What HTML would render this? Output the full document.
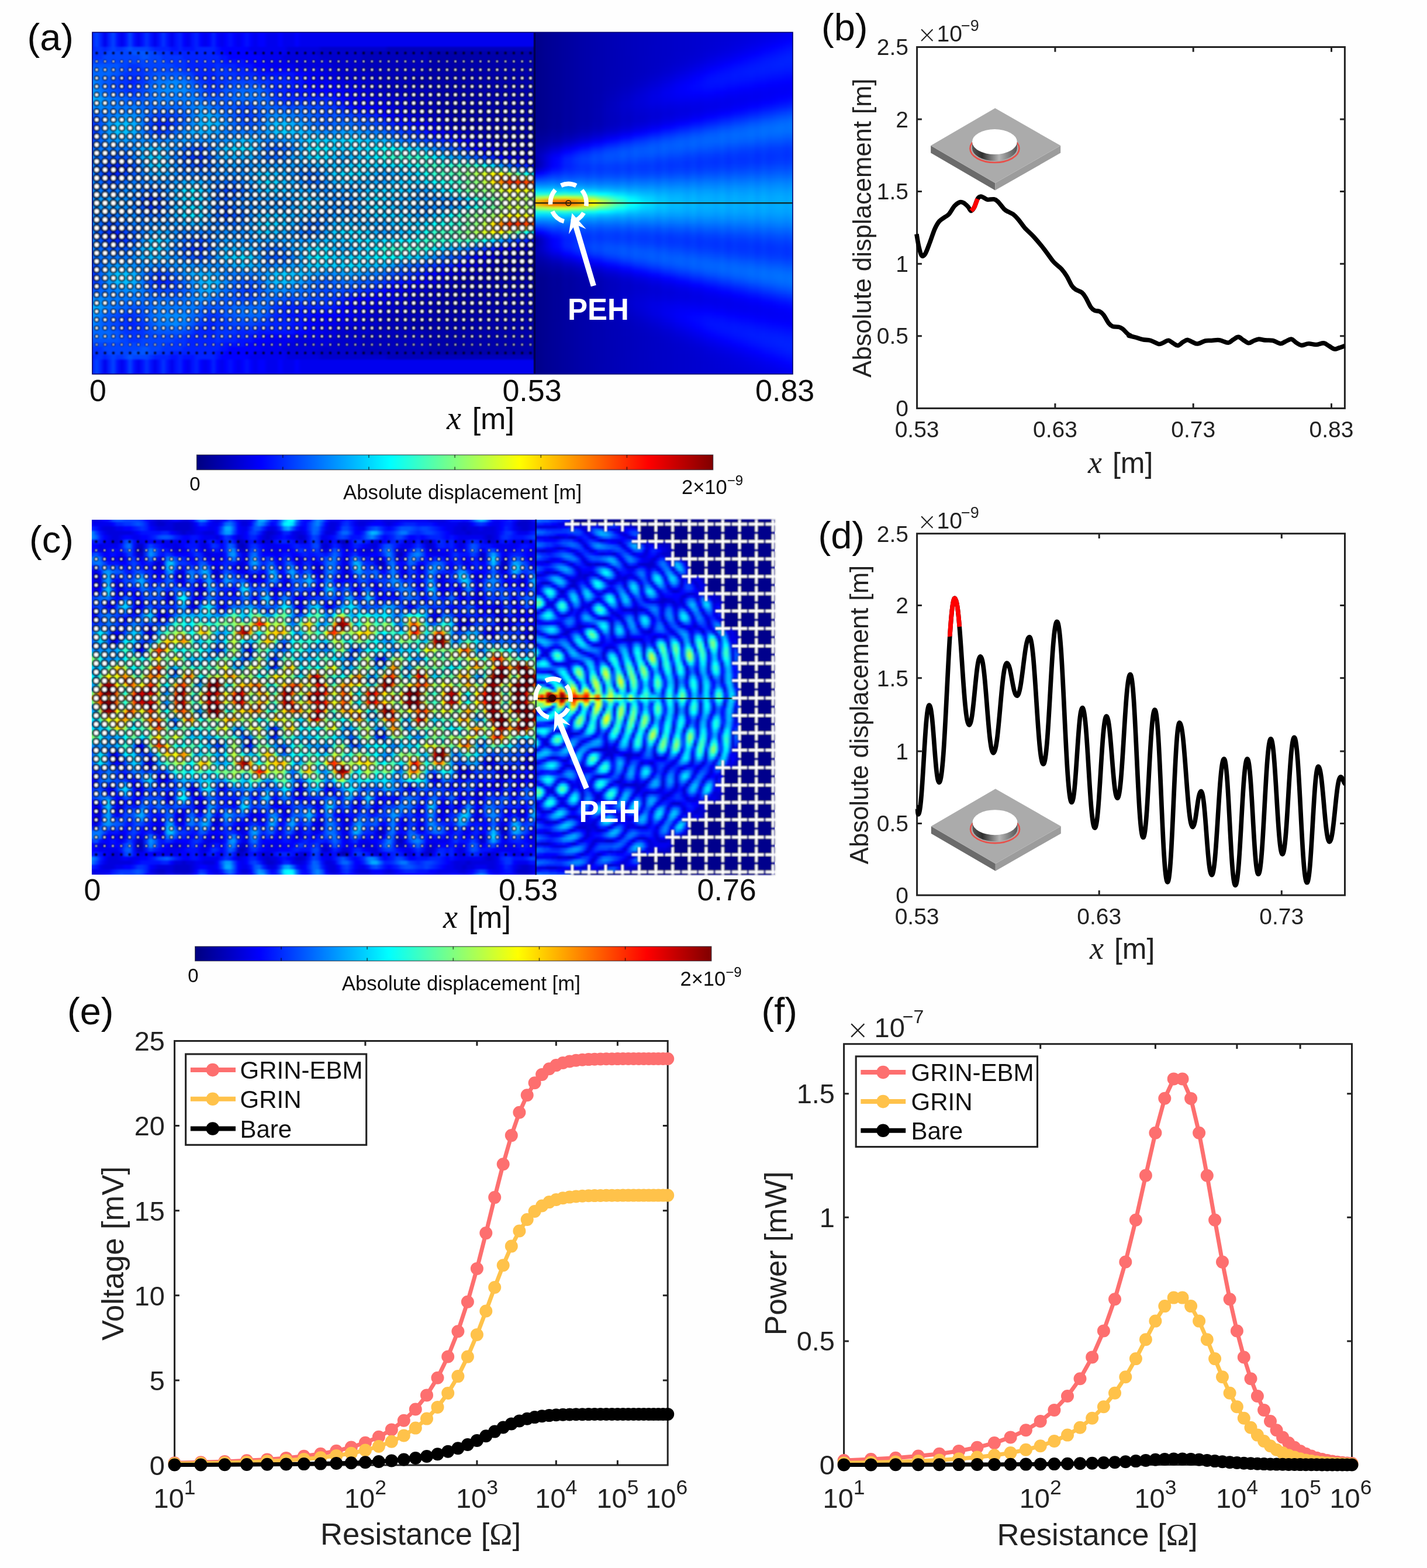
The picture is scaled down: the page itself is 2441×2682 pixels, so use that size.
<!DOCTYPE html><html><head><meta charset="utf-8"><title>Figure</title><style>
html,body{margin:0;padding:0;background:#fff}
#pg{position:relative;width:2441px;height:2682px;overflow:hidden;background:#fefefe}
.hm{position:absolute;overflow:hidden}
.hm b{position:absolute;display:block}.hm i{display:block}
svg{position:absolute;left:0;top:0}
#hal{left:158.00px;top:55.30px;width:756.40px;height:584.50px}#hal b{left:-14.00px;top:-10.81px;width:784.85px;height:607.62px;filter:blur(1.6px)}#hal i{height:7.125px}
#har{left:914.40px;top:55.30px;width:441.60px;height:584.50px}#har b{left:-8.00px;top:-8.00px;width:460.00px;height:608.00px;filter:blur(2.0px)}#har i{height:6.000px}
#hcl{left:156.50px;top:888.60px;width:760.20px;height:607.80px}#hcl b{left:-13.45px;top:-10.43px;width:786.50px;height:633.98px;filter:blur(1.4px)}#hcl i{height:7.435px}
#hcr{left:916.70px;top:888.60px;width:407.90px;height:607.80px}#hcr b{left:-8.00px;top:-8.00px;width:427.80px;height:627.60px;filter:blur(1.6px)}#hcr i{height:4.600px}
</style></head><body><div id="pg">
<div class="hm" id="hal"><b><i style="background:linear-gradient(90deg,#02f,#02f,#02f,#04f,#02f,#00e,#02f,#04f,#01f,#00e,#01f,#04f,#01f,#00e,#01f,#03f,#01f,#00e,#01f,#03f,#01f,#00e,#01f,#02f,#00f,#00e,#01f,#02f,#00f,#00e,#00f,#02f,#00f,#00e,#00f,#01f,#00f,#00e,#00f,#01f,#00f,#00e,#00f,#00f,#00e,#00e,#00e,#00f,#00e,#00e,#00e,#00f,#00e,#00e,#00e,#00e,#00e,#00e,#00e,#00e,#00e,#00e,#00e,#00e,#00e,#00e,#00e,#00e,#00e,#00e,#00e,#00e,#00e,#00e,#00e,#00e,#00e,#00e,#00e,#00e,#00e,#00e,#00e,#00e,#00e,#00e,#00e,#00e,#00e,#00e,#00e,#00e,#00e,#00e,#00e,#00e,#00e,#00e,#00e,#00e,#00e,#00e,#00e,#00e,#00e,#00e,#00e,#00e,#00e,#00e,#00e)"></i><i style="background:linear-gradient(90deg,#02f,#02f,#02f,#04f,#02f,#00e,#02f,#04f,#01f,#00e,#01f,#04f,#01f,#00e,#01f,#03f,#01f,#00e,#01f,#03f,#01f,#00e,#01f,#02f,#00f,#00e,#01f,#02f,#00f,#00e,#00f,#02f,#00f,#00e,#00f,#01f,#00f,#00e,#00f,#01f,#00f,#00e,#00f,#00f,#00e,#00e,#00e,#00f,#00e,#00e,#00e,#00f,#00e,#00e,#00e,#00e,#00e,#00e,#00e,#00e,#00e,#00e,#00e,#00e,#00e,#00e,#00e,#00e,#00e,#00e,#00e,#00e,#00e,#00e,#00e,#00e,#00e,#00e,#00e,#00e,#00e,#00e,#00e,#00e,#00e,#00e,#00e,#00e,#00e,#00e,#00e,#00e,#00e,#00e,#00e,#00e,#00e,#00e,#00e,#00e,#00e,#00e,#00e,#00e,#00e,#00e,#00e,#00e,#00e,#00e,#00e)"></i><i style="background:linear-gradient(90deg,#02f,#02f,#02f,#04f,#02f,#00e,#02f,#04f,#01f,#00e,#01f,#04f,#01f,#00e,#01f,#03f,#01f,#00e,#01f,#03f,#01f,#00e,#01f,#02f,#00f,#00e,#01f,#02f,#00f,#00e,#00f,#02f,#00f,#00e,#00f,#01f,#00f,#00e,#00f,#01f,#00f,#00e,#00f,#00f,#00e,#00e,#00e,#00f,#00e,#00e,#00e,#00f,#00e,#00e,#00e,#00e,#00e,#00e,#00e,#00e,#00e,#00e,#00e,#00e,#00e,#00e,#00e,#00e,#00e,#00e,#00e,#00e,#00e,#00e,#00e,#00e,#00e,#00e,#00e,#00e,#00e,#00e,#00e,#00e,#00e,#00e,#00e,#00e,#00e,#00e,#00e,#00e,#00e,#00e,#00e,#00e,#00e,#00e,#00e,#00e,#00e,#00e,#00e,#00e,#00e,#00e,#00e,#00e,#00e,#00e,#00e)"></i><i style="background:linear-gradient(90deg,#02f,#02f,#02f,#04f,#02f,#00e,#02f,#04f,#01f,#00e,#01f,#04f,#01f,#00e,#01f,#03f,#01f,#00e,#01f,#03f,#01f,#00e,#01f,#02f,#00f,#00e,#01f,#02f,#00f,#00e,#00f,#02f,#00f,#00e,#00f,#01f,#00f,#00e,#00f,#01f,#00f,#00e,#00f,#00f,#00e,#00e,#00e,#00f,#00e,#00e,#00e,#00f,#00e,#00e,#00e,#00e,#00e,#00e,#00e,#00e,#00e,#00e,#00e,#00e,#00e,#00e,#00e,#00e,#00e,#00e,#00e,#00e,#00e,#00e,#00e,#00e,#00e,#00e,#00e,#00e,#00e,#00e,#00e,#00e,#00e,#00e,#00e,#00e,#00e,#00e,#00e,#00e,#00e,#00e,#00e,#00e,#00e,#00e,#00e,#00e,#00e,#00e,#00e,#00e,#00e,#00e,#00e,#00e,#00e,#00e,#00e)"></i><i style="background:linear-gradient(90deg,#02f,#02f,#02f,#04f,#02f,#00e,#02f,#04f,#01f,#00e,#01f,#04f,#01f,#00e,#01f,#03f,#01f,#00e,#01f,#03f,#01f,#00e,#01f,#02f,#00f,#00e,#01f,#02f,#00f,#00e,#00f,#02f,#00f,#00e,#00f,#01f,#00f,#00e,#00f,#01f,#00f,#00e,#00f,#00f,#00e,#00e,#00e,#00f,#00e,#00e,#00e,#00f,#00e,#00e,#00e,#00e,#00e,#00e,#00e,#00e,#00e,#00e,#00e,#00e,#00e,#00e,#00e,#00e,#00e,#00e,#00e,#00e,#00e,#00e,#00e,#00e,#00e,#00e,#00e,#00e,#00e,#00e,#00e,#00e,#00e,#00e,#00e,#00e,#00e,#00e,#00e,#00e,#00e,#00e,#00e,#00e,#00e,#00e,#00e,#00e,#00e,#00e,#00e,#00e,#00e,#00e,#00e,#00e,#00e,#00e,#00e)"></i><i style="background:linear-gradient(90deg,#02f,#02f,#02f,#03f,#03f,#02f,#03f,#04f,#03f,#03f,#04f,#05f,#04f,#04f,#04f,#04f,#03f,#02f,#02f,#02f,#02f,#01f,#01f,#02f,#01f,#01f,#01f,#02f,#02f,#02f,#02f,#02f,#01f,#00f,#00f,#00f,#00f,#00f,#00f,#00f,#00e,#00e,#00e,#00e,#00e,#00e,#00e,#00e,#00e,#00d,#00d,#00d,#00d,#00d,#00d,#00d,#00d,#00c,#00c,#00c,#00c,#00c,#00c,#00c,#00c,#00c,#00c,#00c,#00c,#00c,#00c,#00c,#00c,#00b,#00b,#00b,#00b,#00b,#00b,#00b,#00b,#00b,#00b,#00b,#00b,#00b,#00b,#00b,#00b,#00b,#00b,#00b,#00b,#00b,#00b,#00b,#00b,#00b,#00b,#00b,#00b,#00b,#00b,#00b,#00b,#00b,#00b,#00b,#00a,#00a,#00a)"></i><i style="background:linear-gradient(90deg,#03f,#03f,#03f,#03f,#03f,#03f,#04f,#04f,#04f,#04f,#04f,#04f,#05f,#05f,#05f,#05f,#04f,#04f,#03f,#03f,#03f,#02f,#02f,#02f,#02f,#02f,#02f,#02f,#02f,#02f,#02f,#02f,#01f,#01f,#00f,#00f,#00f,#00f,#00f,#00f,#00f,#00e,#00e,#00e,#00e,#00e,#00e,#00e,#00e,#00d,#00d,#00d,#00d,#00d,#00d,#00d,#00c,#00c,#00c,#00c,#00c,#00c,#00c,#00c,#00c,#00c,#00c,#00b,#00b,#00b,#00b,#00b,#00b,#00b,#00b,#00b,#00b,#00b,#00b,#00b,#00b,#00b,#00b,#00a,#00a,#00a,#00a,#00a,#00a,#00a,#00a,#00a,#00a,#00a,#00a,#00a,#00a,#00a,#00a,#00a,#00a,#00a,#00a,#00a,#00a,#00a,#00a,#00a,#00a,#00a,#00a)"></i><i style="background:linear-gradient(90deg,#03f,#03f,#03f,#03f,#03f,#04f,#04f,#04f,#04f,#04f,#04f,#04f,#04f,#04f,#05f,#05f,#04f,#04f,#04f,#03f,#03f,#03f,#03f,#03f,#02f,#02f,#02f,#02f,#02f,#02f,#02f,#02f,#02f,#01f,#01f,#00f,#00f,#00f,#00f,#00f,#00f,#00f,#00f,#00e,#00e,#00e,#00e,#00e,#00d,#00d,#00d,#00d,#00d,#00d,#00d,#00d,#00d,#00c,#00c,#00c,#00c,#00c,#00c,#00c,#00c,#00c,#00c,#00b,#00b,#00b,#00b,#00b,#00b,#00b,#00b,#00b,#00b,#00b,#00b,#00b,#00b,#00b,#00b,#00a,#00a,#00a,#00a,#00a,#00a,#00a,#00a,#00a,#00a,#00a,#00a,#00a,#00a,#00a,#00a,#00a,#00a,#00a,#00a,#00a,#00a,#00a,#00a,#00a,#00a,#00a,#00a)"></i><i style="background:linear-gradient(90deg,#04f,#04f,#04f,#04f,#04f,#04f,#04f,#04f,#04f,#04f,#04f,#04f,#04f,#04f,#04f,#04f,#04f,#04f,#04f,#04f,#03f,#03f,#03f,#03f,#03f,#02f,#02f,#02f,#02f,#02f,#02f,#02f,#02f,#02f,#01f,#01f,#01f,#01f,#01f,#00f,#00f,#00f,#00f,#00e,#00e,#00e,#00e,#00e,#00e,#00d,#00d,#00d,#00d,#00d,#00d,#00d,#00d,#00d,#00d,#00c,#00c,#00c,#00c,#00c,#00c,#00c,#00c,#00b,#00b,#00b,#00b,#00b,#00b,#00b,#00b,#00b,#00b,#00b,#00b,#00b,#00b,#00b,#00b,#00a,#00a,#00a,#00a,#00a,#00a,#00a,#00a,#00a,#00a,#00a,#00a,#00a,#00a,#00a,#00a,#00a,#00a,#00a,#00a,#00a,#00a,#00a,#00a,#00a,#00a,#00a,#00a)"></i><i style="background:linear-gradient(90deg,#05f,#05f,#05f,#05f,#05f,#05f,#05f,#05f,#05f,#04f,#04f,#03f,#03f,#03f,#04f,#04f,#04f,#04f,#04f,#04f,#04f,#04f,#03f,#03f,#03f,#02f,#02f,#02f,#02f,#02f,#02f,#02f,#03f,#02f,#02f,#02f,#02f,#01f,#01f,#01f,#01f,#00f,#00f,#00f,#00f,#00e,#00e,#00e,#00e,#00e,#00e,#00d,#00d,#00d,#00d,#00d,#00d,#00d,#00d,#00d,#00c,#00c,#00c,#00c,#00c,#00c,#00c,#00b,#00b,#00b,#00b,#00b,#00b,#00b,#00b,#00b,#00b,#00b,#00b,#00b,#00b,#00b,#00b,#00a,#00a,#00a,#00a,#00a,#00a,#00a,#00a,#00a,#00a,#00a,#00a,#00a,#00a,#00a,#00a,#00a,#00a,#00a,#00a,#00a,#00a,#00a,#00a,#00a,#00a,#00a,#00a)"></i><i style="background:linear-gradient(90deg,#06f,#06f,#06f,#06f,#06f,#06f,#06f,#05f,#05f,#04f,#04f,#03f,#03f,#03f,#03f,#04f,#04f,#04f,#04f,#04f,#04f,#04f,#04f,#04f,#03f,#03f,#02f,#02f,#02f,#02f,#02f,#02f,#03f,#03f,#03f,#02f,#02f,#02f,#02f,#02f,#01f,#01f,#01f,#00f,#00f,#00f,#00f,#00f,#00f,#00f,#00e,#00e,#00e,#00e,#00e,#00e,#00e,#00d,#00d,#00d,#00d,#00c,#00c,#00c,#00c,#00c,#00c,#00b,#00b,#00b,#00b,#00b,#00b,#00b,#00b,#00b,#00b,#00b,#00b,#00b,#00b,#00b,#00a,#00a,#00a,#00a,#00a,#00a,#00a,#00a,#00a,#00a,#00a,#00a,#00a,#00a,#00a,#00a,#00a,#00a,#00a,#00a,#00a,#00a,#00a,#00a,#00a,#00a,#00a,#00a,#00a)"></i><i style="background:linear-gradient(90deg,#06f,#06f,#06f,#06f,#06f,#06f,#06f,#05f,#05f,#04f,#03f,#03f,#03f,#03f,#03f,#04f,#04f,#05f,#05f,#05f,#05f,#05f,#05f,#05f,#04f,#04f,#03f,#02f,#02f,#02f,#02f,#02f,#03f,#03f,#03f,#03f,#03f,#02f,#02f,#02f,#02f,#02f,#01f,#01f,#01f,#01f,#01f,#01f,#01f,#01f,#01f,#00f,#00f,#00f,#00e,#00e,#00e,#00e,#00d,#00d,#00d,#00c,#00c,#00c,#00c,#00c,#00c,#00c,#00c,#00b,#00b,#00b,#00b,#00b,#00b,#00b,#00b,#00b,#00b,#00b,#00b,#00b,#00a,#00a,#00a,#00a,#00a,#00a,#00a,#00a,#00a,#00a,#00a,#00a,#00a,#00a,#00a,#00a,#00a,#00a,#00a,#00a,#00a,#00a,#00a,#00a,#00a,#00a,#00a,#00a,#00a)"></i><i style="background:linear-gradient(90deg,#07f,#07f,#07f,#07f,#06f,#06f,#05f,#05f,#04f,#03f,#03f,#03f,#02f,#03f,#03f,#04f,#05f,#05f,#06f,#06f,#06f,#06f,#06f,#06f,#06f,#05f,#04f,#03f,#02f,#02f,#02f,#02f,#03f,#03f,#03f,#03f,#03f,#03f,#03f,#03f,#03f,#03f,#02f,#02f,#02f,#02f,#02f,#02f,#02f,#01f,#01f,#01f,#01f,#00f,#00f,#00e,#00e,#00e,#00e,#00d,#00d,#00d,#00d,#00c,#00c,#00c,#00c,#00c,#00c,#00c,#00b,#00b,#00b,#00b,#00b,#00b,#00b,#00b,#00b,#00a,#00a,#00a,#00a,#00a,#00a,#00a,#00a,#00a,#00a,#00a,#00a,#00a,#00a,#00a,#00a,#00a,#00a,#00a,#00a,#00a,#00a,#00a,#00a,#00a,#00a,#00a,#00a,#00a,#00a,#00a,#00a)"></i><i style="background:linear-gradient(90deg,#08f,#08f,#08f,#07f,#06f,#05f,#05f,#04f,#04f,#03f,#03f,#02f,#02f,#03f,#03f,#04f,#05f,#06f,#07f,#07f,#07f,#08f,#08f,#07f,#07f,#06f,#05f,#04f,#03f,#03f,#02f,#02f,#03f,#03f,#03f,#04f,#04f,#04f,#04f,#04f,#04f,#04f,#03f,#03f,#03f,#02f,#02f,#02f,#02f,#02f,#01f,#01f,#01f,#00f,#00f,#00f,#00e,#00e,#00e,#00e,#00e,#00d,#00d,#00d,#00d,#00d,#00d,#00c,#00c,#00c,#00c,#00b,#00b,#00b,#00b,#00b,#00b,#00b,#00b,#00a,#00a,#00a,#00a,#00a,#00a,#00a,#00a,#00a,#00a,#00a,#00a,#00a,#00a,#00a,#00a,#00a,#00a,#00a,#00a,#00a,#00a,#00a,#00a,#00a,#00a,#00a,#00a,#00a,#00a,#00a,#00a)"></i><i style="background:linear-gradient(90deg,#08f,#08f,#08f,#08f,#06f,#06f,#05f,#04f,#04f,#03f,#03f,#03f,#03f,#03f,#04f,#05f,#06f,#07f,#07f,#08f,#08f,#08f,#08f,#08f,#08f,#07f,#06f,#05f,#04f,#03f,#03f,#03f,#03f,#03f,#04f,#04f,#05f,#05f,#05f,#05f,#05f,#05f,#05f,#04f,#03f,#03f,#02f,#02f,#02f,#02f,#02f,#01f,#01f,#01f,#00f,#00f,#00f,#00f,#00f,#00f,#00e,#00e,#00e,#00e,#00d,#00d,#00d,#00d,#00c,#00c,#00c,#00b,#00b,#00b,#00b,#00b,#00b,#00b,#00b,#00b,#00b,#00a,#00a,#00a,#00a,#00a,#00a,#00a,#00a,#00a,#00a,#00a,#00a,#00a,#00a,#00a,#00a,#00a,#00a,#00a,#00a,#00a,#00a,#00a,#00a,#00a,#00a,#00a,#00a,#00a,#00a)"></i><i style="background:linear-gradient(90deg,#09f,#09f,#09f,#08f,#07f,#06f,#05f,#05f,#04f,#04f,#03f,#03f,#03f,#04f,#04f,#05f,#06f,#07f,#07f,#08f,#08f,#08f,#08f,#08f,#08f,#07f,#06f,#06f,#05f,#04f,#03f,#03f,#03f,#04f,#05f,#05f,#05f,#06f,#06f,#06f,#06f,#06f,#06f,#05f,#04f,#03f,#02f,#02f,#02f,#01f,#01f,#01f,#01f,#01f,#01f,#00f,#00f,#00f,#00f,#00f,#00f,#00f,#00e,#00e,#00e,#00e,#00d,#00d,#00d,#00c,#00c,#00c,#00b,#00b,#00b,#00b,#00b,#00b,#00b,#00b,#00b,#00b,#00b,#00b,#00a,#00a,#00a,#00a,#00a,#00a,#00a,#00a,#00a,#00a,#00a,#00a,#00a,#00a,#00a,#00a,#00a,#00a,#00a,#00a,#00a,#00a,#00a,#00a,#00a,#00a,#00a)"></i><i style="background:linear-gradient(90deg,#0af,#0af,#0af,#09f,#08f,#07f,#06f,#06f,#05f,#05f,#05f,#04f,#04f,#04f,#05f,#05f,#06f,#07f,#07f,#07f,#07f,#07f,#07f,#07f,#07f,#07f,#07f,#06f,#05f,#05f,#04f,#04f,#04f,#04f,#05f,#06f,#06f,#06f,#07f,#07f,#07f,#07f,#06f,#06f,#05f,#04f,#03f,#02f,#02f,#02f,#02f,#02f,#01f,#01f,#01f,#01f,#01f,#01f,#01f,#01f,#01f,#00f,#00f,#00f,#00e,#00e,#00e,#00d,#00d,#00d,#00c,#00c,#00c,#00c,#00c,#00c,#00c,#00b,#00b,#00b,#00b,#00b,#00b,#00b,#00a,#00a,#00a,#00a,#00a,#00a,#00a,#00a,#00a,#00a,#00a,#00a,#00a,#00a,#00a,#00a,#00a,#00a,#00a,#00a,#00a,#00a,#00a,#00a,#00a,#00a,#00a)"></i><i style="background:linear-gradient(90deg,#0af,#0af,#0af,#0af,#09f,#08f,#07f,#07f,#06f,#06f,#06f,#05f,#05f,#05f,#05f,#06f,#06f,#07f,#07f,#07f,#07f,#07f,#07f,#07f,#07f,#07f,#07f,#07f,#06f,#05f,#05f,#05f,#05f,#05f,#05f,#05f,#06f,#06f,#06f,#06f,#06f,#06f,#06f,#06f,#05f,#04f,#03f,#03f,#02f,#02f,#02f,#02f,#02f,#02f,#02f,#02f,#02f,#02f,#02f,#02f,#01f,#01f,#00f,#00f,#00e,#00e,#00e,#00e,#00e,#00d,#00d,#00d,#00c,#00c,#00c,#00c,#00c,#00c,#00c,#00b,#00b,#00b,#00b,#00b,#00a,#00a,#00a,#00a,#00a,#00a,#00a,#00a,#00a,#00a,#00a,#00a,#00a,#00a,#00a,#00a,#00a,#00a,#00a,#00a,#00a,#00a,#00a,#00a,#00a,#00a,#00a)"></i><i style="background:linear-gradient(90deg,#09f,#09f,#09f,#09f,#09f,#08f,#07f,#07f,#07f,#06f,#06f,#06f,#06f,#06f,#06f,#06f,#06f,#07f,#07f,#07f,#07f,#07f,#06f,#06f,#07f,#07f,#07f,#07f,#07f,#06f,#06f,#05f,#05f,#05f,#05f,#05f,#05f,#05f,#05f,#05f,#05f,#06f,#06f,#06f,#06f,#05f,#04f,#04f,#03f,#03f,#03f,#03f,#03f,#03f,#03f,#03f,#03f,#03f,#03f,#03f,#02f,#02f,#01f,#00f,#00f,#00f,#00e,#00e,#00e,#00e,#00e,#00d,#00d,#00d,#00d,#00c,#00c,#00c,#00c,#00b,#00b,#00b,#00b,#00b,#00a,#00a,#00a,#00a,#00a,#00a,#00a,#00a,#00a,#00a,#00a,#00a,#00a,#00a,#00a,#00a,#00a,#00a,#00a,#00a,#00a,#00a,#00a,#00a,#00a,#00a,#00a)"></i><i style="background:linear-gradient(90deg,#08f,#08f,#08f,#08f,#08f,#08f,#07f,#07f,#07f,#07f,#07f,#07f,#07f,#07f,#06f,#06f,#06f,#06f,#06f,#06f,#06f,#06f,#06f,#06f,#06f,#07f,#07f,#08f,#08f,#08f,#07f,#06f,#06f,#05f,#05f,#05f,#05f,#04f,#04f,#04f,#04f,#05f,#05f,#06f,#06f,#06f,#05f,#05f,#05f,#04f,#04f,#05f,#05f,#05f,#04f,#04f,#04f,#04f,#03f,#03f,#03f,#02f,#02f,#01f,#01f,#00f,#00f,#00f,#00f,#00f,#00e,#00e,#00e,#00d,#00d,#00d,#00d,#00c,#00c,#00c,#00b,#00b,#00b,#00b,#00b,#00a,#00a,#00a,#00a,#00a,#00a,#00a,#00a,#00a,#00a,#00a,#00a,#00a,#00a,#00a,#00a,#00a,#00a,#00a,#00a,#00a,#00a,#00a,#00a,#00a,#00a)"></i><i style="background:linear-gradient(90deg,#07f,#07f,#07f,#07f,#07f,#07f,#07f,#07f,#07f,#07f,#07f,#07f,#07f,#07f,#07f,#06f,#06f,#05f,#05f,#05f,#05f,#05f,#05f,#05f,#06f,#07f,#07f,#08f,#09f,#09f,#08f,#08f,#07f,#06f,#06f,#05f,#05f,#04f,#04f,#04f,#04f,#04f,#05f,#06f,#06f,#07f,#07f,#06f,#06f,#06f,#06f,#06f,#06f,#05f,#05f,#05f,#04f,#04f,#04f,#04f,#04f,#04f,#03f,#03f,#02f,#02f,#01f,#01f,#01f,#01f,#00f,#00f,#00e,#00e,#00e,#00d,#00d,#00d,#00c,#00c,#00c,#00b,#00b,#00b,#00b,#00b,#00b,#00a,#00a,#00a,#00a,#00a,#00a,#00a,#00a,#00a,#00a,#00a,#00a,#00a,#00a,#00a,#00a,#00a,#00a,#00a,#00a,#00a,#00a,#00a,#00a)"></i><i style="background:linear-gradient(90deg,#05f,#05f,#05f,#05f,#06f,#06f,#07f,#07f,#08f,#08f,#08f,#09f,#08f,#08f,#07f,#06f,#05f,#04f,#04f,#04f,#04f,#04f,#04f,#05f,#05f,#06f,#07f,#08f,#09f,#0af,#0af,#09f,#08f,#07f,#06f,#06f,#05f,#04f,#04f,#03f,#04f,#04f,#05f,#06f,#07f,#08f,#08f,#08f,#08f,#07f,#07f,#07f,#06f,#06f,#06f,#05f,#05f,#04f,#04f,#04f,#05f,#05f,#04f,#04f,#04f,#03f,#03f,#03f,#02f,#02f,#02f,#01f,#00f,#00f,#00e,#00e,#00e,#00d,#00d,#00d,#00c,#00c,#00c,#00b,#00b,#00b,#00b,#00b,#00a,#00a,#00a,#00a,#00a,#00a,#00a,#00a,#00a,#00a,#00a,#00a,#00a,#00a,#00a,#00a,#00a,#00a,#00a,#00a,#00a,#00a,#00a)"></i><i style="background:linear-gradient(90deg,#04f,#04f,#04f,#04f,#05f,#07f,#08f,#08f,#09f,#0af,#0af,#0af,#09f,#08f,#07f,#05f,#04f,#03f,#03f,#03f,#03f,#03f,#04f,#04f,#05f,#07f,#08f,#09f,#0af,#0bf,#0bf,#0af,#09f,#08f,#07f,#06f,#05f,#05f,#04f,#04f,#04f,#04f,#05f,#06f,#08f,#09f,#09f,#0af,#09f,#09f,#08f,#08f,#07f,#07f,#06f,#06f,#05f,#05f,#05f,#05f,#05f,#05f,#05f,#05f,#05f,#05f,#04f,#04f,#04f,#03f,#03f,#02f,#02f,#01f,#00f,#00f,#00f,#00e,#00e,#00e,#00d,#00d,#00d,#00c,#00c,#00c,#00b,#00b,#00b,#00a,#00a,#00a,#00a,#00a,#00a,#00a,#00a,#00a,#00a,#00a,#00a,#00a,#00a,#00a,#00a,#00a,#00a,#00a,#00a,#00a,#00a)"></i><i style="background:linear-gradient(90deg,#03f,#03f,#03f,#04f,#05f,#07f,#09f,#0af,#0bf,#0bf,#0bf,#0bf,#0af,#09f,#07f,#05f,#04f,#03f,#02f,#02f,#02f,#03f,#04f,#05f,#06f,#07f,#08f,#09f,#0af,#0bf,#0bf,#0bf,#0af,#09f,#08f,#07f,#06f,#05f,#05f,#04f,#05f,#05f,#06f,#07f,#09f,#0af,#0bf,#0bf,#0bf,#0bf,#0af,#09f,#09f,#08f,#07f,#06f,#06f,#05f,#05f,#05f,#06f,#06f,#06f,#07f,#06f,#06f,#05f,#05f,#05f,#05f,#04f,#04f,#03f,#02f,#02f,#01f,#01f,#01f,#01f,#00f,#00f,#00e,#00e,#00d,#00d,#00c,#00c,#00b,#00b,#00b,#00a,#00a,#00a,#00a,#00a,#00a,#00a,#00a,#00a,#00a,#00a,#00a,#00a,#00a,#00a,#00a,#00a,#00a,#00a,#00a,#00a)"></i><i style="background:linear-gradient(90deg,#02f,#02f,#02f,#04f,#06f,#08f,#09f,#0bf,#0cf,#0cf,#0cf,#0cf,#0bf,#09f,#07f,#05f,#04f,#03f,#02f,#02f,#03f,#04f,#05f,#06f,#07f,#08f,#09f,#0af,#0bf,#0bf,#0bf,#0af,#09f,#08f,#07f,#07f,#06f,#06f,#06f,#06f,#06f,#06f,#07f,#08f,#09f,#0bf,#0cf,#0cf,#0cf,#0cf,#0bf,#0af,#0af,#09f,#08f,#08f,#07f,#06f,#06f,#06f,#07f,#07f,#08f,#08f,#08f,#07f,#07f,#06f,#06f,#06f,#06f,#05f,#04f,#04f,#03f,#03f,#02f,#02f,#02f,#02f,#01f,#00f,#00f,#00e,#00e,#00d,#00d,#00c,#00c,#00b,#00b,#00b,#00a,#00a,#00a,#00a,#00a,#00a,#00a,#00a,#00a,#00a,#00a,#00a,#00a,#00a,#00a,#00a,#00a,#00a,#00a)"></i><i style="background:linear-gradient(90deg,#03f,#03f,#03f,#04f,#06f,#08f,#09f,#0bf,#0bf,#0cf,#0bf,#0bf,#0af,#09f,#07f,#06f,#05f,#04f,#03f,#04f,#04f,#05f,#06f,#07f,#08f,#09f,#0af,#0af,#0af,#0af,#0af,#09f,#09f,#08f,#07f,#07f,#07f,#07f,#07f,#07f,#07f,#07f,#08f,#08f,#09f,#0af,#0bf,#0cf,#0cf,#0cf,#0bf,#0bf,#0bf,#0af,#0af,#09f,#09f,#08f,#08f,#08f,#08f,#09f,#09f,#0af,#09f,#09f,#09f,#08f,#08f,#07f,#07f,#07f,#06f,#05f,#05f,#04f,#04f,#03f,#03f,#03f,#02f,#02f,#01f,#00f,#00f,#00e,#00e,#00e,#00d,#00d,#00c,#00c,#00b,#00b,#00b,#00b,#00a,#00a,#00a,#00a,#00a,#00a,#00a,#00a,#00a,#00a,#00a,#00a,#00a,#00a,#00a)"></i><i style="background:linear-gradient(90deg,#03f,#03f,#03f,#04f,#06f,#08f,#09f,#0af,#0af,#0af,#0af,#0af,#09f,#09f,#08f,#07f,#06f,#05f,#05f,#05f,#06f,#07f,#08f,#08f,#09f,#09f,#09f,#09f,#09f,#09f,#09f,#09f,#08f,#08f,#08f,#08f,#08f,#08f,#09f,#09f,#09f,#08f,#08f,#08f,#09f,#09f,#0af,#0af,#0af,#0bf,#0af,#0af,#0bf,#0bf,#0bf,#0bf,#0bf,#0af,#0af,#0af,#0af,#0af,#0bf,#0bf,#0bf,#0bf,#0bf,#0af,#09f,#09f,#09f,#09f,#08f,#07f,#06f,#06f,#05f,#04f,#04f,#04f,#03f,#03f,#02f,#02f,#01f,#01f,#00f,#00f,#00f,#00e,#00d,#00d,#00c,#00c,#00c,#00b,#00b,#00b,#00a,#00a,#00a,#00a,#00a,#00a,#00a,#00a,#00a,#00a,#00a,#00a,#00a)"></i><i style="background:linear-gradient(90deg,#04f,#04f,#04f,#05f,#06f,#07f,#08f,#09f,#09f,#09f,#09f,#09f,#08f,#08f,#08f,#08f,#08f,#07f,#07f,#07f,#08f,#08f,#08f,#08f,#09f,#09f,#08f,#08f,#08f,#08f,#08f,#08f,#08f,#08f,#08f,#09f,#0af,#0af,#0bf,#0bf,#0af,#0af,#09f,#08f,#07f,#07f,#08f,#08f,#08f,#09f,#09f,#09f,#0af,#0bf,#0cf,#0cf,#0cf,#0cf,#0cf,#0cf,#0cf,#0cf,#0cf,#0df,#0df,#0df,#0cf,#0cf,#0bf,#0bf,#0bf,#0bf,#0af,#0af,#09f,#08f,#07f,#06f,#06f,#05f,#05f,#04f,#04f,#03f,#03f,#03f,#02f,#02f,#02f,#01f,#00f,#00f,#00e,#00d,#00d,#00c,#00c,#00b,#00b,#00a,#00a,#00a,#00a,#00a,#00a,#00a,#00a,#00a,#00a,#00a,#00a)"></i><i style="background:linear-gradient(90deg,#05f,#05f,#05f,#06f,#06f,#07f,#08f,#08f,#08f,#08f,#08f,#08f,#08f,#09f,#09f,#09f,#09f,#09f,#09f,#09f,#09f,#09f,#09f,#08f,#08f,#07f,#06f,#06f,#06f,#06f,#07f,#08f,#08f,#09f,#0af,#0bf,#0bf,#0cf,#0cf,#0cf,#0bf,#0af,#09f,#07f,#06f,#06f,#06f,#06f,#06f,#07f,#08f,#09f,#0af,#0bf,#0cf,#0df,#0ef,#0ef,#0df,#0df,#0df,#0cf,#0df,#0df,#0df,#0df,#0df,#0df,#0df,#0df,#0df,#0df,#0df,#0df,#0cf,#0bf,#0af,#09f,#09f,#08f,#08f,#07f,#06f,#06f,#05f,#05f,#04f,#04f,#04f,#03f,#02f,#01f,#00f,#00f,#00e,#00d,#00d,#00c,#00c,#00b,#00b,#00a,#00a,#00a,#00a,#00a,#00a,#00a,#00a,#00a,#00a)"></i><i style="background:linear-gradient(90deg,#06f,#06f,#06f,#07f,#07f,#07f,#07f,#07f,#07f,#07f,#07f,#07f,#08f,#09f,#0af,#0af,#0bf,#0bf,#0af,#0af,#09f,#08f,#08f,#07f,#06f,#05f,#05f,#04f,#04f,#05f,#06f,#07f,#09f,#0af,#0bf,#0cf,#0cf,#0df,#0df,#0df,#0cf,#0af,#09f,#07f,#06f,#05f,#05f,#05f,#06f,#06f,#07f,#09f,#0af,#0bf,#0df,#0ef,#0ef,#0ef,#0ef,#0df,#0cf,#0cf,#0cf,#0cf,#0df,#0df,#0df,#0df,#0df,#0ef,#0ef,#0ff,#0ff,#1fe,#0ff,#0ff,#0ef,#0df,#0df,#0cf,#0cf,#0bf,#0af,#09f,#08f,#07f,#06f,#06f,#05f,#05f,#04f,#03f,#02f,#01f,#00f,#00e,#00e,#00d,#00d,#00c,#00c,#00b,#00b,#00b,#00b,#00b,#00a,#00a,#00a,#00a,#00a)"></i><i style="background:linear-gradient(90deg,#07f,#07f,#07f,#07f,#07f,#07f,#06f,#06f,#06f,#06f,#06f,#07f,#07f,#09f,#0af,#0bf,#0cf,#0cf,#0bf,#0af,#09f,#08f,#07f,#06f,#05f,#04f,#04f,#03f,#04f,#04f,#06f,#07f,#09f,#0af,#0bf,#0bf,#0cf,#0cf,#0cf,#0cf,#0bf,#0af,#08f,#07f,#06f,#05f,#05f,#05f,#06f,#07f,#08f,#09f,#0af,#0cf,#0df,#0ef,#0ef,#0ef,#0ef,#0df,#0cf,#0bf,#0bf,#0bf,#0bf,#0cf,#0cf,#0df,#0df,#0ef,#0ff,#1fe,#2fd,#3fc,#3fc,#3fc,#2fd,#2fd,#1fe,#1fe,#1fe,#0ff,#0ef,#0cf,#0bf,#0af,#09f,#08f,#07f,#07f,#06f,#05f,#04f,#03f,#02f,#01f,#00f,#00f,#00e,#00e,#00d,#00d,#00c,#00c,#00b,#00b,#00b,#00b,#00a,#00a,#00a)"></i><i style="background:linear-gradient(90deg,#08f,#08f,#08f,#07f,#06f,#06f,#05f,#05f,#05f,#05f,#05f,#06f,#07f,#08f,#0af,#0bf,#0cf,#0cf,#0cf,#0bf,#09f,#08f,#07f,#06f,#05f,#04f,#03f,#03f,#03f,#04f,#05f,#07f,#08f,#0af,#0af,#0af,#0af,#0af,#0af,#0af,#0af,#09f,#08f,#07f,#06f,#06f,#06f,#06f,#07f,#08f,#09f,#0af,#0af,#0bf,#0cf,#0df,#0df,#0df,#0df,#0cf,#0bf,#0af,#0af,#0af,#0bf,#0bf,#0cf,#0cf,#0df,#0ef,#0ef,#0ff,#2fd,#3fc,#3fc,#3fc,#3fc,#3fc,#3fc,#3fc,#3fc,#3fc,#2fd,#1fe,#0ef,#0df,#0cf,#0bf,#0af,#0af,#09f,#08f,#07f,#06f,#05f,#04f,#03f,#03f,#02f,#01f,#00f,#00f,#00e,#00d,#00d,#00c,#00c,#00b,#00b,#00b,#00b)"></i><i style="background:linear-gradient(90deg,#08f,#08f,#08f,#07f,#06f,#05f,#04f,#04f,#04f,#04f,#04f,#05f,#06f,#07f,#09f,#0bf,#0cf,#0cf,#0cf,#0bf,#0af,#09f,#07f,#06f,#05f,#04f,#04f,#03f,#04f,#04f,#05f,#07f,#08f,#09f,#09f,#09f,#0af,#0af,#09f,#09f,#09f,#09f,#08f,#08f,#07f,#07f,#07f,#08f,#08f,#09f,#09f,#0af,#0af,#0af,#0bf,#0bf,#0cf,#0cf,#0cf,#0bf,#0bf,#0af,#0af,#0af,#0bf,#0cf,#0cf,#0df,#0df,#0df,#0ef,#0ef,#0ff,#1fe,#1fe,#2fd,#2fd,#2fd,#2fd,#2fd,#3fc,#3fc,#3fc,#3fc,#2fd,#1fe,#0ff,#0ef,#0ef,#0ef,#0ef,#0df,#0df,#0cf,#0af,#09f,#08f,#07f,#06f,#05f,#04f,#03f,#02f,#01f,#00f,#00e,#00d,#00d,#00c,#00c,#00c)"></i><i style="background:linear-gradient(90deg,#08f,#08f,#08f,#06f,#05f,#04f,#03f,#03f,#02f,#03f,#03f,#04f,#05f,#06f,#08f,#0af,#0bf,#0cf,#0cf,#0bf,#0af,#09f,#08f,#07f,#06f,#05f,#05f,#04f,#04f,#05f,#06f,#07f,#08f,#08f,#09f,#09f,#09f,#09f,#08f,#08f,#08f,#09f,#09f,#09f,#09f,#09f,#09f,#09f,#09f,#09f,#09f,#09f,#09f,#08f,#09f,#09f,#0af,#0af,#0bf,#0bf,#0bf,#0bf,#0bf,#0cf,#0cf,#0cf,#0df,#0df,#0df,#0df,#0cf,#0cf,#0df,#0df,#0df,#0ef,#0ef,#0ef,#0ef,#0ff,#1fe,#2fd,#3fc,#4fb,#4fb,#3fc,#3fc,#2fd,#3fc,#3fc,#4fb,#4fb,#4fb,#4fb,#3fc,#2fd,#1fe,#0ef,#0df,#0bf,#09f,#07f,#06f,#04f,#03f,#03f,#02f,#01f,#00f,#00f,#00f)"></i><i style="background:linear-gradient(90deg,#08f,#08f,#08f,#06f,#05f,#03f,#03f,#02f,#02f,#02f,#03f,#04f,#05f,#06f,#08f,#09f,#0af,#0bf,#0bf,#0bf,#0af,#09f,#08f,#07f,#06f,#06f,#06f,#06f,#06f,#06f,#06f,#07f,#08f,#08f,#09f,#08f,#08f,#08f,#08f,#08f,#09f,#09f,#0af,#0af,#0af,#0af,#0af,#0af,#0af,#09f,#09f,#08f,#07f,#07f,#07f,#07f,#08f,#09f,#0af,#0bf,#0cf,#0cf,#0cf,#0df,#0df,#0df,#0df,#0df,#0cf,#0cf,#0bf,#0bf,#0af,#0bf,#0bf,#0bf,#0cf,#0cf,#0cf,#0df,#0ef,#1fe,#2fd,#3fc,#4fb,#4fb,#4fb,#4fb,#4fb,#5fa,#6f9,#7f8,#8f7,#9f6,#9f6,#9f6,#9f6,#8f7,#7f8,#6f9,#4fb,#1fe,#0df,#0bf,#09f,#08f,#07f,#06f,#05f,#05f,#05f)"></i><i style="background:linear-gradient(90deg,#08f,#08f,#08f,#06f,#05f,#03f,#03f,#02f,#02f,#03f,#04f,#05f,#05f,#06f,#07f,#08f,#09f,#0af,#0af,#0af,#09f,#09f,#08f,#07f,#07f,#07f,#07f,#07f,#07f,#07f,#07f,#07f,#08f,#08f,#08f,#08f,#08f,#08f,#08f,#08f,#09f,#0af,#0bf,#0cf,#0cf,#0bf,#0bf,#0af,#0af,#09f,#08f,#08f,#07f,#06f,#06f,#06f,#07f,#08f,#09f,#0bf,#0cf,#0cf,#0df,#0df,#0df,#0df,#0df,#0cf,#0cf,#0bf,#0af,#09f,#09f,#09f,#0af,#0af,#0bf,#0bf,#0cf,#0cf,#0df,#0ef,#1fe,#2fd,#3fc,#4fb,#4fb,#4fb,#4fb,#5fa,#6f9,#7f8,#8f7,#9f6,#af5,#cf3,#df2,#ef1,#ff0,#fe0,#ff0,#df2,#bf4,#8f7,#5fa,#3fc,#1fe,#0ff,#0df,#0df,#0df)"></i><i style="background:linear-gradient(90deg,#08f,#08f,#08f,#06f,#05f,#04f,#03f,#03f,#04f,#04f,#05f,#06f,#06f,#07f,#07f,#08f,#08f,#09f,#09f,#09f,#09f,#08f,#08f,#08f,#08f,#08f,#08f,#08f,#08f,#08f,#08f,#07f,#07f,#08f,#08f,#07f,#07f,#07f,#08f,#08f,#09f,#0af,#0bf,#0cf,#0cf,#0cf,#0cf,#0bf,#0af,#0af,#09f,#08f,#07f,#06f,#06f,#06f,#06f,#07f,#09f,#0af,#0bf,#0cf,#0cf,#0cf,#0cf,#0cf,#0cf,#0bf,#0bf,#0af,#09f,#09f,#09f,#09f,#0af,#0af,#0bf,#0bf,#0cf,#0cf,#0df,#0ef,#0ff,#1fe,#2fd,#2fd,#3fc,#3fc,#3fc,#3fc,#4fb,#5fa,#7f8,#8f7,#9f6,#bf4,#df2,#ff0,#fc0,#f90,#f70,#f60,#f70,#f80,#fa0,#fc0,#fe0,#df2,#bf4,#bf4,#bf4)"></i><i style="background:linear-gradient(90deg,#08f,#08f,#08f,#07f,#06f,#05f,#04f,#04f,#05f,#06f,#06f,#07f,#07f,#07f,#07f,#07f,#08f,#08f,#08f,#08f,#08f,#08f,#09f,#09f,#0af,#0af,#0af,#0af,#0af,#09f,#08f,#07f,#07f,#07f,#06f,#06f,#06f,#07f,#07f,#08f,#09f,#0af,#0bf,#0cf,#0df,#0df,#0cf,#0cf,#0bf,#0af,#0af,#09f,#08f,#07f,#06f,#06f,#06f,#07f,#08f,#09f,#0af,#0bf,#0bf,#0bf,#0bf,#0af,#0af,#0af,#0af,#0af,#0af,#09f,#09f,#0af,#0bf,#0bf,#0cf,#0cf,#0cf,#0cf,#0cf,#0cf,#0df,#0ef,#0ff,#1fe,#1fe,#2fd,#2fd,#3fc,#3fc,#5fa,#6f9,#7f8,#8f7,#9f6,#bf4,#df2,#fe0,#fb0,#f80,#f50,#f30,#f30,#f30,#f30,#f40,#f40,#f60,#f60,#f60)"></i><i style="background:linear-gradient(90deg,#08f,#08f,#08f,#07f,#06f,#06f,#05f,#05f,#06f,#07f,#07f,#08f,#08f,#08f,#07f,#07f,#07f,#07f,#07f,#08f,#08f,#09f,#09f,#0af,#0bf,#0cf,#0cf,#0cf,#0bf,#0af,#09f,#07f,#06f,#06f,#05f,#05f,#05f,#06f,#06f,#07f,#08f,#09f,#0bf,#0cf,#0cf,#0cf,#0cf,#0cf,#0bf,#0bf,#0af,#0af,#09f,#08f,#08f,#07f,#07f,#08f,#08f,#09f,#09f,#0af,#0af,#0af,#09f,#09f,#0af,#0af,#0af,#0af,#0af,#0af,#0bf,#0bf,#0cf,#0cf,#0cf,#0cf,#0cf,#0bf,#0bf,#0bf,#0bf,#0cf,#0df,#0ef,#0ff,#1fe,#2fd,#3fc,#4fb,#5fa,#7f8,#8f7,#8f7,#9f6,#af5,#bf4,#cf3,#ff0,#fd0,#fa0,#f90,#f80,#f80,#f80,#f70,#f70,#f60,#f60,#f60)"></i><i style="background:linear-gradient(90deg,#08f,#08f,#08f,#08f,#07f,#07f,#06f,#06f,#07f,#07f,#08f,#08f,#08f,#07f,#06f,#06f,#06f,#06f,#06f,#07f,#08f,#09f,#0af,#0bf,#0df,#0df,#0ef,#0df,#0cf,#0bf,#09f,#07f,#06f,#05f,#04f,#04f,#05f,#05f,#06f,#07f,#08f,#09f,#0af,#0bf,#0bf,#0cf,#0bf,#0bf,#0bf,#0af,#0af,#0af,#0af,#0af,#09f,#09f,#08f,#08f,#08f,#08f,#09f,#09f,#09f,#09f,#09f,#09f,#0af,#0af,#0bf,#0bf,#0cf,#0cf,#0cf,#0cf,#0cf,#0cf,#0cf,#0cf,#0bf,#0af,#09f,#09f,#09f,#0af,#0bf,#0cf,#0df,#0ef,#0ff,#2fd,#3fc,#5fa,#6f9,#7f8,#8f7,#8f7,#8f7,#9f6,#9f6,#bf4,#cf3,#ef1,#ff0,#ff0,#ff0,#ff0,#ef1,#ef1,#ff0,#ff0,#ff0)"></i><i style="background:linear-gradient(90deg,#08f,#08f,#08f,#08f,#08f,#08f,#08f,#08f,#08f,#08f,#08f,#08f,#07f,#06f,#06f,#05f,#04f,#04f,#05f,#06f,#08f,#09f,#0bf,#0cf,#0df,#0ef,#0ef,#0ef,#0df,#0bf,#09f,#07f,#06f,#05f,#04f,#05f,#05f,#06f,#06f,#07f,#08f,#09f,#09f,#0af,#0af,#0af,#0af,#0af,#0af,#0af,#0af,#0af,#0bf,#0bf,#0af,#0af,#09f,#09f,#08f,#08f,#08f,#08f,#08f,#08f,#09f,#09f,#0af,#0bf,#0cf,#0cf,#0df,#0df,#0cf,#0cf,#0cf,#0bf,#0bf,#0bf,#0af,#09f,#09f,#08f,#08f,#08f,#09f,#0af,#0bf,#0cf,#0df,#0ef,#0ff,#1fe,#3fc,#4fb,#6f9,#6f9,#6f9,#7f8,#7f8,#8f7,#af5,#bf4,#cf3,#df2,#cf3,#cf3,#bf4,#af5,#af5,#af5,#af5)"></i><i style="background:linear-gradient(90deg,#08f,#08f,#08f,#09f,#09f,#09f,#09f,#09f,#09f,#09f,#08f,#08f,#07f,#06f,#05f,#04f,#03f,#04f,#04f,#06f,#07f,#09f,#0af,#0bf,#0cf,#0df,#0df,#0df,#0cf,#0bf,#09f,#07f,#06f,#05f,#05f,#05f,#06f,#07f,#07f,#08f,#08f,#08f,#09f,#09f,#09f,#09f,#09f,#08f,#08f,#09f,#09f,#0af,#0bf,#0bf,#0bf,#0bf,#0af,#09f,#09f,#08f,#08f,#08f,#08f,#08f,#08f,#09f,#0af,#0bf,#0cf,#0df,#0df,#0df,#0cf,#0bf,#0bf,#0bf,#0af,#0af,#0af,#09f,#09f,#08f,#08f,#08f,#08f,#08f,#08f,#08f,#09f,#09f,#0af,#0bf,#0df,#0ff,#2fd,#3fc,#4fb,#5fa,#6f9,#7f8,#9f6,#af5,#cf3,#cf3,#cf3,#bf4,#af5,#9f6,#8f7,#8f7,#8f7)"></i><i style="background:linear-gradient(90deg,#08f,#08f,#08f,#09f,#0af,#0bf,#0bf,#0bf,#0af,#0af,#09f,#08f,#07f,#05f,#04f,#03f,#03f,#03f,#04f,#05f,#06f,#08f,#09f,#0af,#0bf,#0bf,#0bf,#0bf,#0bf,#0af,#09f,#08f,#07f,#06f,#06f,#07f,#07f,#08f,#08f,#08f,#08f,#08f,#08f,#08f,#08f,#08f,#08f,#08f,#08f,#08f,#09f,#0af,#0bf,#0cf,#0cf,#0cf,#0bf,#0af,#09f,#08f,#08f,#08f,#08f,#08f,#08f,#09f,#09f,#0af,#0bf,#0cf,#0cf,#0cf,#0bf,#0bf,#0af,#0af,#0af,#0af,#0bf,#0bf,#0af,#0af,#09f,#09f,#08f,#07f,#07f,#06f,#06f,#06f,#06f,#07f,#09f,#0cf,#0ef,#1fe,#3fc,#5fa,#6f9,#7f8,#8f7,#af5,#bf4,#cf3,#bf4,#bf4,#9f6,#8f7,#7f8,#7f8,#7f8)"></i><i style="background:linear-gradient(90deg,#08f,#08f,#08f,#09f,#09f,#09f,#09f,#09f,#09f,#09f,#08f,#08f,#07f,#06f,#05f,#04f,#03f,#04f,#04f,#06f,#07f,#09f,#0af,#0bf,#0cf,#0df,#0df,#0df,#0cf,#0bf,#09f,#07f,#06f,#05f,#05f,#05f,#06f,#07f,#07f,#08f,#08f,#08f,#09f,#09f,#09f,#09f,#09f,#08f,#08f,#09f,#09f,#0af,#0bf,#0bf,#0bf,#0bf,#0af,#09f,#09f,#08f,#08f,#08f,#08f,#08f,#08f,#09f,#0af,#0bf,#0cf,#0df,#0df,#0df,#0cf,#0bf,#0bf,#0bf,#0af,#0af,#0af,#09f,#09f,#08f,#08f,#08f,#08f,#08f,#08f,#08f,#09f,#09f,#0af,#0bf,#0df,#0ff,#2fd,#3fc,#4fb,#5fa,#6f9,#7f8,#9f6,#af5,#cf3,#cf3,#cf3,#bf4,#af5,#9f6,#8f7,#8f7,#8f7)"></i><i style="background:linear-gradient(90deg,#08f,#08f,#08f,#08f,#08f,#08f,#08f,#08f,#08f,#08f,#08f,#08f,#07f,#06f,#06f,#05f,#04f,#04f,#05f,#06f,#08f,#09f,#0bf,#0cf,#0df,#0ef,#0ef,#0ef,#0df,#0bf,#09f,#07f,#06f,#05f,#04f,#05f,#05f,#06f,#06f,#07f,#08f,#09f,#09f,#0af,#0af,#0af,#0af,#0af,#0af,#0af,#0af,#0af,#0bf,#0bf,#0af,#0af,#09f,#09f,#08f,#08f,#08f,#08f,#08f,#08f,#09f,#09f,#0af,#0bf,#0cf,#0cf,#0df,#0df,#0cf,#0cf,#0cf,#0bf,#0bf,#0bf,#0af,#09f,#09f,#08f,#08f,#08f,#09f,#0af,#0bf,#0cf,#0df,#0ef,#0ff,#1fe,#3fc,#4fb,#6f9,#6f9,#6f9,#7f8,#7f8,#8f7,#af5,#bf4,#cf3,#df2,#cf3,#cf3,#bf4,#af5,#af5,#af5,#af5)"></i><i style="background:linear-gradient(90deg,#08f,#08f,#08f,#08f,#07f,#07f,#06f,#06f,#07f,#07f,#08f,#08f,#08f,#07f,#06f,#06f,#06f,#06f,#06f,#07f,#08f,#09f,#0af,#0bf,#0df,#0df,#0ef,#0df,#0cf,#0bf,#09f,#07f,#06f,#05f,#04f,#04f,#05f,#05f,#06f,#07f,#08f,#09f,#0af,#0bf,#0bf,#0cf,#0bf,#0bf,#0bf,#0af,#0af,#0af,#0af,#0af,#09f,#09f,#08f,#08f,#08f,#08f,#09f,#09f,#09f,#09f,#09f,#09f,#0af,#0af,#0bf,#0bf,#0cf,#0cf,#0cf,#0cf,#0cf,#0cf,#0cf,#0cf,#0bf,#0af,#09f,#09f,#09f,#0af,#0bf,#0cf,#0df,#0ef,#0ff,#2fd,#3fc,#5fa,#6f9,#7f8,#8f7,#8f7,#8f7,#9f6,#9f6,#bf4,#cf3,#ef1,#ff0,#ff0,#ff0,#ff0,#ef1,#ef1,#ff0,#ff0,#ff0)"></i><i style="background:linear-gradient(90deg,#08f,#08f,#08f,#07f,#06f,#06f,#05f,#05f,#06f,#07f,#07f,#08f,#08f,#08f,#07f,#07f,#07f,#07f,#07f,#08f,#08f,#09f,#09f,#0af,#0bf,#0cf,#0cf,#0cf,#0bf,#0af,#09f,#07f,#06f,#06f,#05f,#05f,#05f,#06f,#06f,#07f,#08f,#09f,#0bf,#0cf,#0cf,#0cf,#0cf,#0cf,#0bf,#0bf,#0af,#0af,#09f,#08f,#08f,#07f,#07f,#08f,#08f,#09f,#09f,#0af,#0af,#0af,#09f,#09f,#0af,#0af,#0af,#0af,#0af,#0af,#0bf,#0bf,#0cf,#0cf,#0cf,#0cf,#0cf,#0bf,#0bf,#0bf,#0bf,#0cf,#0df,#0ef,#0ff,#1fe,#2fd,#3fc,#4fb,#5fa,#7f8,#8f7,#8f7,#9f6,#af5,#bf4,#cf3,#ff0,#fd0,#fa0,#f90,#f80,#f80,#f80,#f70,#f70,#f60,#f60,#f60)"></i><i style="background:linear-gradient(90deg,#08f,#08f,#08f,#07f,#06f,#05f,#04f,#04f,#05f,#06f,#06f,#07f,#07f,#07f,#07f,#07f,#08f,#08f,#08f,#08f,#08f,#08f,#09f,#09f,#0af,#0af,#0af,#0af,#0af,#09f,#08f,#07f,#07f,#07f,#06f,#06f,#06f,#07f,#07f,#08f,#09f,#0af,#0bf,#0cf,#0df,#0df,#0cf,#0cf,#0bf,#0af,#0af,#09f,#08f,#07f,#06f,#06f,#06f,#07f,#08f,#09f,#0af,#0bf,#0bf,#0bf,#0bf,#0af,#0af,#0af,#0af,#0af,#0af,#09f,#09f,#0af,#0bf,#0bf,#0cf,#0cf,#0cf,#0cf,#0cf,#0cf,#0df,#0ef,#0ff,#1fe,#1fe,#2fd,#2fd,#3fc,#3fc,#5fa,#6f9,#7f8,#8f7,#9f6,#bf4,#df2,#fe0,#fb0,#f80,#f50,#f30,#f30,#f30,#f30,#f40,#f40,#f60,#f60,#f60)"></i><i style="background:linear-gradient(90deg,#08f,#08f,#08f,#06f,#05f,#04f,#03f,#03f,#04f,#04f,#05f,#06f,#06f,#07f,#07f,#08f,#08f,#09f,#09f,#09f,#09f,#08f,#08f,#08f,#08f,#08f,#08f,#08f,#08f,#08f,#08f,#07f,#07f,#08f,#08f,#07f,#07f,#07f,#08f,#08f,#09f,#0af,#0bf,#0cf,#0cf,#0cf,#0cf,#0bf,#0af,#0af,#09f,#08f,#07f,#06f,#06f,#06f,#06f,#07f,#09f,#0af,#0bf,#0cf,#0cf,#0cf,#0cf,#0cf,#0cf,#0bf,#0bf,#0af,#09f,#09f,#09f,#09f,#0af,#0af,#0bf,#0bf,#0cf,#0cf,#0df,#0ef,#0ff,#1fe,#2fd,#2fd,#3fc,#3fc,#3fc,#3fc,#4fb,#5fa,#7f8,#8f7,#9f6,#bf4,#df2,#ff0,#fc0,#f90,#f70,#f60,#f70,#f80,#fa0,#fc0,#fe0,#df2,#bf4,#bf4,#bf4)"></i><i style="background:linear-gradient(90deg,#08f,#08f,#08f,#06f,#05f,#03f,#03f,#02f,#02f,#03f,#04f,#05f,#05f,#06f,#07f,#08f,#09f,#0af,#0af,#0af,#09f,#09f,#08f,#07f,#07f,#07f,#07f,#07f,#07f,#07f,#07f,#07f,#08f,#08f,#08f,#08f,#08f,#08f,#08f,#08f,#09f,#0af,#0bf,#0cf,#0cf,#0bf,#0bf,#0af,#0af,#09f,#08f,#08f,#07f,#06f,#06f,#06f,#07f,#08f,#09f,#0bf,#0cf,#0cf,#0df,#0df,#0df,#0df,#0df,#0cf,#0cf,#0bf,#0af,#09f,#09f,#09f,#0af,#0af,#0bf,#0bf,#0cf,#0cf,#0df,#0ef,#1fe,#2fd,#3fc,#4fb,#4fb,#4fb,#4fb,#5fa,#6f9,#7f8,#8f7,#9f6,#af5,#cf3,#df2,#ef1,#ff0,#fe0,#ff0,#df2,#bf4,#8f7,#5fa,#3fc,#1fe,#0ff,#0df,#0df,#0df)"></i><i style="background:linear-gradient(90deg,#08f,#08f,#08f,#06f,#05f,#03f,#03f,#02f,#02f,#02f,#03f,#04f,#05f,#06f,#08f,#09f,#0af,#0bf,#0bf,#0bf,#0af,#09f,#08f,#07f,#06f,#06f,#06f,#06f,#06f,#06f,#06f,#07f,#08f,#08f,#09f,#08f,#08f,#08f,#08f,#08f,#09f,#09f,#0af,#0af,#0af,#0af,#0af,#0af,#0af,#09f,#09f,#08f,#07f,#07f,#07f,#07f,#08f,#09f,#0af,#0bf,#0cf,#0cf,#0cf,#0df,#0df,#0df,#0df,#0df,#0cf,#0cf,#0bf,#0bf,#0af,#0bf,#0bf,#0bf,#0cf,#0cf,#0cf,#0df,#0ef,#1fe,#2fd,#3fc,#4fb,#4fb,#4fb,#4fb,#4fb,#5fa,#6f9,#7f8,#8f7,#9f6,#9f6,#9f6,#9f6,#8f7,#7f8,#6f9,#4fb,#1fe,#0df,#0bf,#09f,#08f,#07f,#06f,#05f,#05f,#05f)"></i><i style="background:linear-gradient(90deg,#08f,#08f,#08f,#06f,#05f,#04f,#03f,#03f,#02f,#03f,#03f,#04f,#05f,#06f,#08f,#0af,#0bf,#0cf,#0cf,#0bf,#0af,#09f,#08f,#07f,#06f,#05f,#05f,#04f,#04f,#05f,#06f,#07f,#08f,#08f,#09f,#09f,#09f,#09f,#08f,#08f,#08f,#09f,#09f,#09f,#09f,#09f,#09f,#09f,#09f,#09f,#09f,#09f,#09f,#08f,#09f,#09f,#0af,#0af,#0bf,#0bf,#0bf,#0bf,#0bf,#0cf,#0cf,#0cf,#0df,#0df,#0df,#0df,#0cf,#0cf,#0df,#0df,#0df,#0ef,#0ef,#0ef,#0ef,#0ff,#1fe,#2fd,#3fc,#4fb,#4fb,#3fc,#3fc,#2fd,#3fc,#3fc,#4fb,#4fb,#4fb,#4fb,#3fc,#2fd,#1fe,#0ef,#0df,#0bf,#09f,#07f,#06f,#04f,#03f,#03f,#02f,#01f,#00f,#00f,#00f)"></i><i style="background:linear-gradient(90deg,#08f,#08f,#08f,#07f,#06f,#05f,#04f,#04f,#04f,#04f,#04f,#05f,#06f,#07f,#09f,#0bf,#0cf,#0cf,#0cf,#0bf,#0af,#09f,#07f,#06f,#05f,#04f,#04f,#03f,#04f,#04f,#05f,#07f,#08f,#09f,#09f,#09f,#0af,#0af,#09f,#09f,#09f,#09f,#08f,#08f,#07f,#07f,#07f,#08f,#08f,#09f,#09f,#0af,#0af,#0af,#0bf,#0bf,#0cf,#0cf,#0cf,#0bf,#0bf,#0af,#0af,#0af,#0bf,#0cf,#0cf,#0df,#0df,#0df,#0ef,#0ef,#0ff,#1fe,#1fe,#2fd,#2fd,#2fd,#2fd,#2fd,#3fc,#3fc,#3fc,#3fc,#2fd,#1fe,#0ff,#0ef,#0ef,#0ef,#0ef,#0df,#0df,#0cf,#0af,#09f,#08f,#07f,#06f,#05f,#04f,#03f,#02f,#01f,#00f,#00e,#00d,#00d,#00c,#00c,#00c)"></i><i style="background:linear-gradient(90deg,#08f,#08f,#08f,#07f,#06f,#06f,#05f,#05f,#05f,#05f,#05f,#06f,#07f,#08f,#0af,#0bf,#0cf,#0cf,#0cf,#0bf,#09f,#08f,#07f,#06f,#05f,#04f,#03f,#03f,#03f,#04f,#05f,#07f,#08f,#0af,#0af,#0af,#0af,#0af,#0af,#0af,#0af,#09f,#08f,#07f,#06f,#06f,#06f,#06f,#07f,#08f,#09f,#0af,#0af,#0bf,#0cf,#0df,#0df,#0df,#0df,#0cf,#0bf,#0af,#0af,#0af,#0bf,#0bf,#0cf,#0cf,#0df,#0ef,#0ef,#0ff,#2fd,#3fc,#3fc,#3fc,#3fc,#3fc,#3fc,#3fc,#3fc,#3fc,#2fd,#1fe,#0ef,#0df,#0cf,#0bf,#0af,#0af,#09f,#08f,#07f,#06f,#05f,#04f,#03f,#03f,#02f,#01f,#00f,#00f,#00e,#00d,#00d,#00c,#00c,#00b,#00b,#00b,#00b)"></i><i style="background:linear-gradient(90deg,#07f,#07f,#07f,#07f,#07f,#07f,#06f,#06f,#06f,#06f,#06f,#07f,#07f,#09f,#0af,#0bf,#0cf,#0cf,#0bf,#0af,#09f,#08f,#07f,#06f,#05f,#04f,#04f,#03f,#04f,#04f,#06f,#07f,#09f,#0af,#0bf,#0bf,#0cf,#0cf,#0cf,#0cf,#0bf,#0af,#08f,#07f,#06f,#05f,#05f,#05f,#06f,#07f,#08f,#09f,#0af,#0cf,#0df,#0ef,#0ef,#0ef,#0ef,#0df,#0cf,#0bf,#0bf,#0bf,#0bf,#0cf,#0cf,#0df,#0df,#0ef,#0ff,#1fe,#2fd,#3fc,#3fc,#3fc,#2fd,#2fd,#1fe,#1fe,#1fe,#0ff,#0ef,#0cf,#0bf,#0af,#09f,#08f,#07f,#07f,#06f,#05f,#04f,#03f,#02f,#01f,#00f,#00f,#00e,#00e,#00d,#00d,#00c,#00c,#00b,#00b,#00b,#00b,#00a,#00a,#00a)"></i><i style="background:linear-gradient(90deg,#06f,#06f,#06f,#07f,#07f,#07f,#07f,#07f,#07f,#07f,#07f,#07f,#08f,#09f,#0af,#0af,#0bf,#0bf,#0af,#0af,#09f,#08f,#08f,#07f,#06f,#05f,#05f,#04f,#04f,#05f,#06f,#07f,#09f,#0af,#0bf,#0cf,#0cf,#0df,#0df,#0df,#0cf,#0af,#09f,#07f,#06f,#05f,#05f,#05f,#06f,#06f,#07f,#09f,#0af,#0bf,#0df,#0ef,#0ef,#0ef,#0ef,#0df,#0cf,#0cf,#0cf,#0cf,#0df,#0df,#0df,#0df,#0df,#0ef,#0ef,#0ff,#0ff,#1fe,#0ff,#0ff,#0ef,#0df,#0df,#0cf,#0cf,#0bf,#0af,#09f,#08f,#07f,#06f,#06f,#05f,#05f,#04f,#03f,#02f,#01f,#00f,#00e,#00e,#00d,#00d,#00c,#00c,#00b,#00b,#00b,#00b,#00b,#00a,#00a,#00a,#00a,#00a)"></i><i style="background:linear-gradient(90deg,#05f,#05f,#05f,#06f,#06f,#07f,#08f,#08f,#08f,#08f,#08f,#08f,#08f,#09f,#09f,#09f,#09f,#09f,#09f,#09f,#09f,#09f,#09f,#08f,#08f,#07f,#06f,#06f,#06f,#06f,#07f,#08f,#08f,#09f,#0af,#0bf,#0bf,#0cf,#0cf,#0cf,#0bf,#0af,#09f,#07f,#06f,#06f,#06f,#06f,#06f,#07f,#08f,#09f,#0af,#0bf,#0cf,#0df,#0ef,#0ef,#0df,#0df,#0df,#0cf,#0df,#0df,#0df,#0df,#0df,#0df,#0df,#0df,#0df,#0df,#0df,#0df,#0cf,#0bf,#0af,#09f,#09f,#08f,#08f,#07f,#06f,#06f,#05f,#05f,#04f,#04f,#04f,#03f,#02f,#01f,#00f,#00f,#00e,#00d,#00d,#00c,#00c,#00b,#00b,#00a,#00a,#00a,#00a,#00a,#00a,#00a,#00a,#00a,#00a)"></i><i style="background:linear-gradient(90deg,#04f,#04f,#04f,#05f,#06f,#07f,#08f,#09f,#09f,#09f,#09f,#09f,#08f,#08f,#08f,#08f,#08f,#07f,#07f,#07f,#08f,#08f,#08f,#08f,#09f,#09f,#08f,#08f,#08f,#08f,#08f,#08f,#08f,#08f,#08f,#09f,#0af,#0af,#0bf,#0bf,#0af,#0af,#09f,#08f,#07f,#07f,#08f,#08f,#08f,#09f,#09f,#09f,#0af,#0bf,#0cf,#0cf,#0cf,#0cf,#0cf,#0cf,#0cf,#0cf,#0cf,#0df,#0df,#0df,#0cf,#0cf,#0bf,#0bf,#0bf,#0bf,#0af,#0af,#09f,#08f,#07f,#06f,#06f,#05f,#05f,#04f,#04f,#03f,#03f,#03f,#02f,#02f,#02f,#01f,#00f,#00f,#00e,#00d,#00d,#00c,#00c,#00b,#00b,#00a,#00a,#00a,#00a,#00a,#00a,#00a,#00a,#00a,#00a,#00a,#00a)"></i><i style="background:linear-gradient(90deg,#03f,#03f,#03f,#04f,#06f,#08f,#09f,#0af,#0af,#0af,#0af,#0af,#09f,#09f,#08f,#07f,#06f,#05f,#05f,#05f,#06f,#07f,#08f,#08f,#09f,#09f,#09f,#09f,#09f,#09f,#09f,#09f,#08f,#08f,#08f,#08f,#08f,#08f,#09f,#09f,#09f,#08f,#08f,#08f,#09f,#09f,#0af,#0af,#0af,#0bf,#0af,#0af,#0bf,#0bf,#0bf,#0bf,#0bf,#0af,#0af,#0af,#0af,#0af,#0bf,#0bf,#0bf,#0bf,#0bf,#0af,#09f,#09f,#09f,#09f,#08f,#07f,#06f,#06f,#05f,#04f,#04f,#04f,#03f,#03f,#02f,#02f,#01f,#01f,#00f,#00f,#00f,#00e,#00d,#00d,#00c,#00c,#00c,#00b,#00b,#00b,#00a,#00a,#00a,#00a,#00a,#00a,#00a,#00a,#00a,#00a,#00a,#00a,#00a)"></i><i style="background:linear-gradient(90deg,#03f,#03f,#03f,#04f,#06f,#08f,#09f,#0bf,#0bf,#0cf,#0bf,#0bf,#0af,#09f,#07f,#06f,#05f,#04f,#03f,#04f,#04f,#05f,#06f,#07f,#08f,#09f,#0af,#0af,#0af,#0af,#0af,#09f,#09f,#08f,#07f,#07f,#07f,#07f,#07f,#07f,#07f,#07f,#08f,#08f,#09f,#0af,#0bf,#0cf,#0cf,#0cf,#0bf,#0bf,#0bf,#0af,#0af,#09f,#09f,#08f,#08f,#08f,#08f,#09f,#09f,#0af,#09f,#09f,#09f,#08f,#08f,#07f,#07f,#07f,#06f,#05f,#05f,#04f,#04f,#03f,#03f,#03f,#02f,#02f,#01f,#00f,#00f,#00e,#00e,#00e,#00d,#00d,#00c,#00c,#00b,#00b,#00b,#00b,#00a,#00a,#00a,#00a,#00a,#00a,#00a,#00a,#00a,#00a,#00a,#00a,#00a,#00a,#00a)"></i><i style="background:linear-gradient(90deg,#02f,#02f,#02f,#04f,#06f,#08f,#09f,#0bf,#0cf,#0cf,#0cf,#0cf,#0bf,#09f,#07f,#05f,#04f,#03f,#02f,#02f,#03f,#04f,#05f,#06f,#07f,#08f,#09f,#0af,#0bf,#0bf,#0bf,#0af,#09f,#08f,#07f,#07f,#06f,#06f,#06f,#06f,#06f,#06f,#07f,#08f,#09f,#0bf,#0cf,#0cf,#0cf,#0cf,#0bf,#0af,#0af,#09f,#08f,#08f,#07f,#06f,#06f,#06f,#07f,#07f,#08f,#08f,#08f,#07f,#07f,#06f,#06f,#06f,#06f,#05f,#04f,#04f,#03f,#03f,#02f,#02f,#02f,#02f,#01f,#00f,#00f,#00e,#00e,#00d,#00d,#00c,#00c,#00b,#00b,#00b,#00a,#00a,#00a,#00a,#00a,#00a,#00a,#00a,#00a,#00a,#00a,#00a,#00a,#00a,#00a,#00a,#00a,#00a,#00a)"></i><i style="background:linear-gradient(90deg,#03f,#03f,#03f,#04f,#05f,#07f,#09f,#0af,#0bf,#0bf,#0bf,#0bf,#0af,#09f,#07f,#05f,#04f,#03f,#02f,#02f,#02f,#03f,#04f,#05f,#06f,#07f,#08f,#09f,#0af,#0bf,#0bf,#0bf,#0af,#09f,#08f,#07f,#06f,#05f,#05f,#04f,#05f,#05f,#06f,#07f,#09f,#0af,#0bf,#0bf,#0bf,#0bf,#0af,#09f,#09f,#08f,#07f,#06f,#06f,#05f,#05f,#05f,#06f,#06f,#06f,#07f,#06f,#06f,#05f,#05f,#05f,#05f,#04f,#04f,#03f,#02f,#02f,#01f,#01f,#01f,#01f,#00f,#00f,#00e,#00e,#00d,#00d,#00c,#00c,#00b,#00b,#00b,#00a,#00a,#00a,#00a,#00a,#00a,#00a,#00a,#00a,#00a,#00a,#00a,#00a,#00a,#00a,#00a,#00a,#00a,#00a,#00a,#00a)"></i><i style="background:linear-gradient(90deg,#04f,#04f,#04f,#04f,#05f,#07f,#08f,#08f,#09f,#0af,#0af,#0af,#09f,#08f,#07f,#05f,#04f,#03f,#03f,#03f,#03f,#03f,#04f,#04f,#05f,#07f,#08f,#09f,#0af,#0bf,#0bf,#0af,#09f,#08f,#07f,#06f,#05f,#05f,#04f,#04f,#04f,#04f,#05f,#06f,#08f,#09f,#09f,#0af,#09f,#09f,#08f,#08f,#07f,#07f,#06f,#06f,#05f,#05f,#05f,#05f,#05f,#05f,#05f,#05f,#05f,#05f,#04f,#04f,#04f,#03f,#03f,#02f,#02f,#01f,#00f,#00f,#00f,#00e,#00e,#00e,#00d,#00d,#00d,#00c,#00c,#00c,#00b,#00b,#00b,#00a,#00a,#00a,#00a,#00a,#00a,#00a,#00a,#00a,#00a,#00a,#00a,#00a,#00a,#00a,#00a,#00a,#00a,#00a,#00a,#00a,#00a)"></i><i style="background:linear-gradient(90deg,#05f,#05f,#05f,#05f,#06f,#06f,#07f,#07f,#08f,#08f,#08f,#09f,#08f,#08f,#07f,#06f,#05f,#04f,#04f,#04f,#04f,#04f,#04f,#05f,#05f,#06f,#07f,#08f,#09f,#0af,#0af,#09f,#08f,#07f,#06f,#06f,#05f,#04f,#04f,#03f,#04f,#04f,#05f,#06f,#07f,#08f,#08f,#08f,#08f,#07f,#07f,#07f,#06f,#06f,#06f,#05f,#05f,#04f,#04f,#04f,#05f,#05f,#04f,#04f,#04f,#03f,#03f,#03f,#02f,#02f,#02f,#01f,#00f,#00f,#00e,#00e,#00e,#00d,#00d,#00d,#00c,#00c,#00c,#00b,#00b,#00b,#00b,#00b,#00a,#00a,#00a,#00a,#00a,#00a,#00a,#00a,#00a,#00a,#00a,#00a,#00a,#00a,#00a,#00a,#00a,#00a,#00a,#00a,#00a,#00a,#00a)"></i><i style="background:linear-gradient(90deg,#07f,#07f,#07f,#07f,#07f,#07f,#07f,#07f,#07f,#07f,#07f,#07f,#07f,#07f,#07f,#06f,#06f,#05f,#05f,#05f,#05f,#05f,#05f,#05f,#06f,#07f,#07f,#08f,#09f,#09f,#08f,#08f,#07f,#06f,#06f,#05f,#05f,#04f,#04f,#04f,#04f,#04f,#05f,#06f,#06f,#07f,#07f,#06f,#06f,#06f,#06f,#06f,#06f,#05f,#05f,#05f,#04f,#04f,#04f,#04f,#04f,#04f,#03f,#03f,#02f,#02f,#01f,#01f,#01f,#01f,#00f,#00f,#00e,#00e,#00e,#00d,#00d,#00d,#00c,#00c,#00c,#00b,#00b,#00b,#00b,#00b,#00b,#00a,#00a,#00a,#00a,#00a,#00a,#00a,#00a,#00a,#00a,#00a,#00a,#00a,#00a,#00a,#00a,#00a,#00a,#00a,#00a,#00a,#00a,#00a,#00a)"></i><i style="background:linear-gradient(90deg,#08f,#08f,#08f,#08f,#08f,#08f,#07f,#07f,#07f,#07f,#07f,#07f,#07f,#07f,#06f,#06f,#06f,#06f,#06f,#06f,#06f,#06f,#06f,#06f,#06f,#07f,#07f,#08f,#08f,#08f,#07f,#06f,#06f,#05f,#05f,#05f,#05f,#04f,#04f,#04f,#04f,#05f,#05f,#06f,#06f,#06f,#05f,#05f,#05f,#04f,#04f,#05f,#05f,#05f,#04f,#04f,#04f,#04f,#03f,#03f,#03f,#02f,#02f,#01f,#01f,#00f,#00f,#00f,#00f,#00f,#00e,#00e,#00e,#00d,#00d,#00d,#00d,#00c,#00c,#00c,#00b,#00b,#00b,#00b,#00b,#00a,#00a,#00a,#00a,#00a,#00a,#00a,#00a,#00a,#00a,#00a,#00a,#00a,#00a,#00a,#00a,#00a,#00a,#00a,#00a,#00a,#00a,#00a,#00a,#00a,#00a)"></i><i style="background:linear-gradient(90deg,#09f,#09f,#09f,#09f,#09f,#08f,#07f,#07f,#07f,#06f,#06f,#06f,#06f,#06f,#06f,#06f,#06f,#07f,#07f,#07f,#07f,#07f,#06f,#06f,#07f,#07f,#07f,#07f,#07f,#06f,#06f,#05f,#05f,#05f,#05f,#05f,#05f,#05f,#05f,#05f,#05f,#06f,#06f,#06f,#06f,#05f,#04f,#04f,#03f,#03f,#03f,#03f,#03f,#03f,#03f,#03f,#03f,#03f,#03f,#03f,#02f,#02f,#01f,#00f,#00f,#00f,#00e,#00e,#00e,#00e,#00e,#00d,#00d,#00d,#00d,#00c,#00c,#00c,#00c,#00b,#00b,#00b,#00b,#00b,#00a,#00a,#00a,#00a,#00a,#00a,#00a,#00a,#00a,#00a,#00a,#00a,#00a,#00a,#00a,#00a,#00a,#00a,#00a,#00a,#00a,#00a,#00a,#00a,#00a,#00a,#00a)"></i><i style="background:linear-gradient(90deg,#0af,#0af,#0af,#0af,#09f,#08f,#07f,#07f,#06f,#06f,#06f,#05f,#05f,#05f,#05f,#06f,#06f,#07f,#07f,#07f,#07f,#07f,#07f,#07f,#07f,#07f,#07f,#07f,#06f,#05f,#05f,#05f,#05f,#05f,#05f,#05f,#06f,#06f,#06f,#06f,#06f,#06f,#06f,#06f,#05f,#04f,#03f,#03f,#02f,#02f,#02f,#02f,#02f,#02f,#02f,#02f,#02f,#02f,#02f,#02f,#01f,#01f,#00f,#00f,#00e,#00e,#00e,#00e,#00e,#00d,#00d,#00d,#00c,#00c,#00c,#00c,#00c,#00c,#00c,#00b,#00b,#00b,#00b,#00b,#00a,#00a,#00a,#00a,#00a,#00a,#00a,#00a,#00a,#00a,#00a,#00a,#00a,#00a,#00a,#00a,#00a,#00a,#00a,#00a,#00a,#00a,#00a,#00a,#00a,#00a,#00a)"></i><i style="background:linear-gradient(90deg,#0af,#0af,#0af,#09f,#08f,#07f,#06f,#06f,#05f,#05f,#05f,#04f,#04f,#04f,#05f,#05f,#06f,#07f,#07f,#07f,#07f,#07f,#07f,#07f,#07f,#07f,#07f,#06f,#05f,#05f,#04f,#04f,#04f,#04f,#05f,#06f,#06f,#06f,#07f,#07f,#07f,#07f,#06f,#06f,#05f,#04f,#03f,#02f,#02f,#02f,#02f,#02f,#01f,#01f,#01f,#01f,#01f,#01f,#01f,#01f,#01f,#00f,#00f,#00f,#00e,#00e,#00e,#00d,#00d,#00d,#00c,#00c,#00c,#00c,#00c,#00c,#00c,#00b,#00b,#00b,#00b,#00b,#00b,#00b,#00a,#00a,#00a,#00a,#00a,#00a,#00a,#00a,#00a,#00a,#00a,#00a,#00a,#00a,#00a,#00a,#00a,#00a,#00a,#00a,#00a,#00a,#00a,#00a,#00a,#00a,#00a)"></i><i style="background:linear-gradient(90deg,#09f,#09f,#09f,#08f,#07f,#06f,#05f,#05f,#04f,#04f,#03f,#03f,#03f,#04f,#04f,#05f,#06f,#07f,#07f,#08f,#08f,#08f,#08f,#08f,#08f,#07f,#06f,#06f,#05f,#04f,#03f,#03f,#03f,#04f,#05f,#05f,#05f,#06f,#06f,#06f,#06f,#06f,#06f,#05f,#04f,#03f,#02f,#02f,#02f,#01f,#01f,#01f,#01f,#01f,#01f,#00f,#00f,#00f,#00f,#00f,#00f,#00f,#00e,#00e,#00e,#00e,#00d,#00d,#00d,#00c,#00c,#00c,#00b,#00b,#00b,#00b,#00b,#00b,#00b,#00b,#00b,#00b,#00b,#00b,#00a,#00a,#00a,#00a,#00a,#00a,#00a,#00a,#00a,#00a,#00a,#00a,#00a,#00a,#00a,#00a,#00a,#00a,#00a,#00a,#00a,#00a,#00a,#00a,#00a,#00a,#00a)"></i><i style="background:linear-gradient(90deg,#08f,#08f,#08f,#08f,#06f,#06f,#05f,#04f,#04f,#03f,#03f,#03f,#03f,#03f,#04f,#05f,#06f,#07f,#07f,#08f,#08f,#08f,#08f,#08f,#08f,#07f,#06f,#05f,#04f,#03f,#03f,#03f,#03f,#03f,#04f,#04f,#05f,#05f,#05f,#05f,#05f,#05f,#05f,#04f,#03f,#03f,#02f,#02f,#02f,#02f,#02f,#01f,#01f,#01f,#00f,#00f,#00f,#00f,#00f,#00f,#00e,#00e,#00e,#00e,#00d,#00d,#00d,#00d,#00c,#00c,#00c,#00b,#00b,#00b,#00b,#00b,#00b,#00b,#00b,#00b,#00b,#00a,#00a,#00a,#00a,#00a,#00a,#00a,#00a,#00a,#00a,#00a,#00a,#00a,#00a,#00a,#00a,#00a,#00a,#00a,#00a,#00a,#00a,#00a,#00a,#00a,#00a,#00a,#00a,#00a,#00a)"></i><i style="background:linear-gradient(90deg,#08f,#08f,#08f,#07f,#06f,#05f,#05f,#04f,#04f,#03f,#03f,#02f,#02f,#03f,#03f,#04f,#05f,#06f,#07f,#07f,#07f,#08f,#08f,#07f,#07f,#06f,#05f,#04f,#03f,#03f,#02f,#02f,#03f,#03f,#03f,#04f,#04f,#04f,#04f,#04f,#04f,#04f,#03f,#03f,#03f,#02f,#02f,#02f,#02f,#02f,#01f,#01f,#01f,#00f,#00f,#00f,#00e,#00e,#00e,#00e,#00e,#00d,#00d,#00d,#00d,#00d,#00d,#00c,#00c,#00c,#00c,#00b,#00b,#00b,#00b,#00b,#00b,#00b,#00b,#00a,#00a,#00a,#00a,#00a,#00a,#00a,#00a,#00a,#00a,#00a,#00a,#00a,#00a,#00a,#00a,#00a,#00a,#00a,#00a,#00a,#00a,#00a,#00a,#00a,#00a,#00a,#00a,#00a,#00a,#00a,#00a)"></i><i style="background:linear-gradient(90deg,#07f,#07f,#07f,#07f,#06f,#06f,#05f,#05f,#04f,#03f,#03f,#03f,#02f,#03f,#03f,#04f,#05f,#05f,#06f,#06f,#06f,#06f,#06f,#06f,#06f,#05f,#04f,#03f,#02f,#02f,#02f,#02f,#03f,#03f,#03f,#03f,#03f,#03f,#03f,#03f,#03f,#03f,#02f,#02f,#02f,#02f,#02f,#02f,#02f,#01f,#01f,#01f,#01f,#00f,#00f,#00e,#00e,#00e,#00e,#00d,#00d,#00d,#00d,#00c,#00c,#00c,#00c,#00c,#00c,#00c,#00b,#00b,#00b,#00b,#00b,#00b,#00b,#00b,#00b,#00a,#00a,#00a,#00a,#00a,#00a,#00a,#00a,#00a,#00a,#00a,#00a,#00a,#00a,#00a,#00a,#00a,#00a,#00a,#00a,#00a,#00a,#00a,#00a,#00a,#00a,#00a,#00a,#00a,#00a,#00a,#00a)"></i><i style="background:linear-gradient(90deg,#06f,#06f,#06f,#06f,#06f,#06f,#06f,#05f,#05f,#04f,#03f,#03f,#03f,#03f,#03f,#04f,#04f,#05f,#05f,#05f,#05f,#05f,#05f,#05f,#04f,#04f,#03f,#02f,#02f,#02f,#02f,#02f,#03f,#03f,#03f,#03f,#03f,#02f,#02f,#02f,#02f,#02f,#01f,#01f,#01f,#01f,#01f,#01f,#01f,#01f,#01f,#00f,#00f,#00f,#00e,#00e,#00e,#00e,#00d,#00d,#00d,#00c,#00c,#00c,#00c,#00c,#00c,#00c,#00c,#00b,#00b,#00b,#00b,#00b,#00b,#00b,#00b,#00b,#00b,#00b,#00b,#00b,#00a,#00a,#00a,#00a,#00a,#00a,#00a,#00a,#00a,#00a,#00a,#00a,#00a,#00a,#00a,#00a,#00a,#00a,#00a,#00a,#00a,#00a,#00a,#00a,#00a,#00a,#00a,#00a,#00a)"></i><i style="background:linear-gradient(90deg,#06f,#06f,#06f,#06f,#06f,#06f,#06f,#05f,#05f,#04f,#04f,#03f,#03f,#03f,#03f,#04f,#04f,#04f,#04f,#04f,#04f,#04f,#04f,#04f,#03f,#03f,#02f,#02f,#02f,#02f,#02f,#02f,#03f,#03f,#03f,#02f,#02f,#02f,#02f,#02f,#01f,#01f,#01f,#00f,#00f,#00f,#00f,#00f,#00f,#00f,#00e,#00e,#00e,#00e,#00e,#00e,#00e,#00d,#00d,#00d,#00d,#00c,#00c,#00c,#00c,#00c,#00c,#00b,#00b,#00b,#00b,#00b,#00b,#00b,#00b,#00b,#00b,#00b,#00b,#00b,#00b,#00b,#00a,#00a,#00a,#00a,#00a,#00a,#00a,#00a,#00a,#00a,#00a,#00a,#00a,#00a,#00a,#00a,#00a,#00a,#00a,#00a,#00a,#00a,#00a,#00a,#00a,#00a,#00a,#00a,#00a)"></i><i style="background:linear-gradient(90deg,#05f,#05f,#05f,#05f,#05f,#05f,#05f,#05f,#05f,#04f,#04f,#03f,#03f,#03f,#04f,#04f,#04f,#04f,#04f,#04f,#04f,#04f,#03f,#03f,#03f,#02f,#02f,#02f,#02f,#02f,#02f,#02f,#03f,#02f,#02f,#02f,#02f,#01f,#01f,#01f,#01f,#00f,#00f,#00f,#00f,#00e,#00e,#00e,#00e,#00e,#00e,#00d,#00d,#00d,#00d,#00d,#00d,#00d,#00d,#00d,#00c,#00c,#00c,#00c,#00c,#00c,#00c,#00b,#00b,#00b,#00b,#00b,#00b,#00b,#00b,#00b,#00b,#00b,#00b,#00b,#00b,#00b,#00b,#00a,#00a,#00a,#00a,#00a,#00a,#00a,#00a,#00a,#00a,#00a,#00a,#00a,#00a,#00a,#00a,#00a,#00a,#00a,#00a,#00a,#00a,#00a,#00a,#00a,#00a,#00a,#00a)"></i><i style="background:linear-gradient(90deg,#04f,#04f,#04f,#04f,#04f,#04f,#04f,#04f,#04f,#04f,#04f,#04f,#04f,#04f,#04f,#04f,#04f,#04f,#04f,#04f,#03f,#03f,#03f,#03f,#03f,#02f,#02f,#02f,#02f,#02f,#02f,#02f,#02f,#02f,#01f,#01f,#01f,#01f,#01f,#00f,#00f,#00f,#00f,#00e,#00e,#00e,#00e,#00e,#00e,#00d,#00d,#00d,#00d,#00d,#00d,#00d,#00d,#00d,#00d,#00c,#00c,#00c,#00c,#00c,#00c,#00c,#00c,#00b,#00b,#00b,#00b,#00b,#00b,#00b,#00b,#00b,#00b,#00b,#00b,#00b,#00b,#00b,#00b,#00a,#00a,#00a,#00a,#00a,#00a,#00a,#00a,#00a,#00a,#00a,#00a,#00a,#00a,#00a,#00a,#00a,#00a,#00a,#00a,#00a,#00a,#00a,#00a,#00a,#00a,#00a,#00a)"></i><i style="background:linear-gradient(90deg,#03f,#03f,#03f,#03f,#03f,#04f,#04f,#04f,#04f,#04f,#04f,#04f,#04f,#04f,#05f,#05f,#04f,#04f,#04f,#03f,#03f,#03f,#03f,#03f,#02f,#02f,#02f,#02f,#02f,#02f,#02f,#02f,#02f,#01f,#01f,#00f,#00f,#00f,#00f,#00f,#00f,#00f,#00f,#00e,#00e,#00e,#00e,#00e,#00d,#00d,#00d,#00d,#00d,#00d,#00d,#00d,#00d,#00c,#00c,#00c,#00c,#00c,#00c,#00c,#00c,#00c,#00c,#00b,#00b,#00b,#00b,#00b,#00b,#00b,#00b,#00b,#00b,#00b,#00b,#00b,#00b,#00b,#00b,#00a,#00a,#00a,#00a,#00a,#00a,#00a,#00a,#00a,#00a,#00a,#00a,#00a,#00a,#00a,#00a,#00a,#00a,#00a,#00a,#00a,#00a,#00a,#00a,#00a,#00a,#00a,#00a)"></i><i style="background:linear-gradient(90deg,#03f,#03f,#03f,#03f,#03f,#03f,#04f,#04f,#04f,#04f,#04f,#04f,#05f,#05f,#05f,#05f,#04f,#04f,#03f,#03f,#03f,#02f,#02f,#02f,#02f,#02f,#02f,#02f,#02f,#02f,#02f,#02f,#01f,#01f,#00f,#00f,#00f,#00f,#00f,#00f,#00f,#00e,#00e,#00e,#00e,#00e,#00e,#00e,#00e,#00d,#00d,#00d,#00d,#00d,#00d,#00d,#00c,#00c,#00c,#00c,#00c,#00c,#00c,#00c,#00c,#00c,#00c,#00b,#00b,#00b,#00b,#00b,#00b,#00b,#00b,#00b,#00b,#00b,#00b,#00b,#00b,#00b,#00b,#00a,#00a,#00a,#00a,#00a,#00a,#00a,#00a,#00a,#00a,#00a,#00a,#00a,#00a,#00a,#00a,#00a,#00a,#00a,#00a,#00a,#00a,#00a,#00a,#00a,#00a,#00a,#00a)"></i><i style="background:linear-gradient(90deg,#02f,#02f,#02f,#03f,#03f,#02f,#03f,#04f,#03f,#03f,#04f,#05f,#04f,#04f,#04f,#04f,#03f,#02f,#02f,#02f,#02f,#01f,#01f,#02f,#01f,#01f,#01f,#02f,#02f,#02f,#02f,#02f,#01f,#00f,#00f,#00f,#00f,#00f,#00f,#00f,#00e,#00e,#00e,#00e,#00e,#00e,#00e,#00e,#00e,#00d,#00d,#00d,#00d,#00d,#00d,#00d,#00d,#00c,#00c,#00c,#00c,#00c,#00c,#00c,#00c,#00c,#00c,#00c,#00c,#00c,#00c,#00c,#00c,#00b,#00b,#00b,#00b,#00b,#00b,#00b,#00b,#00b,#00b,#00b,#00b,#00b,#00b,#00b,#00b,#00b,#00b,#00b,#00b,#00b,#00b,#00b,#00b,#00b,#00b,#00b,#00b,#00b,#00b,#00b,#00b,#00b,#00b,#00b,#00a,#00a,#00a)"></i><i style="background:linear-gradient(90deg,#02f,#02f,#02f,#04f,#02f,#00e,#02f,#04f,#01f,#00e,#01f,#04f,#01f,#00e,#01f,#03f,#01f,#00e,#01f,#03f,#01f,#00e,#01f,#02f,#00f,#00e,#01f,#02f,#00f,#00e,#00f,#02f,#00f,#00e,#00f,#01f,#00f,#00e,#00f,#01f,#00f,#00e,#00f,#00f,#00e,#00e,#00e,#00f,#00e,#00e,#00e,#00f,#00e,#00e,#00e,#00e,#00e,#00e,#00e,#00e,#00e,#00e,#00e,#00e,#00e,#00e,#00e,#00e,#00e,#00e,#00e,#00e,#00e,#00e,#00e,#00e,#00e,#00e,#00e,#00e,#00e,#00e,#00e,#00e,#00e,#00e,#00e,#00e,#00e,#00e,#00e,#00e,#00e,#00e,#00e,#00e,#00e,#00e,#00e,#00e,#00e,#00e,#00e,#00e,#00e,#00e,#00e,#00e,#00e,#00e,#00e)"></i><i style="background:linear-gradient(90deg,#02f,#02f,#02f,#04f,#02f,#00e,#02f,#04f,#01f,#00e,#01f,#04f,#01f,#00e,#01f,#03f,#01f,#00e,#01f,#03f,#01f,#00e,#01f,#02f,#00f,#00e,#01f,#02f,#00f,#00e,#00f,#02f,#00f,#00e,#00f,#01f,#00f,#00e,#00f,#01f,#00f,#00e,#00f,#00f,#00e,#00e,#00e,#00f,#00e,#00e,#00e,#00f,#00e,#00e,#00e,#00e,#00e,#00e,#00e,#00e,#00e,#00e,#00e,#00e,#00e,#00e,#00e,#00e,#00e,#00e,#00e,#00e,#00e,#00e,#00e,#00e,#00e,#00e,#00e,#00e,#00e,#00e,#00e,#00e,#00e,#00e,#00e,#00e,#00e,#00e,#00e,#00e,#00e,#00e,#00e,#00e,#00e,#00e,#00e,#00e,#00e,#00e,#00e,#00e,#00e,#00e,#00e,#00e,#00e,#00e,#00e)"></i><i style="background:linear-gradient(90deg,#02f,#02f,#02f,#04f,#02f,#00e,#02f,#04f,#01f,#00e,#01f,#04f,#01f,#00e,#01f,#03f,#01f,#00e,#01f,#03f,#01f,#00e,#01f,#02f,#00f,#00e,#01f,#02f,#00f,#00e,#00f,#02f,#00f,#00e,#00f,#01f,#00f,#00e,#00f,#01f,#00f,#00e,#00f,#00f,#00e,#00e,#00e,#00f,#00e,#00e,#00e,#00f,#00e,#00e,#00e,#00e,#00e,#00e,#00e,#00e,#00e,#00e,#00e,#00e,#00e,#00e,#00e,#00e,#00e,#00e,#00e,#00e,#00e,#00e,#00e,#00e,#00e,#00e,#00e,#00e,#00e,#00e,#00e,#00e,#00e,#00e,#00e,#00e,#00e,#00e,#00e,#00e,#00e,#00e,#00e,#00e,#00e,#00e,#00e,#00e,#00e,#00e,#00e,#00e,#00e,#00e,#00e,#00e,#00e,#00e,#00e)"></i><i style="background:linear-gradient(90deg,#02f,#02f,#02f,#04f,#02f,#00e,#02f,#04f,#01f,#00e,#01f,#04f,#01f,#00e,#01f,#03f,#01f,#00e,#01f,#03f,#01f,#00e,#01f,#02f,#00f,#00e,#01f,#02f,#00f,#00e,#00f,#02f,#00f,#00e,#00f,#01f,#00f,#00e,#00f,#01f,#00f,#00e,#00f,#00f,#00e,#00e,#00e,#00f,#00e,#00e,#00e,#00f,#00e,#00e,#00e,#00e,#00e,#00e,#00e,#00e,#00e,#00e,#00e,#00e,#00e,#00e,#00e,#00e,#00e,#00e,#00e,#00e,#00e,#00e,#00e,#00e,#00e,#00e,#00e,#00e,#00e,#00e,#00e,#00e,#00e,#00e,#00e,#00e,#00e,#00e,#00e,#00e,#00e,#00e,#00e,#00e,#00e,#00e,#00e,#00e,#00e,#00e,#00e,#00e,#00e,#00e,#00e,#00e,#00e,#00e,#00e)"></i><i style="background:linear-gradient(90deg,#02f,#02f,#02f,#04f,#02f,#00e,#02f,#04f,#01f,#00e,#01f,#04f,#01f,#00e,#01f,#03f,#01f,#00e,#01f,#03f,#01f,#00e,#01f,#02f,#00f,#00e,#01f,#02f,#00f,#00e,#00f,#02f,#00f,#00e,#00f,#01f,#00f,#00e,#00f,#01f,#00f,#00e,#00f,#00f,#00e,#00e,#00e,#00f,#00e,#00e,#00e,#00f,#00e,#00e,#00e,#00e,#00e,#00e,#00e,#00e,#00e,#00e,#00e,#00e,#00e,#00e,#00e,#00e,#00e,#00e,#00e,#00e,#00e,#00e,#00e,#00e,#00e,#00e,#00e,#00e,#00e,#00e,#00e,#00e,#00e,#00e,#00e,#00e,#00e,#00e,#00e,#00e,#00e,#00e,#00e,#00e,#00e,#00e,#00e,#00e,#00e,#00e,#00e,#00e,#00e,#00e,#00e,#00e,#00e,#00e,#00e)"></i></b></div>
<div class="hm" id="har"><b><i style="background:linear-gradient(90deg,#00008a,#00008b,#00008f,#000094,#000098,#00009b,#00009f,#0000a2,#0000a6,#0000a9,#0000ab,#0000ae,#0000b1,#0000b3,#0000b5,#0000b8,#0000ba,#0000bc,#0000be,#0000c0,#0000c1,#0000c3,#0000c5,#0000c7,#0000c8,#0000ca,#0000cc,#0000cd,#0000cf,#0000d0,#0000d1,#0000d3,#0000d4,#0000d6,#0000d7,#0000d9,#0000da,#0000dc,#0000de,#0000e0,#0000e2,#0000e4,#0000e7,#0000ea,#0000ed,#0000f1,#0000f1)"></i><i style="background:linear-gradient(90deg,#00008a,#00008b,#00008f,#000094,#000098,#00009b,#00009f,#0000a2,#0000a6,#0000a9,#0000ab,#0000ae,#0000b1,#0000b3,#0000b5,#0000b8,#0000ba,#0000bc,#0000be,#0000c0,#0000c1,#0000c3,#0000c5,#0000c7,#0000c8,#0000ca,#0000cc,#0000cd,#0000cf,#0000d0,#0000d1,#0000d3,#0000d4,#0000d6,#0000d7,#0000d9,#0000da,#0000dc,#0000de,#0000e0,#0000e2,#0000e5,#0000e7,#0000eb,#0000ee,#0000f2,#0000f2)"></i><i style="background:linear-gradient(90deg,#00008a,#00008b,#00008f,#000094,#000098,#00009b,#00009f,#0000a2,#0000a6,#0000a9,#0000ab,#0000ae,#0000b1,#0000b3,#0000b5,#0000b8,#0000ba,#0000bc,#0000be,#0000c0,#0000c1,#0000c3,#0000c5,#0000c7,#0000c8,#0000ca,#0000cc,#0000cd,#0000cf,#0000d0,#0000d2,#0000d3,#0000d4,#0000d6,#0000d7,#0000da,#0000db,#0000dd,#0000e0,#0000e2,#0000e5,#0000e8,#0000eb,#0000ef,#0000f3,#0000f7,#0000f7)"></i><i style="background:linear-gradient(90deg,#00008a,#00008b,#00008f,#000094,#000098,#00009b,#00009f,#0000a2,#0000a6,#0000a9,#0000ab,#0000ae,#0000b1,#0000b3,#0000b5,#0000b8,#0000ba,#0000bc,#0000be,#0000c0,#0000c1,#0000c3,#0000c5,#0000c7,#0000c8,#0000ca,#0000cc,#0000cd,#0000cf,#0000d0,#0000d2,#0000d3,#0000d5,#0000d7,#0000d8,#0000db,#0000dd,#0000df,#0000e2,#0000e5,#0000e9,#0000ec,#0000f0,#0000f5,#0000f9,#0000ff,#0000ff)"></i><i style="background:linear-gradient(90deg,#00008a,#00008b,#00008f,#000094,#000098,#00009b,#00009f,#0000a2,#0000a6,#0000a9,#0000ab,#0000ae,#0000b0,#0000b3,#0000b5,#0000b8,#0000ba,#0000bc,#0000be,#0000c0,#0000c1,#0000c3,#0000c5,#0000c7,#0000c8,#0000ca,#0000cc,#0000cd,#0000cf,#0000d0,#0000d2,#0000d4,#0000d6,#0000d8,#0000da,#0000dd,#0000df,#0000e2,#0000e6,#0000e9,#0000ee,#0000f2,#0000f7,#0000fc,#0002ff,#0008ff,#0008ff)"></i><i style="background:linear-gradient(90deg,#00008a,#00008b,#00008f,#000094,#000098,#00009b,#00009f,#0000a2,#0000a6,#0000a9,#0000ab,#0000ae,#0000b0,#0000b3,#0000b5,#0000b8,#0000ba,#0000bc,#0000be,#0000c0,#0000c1,#0000c4,#0000c5,#0000c7,#0000c8,#0000ca,#0000cc,#0000cd,#0000cf,#0000d1,#0000d3,#0000d5,#0000d7,#0000da,#0000dc,#0000e0,#0000e3,#0000e7,#0000eb,#0000ef,#0000f5,#0000fa,#0000ff,#0005ff,#000bff,#0010ff,#0010ff)"></i><i style="background:linear-gradient(90deg,#00008a,#00008b,#00008f,#000094,#000098,#00009b,#00009f,#0000a2,#0000a6,#0000a9,#0000ab,#0000ae,#0000b0,#0000b3,#0000b5,#0000b7,#0000ba,#0000bc,#0000be,#0000c0,#0000c1,#0000c4,#0000c5,#0000c7,#0000c8,#0000ca,#0000cc,#0000cd,#0000d0,#0000d2,#0000d4,#0000d7,#0000d9,#0000dd,#0000e0,#0000e4,#0000e8,#0000ed,#0000f2,#0000f7,#0000fd,#0003ff,#0009ff,#000eff,#0013ff,#0018ff,#0018ff)"></i><i style="background:linear-gradient(90deg,#00008a,#00008b,#00008f,#000094,#000098,#00009b,#00009f,#0000a2,#0000a6,#0000a9,#0000ab,#0000ae,#0000b0,#0000b3,#0000b5,#0000b7,#0000ba,#0000bc,#0000be,#0000c0,#0000c1,#0000c4,#0000c5,#0000c7,#0000c8,#0000cb,#0000cd,#0000ce,#0000d1,#0000d3,#0000d7,#0000da,#0000dd,#0000e2,#0000e5,#0000eb,#0000ef,#0000f5,#0000fa,#0000ff,#0007ff,#000cff,#0011ff,#0016ff,#001aff,#001eff,#001eff)"></i><i style="background:linear-gradient(90deg,#00008a,#00008b,#00008f,#000094,#000098,#00009b,#00009f,#0000a2,#0000a6,#0000a9,#0000ab,#0000af,#0000b0,#0000b3,#0000b5,#0000b7,#0000ba,#0000bb,#0000be,#0000c0,#0000c2,#0000c4,#0000c5,#0000c8,#0000c9,#0000cb,#0000ce,#0000d0,#0000d3,#0000d6,#0000da,#0000df,#0000e3,#0000e8,#0000ec,#0000f2,#0000f8,#0000fd,#0004ff,#0009ff,#000fff,#0014ff,#0018ff,#001cff,#001fff,#0022ff,#0022ff)"></i><i style="background:linear-gradient(90deg,#00008a,#00008b,#00008f,#000094,#000098,#00009b,#00009f,#0000a2,#0000a6,#0000a9,#0000ab,#0000af,#0000b0,#0000b3,#0000b5,#0000b7,#0000ba,#0000bb,#0000be,#0000c0,#0000c2,#0000c4,#0000c5,#0000c8,#0000ca,#0000cc,#0000cf,#0000d2,#0000d7,#0000da,#0000e0,#0000e5,#0000ea,#0000f0,#0000f5,#0000fb,#0002ff,#0007ff,#000dff,#0011ff,#0017ff,#001aff,#001dff,#0020ff,#0021ff,#0023ff,#0023ff)"></i><i style="background:linear-gradient(90deg,#00008a,#00008b,#00008f,#000093,#000098,#00009b,#0000a0,#0000a2,#0000a6,#0000a9,#0000ab,#0000af,#0000b0,#0000b3,#0000b5,#0000b7,#0000ba,#0000bb,#0000be,#0000c0,#0000c2,#0000c4,#0000c6,#0000c9,#0000cb,#0000cf,#0000d2,#0000d6,#0000db,#0000e0,#0000e7,#0000ed,#0000f2,#0000f9,#0000fe,#0006ff,#000aff,#000fff,#0014ff,#0017ff,#001bff,#001dff,#001fff,#0021ff,#0020ff,#0021ff,#0021ff)"></i><i style="background:linear-gradient(90deg,#00008a,#00008b,#00008f,#000093,#000098,#00009b,#0000a0,#0000a2,#0000a6,#0000a9,#0000ab,#0000af,#0000b0,#0000b3,#0000b6,#0000b7,#0000ba,#0000bb,#0000bf,#0000c0,#0000c2,#0000c5,#0000c7,#0000cb,#0000ce,#0000d2,#0000d7,#0000db,#0000e2,#0000e7,#0000ef,#0000f6,#0000fc,#0003ff,#0008ff,#000eff,#0012ff,#0015ff,#0019ff,#001bff,#001dff,#001dff,#001eff,#001eff,#001dff,#001cff,#001cff)"></i><i style="background:linear-gradient(90deg,#00008a,#00008b,#00008f,#000093,#000098,#00009b,#0000a0,#0000a2,#0000a6,#0000a9,#0000ab,#0000af,#0000b0,#0000b3,#0000b6,#0000b7,#0000bb,#0000bc,#0000bf,#0000c1,#0000c3,#0000c7,#0000c9,#0000ce,#0000d1,#0000d7,#0000dc,#0000e2,#0000ea,#0000f0,#0000f8,#0001ff,#0006ff,#000cff,#000fff,#0014ff,#0016ff,#0019ff,#001bff,#001aff,#001cff,#001aff,#001aff,#0019ff,#0016ff,#0016ff,#0016ff)"></i><i style="background:linear-gradient(90deg,#00008a,#00008b,#00008f,#000093,#000098,#00009b,#0000a0,#0000a2,#0000a6,#0000a9,#0000ab,#0000af,#0000b0,#0000b3,#0000b6,#0000b7,#0000bb,#0000bc,#0000c0,#0000c2,#0000c5,#0000c9,#0000cc,#0000d2,#0000d6,#0000dd,#0000e3,#0000e9,#0000f2,#0000f8,#0002ff,#0009ff,#000dff,#0012ff,#0013ff,#0017ff,#0017ff,#0018ff,#0019ff,#0017ff,#0017ff,#0015ff,#0013ff,#0012ff,#000fff,#000eff,#000eff)"></i><i style="background:linear-gradient(90deg,#00008b,#00008b,#00008f,#000093,#000098,#00009b,#0000a0,#0000a2,#0000a6,#0000a9,#0000ab,#0000af,#0000b0,#0000b4,#0000b6,#0000b8,#0000bc,#0000bd,#0000c1,#0000c4,#0000c8,#0000cd,#0000d1,#0000d8,#0000dc,#0000e4,#0000eb,#0000f1,#0000fa,#0001ff,#0009ff,#000fff,#0011ff,#0014ff,#0014ff,#0016ff,#0015ff,#0014ff,#0014ff,#0011ff,#0010ff,#000dff,#000cff,#000aff,#0007ff,#0006ff,#0006ff)"></i><i style="background:linear-gradient(90deg,#00008b,#00008b,#00008f,#000093,#000098,#00009b,#0000a0,#0000a2,#0000a6,#0000a9,#0000ab,#0000af,#0000b0,#0000b4,#0000b6,#0000b8,#0000bd,#0000be,#0000c3,#0000c7,#0000cb,#0000d2,#0000d6,#0000de,#0000e3,#0000eb,#0000f2,#0000f8,#0001ff,#0006ff,#000dff,#0011ff,#0012ff,#0013ff,#0011ff,#0012ff,#0010ff,#000eff,#000dff,#0009ff,#0009ff,#0005ff,#0004ff,#0002ff,#0000ff,#0000ff,#0000ff)"></i><i style="background:linear-gradient(90deg,#00008b,#00008b,#00008f,#000093,#000098,#00009a,#0000a0,#0000a2,#0000a6,#0000a9,#0000ab,#0000af,#0000b0,#0000b4,#0000b7,#0000b9,#0000be,#0000c0,#0000c6,#0000ca,#0000d0,#0000d7,#0000db,#0000e4,#0000e9,#0000f1,#0000f8,#0000fc,#0005ff,#0008ff,#000dff,#000fff,#000eff,#000fff,#000bff,#000bff,#0008ff,#0006ff,#0005ff,#0001ff,#0001ff,#0000fd,#0000fc,#0000fb,#0000f9,#0000fb,#0000fb)"></i><i style="background:linear-gradient(90deg,#00008b,#00008c,#00008f,#000093,#000099,#00009a,#0000a0,#0000a2,#0000a6,#0000a9,#0000aa,#0000af,#0000b0,#0000b5,#0000b8,#0000bb,#0000c1,#0000c3,#0000ca,#0000cf,#0000d5,#0000dc,#0000e1,#0000e9,#0000ee,#0000f5,#0000fa,#0000fe,#0005ff,#0006ff,#000aff,#000aff,#0008ff,#0008ff,#0003ff,#0003ff,#0000ff,#0000fd,#0000fc,#0000f9,#0000fa,#0000f7,#0000f7,#0000f8,#0000f7,#0000fa,#0000fa)"></i><i style="background:linear-gradient(90deg,#00008b,#00008c,#00008f,#000093,#000099,#00009a,#0000a0,#0000a2,#0000a6,#0000a9,#0000aa,#0000af,#0000b0,#0000b6,#0000b9,#0000bd,#0000c3,#0000c6,#0000ce,#0000d3,#0000d9,#0000e1,#0000e4,#0000ed,#0000f0,#0000f5,#0000fa,#0000fb,#0001ff,#0001ff,#0003ff,#0003ff,#0000ff,#0000fe,#0000fa,#0000fa,#0000f7,#0000f6,#0000f6,#0000f3,#0000f6,#0000f4,#0000f6,#0000f7,#0000f8,#0000fc,#0000fc)"></i><i style="background:linear-gradient(90deg,#00008b,#00008c,#00008f,#000093,#000099,#00009a,#0000a0,#0000a2,#0000a6,#0000a9,#0000aa,#0000b0,#0000b1,#0000b7,#0000bb,#0000bf,#0000c6,#0000c9,#0000d2,#0000d6,#0000dc,#0000e3,#0000e6,#0000ed,#0000ef,#0000f3,#0000f6,#0000f7,#0000fa,#0000f8,#0000fa,#0000f9,#0000f6,#0000f7,#0000f2,#0000f4,#0000f2,#0000f1,#0000f3,#0000f1,#0000f5,#0000f5,#0000f8,#0000fb,#0000fc,#0003ff,#0003ff)"></i><i style="background:linear-gradient(90deg,#00008b,#00008c,#00008f,#000093,#000099,#00009a,#0000a0,#0000a2,#0000a6,#0000a9,#0000aa,#0000b0,#0000b1,#0000b8,#0000bd,#0000c1,#0000c9,#0000cc,#0000d4,#0000d8,#0000dd,#0000e4,#0000e5,#0000eb,#0000ec,#0000ef,#0000f1,#0000f0,#0000f3,#0000f1,#0000f2,#0000f2,#0000ef,#0000f1,#0000ed,#0000f0,#0000ef,#0000f0,#0000f3,#0000f3,#0000f8,#0000f9,#0000fd,#0003ff,#0005ff,#000cff,#000cff)"></i><i style="background:linear-gradient(90deg,#00008b,#00008c,#00008f,#000093,#000099,#00009a,#0000a1,#0000a1,#0000a6,#0000a9,#0000aa,#0000b0,#0000b2,#0000b9,#0000be,#0000c3,#0000cb,#0000cd,#0000d5,#0000d8,#0000dc,#0000e2,#0000e2,#0000e7,#0000e7,#0000e9,#0000eb,#0000e9,#0000ed,#0000ea,#0000ec,#0000ec,#0000eb,#0000ee,#0000ec,#0000f0,#0000f1,#0000f3,#0000f8,#0000f8,#0001ff,#0002ff,#0008ff,#000eff,#0011ff,#0019ff,#0019ff)"></i><i style="background:linear-gradient(90deg,#00008c,#00008c,#00008f,#000093,#000099,#00009a,#0000a1,#0000a1,#0000a6,#0000a9,#0000aa,#0000b0,#0000b2,#0000ba,#0000bf,#0000c3,#0000cc,#0000cd,#0000d4,#0000d6,#0000da,#0000de,#0000dd,#0000e2,#0000e1,#0000e3,#0000e5,#0000e4,#0000e8,#0000e6,#0000e9,#0000ea,#0000ea,#0000ef,#0000ee,#0000f5,#0000f6,#0000fa,#0002ff,#0003ff,#000cff,#000fff,#0016ff,#001cff,#0020ff,#002aff,#002aff)"></i><i style="background:linear-gradient(90deg,#00008c,#00008c,#00008f,#000093,#000099,#00009a,#0000a1,#0000a1,#0000a6,#0000aa,#0000aa,#0000b1,#0000b3,#0000bb,#0000c0,#0000c3,#0000cb,#0000cb,#0000d2,#0000d4,#0000d6,#0000da,#0000d9,#0000de,#0000dd,#0000e0,#0000e2,#0000e1,#0000e7,#0000e5,#0000eb,#0000ed,#0000ef,#0000f5,#0000f6,#0000fe,#0002ff,#0007ff,#000fff,#0011ff,#001bff,#001fff,#0026ff,#002eff,#0032ff,#003cff,#003cff)"></i><i style="background:linear-gradient(90deg,#00008c,#00008c,#00008f,#000093,#000099,#000099,#0000a1,#0000a1,#0000a6,#0000aa,#0000aa,#0000b1,#0000b3,#0000bb,#0000bf,#0000c2,#0000ca,#0000c9,#0000d0,#0000d1,#0000d3,#0000d8,#0000d6,#0000dc,#0000db,#0000df,#0000e3,#0000e3,#0000ea,#0000ea,#0000f1,#0000f5,#0000f8,#0001ff,#0003ff,#000cff,#0010ff,#0017ff,#001fff,#0022ff,#002dff,#0031ff,#0039ff,#0040ff,#0044ff,#004eff,#004eff)"></i><i style="background:linear-gradient(90deg,#00008c,#00008c,#00008f,#000093,#000099,#000099,#0000a1,#0000a1,#0000a6,#0000aa,#0000aa,#0000b1,#0000b3,#0000bb,#0000bf,#0000c1,#0000c9,#0000c7,#0000cf,#0000cf,#0000d2,#0000d7,#0000d6,#0000de,#0000de,#0000e3,#0000e8,#0000e9,#0000f3,#0000f3,#0000fc,#0002ff,#0007ff,#0011ff,#0013ff,#001eff,#0022ff,#0029ff,#0032ff,#0035ff,#0040ff,#0043ff,#004bff,#0052ff,#0055ff,#005eff,#005eff)"></i><i style="background:linear-gradient(90deg,#00008c,#00008d,#00008f,#000093,#00009a,#000099,#0000a2,#0000a1,#0000a6,#0000aa,#0000aa,#0000b2,#0000b3,#0000bb,#0000bf,#0000c1,#0000c9,#0000c7,#0000cf,#0000d0,#0000d4,#0000db,#0000db,#0000e4,#0000e5,#0000ec,#0000f2,#0000f5,#0001ff,#0003ff,#000dff,#0013ff,#0018ff,#0023ff,#0026ff,#0031ff,#0035ff,#003cff,#0045ff,#0047ff,#0052ff,#0054ff,#005bff,#0061ff,#0062ff,#006bff,#006bff)"></i><i style="background:linear-gradient(90deg,#00008c,#00008d,#00008f,#000093,#00009a,#000099,#0000a2,#0000a1,#0000a7,#0000ab,#0000ab,#0000b4,#0000b4,#0000bc,#0000c0,#0000c3,#0000cb,#0000cb,#0000d4,#0000d6,#0000db,#0000e3,#0000e4,#0000ef,#0000f2,#0000fa,#0003ff,#0007ff,#0013ff,#0015ff,#0020ff,#0027ff,#002cff,#0038ff,#0039ff,#0045ff,#0048ff,#004eff,#0057ff,#0057ff,#0061ff,#0062ff,#0067ff,#006cff,#006bff,#0073ff,#0073ff)"></i><i style="background:linear-gradient(90deg,#00008d,#00008e,#00008f,#000094,#00009b,#00009a,#0000a3,#0000a3,#0000a8,#0000ad,#0000ae,#0000b7,#0000b7,#0000c1,#0000c5,#0000c8,#0000d2,#0000d2,#0000dd,#0000e1,#0000e7,#0000f1,#0000f3,#0001ff,#0004ff,#000eff,#0017ff,#001bff,#0028ff,#002aff,#0035ff,#003bff,#0040ff,#004bff,#004bff,#0056ff,#0058ff,#005dff,#0064ff,#0063ff,#006cff,#006aff,#006eff,#0071ff,#006eff,#0075ff,#0075ff)"></i><i style="background:linear-gradient(90deg,#000092,#000092,#000093,#000097,#00009f,#00009d,#0000a7,#0000a7,#0000ad,#0000b3,#0000b4,#0000bf,#0000bf,#0000ca,#0000cf,#0000d3,#0000df,#0000e0,#0000ed,#0000f1,#0000f9,#0005ff,#0008ff,#0016ff,#001aff,#0024ff,#002dff,#0030ff,#003dff,#003eff,#0049ff,#004eff,#0051ff,#005bff,#005aff,#0063ff,#0063ff,#0066ff,#006cff,#0068ff,#0070ff,#006cff,#006fff,#0070ff,#006cff,#0071ff,#0071ff)"></i><i style="background:linear-gradient(90deg,#000096,#000096,#000097,#00009b,#0000a3,#0000a2,#0000ad,#0000ad,#0000b5,#0000bc,#0000be,#0000cb,#0000cc,#0000d8,#0000de,#0000e4,#0000f1,#0000f3,#0003ff,#0008ff,#0010ff,#001cff,#001fff,#002dff,#0030ff,#003aff,#0042ff,#0044ff,#0050ff,#004fff,#0059ff,#005cff,#005dff,#0066ff,#0062ff,#006aff,#0068ff,#0069ff,#006dff,#0067ff,#006eff,#0068ff,#006aff,#006aff,#0064ff,#0069ff,#0069ff)"></i><i style="background:linear-gradient(90deg,#00009a,#00009a,#00009c,#0000a1,#0000a9,#0000a9,#0000b6,#0000b7,#0000c0,#0000c9,#0000cc,#0000db,#0000dd,#0000eb,#0000f3,#0000f9,#0009ff,#000bff,#001aff,#0020ff,#0028ff,#0034ff,#0035ff,#0043ff,#0044ff,#004cff,#0053ff,#0053ff,#005eff,#005bff,#0062ff,#0063ff,#0062ff,#0069ff,#0063ff,#0069ff,#0066ff,#0065ff,#0068ff,#0061ff,#0066ff,#005fff,#0060ff,#005fff,#0059ff,#005eff,#005eff)"></i><i style="background:linear-gradient(90deg,#00009f,#00009f,#0000a1,#0000a8,#0000b2,#0000b3,#0000c2,#0000c5,#0000d0,#0000db,#0000e0,#0000f1,#0000f4,#0004ff,#000cff,#0013ff,#0022ff,#0024ff,#0033ff,#0037ff,#003eff,#0048ff,#0048ff,#0054ff,#0053ff,#0059ff,#005eff,#005bff,#0064ff,#005fff,#0064ff,#0063ff,#0061ff,#0066ff,#005eff,#0063ff,#005eff,#005dff,#005fff,#0056ff,#005bff,#0054ff,#0054ff,#0054ff,#004dff,#0052ff,#0052ff)"></i><i style="background:linear-gradient(90deg,#0000a4,#0000a4,#0000a8,#0000b1,#0000be,#0000c1,#0000d3,#0000d8,#0000e5,#0000f2,#0000f8,#000bff,#000eff,#001dff,#0025ff,#002bff,#003aff,#003aff,#0047ff,#0049ff,#004eff,#0057ff,#0054ff,#005eff,#005aff,#005fff,#0061ff,#005cff,#0064ff,#005cff,#0060ff,#005dff,#0059ff,#005eff,#0054ff,#0059ff,#0053ff,#0051ff,#0053ff,#004aff,#0050ff,#0047ff,#0048ff,#0048ff,#0041ff,#0047ff,#0047ff)"></i><i style="background:linear-gradient(90deg,#0000a9,#0000aa,#0000b1,#0000bd,#0000ce,#0000d3,#0000e8,#0000ee,#0000fe,#000cff,#0012ff,#0024ff,#0026ff,#0035ff,#003bff,#0040ff,#004cff,#004aff,#0055ff,#0054ff,#0057ff,#005dff,#0057ff,#0060ff,#005aff,#005cff,#005dff,#0056ff,#005dff,#0053ff,#0057ff,#0053ff,#004eff,#0053ff,#0048ff,#004dff,#0047ff,#0045ff,#0047ff,#003eff,#0045ff,#003dff,#003eff,#003eff,#0038ff,#003fff,#003fff)"></i><i style="background:linear-gradient(90deg,#0000ae,#0000b0,#0000bb,#0000cb,#0000e0,#0000e7,#0000ff,#0007ff,#0017ff,#0024ff,#0029ff,#003aff,#003aff,#0047ff,#004bff,#004dff,#0057ff,#0051ff,#005bff,#0057ff,#0058ff,#005cff,#0054ff,#005bff,#0053ff,#0054ff,#0054ff,#004cff,#0052ff,#0048ff,#004bff,#0048ff,#0043ff,#0047ff,#003dff,#0043ff,#003dff,#003bff,#003eff,#0035ff,#003dff,#0035ff,#0038ff,#0039ff,#0032ff,#003aff,#003aff)"></i><i style="background:linear-gradient(90deg,#0000ae,#0000b2,#0000c3,#0000d8,#0000f0,#0000f9,#0013ff,#001aff,#0029ff,#0035ff,#0038ff,#0048ff,#0045ff,#0050ff,#0051ff,#0050ff,#0059ff,#0050ff,#0058ff,#0053ff,#0052ff,#0055ff,#004bff,#0052ff,#0049ff,#004aff,#0049ff,#0041ff,#0047ff,#003dff,#0041ff,#003eff,#0039ff,#003eff,#0034ff,#003bff,#0035ff,#0035ff,#0039ff,#0030ff,#0039ff,#0032ff,#0035ff,#0037ff,#0031ff,#003aff,#003aff)"></i><i style="background:linear-gradient(90deg,#0000a8,#0000ad,#0000c5,#0000de,#0000f9,#0005ff,#001eff,#0024ff,#0033ff,#003dff,#003eff,#004cff,#0046ff,#004fff,#004fff,#004cff,#0053ff,#0049ff,#0050ff,#0049ff,#0048ff,#004bff,#0040ff,#0047ff,#003eff,#0040ff,#0040ff,#0038ff,#003fff,#0035ff,#003aff,#0037ff,#0033ff,#003aff,#0030ff,#0038ff,#0033ff,#0033ff,#0038ff,#0030ff,#0039ff,#0032ff,#0036ff,#0039ff,#0034ff,#003dff,#003dff)"></i><i style="background:linear-gradient(90deg,#00009f,#0000a5,#0000c2,#0000df,#0000fc,#0007ff,#0021ff,#0025ff,#0032ff,#003bff,#003aff,#0047ff,#0040ff,#0048ff,#0046ff,#0042ff,#0049ff,#003fff,#0046ff,#003fff,#003eff,#0041ff,#0037ff,#003fff,#0037ff,#0039ff,#003aff,#0032ff,#003bff,#0031ff,#0037ff,#0035ff,#0032ff,#003aff,#0030ff,#0039ff,#0035ff,#0035ff,#003bff,#0033ff,#003eff,#0037ff,#003cff,#003fff,#003aff,#0044ff,#0044ff)"></i><i style="background:linear-gradient(90deg,#00009f,#0000a6,#0000c5,#0000e2,#0000fe,#0008ff,#0020ff,#0023ff,#002fff,#0036ff,#0034ff,#0040ff,#0038ff,#003fff,#003eff,#003aff,#0041ff,#0037ff,#003fff,#0039ff,#0038ff,#003dff,#0033ff,#003cff,#0034ff,#0037ff,#0039ff,#0033ff,#003cff,#0033ff,#003aff,#0039ff,#0036ff,#003eff,#0036ff,#003fff,#003bff,#003cff,#0043ff,#003bff,#0046ff,#0040ff,#0045ff,#0048ff,#0043ff,#004eff,#004eff)"></i><i style="background:linear-gradient(90deg,#0000b9,#0000bf,#0000da,#0000f3,#000dff,#0013ff,#0028ff,#0028ff,#0031ff,#0037ff,#0033ff,#003fff,#0036ff,#003eff,#003cff,#0038ff,#0040ff,#0036ff,#003fff,#003aff,#003aff,#003fff,#0036ff,#0040ff,#0038ff,#003dff,#003fff,#0039ff,#0043ff,#003aff,#0042ff,#0041ff,#003fff,#0048ff,#003fff,#0049ff,#0045ff,#0047ff,#004dff,#0046ff,#0051ff,#004bff,#0050ff,#0053ff,#004eff,#0059ff,#0059ff)"></i><i style="background:linear-gradient(90deg,#0000e6,#0000eb,#0000fe,#0012ff,#0026ff,#0027ff,#0038ff,#0035ff,#003dff,#0041ff,#003cff,#0047ff,#003dff,#0045ff,#0043ff,#003fff,#0048ff,#003eff,#0047ff,#0042ff,#0042ff,#0048ff,#0040ff,#004bff,#0043ff,#0048ff,#004aff,#0044ff,#004fff,#0046ff,#004eff,#004eff,#004bff,#0055ff,#004cff,#0056ff,#0052ff,#0053ff,#005aff,#0052ff,#005eff,#0057ff,#005dff,#0060ff,#005aff,#0066ff,#0066ff)"></i><i style="background:linear-gradient(90deg,#0019ff,#001cff,#0027ff,#0034ff,#0042ff,#003fff,#004eff,#0048ff,#004eff,#0051ff,#004bff,#0055ff,#004bff,#0053ff,#0051ff,#004dff,#0056ff,#004cff,#0056ff,#0051ff,#0051ff,#0057ff,#004eff,#005aff,#0052ff,#0057ff,#005aff,#0053ff,#005fff,#0055ff,#005eff,#005dff,#005aff,#0064ff,#005aff,#0065ff,#0060ff,#0062ff,#0069ff,#0060ff,#006cff,#0065ff,#006aff,#006dff,#0067ff,#0073ff,#0073ff)"></i><i style="background:linear-gradient(90deg,#0048ff,#0049ff,#004eff,#0055ff,#0060ff,#0059ff,#0066ff,#005fff,#0064ff,#0066ff,#005fff,#0069ff,#005fff,#0066ff,#0064ff,#0060ff,#0069ff,#005eff,#0068ff,#0063ff,#0063ff,#006aff,#0060ff,#006cff,#0064ff,#0068ff,#006bff,#0064ff,#006fff,#0066ff,#006eff,#006dff,#006aff,#0073ff,#0069ff,#0074ff,#006fff,#0070ff,#0077ff,#006eff,#007aff,#0073ff,#0078ff,#007bff,#0075ff,#0080ff,#0080ff)"></i><i style="background:linear-gradient(90deg,#0076ff,#0076ff,#0075ff,#0079ff,#0081ff,#0078ff,#0084ff,#007bff,#007fff,#0080ff,#0078ff,#0083ff,#0077ff,#007eff,#007cff,#0077ff,#0080ff,#0074ff,#007eff,#0078ff,#0078ff,#007eff,#0074ff,#007fff,#0076ff,#007aff,#007dff,#0076ff,#0081ff,#0076ff,#007fff,#007dff,#007aff,#0083ff,#0079ff,#0083ff,#007eff,#007fff,#0085ff,#007cff,#0088ff,#0080ff,#0085ff,#0088ff,#0081ff,#008dff,#008dff)"></i><i style="background:linear-gradient(90deg,#00a6ff,#00a5ff,#00a1ff,#00a2ff,#00a8ff,#009dff,#00a8ff,#009eff,#00a1ff,#00a1ff,#0098ff,#00a1ff,#0095ff,#009bff,#0097ff,#0091ff,#0099ff,#008cff,#0095ff,#008eff,#008dff,#0092ff,#0087ff,#0092ff,#0089ff,#008cff,#008eff,#0086ff,#0091ff,#0086ff,#008eff,#008cff,#0088ff,#0092ff,#0087ff,#0091ff,#008cff,#008cff,#0092ff,#0089ff,#0095ff,#008cff,#0091ff,#0093ff,#008cff,#0098ff,#0098ff)"></i><i style="background:linear-gradient(90deg,#00daff,#00d9ff,#00d3ff,#00d3ff,#00d9ff,#00ceff,#00d8ff,#00cdff,#00cfff,#00cfff,#00c4ff,#00ccff,#00bdff,#00c0ff,#00baff,#00b1ff,#00b7ff,#00a7ff,#00aeff,#00a5ff,#00a3ff,#00a7ff,#009aff,#00a4ff,#009aff,#009dff,#009eff,#0096ff,#00a0ff,#0095ff,#009cff,#009aff,#0095ff,#009eff,#0093ff,#009dff,#0097ff,#0097ff,#009eff,#0094ff,#009fff,#0096ff,#009bff,#009dff,#0096ff,#00a1ff,#00a1ff)"></i><i style="background:linear-gradient(90deg,#22ffdd,#21ffde,#1fffe0,#23ffdc,#2dffd2,#24ffdb,#31ffce,#26ffd9,#27ffd8,#23ffdc,#14ffeb,#15ffea,#00feff,#00fbff,#00edff,#00deff,#00deff,#00c9ff,#00cbff,#00beff,#00b9ff,#00baff,#00acff,#00b5ff,#00a9ff,#00abff,#00acff,#00a2ff,#00acff,#00a0ff,#00a7ff,#00a5ff,#00a0ff,#00a9ff,#009dff,#00a7ff,#00a1ff,#00a0ff,#00a7ff,#009cff,#00a8ff,#009fff,#00a3ff,#00a5ff,#009eff,#00a9ff,#00a9ff)"></i><i style="background:linear-gradient(90deg,#9fff60,#a1ff5e,#adff52,#bdff42,#d0ff2f,#ceff31,#dcff23,#ceff31,#c7ff38,#b9ff46,#9bff64,#8eff71,#67ff98,#54ffab,#37ffc8,#1bffe4,#0ffff0,#00efff,#00eaff,#00d8ff,#00cdff,#00ccff,#00bbff,#00c2ff,#00b4ff,#00b6ff,#00b5ff,#00abff,#00b5ff,#00a9ff,#00afff,#00acff,#00a7ff,#00b0ff,#00a4ff,#00aeff,#00a7ff,#00a7ff,#00adff,#00a2ff,#00aeff,#00a4ff,#00a8ff,#00abff,#00a3ff,#00aeff,#00aeff)"></i><i style="background:linear-gradient(90deg,#ffc900,#ffc400,#ffa900,#ff8d00,#ff7200,#ff7200,#ff6700,#ff7c00,#ff8f00,#ffae00,#ffdd00,#fffe00,#c7ff38,#a2ff5d,#76ff89,#4cffb3,#35ffca,#0efff1,#02fffd,#00e9ff,#00dbff,#00d7ff,#00c4ff,#00c9ff,#00bbff,#00bbff,#00bbff,#00b0ff,#00baff,#00adff,#00b3ff,#00b0ff,#00abff,#00b4ff,#00a7ff,#00b1ff,#00aaff,#00aaff,#00b0ff,#00a5ff,#00b1ff,#00a7ff,#00abff,#00adff,#00a6ff,#00b1ff,#00b1ff)"></i><i style="background:linear-gradient(90deg,#ffc900,#ffc400,#ffa900,#ff8d00,#ff7200,#ff7200,#ff6700,#ff7c00,#ff8f00,#ffae00,#ffdd00,#fffe00,#c7ff38,#a2ff5d,#76ff89,#4cffb3,#35ffca,#0efff1,#02fffd,#00e9ff,#00dbff,#00d7ff,#00c4ff,#00c9ff,#00bbff,#00bbff,#00bbff,#00b0ff,#00baff,#00adff,#00b3ff,#00b0ff,#00abff,#00b4ff,#00a7ff,#00b1ff,#00aaff,#00aaff,#00b0ff,#00a5ff,#00b1ff,#00a7ff,#00abff,#00adff,#00a6ff,#00b1ff,#00b1ff)"></i><i style="background:linear-gradient(90deg,#9fff60,#a1ff5e,#adff52,#bdff42,#d0ff2f,#ceff31,#dcff23,#ceff31,#c7ff38,#b9ff46,#9bff64,#8eff71,#67ff98,#54ffab,#37ffc8,#1bffe4,#0ffff0,#00efff,#00eaff,#00d8ff,#00cdff,#00ccff,#00bbff,#00c2ff,#00b4ff,#00b6ff,#00b5ff,#00abff,#00b5ff,#00a9ff,#00afff,#00acff,#00a7ff,#00b0ff,#00a4ff,#00aeff,#00a7ff,#00a7ff,#00adff,#00a2ff,#00aeff,#00a4ff,#00a8ff,#00abff,#00a3ff,#00aeff,#00aeff)"></i><i style="background:linear-gradient(90deg,#22ffdd,#21ffde,#1fffe0,#23ffdc,#2dffd2,#24ffdb,#31ffce,#26ffd9,#27ffd8,#23ffdc,#14ffeb,#15ffea,#00feff,#00fbff,#00edff,#00deff,#00deff,#00c9ff,#00cbff,#00beff,#00b9ff,#00baff,#00acff,#00b5ff,#00a9ff,#00abff,#00acff,#00a2ff,#00acff,#00a0ff,#00a7ff,#00a5ff,#00a0ff,#00a9ff,#009dff,#00a7ff,#00a1ff,#00a0ff,#00a7ff,#009cff,#00a8ff,#009fff,#00a3ff,#00a5ff,#009eff,#00a9ff,#00a9ff)"></i><i style="background:linear-gradient(90deg,#00daff,#00d9ff,#00d3ff,#00d3ff,#00d9ff,#00ceff,#00d8ff,#00cdff,#00cfff,#00cfff,#00c4ff,#00ccff,#00bdff,#00c0ff,#00baff,#00b1ff,#00b7ff,#00a7ff,#00aeff,#00a5ff,#00a3ff,#00a7ff,#009aff,#00a4ff,#009aff,#009dff,#009eff,#0096ff,#00a0ff,#0095ff,#009cff,#009aff,#0095ff,#009eff,#0093ff,#009dff,#0097ff,#0097ff,#009eff,#0094ff,#009fff,#0096ff,#009bff,#009dff,#0096ff,#00a1ff,#00a1ff)"></i><i style="background:linear-gradient(90deg,#00a6ff,#00a5ff,#00a1ff,#00a2ff,#00a8ff,#009dff,#00a8ff,#009eff,#00a1ff,#00a1ff,#0098ff,#00a1ff,#0095ff,#009bff,#0097ff,#0091ff,#0099ff,#008cff,#0095ff,#008eff,#008dff,#0092ff,#0087ff,#0092ff,#0089ff,#008cff,#008eff,#0086ff,#0091ff,#0086ff,#008eff,#008cff,#0088ff,#0092ff,#0087ff,#0091ff,#008cff,#008cff,#0092ff,#0089ff,#0095ff,#008cff,#0091ff,#0093ff,#008cff,#0098ff,#0098ff)"></i><i style="background:linear-gradient(90deg,#0076ff,#0076ff,#0075ff,#0079ff,#0081ff,#0078ff,#0084ff,#007bff,#007fff,#0080ff,#0078ff,#0083ff,#0077ff,#007eff,#007cff,#0077ff,#0080ff,#0074ff,#007eff,#0078ff,#0078ff,#007eff,#0074ff,#007fff,#0076ff,#007aff,#007dff,#0076ff,#0081ff,#0076ff,#007fff,#007dff,#007aff,#0083ff,#0079ff,#0083ff,#007eff,#007fff,#0085ff,#007cff,#0088ff,#0080ff,#0085ff,#0088ff,#0081ff,#008dff,#008dff)"></i><i style="background:linear-gradient(90deg,#0048ff,#0049ff,#004eff,#0055ff,#0060ff,#0059ff,#0066ff,#005fff,#0064ff,#0066ff,#005fff,#0069ff,#005fff,#0066ff,#0064ff,#0060ff,#0069ff,#005eff,#0068ff,#0063ff,#0063ff,#006aff,#0060ff,#006cff,#0064ff,#0068ff,#006bff,#0064ff,#006fff,#0066ff,#006eff,#006dff,#006aff,#0073ff,#0069ff,#0074ff,#006fff,#0070ff,#0077ff,#006eff,#007aff,#0073ff,#0078ff,#007bff,#0075ff,#0080ff,#0080ff)"></i><i style="background:linear-gradient(90deg,#0019ff,#001cff,#0027ff,#0034ff,#0042ff,#003fff,#004eff,#0048ff,#004eff,#0051ff,#004bff,#0055ff,#004bff,#0053ff,#0051ff,#004dff,#0056ff,#004cff,#0056ff,#0051ff,#0051ff,#0057ff,#004eff,#005aff,#0052ff,#0057ff,#005aff,#0053ff,#005fff,#0055ff,#005eff,#005dff,#005aff,#0064ff,#005aff,#0065ff,#0060ff,#0062ff,#0069ff,#0060ff,#006cff,#0065ff,#006aff,#006dff,#0067ff,#0073ff,#0073ff)"></i><i style="background:linear-gradient(90deg,#0000e6,#0000eb,#0000fe,#0012ff,#0026ff,#0027ff,#0038ff,#0035ff,#003dff,#0041ff,#003cff,#0047ff,#003dff,#0045ff,#0043ff,#003fff,#0048ff,#003eff,#0047ff,#0042ff,#0042ff,#0048ff,#0040ff,#004bff,#0043ff,#0048ff,#004aff,#0044ff,#004fff,#0046ff,#004eff,#004eff,#004bff,#0055ff,#004cff,#0056ff,#0052ff,#0053ff,#005aff,#0052ff,#005eff,#0057ff,#005dff,#0060ff,#005aff,#0066ff,#0066ff)"></i><i style="background:linear-gradient(90deg,#0000b9,#0000bf,#0000da,#0000f3,#000dff,#0013ff,#0028ff,#0028ff,#0031ff,#0037ff,#0033ff,#003fff,#0036ff,#003eff,#003cff,#0038ff,#0040ff,#0036ff,#003fff,#003aff,#003aff,#003fff,#0036ff,#0040ff,#0038ff,#003dff,#003fff,#0039ff,#0043ff,#003aff,#0042ff,#0041ff,#003fff,#0048ff,#003fff,#0049ff,#0045ff,#0047ff,#004dff,#0046ff,#0051ff,#004bff,#0050ff,#0053ff,#004eff,#0059ff,#0059ff)"></i><i style="background:linear-gradient(90deg,#00009f,#0000a6,#0000c5,#0000e2,#0000fe,#0008ff,#0020ff,#0023ff,#002fff,#0036ff,#0034ff,#0040ff,#0038ff,#003fff,#003eff,#003aff,#0041ff,#0037ff,#003fff,#0039ff,#0038ff,#003dff,#0033ff,#003cff,#0034ff,#0037ff,#0039ff,#0033ff,#003cff,#0033ff,#003aff,#0039ff,#0036ff,#003eff,#0036ff,#003fff,#003bff,#003cff,#0043ff,#003bff,#0046ff,#0040ff,#0045ff,#0048ff,#0043ff,#004eff,#004eff)"></i><i style="background:linear-gradient(90deg,#00009f,#0000a5,#0000c2,#0000df,#0000fc,#0007ff,#0021ff,#0025ff,#0032ff,#003bff,#003aff,#0047ff,#0040ff,#0048ff,#0046ff,#0042ff,#0049ff,#003fff,#0046ff,#003fff,#003eff,#0041ff,#0037ff,#003fff,#0037ff,#0039ff,#003aff,#0032ff,#003bff,#0031ff,#0037ff,#0035ff,#0032ff,#003aff,#0030ff,#0039ff,#0035ff,#0035ff,#003bff,#0033ff,#003eff,#0037ff,#003cff,#003fff,#003aff,#0044ff,#0044ff)"></i><i style="background:linear-gradient(90deg,#0000a8,#0000ad,#0000c5,#0000de,#0000f9,#0005ff,#001eff,#0024ff,#0033ff,#003dff,#003eff,#004cff,#0046ff,#004fff,#004fff,#004cff,#0053ff,#0049ff,#0050ff,#0049ff,#0048ff,#004bff,#0040ff,#0047ff,#003eff,#0040ff,#0040ff,#0038ff,#003fff,#0035ff,#003aff,#0037ff,#0033ff,#003aff,#0030ff,#0038ff,#0033ff,#0033ff,#0038ff,#0030ff,#0039ff,#0032ff,#0036ff,#0039ff,#0034ff,#003dff,#003dff)"></i><i style="background:linear-gradient(90deg,#0000ae,#0000b2,#0000c3,#0000d8,#0000f0,#0000f9,#0013ff,#001aff,#0029ff,#0035ff,#0038ff,#0048ff,#0045ff,#0050ff,#0051ff,#0050ff,#0059ff,#0050ff,#0058ff,#0053ff,#0052ff,#0055ff,#004bff,#0052ff,#0049ff,#004aff,#0049ff,#0041ff,#0047ff,#003dff,#0041ff,#003eff,#0039ff,#003eff,#0034ff,#003bff,#0035ff,#0035ff,#0039ff,#0030ff,#0039ff,#0032ff,#0035ff,#0037ff,#0031ff,#003aff,#003aff)"></i><i style="background:linear-gradient(90deg,#0000ae,#0000b0,#0000bb,#0000cb,#0000e0,#0000e7,#0000ff,#0007ff,#0017ff,#0024ff,#0029ff,#003aff,#003aff,#0047ff,#004bff,#004dff,#0057ff,#0051ff,#005bff,#0057ff,#0058ff,#005cff,#0054ff,#005bff,#0053ff,#0054ff,#0054ff,#004cff,#0052ff,#0048ff,#004bff,#0048ff,#0043ff,#0047ff,#003dff,#0043ff,#003dff,#003bff,#003eff,#0035ff,#003dff,#0035ff,#0038ff,#0039ff,#0032ff,#003aff,#003aff)"></i><i style="background:linear-gradient(90deg,#0000a9,#0000aa,#0000b1,#0000bd,#0000ce,#0000d3,#0000e8,#0000ee,#0000fe,#000cff,#0012ff,#0024ff,#0026ff,#0035ff,#003bff,#0040ff,#004cff,#004aff,#0055ff,#0054ff,#0057ff,#005dff,#0057ff,#0060ff,#005aff,#005cff,#005dff,#0056ff,#005dff,#0053ff,#0057ff,#0053ff,#004eff,#0053ff,#0048ff,#004dff,#0047ff,#0045ff,#0047ff,#003eff,#0045ff,#003dff,#003eff,#003eff,#0038ff,#003fff,#003fff)"></i><i style="background:linear-gradient(90deg,#0000a4,#0000a4,#0000a8,#0000b1,#0000be,#0000c1,#0000d3,#0000d8,#0000e5,#0000f2,#0000f8,#000bff,#000eff,#001dff,#0025ff,#002bff,#003aff,#003aff,#0047ff,#0049ff,#004eff,#0057ff,#0054ff,#005eff,#005aff,#005fff,#0061ff,#005cff,#0064ff,#005cff,#0060ff,#005dff,#0059ff,#005eff,#0054ff,#0059ff,#0053ff,#0051ff,#0053ff,#004aff,#0050ff,#0047ff,#0048ff,#0048ff,#0041ff,#0047ff,#0047ff)"></i><i style="background:linear-gradient(90deg,#00009f,#00009f,#0000a1,#0000a8,#0000b2,#0000b3,#0000c2,#0000c5,#0000d0,#0000db,#0000e0,#0000f1,#0000f4,#0004ff,#000cff,#0013ff,#0022ff,#0024ff,#0033ff,#0037ff,#003eff,#0048ff,#0048ff,#0054ff,#0053ff,#0059ff,#005eff,#005bff,#0064ff,#005fff,#0064ff,#0063ff,#0061ff,#0066ff,#005eff,#0063ff,#005eff,#005dff,#005fff,#0056ff,#005bff,#0054ff,#0054ff,#0054ff,#004dff,#0052ff,#0052ff)"></i><i style="background:linear-gradient(90deg,#00009a,#00009a,#00009c,#0000a1,#0000a9,#0000a9,#0000b6,#0000b7,#0000c0,#0000c9,#0000cc,#0000db,#0000dd,#0000eb,#0000f3,#0000f9,#0009ff,#000bff,#001aff,#0020ff,#0028ff,#0034ff,#0035ff,#0043ff,#0044ff,#004cff,#0053ff,#0053ff,#005eff,#005bff,#0062ff,#0063ff,#0062ff,#0069ff,#0063ff,#0069ff,#0066ff,#0065ff,#0068ff,#0061ff,#0066ff,#005fff,#0060ff,#005fff,#0059ff,#005eff,#005eff)"></i><i style="background:linear-gradient(90deg,#000096,#000096,#000097,#00009b,#0000a3,#0000a2,#0000ad,#0000ad,#0000b5,#0000bc,#0000be,#0000cb,#0000cc,#0000d8,#0000de,#0000e4,#0000f1,#0000f3,#0003ff,#0008ff,#0010ff,#001cff,#001fff,#002dff,#0030ff,#003aff,#0042ff,#0044ff,#0050ff,#004fff,#0059ff,#005cff,#005dff,#0066ff,#0062ff,#006aff,#0068ff,#0069ff,#006dff,#0067ff,#006eff,#0068ff,#006aff,#006aff,#0064ff,#0069ff,#0069ff)"></i><i style="background:linear-gradient(90deg,#000092,#000092,#000093,#000097,#00009f,#00009d,#0000a7,#0000a7,#0000ad,#0000b3,#0000b4,#0000bf,#0000bf,#0000ca,#0000cf,#0000d3,#0000df,#0000e0,#0000ed,#0000f1,#0000f9,#0005ff,#0008ff,#0016ff,#001aff,#0024ff,#002dff,#0030ff,#003dff,#003eff,#0049ff,#004eff,#0051ff,#005bff,#005aff,#0063ff,#0063ff,#0066ff,#006cff,#0068ff,#0070ff,#006cff,#006fff,#0070ff,#006cff,#0071ff,#0071ff)"></i><i style="background:linear-gradient(90deg,#00008d,#00008e,#00008f,#000094,#00009b,#00009a,#0000a3,#0000a3,#0000a8,#0000ad,#0000ae,#0000b7,#0000b7,#0000c1,#0000c5,#0000c8,#0000d2,#0000d2,#0000dd,#0000e1,#0000e7,#0000f1,#0000f3,#0001ff,#0004ff,#000eff,#0017ff,#001bff,#0028ff,#002aff,#0035ff,#003bff,#0040ff,#004bff,#004bff,#0056ff,#0058ff,#005dff,#0064ff,#0063ff,#006cff,#006aff,#006eff,#0071ff,#006eff,#0075ff,#0075ff)"></i><i style="background:linear-gradient(90deg,#00008c,#00008d,#00008f,#000093,#00009a,#000099,#0000a2,#0000a1,#0000a7,#0000ab,#0000ab,#0000b4,#0000b4,#0000bc,#0000c0,#0000c3,#0000cb,#0000cb,#0000d4,#0000d6,#0000db,#0000e3,#0000e4,#0000ef,#0000f2,#0000fa,#0003ff,#0007ff,#0013ff,#0015ff,#0020ff,#0027ff,#002cff,#0038ff,#0039ff,#0045ff,#0048ff,#004eff,#0057ff,#0057ff,#0061ff,#0062ff,#0067ff,#006cff,#006bff,#0073ff,#0073ff)"></i><i style="background:linear-gradient(90deg,#00008c,#00008d,#00008f,#000093,#00009a,#000099,#0000a2,#0000a1,#0000a6,#0000aa,#0000aa,#0000b2,#0000b3,#0000bb,#0000bf,#0000c1,#0000c9,#0000c7,#0000cf,#0000d0,#0000d4,#0000db,#0000db,#0000e4,#0000e5,#0000ec,#0000f2,#0000f5,#0001ff,#0003ff,#000dff,#0013ff,#0018ff,#0023ff,#0026ff,#0031ff,#0035ff,#003cff,#0045ff,#0047ff,#0052ff,#0054ff,#005bff,#0061ff,#0062ff,#006bff,#006bff)"></i><i style="background:linear-gradient(90deg,#00008c,#00008c,#00008f,#000093,#000099,#000099,#0000a1,#0000a1,#0000a6,#0000aa,#0000aa,#0000b1,#0000b3,#0000bb,#0000bf,#0000c1,#0000c9,#0000c7,#0000cf,#0000cf,#0000d2,#0000d7,#0000d6,#0000de,#0000de,#0000e3,#0000e8,#0000e9,#0000f3,#0000f3,#0000fc,#0002ff,#0007ff,#0011ff,#0013ff,#001eff,#0022ff,#0029ff,#0032ff,#0035ff,#0040ff,#0043ff,#004bff,#0052ff,#0055ff,#005eff,#005eff)"></i><i style="background:linear-gradient(90deg,#00008c,#00008c,#00008f,#000093,#000099,#000099,#0000a1,#0000a1,#0000a6,#0000aa,#0000aa,#0000b1,#0000b3,#0000bb,#0000bf,#0000c2,#0000ca,#0000c9,#0000d0,#0000d1,#0000d3,#0000d8,#0000d6,#0000dc,#0000db,#0000df,#0000e3,#0000e3,#0000ea,#0000ea,#0000f1,#0000f5,#0000f8,#0001ff,#0003ff,#000cff,#0010ff,#0017ff,#001fff,#0022ff,#002dff,#0031ff,#0039ff,#0040ff,#0044ff,#004eff,#004eff)"></i><i style="background:linear-gradient(90deg,#00008c,#00008c,#00008f,#000093,#000099,#00009a,#0000a1,#0000a1,#0000a6,#0000aa,#0000aa,#0000b1,#0000b3,#0000bb,#0000c0,#0000c3,#0000cb,#0000cb,#0000d2,#0000d4,#0000d6,#0000da,#0000d9,#0000de,#0000dd,#0000e0,#0000e2,#0000e1,#0000e7,#0000e5,#0000eb,#0000ed,#0000ef,#0000f5,#0000f6,#0000fe,#0002ff,#0007ff,#000fff,#0011ff,#001bff,#001fff,#0026ff,#002eff,#0032ff,#003cff,#003cff)"></i><i style="background:linear-gradient(90deg,#00008c,#00008c,#00008f,#000093,#000099,#00009a,#0000a1,#0000a1,#0000a6,#0000a9,#0000aa,#0000b0,#0000b2,#0000ba,#0000bf,#0000c3,#0000cc,#0000cd,#0000d4,#0000d6,#0000da,#0000de,#0000dd,#0000e2,#0000e1,#0000e3,#0000e5,#0000e4,#0000e8,#0000e6,#0000e9,#0000ea,#0000ea,#0000ef,#0000ee,#0000f5,#0000f6,#0000fa,#0002ff,#0003ff,#000cff,#000fff,#0016ff,#001cff,#0020ff,#002aff,#002aff)"></i><i style="background:linear-gradient(90deg,#00008b,#00008c,#00008f,#000093,#000099,#00009a,#0000a1,#0000a1,#0000a6,#0000a9,#0000aa,#0000b0,#0000b2,#0000b9,#0000be,#0000c3,#0000cb,#0000cd,#0000d5,#0000d8,#0000dc,#0000e2,#0000e2,#0000e7,#0000e7,#0000e9,#0000eb,#0000e9,#0000ed,#0000ea,#0000ec,#0000ec,#0000eb,#0000ee,#0000ec,#0000f0,#0000f1,#0000f3,#0000f8,#0000f8,#0001ff,#0002ff,#0008ff,#000eff,#0011ff,#0019ff,#0019ff)"></i><i style="background:linear-gradient(90deg,#00008b,#00008c,#00008f,#000093,#000099,#00009a,#0000a0,#0000a2,#0000a6,#0000a9,#0000aa,#0000b0,#0000b1,#0000b8,#0000bd,#0000c1,#0000c9,#0000cc,#0000d4,#0000d8,#0000dd,#0000e4,#0000e5,#0000eb,#0000ec,#0000ef,#0000f1,#0000f0,#0000f3,#0000f1,#0000f2,#0000f2,#0000ef,#0000f1,#0000ed,#0000f0,#0000ef,#0000f0,#0000f3,#0000f3,#0000f8,#0000f9,#0000fd,#0003ff,#0005ff,#000cff,#000cff)"></i><i style="background:linear-gradient(90deg,#00008b,#00008c,#00008f,#000093,#000099,#00009a,#0000a0,#0000a2,#0000a6,#0000a9,#0000aa,#0000b0,#0000b1,#0000b7,#0000bb,#0000bf,#0000c6,#0000c9,#0000d2,#0000d6,#0000dc,#0000e3,#0000e6,#0000ed,#0000ef,#0000f3,#0000f6,#0000f7,#0000fa,#0000f8,#0000fa,#0000f9,#0000f6,#0000f7,#0000f2,#0000f4,#0000f2,#0000f1,#0000f3,#0000f1,#0000f5,#0000f5,#0000f8,#0000fb,#0000fc,#0003ff,#0003ff)"></i><i style="background:linear-gradient(90deg,#00008b,#00008c,#00008f,#000093,#000099,#00009a,#0000a0,#0000a2,#0000a6,#0000a9,#0000aa,#0000af,#0000b0,#0000b6,#0000b9,#0000bd,#0000c3,#0000c6,#0000ce,#0000d3,#0000d9,#0000e1,#0000e4,#0000ed,#0000f0,#0000f5,#0000fa,#0000fb,#0001ff,#0001ff,#0003ff,#0003ff,#0000ff,#0000fe,#0000fa,#0000fa,#0000f7,#0000f6,#0000f6,#0000f3,#0000f6,#0000f4,#0000f6,#0000f7,#0000f8,#0000fc,#0000fc)"></i><i style="background:linear-gradient(90deg,#00008b,#00008c,#00008f,#000093,#000099,#00009a,#0000a0,#0000a2,#0000a6,#0000a9,#0000aa,#0000af,#0000b0,#0000b5,#0000b8,#0000bb,#0000c1,#0000c3,#0000ca,#0000cf,#0000d5,#0000dc,#0000e1,#0000e9,#0000ee,#0000f5,#0000fa,#0000fe,#0005ff,#0006ff,#000aff,#000aff,#0008ff,#0008ff,#0003ff,#0003ff,#0000ff,#0000fd,#0000fc,#0000f9,#0000fa,#0000f7,#0000f7,#0000f8,#0000f7,#0000fa,#0000fa)"></i><i style="background:linear-gradient(90deg,#00008b,#00008b,#00008f,#000093,#000098,#00009a,#0000a0,#0000a2,#0000a6,#0000a9,#0000ab,#0000af,#0000b0,#0000b4,#0000b7,#0000b9,#0000be,#0000c0,#0000c6,#0000ca,#0000d0,#0000d7,#0000db,#0000e4,#0000e9,#0000f1,#0000f8,#0000fc,#0005ff,#0008ff,#000dff,#000fff,#000eff,#000fff,#000bff,#000bff,#0008ff,#0006ff,#0005ff,#0001ff,#0001ff,#0000fd,#0000fc,#0000fb,#0000f9,#0000fb,#0000fb)"></i><i style="background:linear-gradient(90deg,#00008b,#00008b,#00008f,#000093,#000098,#00009b,#0000a0,#0000a2,#0000a6,#0000a9,#0000ab,#0000af,#0000b0,#0000b4,#0000b6,#0000b8,#0000bd,#0000be,#0000c3,#0000c7,#0000cb,#0000d2,#0000d6,#0000de,#0000e3,#0000eb,#0000f2,#0000f8,#0001ff,#0006ff,#000dff,#0011ff,#0012ff,#0013ff,#0011ff,#0012ff,#0010ff,#000eff,#000dff,#0009ff,#0009ff,#0005ff,#0004ff,#0002ff,#0000ff,#0000ff,#0000ff)"></i><i style="background:linear-gradient(90deg,#00008b,#00008b,#00008f,#000093,#000098,#00009b,#0000a0,#0000a2,#0000a6,#0000a9,#0000ab,#0000af,#0000b0,#0000b4,#0000b6,#0000b8,#0000bc,#0000bd,#0000c1,#0000c4,#0000c8,#0000cd,#0000d1,#0000d8,#0000dc,#0000e4,#0000eb,#0000f1,#0000fa,#0001ff,#0009ff,#000fff,#0011ff,#0014ff,#0014ff,#0016ff,#0015ff,#0014ff,#0014ff,#0011ff,#0010ff,#000dff,#000cff,#000aff,#0007ff,#0006ff,#0006ff)"></i><i style="background:linear-gradient(90deg,#00008a,#00008b,#00008f,#000093,#000098,#00009b,#0000a0,#0000a2,#0000a6,#0000a9,#0000ab,#0000af,#0000b0,#0000b3,#0000b6,#0000b7,#0000bb,#0000bc,#0000c0,#0000c2,#0000c5,#0000c9,#0000cc,#0000d2,#0000d6,#0000dd,#0000e3,#0000e9,#0000f2,#0000f8,#0002ff,#0009ff,#000dff,#0012ff,#0013ff,#0017ff,#0017ff,#0018ff,#0019ff,#0017ff,#0017ff,#0015ff,#0013ff,#0012ff,#000fff,#000eff,#000eff)"></i><i style="background:linear-gradient(90deg,#00008a,#00008b,#00008f,#000093,#000098,#00009b,#0000a0,#0000a2,#0000a6,#0000a9,#0000ab,#0000af,#0000b0,#0000b3,#0000b6,#0000b7,#0000bb,#0000bc,#0000bf,#0000c1,#0000c3,#0000c7,#0000c9,#0000ce,#0000d1,#0000d7,#0000dc,#0000e2,#0000ea,#0000f0,#0000f8,#0001ff,#0006ff,#000cff,#000fff,#0014ff,#0016ff,#0019ff,#001bff,#001aff,#001cff,#001aff,#001aff,#0019ff,#0016ff,#0016ff,#0016ff)"></i><i style="background:linear-gradient(90deg,#00008a,#00008b,#00008f,#000093,#000098,#00009b,#0000a0,#0000a2,#0000a6,#0000a9,#0000ab,#0000af,#0000b0,#0000b3,#0000b6,#0000b7,#0000ba,#0000bb,#0000bf,#0000c0,#0000c2,#0000c5,#0000c7,#0000cb,#0000ce,#0000d2,#0000d7,#0000db,#0000e2,#0000e7,#0000ef,#0000f6,#0000fc,#0003ff,#0008ff,#000eff,#0012ff,#0015ff,#0019ff,#001bff,#001dff,#001dff,#001eff,#001eff,#001dff,#001cff,#001cff)"></i><i style="background:linear-gradient(90deg,#00008a,#00008b,#00008f,#000093,#000098,#00009b,#0000a0,#0000a2,#0000a6,#0000a9,#0000ab,#0000af,#0000b0,#0000b3,#0000b5,#0000b7,#0000ba,#0000bb,#0000be,#0000c0,#0000c2,#0000c4,#0000c6,#0000c9,#0000cb,#0000cf,#0000d2,#0000d6,#0000db,#0000e0,#0000e7,#0000ed,#0000f2,#0000f9,#0000fe,#0006ff,#000aff,#000fff,#0014ff,#0017ff,#001bff,#001dff,#001fff,#0021ff,#0020ff,#0021ff,#0021ff)"></i><i style="background:linear-gradient(90deg,#00008a,#00008b,#00008f,#000094,#000098,#00009b,#00009f,#0000a2,#0000a6,#0000a9,#0000ab,#0000af,#0000b0,#0000b3,#0000b5,#0000b7,#0000ba,#0000bb,#0000be,#0000c0,#0000c2,#0000c4,#0000c5,#0000c8,#0000ca,#0000cc,#0000cf,#0000d2,#0000d7,#0000da,#0000e0,#0000e5,#0000ea,#0000f0,#0000f5,#0000fb,#0002ff,#0007ff,#000dff,#0011ff,#0017ff,#001aff,#001dff,#0020ff,#0021ff,#0023ff,#0023ff)"></i><i style="background:linear-gradient(90deg,#00008a,#00008b,#00008f,#000094,#000098,#00009b,#00009f,#0000a2,#0000a6,#0000a9,#0000ab,#0000af,#0000b0,#0000b3,#0000b5,#0000b7,#0000ba,#0000bb,#0000be,#0000c0,#0000c2,#0000c4,#0000c5,#0000c8,#0000c9,#0000cb,#0000ce,#0000d0,#0000d3,#0000d6,#0000da,#0000df,#0000e3,#0000e8,#0000ec,#0000f2,#0000f8,#0000fd,#0004ff,#0009ff,#000fff,#0014ff,#0018ff,#001cff,#001fff,#0022ff,#0022ff)"></i><i style="background:linear-gradient(90deg,#00008a,#00008b,#00008f,#000094,#000098,#00009b,#00009f,#0000a2,#0000a6,#0000a9,#0000ab,#0000ae,#0000b0,#0000b3,#0000b5,#0000b7,#0000ba,#0000bc,#0000be,#0000c0,#0000c1,#0000c4,#0000c5,#0000c7,#0000c8,#0000cb,#0000cd,#0000ce,#0000d1,#0000d3,#0000d7,#0000da,#0000dd,#0000e2,#0000e5,#0000eb,#0000ef,#0000f5,#0000fa,#0000ff,#0007ff,#000cff,#0011ff,#0016ff,#001aff,#001eff,#001eff)"></i><i style="background:linear-gradient(90deg,#00008a,#00008b,#00008f,#000094,#000098,#00009b,#00009f,#0000a2,#0000a6,#0000a9,#0000ab,#0000ae,#0000b0,#0000b3,#0000b5,#0000b7,#0000ba,#0000bc,#0000be,#0000c0,#0000c1,#0000c4,#0000c5,#0000c7,#0000c8,#0000ca,#0000cc,#0000cd,#0000d0,#0000d2,#0000d4,#0000d7,#0000d9,#0000dd,#0000e0,#0000e4,#0000e8,#0000ed,#0000f2,#0000f7,#0000fd,#0003ff,#0009ff,#000eff,#0013ff,#0018ff,#0018ff)"></i><i style="background:linear-gradient(90deg,#00008a,#00008b,#00008f,#000094,#000098,#00009b,#00009f,#0000a2,#0000a6,#0000a9,#0000ab,#0000ae,#0000b0,#0000b3,#0000b5,#0000b8,#0000ba,#0000bc,#0000be,#0000c0,#0000c1,#0000c4,#0000c5,#0000c7,#0000c8,#0000ca,#0000cc,#0000cd,#0000cf,#0000d1,#0000d3,#0000d5,#0000d7,#0000da,#0000dc,#0000e0,#0000e3,#0000e7,#0000eb,#0000ef,#0000f5,#0000fa,#0000ff,#0005ff,#000bff,#0010ff,#0010ff)"></i><i style="background:linear-gradient(90deg,#00008a,#00008b,#00008f,#000094,#000098,#00009b,#00009f,#0000a2,#0000a6,#0000a9,#0000ab,#0000ae,#0000b0,#0000b3,#0000b5,#0000b8,#0000ba,#0000bc,#0000be,#0000c0,#0000c1,#0000c3,#0000c5,#0000c7,#0000c8,#0000ca,#0000cc,#0000cd,#0000cf,#0000d0,#0000d2,#0000d4,#0000d6,#0000d8,#0000da,#0000dd,#0000df,#0000e2,#0000e6,#0000e9,#0000ee,#0000f2,#0000f7,#0000fc,#0002ff,#0008ff,#0008ff)"></i><i style="background:linear-gradient(90deg,#00008a,#00008b,#00008f,#000094,#000098,#00009b,#00009f,#0000a2,#0000a6,#0000a9,#0000ab,#0000ae,#0000b1,#0000b3,#0000b5,#0000b8,#0000ba,#0000bc,#0000be,#0000c0,#0000c1,#0000c3,#0000c5,#0000c7,#0000c8,#0000ca,#0000cc,#0000cd,#0000cf,#0000d0,#0000d2,#0000d3,#0000d5,#0000d7,#0000d8,#0000db,#0000dd,#0000df,#0000e2,#0000e5,#0000e9,#0000ec,#0000f0,#0000f5,#0000f9,#0000ff,#0000ff)"></i><i style="background:linear-gradient(90deg,#00008a,#00008b,#00008f,#000094,#000098,#00009b,#00009f,#0000a2,#0000a6,#0000a9,#0000ab,#0000ae,#0000b1,#0000b3,#0000b5,#0000b8,#0000ba,#0000bc,#0000be,#0000c0,#0000c1,#0000c3,#0000c5,#0000c7,#0000c8,#0000ca,#0000cc,#0000cd,#0000cf,#0000d0,#0000d2,#0000d3,#0000d4,#0000d6,#0000d7,#0000da,#0000db,#0000dd,#0000e0,#0000e2,#0000e5,#0000e8,#0000eb,#0000ef,#0000f3,#0000f7,#0000f7)"></i><i style="background:linear-gradient(90deg,#00008a,#00008b,#00008f,#000094,#000098,#00009b,#00009f,#0000a2,#0000a6,#0000a9,#0000ab,#0000ae,#0000b1,#0000b3,#0000b5,#0000b8,#0000ba,#0000bc,#0000be,#0000c0,#0000c1,#0000c3,#0000c5,#0000c7,#0000c8,#0000ca,#0000cc,#0000cd,#0000cf,#0000d0,#0000d1,#0000d3,#0000d4,#0000d6,#0000d7,#0000d9,#0000da,#0000dc,#0000de,#0000e0,#0000e2,#0000e5,#0000e7,#0000eb,#0000ee,#0000f2,#0000f2)"></i><i style="background:linear-gradient(90deg,#00008a,#00008b,#00008f,#000094,#000098,#00009b,#00009f,#0000a2,#0000a6,#0000a9,#0000ab,#0000ae,#0000b1,#0000b3,#0000b5,#0000b8,#0000ba,#0000bc,#0000be,#0000c0,#0000c1,#0000c3,#0000c5,#0000c7,#0000c8,#0000ca,#0000cc,#0000cd,#0000cf,#0000d0,#0000d1,#0000d3,#0000d4,#0000d6,#0000d7,#0000d9,#0000da,#0000dc,#0000de,#0000df,#0000e2,#0000e4,#0000e7,#0000ea,#0000ed,#0000f0,#0000f0)"></i><i style="background:linear-gradient(90deg,#00008a,#00008b,#00008f,#000094,#000098,#00009b,#00009f,#0000a2,#0000a6,#0000a9,#0000ab,#0000ae,#0000b1,#0000b3,#0000b5,#0000b8,#0000ba,#0000bc,#0000be,#0000c0,#0000c1,#0000c3,#0000c5,#0000c7,#0000c8,#0000ca,#0000cc,#0000cd,#0000cf,#0000d0,#0000d1,#0000d3,#0000d4,#0000d6,#0000d7,#0000d9,#0000da,#0000dc,#0000de,#0000df,#0000e2,#0000e4,#0000e7,#0000ea,#0000ed,#0000f0,#0000f0)"></i></b></div>
<div class="hm" id="hcl"><b><i style="background:linear-gradient(90deg,#00d,#00d,#00d,#00d,#00e,#00f,#02f,#04f,#06f,#06f,#04f,#03f,#03f,#04f,#03f,#01f,#00e,#00d,#00c,#00d,#00d,#00f,#00f,#00e,#00d,#00d,#00f,#04f,#08f,#07f,#02f,#00e,#00d,#00e,#01f,#03f,#02f,#00e,#00d,#00d,#00e,#03f,#09f,#0bf,#06f,#02f,#01f,#04f,#0bf,#0ff,#0ff,#07f,#02f,#00f,#01f,#05f,#08f,#07f,#02f,#00e,#00e,#00e,#01f,#02f,#01f,#00e,#00d,#00d,#00d,#00d,#00e,#00e,#00d,#00d,#00d,#00d,#00e,#00e,#00e,#00e,#00e,#00e,#00e,#00d,#00d,#00d,#00d,#00e,#01f,#01f,#01f,#01f,#01f,#04f,#09f,#0cf,#0af,#04f,#01f,#00e,#00f,#01f,#02f,#00f,#00d,#00c,#00c,#00d,#01f,#02f,#02f)"></i><i style="background:linear-gradient(90deg,#00d,#00d,#00d,#00d,#00e,#00f,#01f,#04f,#05f,#05f,#04f,#04f,#04f,#04f,#03f,#01f,#00e,#00d,#00c,#00d,#00d,#00e,#00f,#00e,#00d,#00d,#00f,#04f,#08f,#07f,#02f,#00e,#00d,#00e,#01f,#04f,#02f,#00e,#00d,#00d,#00e,#03f,#0af,#0af,#06f,#02f,#01f,#05f,#0bf,#0ff,#0ff,#07f,#02f,#00f,#01f,#05f,#08f,#06f,#02f,#00e,#00e,#00e,#01f,#02f,#01f,#00e,#00d,#00d,#00d,#00d,#00e,#00e,#00d,#00d,#00d,#00d,#00e,#00e,#00e,#00e,#00e,#00e,#00e,#00d,#00d,#00d,#00d,#00e,#01f,#01f,#01f,#00f,#01f,#04f,#08f,#0bf,#09f,#04f,#00f,#00e,#00f,#01f,#02f,#00f,#00d,#00c,#00c,#00d,#01f,#02f,#02f)"></i><i style="background:linear-gradient(90deg,#00e,#00e,#00e,#00e,#00e,#00e,#00e,#00f,#02f,#02f,#03f,#03f,#04f,#05f,#04f,#02f,#00e,#00d,#00c,#00c,#00d,#00d,#00c,#00c,#00c,#00c,#00d,#00f,#03f,#02f,#00f,#00e,#00e,#01f,#06f,#07f,#04f,#00f,#00d,#00d,#00f,#05f,#09f,#07f,#03f,#00f,#01f,#06f,#0ef,#0ff,#0df,#05f,#01f,#00f,#03f,#06f,#08f,#04f,#00f,#00d,#00d,#00e,#02f,#03f,#01f,#00e,#00d,#00d,#00e,#00f,#00f,#00f,#00e,#00d,#00e,#00f,#01f,#02f,#02f,#02f,#01f,#01f,#01f,#01f,#00f,#00e,#00e,#00e,#00e,#00e,#00d,#00d,#00d,#00f,#02f,#03f,#02f,#00f,#00e,#00e,#00f,#01f,#01f,#00e,#00c,#00c,#00c,#00d,#00e,#00e,#00e)"></i><i style="background:linear-gradient(90deg,#02f,#02f,#02f,#01f,#00e,#00d,#00d,#00d,#00e,#00e,#00f,#00f,#01f,#02f,#03f,#02f,#00f,#00e,#00d,#00d,#00d,#00d,#00c,#00c,#00c,#00c,#00d,#00e,#00f,#00f,#00e,#00e,#00f,#04f,#0af,#0af,#05f,#00f,#00e,#00e,#02f,#05f,#05f,#02f,#00e,#00d,#00e,#02f,#08f,#0af,#05f,#01f,#00e,#00f,#03f,#06f,#06f,#02f,#00e,#00d,#00d,#00f,#04f,#04f,#02f,#00f,#00e,#00e,#02f,#04f,#05f,#03f,#01f,#00f,#01f,#03f,#05f,#05f,#05f,#04f,#03f,#04f,#04f,#03f,#02f,#01f,#00f,#00e,#00e,#00d,#00d,#00c,#00d,#00d,#00d,#00e,#00d,#00d,#00d,#00e,#00f,#02f,#01f,#00e,#00d,#00c,#00c,#00d,#00e,#00e,#00e)"></i><i style="background:linear-gradient(90deg,#08f,#08f,#08f,#04f,#01f,#00e,#00d,#00d,#00d,#00d,#00d,#00d,#00e,#00f,#01f,#01f,#01f,#01f,#01f,#02f,#02f,#00f,#00e,#00d,#00c,#00d,#00d,#00e,#00e,#00d,#00d,#00d,#00f,#05f,#09f,#09f,#04f,#00f,#00e,#00f,#03f,#04f,#02f,#00e,#00c,#00c,#00d,#00e,#02f,#02f,#00e,#00d,#00d,#00e,#02f,#06f,#05f,#01f,#00d,#00d,#00e,#03f,#06f,#06f,#03f,#00f,#00f,#02f,#07f,#0bf,#0af,#06f,#02f,#02f,#03f,#05f,#07f,#07f,#04f,#03f,#02f,#03f,#04f,#04f,#03f,#02f,#01f,#00f,#00e,#00d,#00d,#00d,#00c,#00d,#00d,#00d,#00d,#00d,#00d,#00e,#01f,#03f,#03f,#01f,#00e,#00e,#00e,#01f,#02f,#01f,#01f)"></i><i style="background:linear-gradient(90deg,#08f,#08f,#08f,#06f,#02f,#00f,#00e,#00d,#00d,#00e,#00f,#00f,#00e,#00e,#00f,#00f,#01f,#02f,#04f,#05f,#05f,#04f,#02f,#01f,#00f,#00f,#01f,#01f,#00f,#00e,#00e,#00e,#00d,#00f,#03f,#02f,#00f,#00d,#00e,#00f,#02f,#02f,#00f,#00d,#00c,#00d,#00e,#00f,#01f,#00f,#00e,#00d,#00c,#00d,#01f,#04f,#03f,#00e,#00e,#00f,#01f,#03f,#04f,#03f,#01f,#01f,#01f,#03f,#06f,#08f,#05f,#02f,#00f,#01f,#02f,#04f,#04f,#02f,#00f,#00f,#01f,#00f,#01f,#02f,#02f,#02f,#01f,#00f,#01f,#00f,#00e,#00e,#00e,#00e,#00e,#00e,#00d,#00c,#00d,#00e,#02f,#03f,#02f,#01f,#01f,#01f,#02f,#03f,#04f,#04f,#04f)"></i><i style="background:linear-gradient(90deg,#01f,#01f,#01f,#02f,#01f,#00f,#00e,#00d,#00d,#00f,#04f,#05f,#01f,#00e,#00e,#00f,#00f,#00f,#00e,#00e,#00e,#00e,#00e,#00f,#00f,#00f,#01f,#01f,#00e,#00e,#01f,#02f,#00f,#00f,#02f,#04f,#01f,#00c,#00c,#00e,#01f,#01f,#00e,#00d,#00d,#00e,#01f,#02f,#02f,#02f,#01f,#00f,#00d,#00d,#01f,#04f,#03f,#00e,#00d,#00f,#01f,#00e,#00b,#00b,#00f,#03f,#03f,#02f,#01f,#00e,#00d,#00e,#00f,#01f,#02f,#02f,#01f,#00e,#00d,#00f,#02f,#00e,#00c,#00c,#00f,#03f,#02f,#01f,#02f,#00f,#00d,#00e,#01f,#03f,#02f,#01f,#00e,#00d,#00d,#00e,#01f,#01f,#00f,#00e,#00e,#00e,#00e,#00e,#01f,#02f,#02f)"></i><i style="background:linear-gradient(90deg,#00f,#00f,#00f,#00f,#00d,#00e,#00e,#00e,#00e,#01f,#05f,#07f,#01f,#00c,#00c,#01f,#04f,#02f,#01f,#00f,#00e,#00e,#00d,#00e,#00f,#01f,#01f,#01f,#00e,#00d,#00f,#03f,#02f,#00f,#02f,#06f,#04f,#00c,#00b,#00d,#02f,#03f,#01f,#00f,#00e,#00e,#00e,#00f,#00f,#00f,#01f,#02f,#01f,#01f,#01f,#04f,#04f,#00d,#00c,#00e,#02f,#01f,#00d,#00d,#00f,#02f,#01f,#00f,#00e,#00d,#00d,#01f,#04f,#05f,#03f,#01f,#00e,#00e,#00e,#01f,#03f,#01f,#00d,#00c,#00e,#02f,#02f,#01f,#02f,#00f,#00d,#00e,#02f,#05f,#04f,#01f,#01f,#01f,#00f,#00e,#00e,#00e,#00e,#00e,#00f,#01f,#01f,#00f,#00f,#00f,#00f)"></i><i style="background:linear-gradient(90deg,#00f,#00f,#00f,#01f,#00d,#00e,#00f,#01f,#00f,#01f,#03f,#06f,#01f,#00a,#00b,#03f,#08f,#06f,#02f,#01f,#01f,#00e,#00d,#00d,#00e,#00f,#02f,#02f,#00f,#00d,#00e,#01f,#01f,#00f,#02f,#08f,#08f,#00f,#00c,#00d,#03f,#05f,#02f,#00f,#00e,#00e,#00e,#00e,#00f,#00f,#00f,#02f,#03f,#02f,#01f,#03f,#03f,#00e,#00d,#01f,#05f,#03f,#00f,#00e,#00f,#01f,#00e,#00d,#00d,#00e,#00e,#02f,#05f,#08f,#03f,#00d,#00c,#00e,#01f,#04f,#06f,#04f,#00e,#00d,#00d,#00f,#00f,#00f,#01f,#01f,#00e,#00f,#02f,#06f,#04f,#00e,#00f,#04f,#04f,#01f,#00e,#00e,#00e,#00f,#01f,#01f,#00f,#00e,#00e,#00e,#00e)"></i><i style="background:linear-gradient(90deg,#03f,#03f,#03f,#05f,#02f,#00f,#00f,#01f,#00f,#00e,#01f,#04f,#01f,#00c,#00c,#03f,#09f,#06f,#02f,#01f,#03f,#02f,#00f,#00f,#00f,#00f,#01f,#03f,#02f,#00e,#00d,#00e,#00e,#00e,#01f,#08f,#09f,#02f,#00e,#00e,#05f,#07f,#02f,#00f,#00f,#00f,#00e,#00f,#01f,#01f,#00f,#00f,#01f,#02f,#01f,#01f,#02f,#02f,#01f,#03f,#06f,#04f,#00f,#00e,#01f,#03f,#00f,#00e,#00e,#00f,#00f,#01f,#04f,#08f,#04f,#00c,#00b,#00f,#04f,#07f,#08f,#05f,#00f,#00e,#00e,#00e,#00e,#00e,#01f,#03f,#01f,#01f,#01f,#04f,#02f,#00c,#00d,#05f,#0af,#05f,#00f,#00e,#01f,#02f,#02f,#01f,#00f,#00e,#00e,#00e,#00e)"></i><i style="background:linear-gradient(90deg,#05f,#05f,#06f,#08f,#06f,#01f,#00f,#00f,#00e,#00d,#00e,#03f,#03f,#00f,#00e,#02f,#06f,#03f,#00e,#00f,#07f,#08f,#04f,#03f,#02f,#01f,#00f,#02f,#03f,#01f,#00e,#00e,#00e,#00f,#01f,#05f,#07f,#02f,#00e,#00e,#06f,#09f,#03f,#01f,#03f,#03f,#00f,#00f,#02f,#03f,#00f,#00d,#00e,#01f,#01f,#00f,#01f,#03f,#04f,#06f,#07f,#03f,#00e,#00e,#03f,#08f,#04f,#01f,#01f,#01f,#00d,#00d,#00f,#07f,#05f,#00d,#00d,#01f,#06f,#07f,#05f,#03f,#01f,#00f,#02f,#02f,#01f,#00f,#01f,#03f,#01f,#00f,#00f,#02f,#01f,#00c,#00d,#06f,#0df,#07f,#00e,#00d,#02f,#05f,#05f,#03f,#00f,#00d,#00e,#00f,#00f)"></i><i style="background:linear-gradient(90deg,#05f,#05f,#05f,#07f,#07f,#04f,#01f,#01f,#01f,#00f,#00f,#02f,#04f,#02f,#00f,#01f,#02f,#00e,#00c,#00e,#0af,#0cf,#06f,#03f,#03f,#02f,#01f,#01f,#05f,#05f,#01f,#00f,#00f,#01f,#02f,#02f,#02f,#00e,#00d,#00f,#07f,#0af,#05f,#02f,#04f,#06f,#01f,#00e,#02f,#06f,#03f,#00e,#00e,#02f,#02f,#00e,#00e,#01f,#05f,#07f,#06f,#02f,#00e,#00e,#04f,#0bf,#09f,#03f,#02f,#02f,#00e,#00b,#00d,#05f,#07f,#01f,#00f,#01f,#06f,#05f,#01f,#00f,#02f,#04f,#06f,#06f,#04f,#01f,#00f,#02f,#02f,#00e,#00e,#01f,#02f,#00f,#00f,#05f,#0cf,#05f,#00c,#00c,#03f,#0af,#09f,#05f,#03f,#00e,#00e,#00e,#00e)"></i><i style="background:linear-gradient(90deg,#02f,#02f,#02f,#02f,#05f,#06f,#05f,#04f,#04f,#03f,#01f,#01f,#04f,#03f,#01f,#01f,#01f,#00e,#00d,#00e,#0af,#0df,#04f,#02f,#01f,#04f,#03f,#02f,#06f,#09f,#05f,#00f,#00e,#01f,#03f,#02f,#00f,#00d,#00d,#00f,#05f,#07f,#04f,#02f,#05f,#09f,#03f,#00e,#02f,#08f,#07f,#01f,#00f,#03f,#03f,#00e,#00d,#00d,#05f,#08f,#06f,#02f,#00e,#00e,#03f,#0bf,#0bf,#04f,#03f,#04f,#02f,#00d,#00d,#04f,#08f,#02f,#00f,#00f,#04f,#03f,#00e,#00d,#03f,#08f,#08f,#07f,#05f,#01f,#00f,#02f,#05f,#02f,#00f,#01f,#02f,#02f,#00f,#03f,#08f,#02f,#00c,#00d,#04f,#0df,#0bf,#06f,#04f,#02f,#00e,#00d,#00d)"></i><i style="background:linear-gradient(90deg,#00e,#00e,#00e,#00d,#01f,#08f,#09f,#06f,#05f,#05f,#02f,#01f,#03f,#05f,#04f,#02f,#02f,#00f,#00e,#00f,#07f,#0af,#01f,#00d,#00e,#06f,#07f,#04f,#07f,#0bf,#07f,#00e,#00c,#01f,#05f,#04f,#02f,#00f,#00e,#00f,#02f,#03f,#01f,#00f,#04f,#0bf,#07f,#00f,#01f,#07f,#0af,#04f,#01f,#05f,#05f,#00f,#00d,#00d,#05f,#08f,#05f,#02f,#00e,#00d,#01f,#07f,#09f,#05f,#04f,#05f,#06f,#01f,#00f,#04f,#08f,#03f,#00e,#00e,#03f,#03f,#00f,#00e,#03f,#09f,#06f,#03f,#02f,#02f,#01f,#04f,#09f,#09f,#03f,#01f,#00f,#00f,#00f,#02f,#06f,#02f,#00d,#00f,#03f,#0bf,#08f,#03f,#03f,#05f,#02f,#01f,#01f)"></i><i style="background:linear-gradient(90deg,#00e,#00e,#00e,#00d,#00e,#08f,#0af,#04f,#02f,#04f,#04f,#02f,#04f,#08f,#08f,#04f,#02f,#01f,#00f,#01f,#05f,#06f,#00e,#00c,#00e,#06f,#08f,#04f,#04f,#09f,#09f,#00f,#00c,#02f,#08f,#07f,#04f,#03f,#02f,#01f,#00e,#00e,#00e,#00e,#03f,#0bf,#09f,#02f,#00f,#03f,#09f,#06f,#03f,#07f,#09f,#03f,#00f,#00d,#05f,#08f,#03f,#01f,#00e,#00e,#00f,#03f,#06f,#06f,#04f,#04f,#06f,#04f,#02f,#04f,#08f,#05f,#00f,#00f,#03f,#02f,#01f,#01f,#03f,#09f,#04f,#00e,#00e,#01f,#03f,#05f,#0bf,#0ef,#07f,#00f,#00d,#00e,#01f,#04f,#07f,#04f,#01f,#01f,#01f,#05f,#02f,#00d,#01f,#07f,#07f,#06f,#06f)"></i><i style="background:linear-gradient(90deg,#01f,#01f,#00f,#00d,#00d,#07f,#0af,#02f,#00e,#01f,#04f,#04f,#05f,#09f,#0af,#05f,#02f,#01f,#01f,#02f,#05f,#06f,#01f,#00d,#00e,#04f,#06f,#02f,#00f,#05f,#0af,#04f,#00e,#02f,#09f,#08f,#05f,#04f,#06f,#03f,#00e,#00e,#00f,#00f,#03f,#08f,#07f,#02f,#00e,#00e,#05f,#06f,#05f,#08f,#0bf,#06f,#01f,#00f,#06f,#08f,#01f,#00f,#00f,#01f,#01f,#01f,#04f,#05f,#03f,#01f,#02f,#04f,#03f,#05f,#08f,#08f,#04f,#02f,#04f,#02f,#00f,#01f,#04f,#0bf,#04f,#00d,#00e,#01f,#02f,#02f,#07f,#0df,#0af,#02f,#00d,#00e,#03f,#07f,#08f,#06f,#02f,#00f,#00f,#01f,#00e,#00c,#00f,#08f,#0af,#09f,#09f)"></i><i style="background:linear-gradient(90deg,#01f,#01f,#00f,#00d,#00d,#07f,#0bf,#02f,#00d,#00e,#03f,#04f,#04f,#06f,#09f,#06f,#02f,#02f,#04f,#04f,#05f,#05f,#03f,#00f,#00f,#03f,#03f,#00f,#00d,#01f,#0af,#07f,#02f,#02f,#06f,#05f,#03f,#04f,#0af,#09f,#02f,#02f,#02f,#03f,#04f,#04f,#03f,#01f,#00e,#00e,#03f,#06f,#05f,#06f,#09f,#05f,#00f,#01f,#08f,#0bf,#03f,#01f,#02f,#05f,#02f,#00f,#02f,#04f,#03f,#00e,#00e,#02f,#04f,#05f,#07f,#09f,#07f,#05f,#05f,#02f,#00e,#00f,#04f,#0df,#06f,#00e,#00e,#00f,#01f,#00f,#01f,#08f,#0af,#04f,#00e,#00f,#05f,#08f,#07f,#05f,#02f,#00f,#00f,#01f,#00e,#00d,#00f,#07f,#09f,#08f,#08f)"></i><i style="background:linear-gradient(90deg,#00f,#00f,#00f,#00d,#00f,#08f,#0cf,#04f,#00e,#00d,#02f,#02f,#01f,#02f,#06f,#06f,#03f,#04f,#06f,#05f,#02f,#03f,#05f,#05f,#04f,#03f,#02f,#00e,#00d,#00f,#08f,#08f,#03f,#02f,#02f,#02f,#00f,#03f,#0cf,#0df,#04f,#03f,#04f,#06f,#05f,#00f,#00e,#01f,#01f,#01f,#03f,#05f,#04f,#03f,#03f,#02f,#00e,#01f,#08f,#0df,#06f,#02f,#03f,#07f,#02f,#00e,#01f,#04f,#06f,#02f,#00e,#01f,#03f,#03f,#03f,#05f,#07f,#07f,#06f,#04f,#01f,#00f,#04f,#0df,#08f,#00f,#00e,#00f,#02f,#00e,#00d,#03f,#08f,#04f,#00e,#00e,#04f,#07f,#05f,#04f,#04f,#03f,#02f,#02f,#02f,#00f,#01f,#04f,#06f,#05f,#05f)"></i><i style="background:linear-gradient(90deg,#01f,#01f,#01f,#01f,#03f,#09f,#0cf,#04f,#00e,#00d,#01f,#02f,#00f,#00f,#03f,#06f,#05f,#05f,#06f,#04f,#00e,#00e,#04f,#0bf,#0bf,#06f,#02f,#00e,#00d,#00f,#06f,#07f,#03f,#02f,#01f,#01f,#00f,#02f,#09f,#0cf,#05f,#02f,#03f,#09f,#08f,#01f,#00e,#02f,#04f,#04f,#03f,#03f,#02f,#01f,#01f,#01f,#00f,#02f,#07f,#0bf,#07f,#02f,#04f,#09f,#05f,#00e,#00f,#04f,#0af,#06f,#01f,#00f,#01f,#01f,#00f,#01f,#05f,#07f,#07f,#06f,#03f,#01f,#03f,#09f,#08f,#01f,#00e,#01f,#04f,#01f,#00e,#00f,#04f,#03f,#00d,#00d,#02f,#05f,#04f,#04f,#05f,#05f,#02f,#02f,#03f,#03f,#02f,#04f,#04f,#04f,#04f)"></i><i style="background:linear-gradient(90deg,#02f,#02f,#03f,#05f,#06f,#07f,#07f,#03f,#00f,#02f,#05f,#04f,#01f,#00f,#02f,#05f,#04f,#04f,#04f,#03f,#00d,#00c,#03f,#0ef,#0ff,#07f,#01f,#00e,#00f,#03f,#07f,#06f,#02f,#02f,#02f,#02f,#02f,#02f,#05f,#08f,#03f,#00f,#03f,#0af,#0bf,#03f,#00f,#04f,#07f,#06f,#02f,#00f,#00f,#01f,#02f,#03f,#03f,#03f,#04f,#06f,#04f,#01f,#03f,#0af,#08f,#03f,#02f,#05f,#0bf,#08f,#01f,#00f,#01f,#01f,#01f,#01f,#04f,#06f,#06f,#05f,#04f,#01f,#01f,#05f,#06f,#03f,#01f,#03f,#06f,#03f,#00f,#00f,#02f,#01f,#00d,#00d,#01f,#04f,#03f,#02f,#04f,#06f,#02f,#00e,#02f,#04f,#05f,#05f,#04f,#04f,#04f)"></i><i style="background:linear-gradient(90deg,#03f,#03f,#03f,#06f,#05f,#03f,#01f,#00f,#02f,#07f,#0bf,#08f,#01f,#00e,#00f,#04f,#03f,#02f,#03f,#03f,#00f,#00e,#03f,#0cf,#0df,#05f,#00e,#00e,#03f,#08f,#0af,#08f,#02f,#01f,#02f,#04f,#03f,#03f,#04f,#07f,#04f,#01f,#02f,#08f,#0bf,#05f,#02f,#06f,#0bf,#08f,#02f,#00e,#00e,#02f,#06f,#08f,#07f,#03f,#01f,#01f,#01f,#02f,#05f,#0bf,#0cf,#08f,#04f,#03f,#08f,#07f,#02f,#02f,#04f,#05f,#04f,#03f,#03f,#03f,#02f,#02f,#03f,#03f,#02f,#03f,#05f,#05f,#03f,#03f,#04f,#03f,#01f,#00f,#02f,#02f,#00d,#00e,#01f,#03f,#02f,#00f,#01f,#04f,#01f,#00d,#01f,#04f,#06f,#05f,#03f,#03f,#03f)"></i><i style="background:linear-gradient(90deg,#02f,#02f,#02f,#04f,#04f,#02f,#00e,#00f,#04f,#0af,#0df,#08f,#01f,#00d,#00f,#04f,#05f,#02f,#03f,#04f,#03f,#02f,#03f,#08f,#0af,#02f,#00d,#00f,#07f,#0ef,#0df,#0af,#03f,#00e,#01f,#05f,#06f,#06f,#07f,#09f,#09f,#07f,#04f,#05f,#07f,#05f,#05f,#09f,#0ef,#0df,#05f,#00f,#00e,#03f,#08f,#0cf,#0cf,#06f,#00f,#00e,#02f,#05f,#09f,#0cf,#0ef,#0bf,#07f,#03f,#05f,#06f,#04f,#05f,#09f,#0af,#08f,#06f,#04f,#02f,#00e,#01f,#04f,#07f,#05f,#03f,#03f,#04f,#03f,#02f,#01f,#01f,#02f,#02f,#04f,#05f,#00f,#00e,#00f,#01f,#00e,#00d,#00e,#04f,#02f,#00e,#00f,#02f,#05f,#02f,#00f,#00f,#00f)"></i><i style="background:linear-gradient(90deg,#00e,#00e,#00e,#02f,#05f,#04f,#03f,#02f,#05f,#08f,#08f,#05f,#00f,#00e,#02f,#08f,#09f,#04f,#01f,#01f,#02f,#03f,#03f,#06f,#08f,#04f,#02f,#04f,#0af,#1fe,#1fe,#0af,#04f,#01f,#03f,#09f,#0df,#0cf,#0bf,#0df,#1fe,#0ef,#09f,#04f,#03f,#05f,#09f,#0ef,#4fb,#2fd,#08f,#02f,#00f,#04f,#0af,#0ff,#2fd,#0bf,#04f,#02f,#07f,#0ef,#0ff,#0df,#0cf,#0cf,#0af,#07f,#07f,#08f,#08f,#0af,#0df,#0df,#09f,#06f,#05f,#05f,#03f,#05f,#09f,#0bf,#08f,#03f,#01f,#01f,#03f,#03f,#01f,#01f,#02f,#03f,#05f,#05f,#02f,#00e,#00f,#00f,#00e,#00c,#00e,#03f,#03f,#01f,#00f,#00f,#01f,#00f,#00d,#00d,#00d)"></i><i style="background:linear-gradient(90deg,#00e,#00e,#00e,#01f,#05f,#07f,#07f,#05f,#04f,#03f,#03f,#02f,#01f,#02f,#06f,#0bf,#0cf,#06f,#00f,#00d,#00f,#03f,#06f,#09f,#0bf,#0af,#0af,#0af,#0bf,#0df,#0cf,#0af,#08f,#08f,#0bf,#2fd,#6f9,#3fc,#0cf,#0bf,#3fc,#8f7,#6f9,#0df,#08f,#0bf,#2fd,#6f9,#7f8,#1fe,#08f,#04f,#04f,#09f,#0ff,#4fb,#6f9,#1fe,#08f,#07f,#0ff,#bf4,#bf4,#3fc,#0af,#0af,#0ff,#2fd,#1fe,#0ef,#0cf,#0df,#0ef,#0df,#08f,#06f,#08f,#0df,#1fe,#1fe,#1fe,#0ff,#09f,#01f,#00d,#00f,#06f,#07f,#04f,#02f,#01f,#01f,#02f,#03f,#02f,#00f,#01f,#02f,#01f,#00d,#00d,#01f,#02f,#01f,#00e,#00d,#00f,#00e,#00d,#00d,#00d)"></i><i style="background:linear-gradient(90deg,#01f,#01f,#01f,#01f,#04f,#06f,#08f,#06f,#03f,#01f,#00f,#02f,#04f,#05f,#07f,#09f,#0af,#05f,#00f,#00d,#01f,#06f,#0cf,#0ff,#1fe,#0ff,#0ff,#0ff,#0cf,#0af,#0af,#0df,#1fe,#4fb,#6f9,#9f6,#bf4,#6f9,#0cf,#09f,#3fc,#fc0,#f70,#fe0,#6f9,#4fb,#8f7,#af5,#6f9,#0cf,#05f,#07f,#0ef,#7f8,#af5,#8f7,#4fb,#0ef,#08f,#0af,#9f6,#f50,#f10,#fe0,#0ff,#0af,#2fd,#9f6,#af5,#4fb,#0ff,#1fe,#2fd,#1fe,#0af,#06f,#0af,#6f9,#ff0,#ff0,#af5,#3fc,#08f,#00f,#00e,#03f,#0bf,#0cf,#09f,#03f,#00e,#00c,#00e,#01f,#02f,#02f,#03f,#04f,#03f,#00f,#00c,#00d,#00f,#00f,#00f,#00f,#00f,#00f,#00e,#00e,#00e)"></i><i style="background:linear-gradient(90deg,#03f,#03f,#03f,#03f,#04f,#05f,#07f,#06f,#04f,#02f,#02f,#05f,#07f,#07f,#05f,#03f,#04f,#04f,#04f,#03f,#06f,#0cf,#3fc,#5fa,#1fe,#0df,#0ff,#5fa,#6f9,#3fc,#1fe,#2fd,#5fa,#8f7,#7f8,#6f9,#8f7,#bf4,#9f6,#6f9,#bf4,#f80,#f00,#f40,#ff0,#9f6,#af5,#cf3,#8f7,#0cf,#06f,#0af,#7f8,#fd0,#fc0,#9f6,#0df,#08f,#09f,#2fd,#fb0,#900,#800,#f00,#af5,#0cf,#0ff,#9f6,#cf3,#8f7,#3fc,#4fb,#9f6,#9f6,#1fe,#08f,#07f,#4fb,#fa0,#f40,#fb0,#8f7,#0cf,#06f,#05f,#0af,#2fd,#2fd,#0cf,#04f,#00d,#00c,#00e,#02f,#04f,#04f,#03f,#03f,#03f,#00f,#00c,#00c,#00e,#01f,#02f,#01f,#01f,#00f,#00e,#00e,#00e)"></i><i style="background:linear-gradient(90deg,#03f,#03f,#03f,#06f,#08f,#07f,#06f,#05f,#03f,#03f,#03f,#07f,#0af,#09f,#04f,#00e,#00e,#04f,#08f,#0bf,#0ef,#2fd,#6f9,#6f9,#0ff,#0af,#0df,#9f6,#fd0,#fd0,#af5,#4fb,#1fe,#0ff,#0ef,#0ef,#7f8,#fa0,#f10,#f20,#fa0,#fe0,#fd0,#fe0,#df2,#bf4,#ef1,#fc0,#fe0,#6f9,#0bf,#0af,#5fa,#ff0,#fd0,#8f7,#0cf,#0af,#4fb,#fd0,#f20,#a00,#a00,#f40,#df2,#3fc,#4fb,#af5,#ff0,#cf3,#7f8,#5fa,#9f6,#bf4,#6f9,#0bf,#06f,#0ff,#fb0,#e00,#f30,#df2,#2fd,#0ff,#4fb,#8f7,#8f7,#3fc,#0bf,#04f,#00f,#00f,#03f,#06f,#07f,#04f,#01f,#00f,#00f,#01f,#00f,#00e,#00f,#02f,#03f,#02f,#00f,#00d,#00c,#00c,#00c)"></i><i style="background:linear-gradient(90deg,#04f,#04f,#04f,#0bf,#0ef,#0cf,#06f,#01f,#00f,#01f,#04f,#09f,#0cf,#0cf,#06f,#00f,#00d,#03f,#0af,#2fd,#5fa,#7f8,#9f6,#cf3,#9f6,#2fd,#0ff,#7f8,#fd0,#fb0,#cf3,#2fd,#0af,#08f,#0af,#0ff,#af5,#f60,#a00,#b00,#fb0,#4fb,#0ef,#5fa,#cf3,#fe0,#fc0,#fa0,#fc0,#af5,#0ff,#08f,#0bf,#4fb,#af5,#8f7,#2fd,#3fc,#ef1,#f50,#f20,#fa0,#bf4,#8f7,#9f6,#cf3,#ff0,#fd0,#fc0,#df2,#6f9,#0ff,#0ff,#3fc,#4fb,#1fe,#0ef,#4fb,#fc0,#f00,#f40,#9f6,#0df,#5fa,#fa0,#f30,#fa0,#6f9,#09f,#04f,#04f,#07f,#09f,#0bf,#09f,#04f,#00e,#00c,#00e,#02f,#04f,#03f,#03f,#03f,#03f,#01f,#00d,#00b,#00b,#00c,#00c)"></i><i style="background:linear-gradient(90deg,#04f,#04f,#05f,#0df,#0ff,#0ef,#05f,#00d,#00d,#02f,#08f,#0cf,#0df,#0cf,#07f,#02f,#00f,#03f,#0cf,#5fa,#bf4,#bf4,#ef1,#fa0,#f80,#df2,#2fd,#0ef,#5fa,#bf4,#9f6,#1fe,#09f,#08f,#0ef,#6f9,#cf3,#fd0,#fb0,#fe0,#7f8,#0df,#0df,#7f8,#fc0,#fa0,#ff0,#8f7,#5fa,#4fb,#0ff,#0bf,#0af,#0ff,#6f9,#8f7,#5fa,#4fb,#af5,#fc0,#fb0,#af5,#0ef,#0df,#6f9,#ff0,#fb0,#fc0,#df2,#8f7,#2fd,#0af,#07f,#0af,#1fe,#6f9,#8f7,#bf4,#ff0,#fb0,#df2,#0ef,#0af,#4fb,#e00,#800,#800,#ef1,#09f,#03f,#07f,#0cf,#0ef,#0df,#0bf,#06f,#02f,#00e,#00f,#04f,#06f,#06f,#04f,#03f,#03f,#02f,#00d,#00b,#00c,#00c,#00c)"></i><i style="background:linear-gradient(90deg,#04f,#04f,#05f,#09f,#0df,#0bf,#04f,#00e,#00f,#07f,#0ef,#0ff,#0cf,#07f,#04f,#03f,#05f,#09f,#3fc,#df2,#fc0,#fe0,#df2,#fc0,#f80,#ff0,#3fc,#0af,#0cf,#2fd,#4fb,#0ff,#08f,#08f,#0ff,#9f6,#cf3,#7f8,#0ff,#0bf,#0bf,#0ef,#6f9,#ef1,#fb0,#ff0,#4fb,#08f,#05f,#09f,#0ff,#3fc,#2fd,#2fd,#3fc,#3fc,#0ff,#0bf,#0cf,#4fb,#bf4,#cf3,#5fa,#0ff,#2fd,#7f8,#9f6,#7f8,#3fc,#1fe,#0ff,#0cf,#09f,#08f,#0cf,#4fb,#9f6,#8f7,#6f9,#5fa,#3fc,#0df,#0bf,#9f6,#b00,#800,#800,#fa0,#0af,#05f,#0af,#3fc,#5fa,#2fd,#0df,#0af,#08f,#06f,#04f,#05f,#06f,#06f,#05f,#04f,#04f,#04f,#02f,#00e,#00e,#00e,#00e)"></i><i style="background:linear-gradient(90deg,#05f,#05f,#05f,#05f,#08f,#09f,#06f,#04f,#06f,#0ef,#4fb,#2fd,#08f,#00f,#00e,#04f,#0df,#8f7,#fd0,#f70,#f80,#ef1,#5fa,#5fa,#9f6,#af5,#4fb,#0ef,#0df,#0ff,#0ff,#0bf,#05f,#05f,#0cf,#8f7,#cf3,#5fa,#08f,#02f,#04f,#0ef,#8f7,#df2,#bf4,#5fa,#0bf,#02f,#01f,#06f,#1fe,#7f8,#6f9,#2fd,#0ef,#0cf,#09f,#05f,#04f,#0bf,#7f8,#ef1,#bf4,#2fd,#0af,#09f,#0bf,#0cf,#0cf,#0df,#1fe,#2fd,#0ef,#0af,#09f,#0cf,#1fe,#2fd,#0ef,#0df,#1fe,#6f9,#af5,#ff0,#f60,#c00,#e00,#ff0,#0df,#09f,#4fb,#ff0,#ff0,#7f8,#0df,#09f,#0bf,#0cf,#0bf,#09f,#09f,#09f,#08f,#07f,#06f,#06f,#05f,#04f,#02f,#02f,#02f)"></i><i style="background:linear-gradient(90deg,#09f,#09f,#09f,#08f,#08f,#09f,#09f,#08f,#0af,#0ff,#4fb,#2fd,#07f,#00f,#00f,#07f,#8f7,#fa0,#f20,#f60,#fe0,#8f7,#1fe,#0ef,#1fe,#4fb,#5fa,#4fb,#1fe,#0ef,#0bf,#07f,#03f,#03f,#0bf,#7f8,#af5,#7f8,#08f,#01f,#01f,#0bf,#6f9,#8f7,#3fc,#0cf,#08f,#05f,#05f,#09f,#0ff,#4fb,#3fc,#0ef,#0af,#09f,#0af,#08f,#07f,#0af,#3fc,#af5,#9f6,#0ef,#05f,#02f,#06f,#0cf,#0ff,#0ff,#0ff,#1fe,#0ef,#0af,#07f,#08f,#0cf,#0df,#0cf,#0cf,#1fe,#8f7,#ef1,#ff0,#bf4,#8f7,#8f7,#8f7,#6f9,#8f7,#fd0,#f40,#f60,#af5,#0af,#04f,#09f,#3fc,#7f8,#6f9,#3fc,#1fe,#0ef,#0af,#06f,#04f,#05f,#08f,#09f,#08f,#08f)"></i><i style="background:linear-gradient(90deg,#2fd,#2fd,#2fd,#1fe,#0df,#0bf,#0af,#09f,#09f,#0bf,#1fe,#3fc,#0ef,#07f,#05f,#0cf,#bf4,#f60,#f60,#ef1,#7f8,#8f7,#8f7,#5fa,#1fe,#0ff,#2fd,#3fc,#1fe,#0cf,#08f,#07f,#07f,#09f,#0ef,#7f8,#bf4,#5fa,#09f,#01f,#01f,#0cf,#6f9,#6f9,#0ef,#07f,#06f,#0af,#0ef,#0ff,#0ef,#0ef,#0df,#0bf,#09f,#0bf,#0ef,#1fe,#0ff,#0df,#0ef,#2fd,#1fe,#0af,#03f,#03f,#0af,#4fb,#7f8,#2fd,#0af,#07f,#08f,#0bf,#0cf,#0df,#0ff,#1fe,#0ef,#0cf,#0cf,#2fd,#8f7,#af5,#5fa,#0ff,#1fe,#7f8,#cf3,#ff0,#fc0,#f80,#f90,#cf3,#0df,#05f,#09f,#8f7,#f90,#f80,#fd0,#af5,#5fa,#0ef,#07f,#04f,#06f,#0cf,#2fd,#2fd,#2fd)"></i><i style="background:linear-gradient(90deg,#8f7,#8f7,#8f7,#7f8,#1fe,#0af,#08f,#09f,#0af,#0bf,#0ff,#5fa,#7f8,#4fb,#0ef,#0ff,#7f8,#fe0,#fe0,#8f7,#5fa,#af5,#ef1,#cf3,#4fb,#0df,#0bf,#0cf,#0df,#0bf,#0af,#0cf,#2fd,#6f9,#6f9,#5fa,#2fd,#0cf,#06f,#03f,#08f,#3fc,#af5,#8f7,#0cf,#02f,#02f,#0bf,#5fa,#7f8,#3fc,#0df,#0bf,#0bf,#0cf,#0df,#1fe,#5fa,#5fa,#2fd,#0ef,#0cf,#0af,#08f,#05f,#08f,#2fd,#af5,#af5,#2fd,#03f,#01f,#02f,#0ef,#8f7,#bf4,#8f7,#4fb,#0ef,#0af,#07f,#0af,#1fe,#7f8,#9f6,#6f9,#5fa,#7f8,#af5,#9f6,#6f9,#7f8,#cf3,#ff0,#bf4,#3fc,#2fd,#cf3,#f50,#f00,#f60,#df2,#8f7,#7f8,#3fc,#0ef,#0ef,#4fb,#8f7,#8f7,#8f7)"></i><i style="background:linear-gradient(90deg,#6f9,#6f9,#6f9,#4fb,#0ef,#09f,#0af,#1fe,#5fa,#5fa,#4fb,#5fa,#7f8,#7f8,#3fc,#1fe,#5fa,#ef1,#fc0,#df2,#6f9,#6f9,#9f6,#af5,#6f9,#0df,#09f,#0af,#0df,#0ff,#0ff,#4fb,#af5,#ff0,#cf3,#2fd,#08f,#04f,#06f,#0cf,#4fb,#cf3,#df2,#9f6,#0bf,#01f,#01f,#08f,#8f7,#ff0,#bf4,#3fc,#0df,#0ef,#0ff,#0ef,#0ef,#2fd,#7f8,#9f6,#6f9,#0ff,#0af,#07f,#08f,#0cf,#5fa,#cf3,#df2,#2fd,#03f,#02f,#03f,#5fa,#fd0,#fc0,#af5,#1fe,#0bf,#0af,#0af,#0bf,#1fe,#7f8,#cf3,#bf4,#7f8,#4fb,#2fd,#0ff,#0df,#0ef,#8f7,#fb0,#f60,#fb0,#af5,#af5,#fb0,#f20,#f50,#fe0,#cf3,#fb0,#f40,#f60,#fd0,#af5,#7f8,#6f9,#6f9)"></i><i style="background:linear-gradient(90deg,#0ef,#0ef,#0df,#0bf,#0bf,#0df,#3fc,#bf4,#fd0,#fe0,#9f6,#2fd,#0ff,#2fd,#4fb,#6f9,#cf3,#f80,#f30,#fa0,#6f9,#0bf,#0bf,#2fd,#7f8,#6f9,#2fd,#1fe,#3fc,#5fa,#4fb,#4fb,#8f7,#ef1,#ef1,#6f9,#0af,#07f,#0cf,#6f9,#cf3,#ef1,#bf4,#5fa,#0bf,#02f,#02f,#0bf,#bf4,#fb0,#fd0,#7f8,#0ef,#0ff,#3fc,#3fc,#0ff,#1fe,#9f6,#ff0,#ef1,#6f9,#0bf,#08f,#0af,#0ff,#6f9,#af5,#af5,#4fb,#09f,#05f,#0cf,#cf3,#f80,#fb0,#5fa,#08f,#09f,#3fc,#af5,#9f6,#6f9,#5fa,#7f8,#8f7,#5fa,#0ff,#0ef,#0ff,#3fc,#6f9,#bf4,#fd0,#f90,#fd0,#8f7,#6f9,#fe0,#e00,#800,#f10,#fb0,#f60,#800,#800,#800,#fc0,#4fb,#3fc,#3fc)"></i><i style="background:linear-gradient(90deg,#0cf,#0cf,#0bf,#08f,#0ef,#5fa,#af5,#ff0,#fa0,#f90,#ff0,#4fb,#0cf,#0df,#5fa,#df2,#f90,#f20,#f10,#fa0,#3fc,#04f,#03f,#0cf,#bf4,#fc0,#fe0,#9f6,#6f9,#6f9,#5fa,#3fc,#4fb,#af5,#fd0,#fe0,#9f6,#4fb,#5fa,#af5,#bf4,#8f7,#2fd,#0ef,#0ff,#1fe,#2fd,#7f8,#ef1,#fc0,#ef1,#4fb,#0bf,#0ff,#af5,#fe0,#df2,#9f6,#9f6,#ef1,#ef1,#6f9,#0cf,#0af,#0ff,#9f6,#cf3,#af5,#4fb,#0ff,#0ef,#1fe,#8f7,#fc0,#f70,#fe0,#0ff,#06f,#0af,#df2,#f30,#f50,#df2,#1fe,#0ef,#1fe,#2fd,#1fe,#1fe,#6f9,#ef1,#fd0,#ff0,#9f6,#4fb,#2fd,#2fd,#af5,#f30,#800,#800,#800,#fb0,#bf4,#f20,#800,#800,#b00,#ef1,#bf4,#bf4)"></i><i style="background:linear-gradient(90deg,#1fe,#1fe,#0ff,#0bf,#3fc,#df2,#ff0,#df2,#ef1,#fb0,#f80,#fe0,#7f8,#3fc,#8f7,#fd0,#f80,#f60,#f90,#ef1,#3fc,#08f,#06f,#2fd,#fc0,#f40,#f90,#8f7,#0ff,#2fd,#9f6,#cf3,#bf4,#cf3,#fd0,#f80,#fa0,#df2,#9f6,#9f6,#9f6,#5fa,#0ff,#0ff,#6f9,#ef1,#fd0,#ff0,#cf3,#af5,#7f8,#1fe,#0df,#4fb,#fb0,#d00,#d00,#fa0,#8f7,#3fc,#4fb,#2fd,#0ff,#2fd,#cf3,#f90,#f80,#cf3,#0cf,#06f,#0bf,#8f7,#fa0,#f30,#f40,#fc0,#4fb,#09f,#0df,#ff0,#e00,#d00,#fc0,#2fd,#0bf,#0ff,#6f9,#6f9,#5fa,#9f6,#fc0,#f70,#fc0,#4fb,#08f,#07f,#3fc,#f90,#800,#800,#800,#800,#cf3,#3fc,#cf3,#800,#800,#800,#a00,#e00,#e00)"></i><i style="background:linear-gradient(90deg,#2fd,#2fd,#1fe,#0cf,#7f8,#fa0,#f70,#ff0,#9f6,#ef1,#f50,#f20,#fa0,#bf4,#af5,#fe0,#f80,#fa0,#df2,#7f8,#4fb,#3fc,#6f9,#ef1,#f80,#f60,#ef1,#0ef,#07f,#2fd,#f70,#900,#d00,#fb0,#bf4,#df2,#fe0,#ff0,#bf4,#af5,#df2,#ef1,#af5,#6f9,#7f8,#df2,#fd0,#ff0,#bf4,#9f6,#af5,#af5,#8f7,#af5,#f90,#a00,#800,#f30,#9f6,#0cf,#0cf,#4fb,#af5,#ef1,#fa0,#f40,#f60,#bf4,#09f,#06f,#09f,#ef1,#e00,#800,#e00,#fa0,#9f6,#2fd,#2fd,#cf3,#f50,#e00,#f70,#af5,#3fc,#6f9,#cf3,#cf3,#7f8,#5fa,#cf3,#f90,#f90,#9f6,#0bf,#0af,#af5,#e00,#800,#800,#800,#f80,#af5,#8f7,#f60,#800,#800,#800,#800,#900,#900)"></i><i style="background:linear-gradient(90deg,#0bf,#0bf,#0af,#0bf,#bf4,#f00,#800,#f00,#ff0,#af5,#fd0,#f50,#f70,#ff0,#df2,#f90,#f20,#f50,#cf3,#0ff,#0ef,#8f7,#fb0,#f40,#f40,#fb0,#6f9,#09f,#08f,#8f7,#a00,#800,#800,#f60,#2fd,#0ef,#9f6,#fd0,#fc0,#fd0,#fa0,#f50,#f70,#df2,#3fc,#0ff,#5fa,#cf3,#fc0,#f90,#f50,#f40,#fa0,#cf3,#cf3,#f90,#e00,#f00,#fd0,#5fa,#4fb,#df2,#f90,#f90,#fd0,#ff0,#ef1,#af5,#2fd,#0cf,#5fa,#f80,#900,#800,#f50,#cf3,#8f7,#bf4,#ff0,#fb0,#f60,#f30,#f50,#fe0,#9f6,#9f6,#ef1,#fe0,#bf4,#5fa,#7f8,#ff0,#f90,#fd0,#8f7,#5fa,#fd0,#b00,#800,#f10,#cf3,#6f9,#fe0,#900,#800,#800,#800,#800,#f60,#fa0,#fa0)"></i><i style="background:linear-gradient(90deg,#08f,#08f,#09f,#2fd,#fb0,#800,#800,#800,#f70,#5fa,#3fc,#cf3,#fa0,#f80,#f70,#f00,#800,#d00,#df2,#09f,#07f,#4fb,#f70,#b00,#e00,#fc0,#5fa,#0df,#0ff,#ff0,#900,#800,#800,#f60,#3fc,#0ef,#df2,#f40,#f30,#f90,#fb0,#f70,#f40,#fc0,#3fc,#09f,#0ef,#ef1,#f20,#a00,#c00,#f20,#fa0,#bf4,#7f8,#df2,#f40,#c00,#f10,#fc0,#ef1,#fa0,#f40,#f80,#af5,#0ff,#1fe,#af5,#fc0,#f90,#f80,#f40,#f00,#f50,#bf4,#2fd,#7f8,#f70,#800,#800,#d00,#f60,#fc0,#cf3,#6f9,#6f9,#df2,#f80,#f70,#fd0,#9f6,#9f6,#df2,#fe0,#ef1,#ef1,#f70,#900,#800,#f60,#3fc,#0df,#fc0,#800,#800,#800,#800,#f80,#8f7,#6f9,#6f9)"></i><i style="background:linear-gradient(90deg,#5fa,#5fa,#6f9,#fd0,#f30,#a00,#800,#800,#f60,#7f8,#1fe,#bf4,#f50,#c00,#c00,#d00,#c00,#f20,#df2,#0af,#07f,#3fc,#f50,#800,#b00,#fd0,#4fb,#3fc,#bf4,#f70,#d00,#900,#c00,#f70,#df2,#ef1,#f50,#a00,#d00,#fb0,#9f6,#bf4,#fb0,#f80,#df2,#4fb,#5fa,#fb0,#b00,#900,#f50,#df2,#9f6,#ef1,#f80,#f10,#b00,#b00,#f20,#fd0,#cf3,#fd0,#f50,#f60,#df2,#0ff,#0ef,#cf3,#f20,#b00,#f10,#f90,#fe0,#ff0,#af5,#7f8,#df2,#e00,#800,#800,#800,#fa0,#8f7,#3fc,#3fc,#6f9,#fe0,#f20,#a00,#f10,#ef1,#2fd,#0ff,#7f8,#ff0,#f80,#f10,#800,#800,#f10,#8f7,#0ef,#cf3,#800,#800,#800,#d00,#df2,#9f6,#af5,#af5)"></i><i style="background:linear-gradient(90deg,#fc0,#fc0,#fb0,#f40,#f30,#f80,#fb0,#fa0,#f90,#fc0,#fd0,#f60,#a00,#800,#c00,#f90,#ef1,#cf3,#bf4,#7f8,#6f9,#ef1,#f20,#a00,#f40,#8f7,#0bf,#3fc,#f90,#800,#800,#f10,#fa0,#fd0,#fc0,#f70,#e00,#900,#d00,#fb0,#5fa,#3fc,#cf3,#f80,#f80,#fe0,#ef1,#f90,#e00,#f10,#df2,#0df,#1fe,#f80,#800,#800,#800,#f30,#cf3,#4fb,#5fa,#df2,#f50,#e00,#f60,#bf4,#3fc,#9f6,#f80,#f20,#f70,#df2,#bf4,#fb0,#f30,#f30,#f80,#f50,#a00,#800,#a00,#fb0,#8f7,#6f9,#9f6,#ef1,#fa0,#f30,#d00,#f30,#ef1,#0ef,#0af,#5fa,#f90,#e00,#c00,#c00,#c00,#f10,#fd0,#6f9,#bf4,#f10,#800,#800,#f10,#ff0,#ff0,#fd0,#fd0)"></i><i style="background:linear-gradient(90deg,#4fb,#4fb,#5fa,#fe0,#f30,#900,#800,#800,#f60,#7f8,#1fe,#af5,#f50,#c00,#c00,#c00,#c00,#f20,#df2,#0af,#07f,#3fc,#f50,#800,#b00,#fd0,#4fb,#3fc,#bf4,#f80,#d00,#900,#c00,#f70,#cf3,#df2,#f60,#a00,#d00,#fb0,#9f6,#bf4,#fb0,#f80,#df2,#3fc,#5fa,#fb0,#b00,#900,#f40,#ef1,#af5,#ef1,#f90,#f20,#c00,#b00,#f20,#fc0,#df2,#fd0,#f50,#f60,#cf3,#0ef,#0ef,#cf3,#f20,#b00,#f10,#f90,#fd0,#ff0,#af5,#6f9,#cf3,#e00,#800,#800,#800,#fa0,#8f7,#4fb,#3fc,#6f9,#ff0,#f20,#a00,#f10,#ef1,#2fd,#0ff,#7f8,#ff0,#f90,#f10,#800,#800,#f10,#8f7,#0df,#df2,#800,#800,#800,#c00,#ef1,#9f6,#af5,#af5)"></i><i style="background:linear-gradient(90deg,#08f,#08f,#09f,#2fd,#fb0,#800,#800,#800,#f70,#5fa,#3fc,#df2,#fa0,#f90,#f70,#f00,#800,#d00,#df2,#09f,#07f,#4fb,#f70,#b00,#e00,#fc0,#5fa,#0df,#0ff,#ef1,#900,#800,#800,#f60,#2fd,#0ef,#cf3,#f50,#f30,#f90,#fb0,#f70,#f40,#fc0,#3fc,#09f,#0ef,#ef1,#f20,#b00,#c00,#f20,#fa0,#bf4,#7f8,#df2,#f40,#c00,#f20,#fc0,#ef1,#fa0,#f40,#f80,#af5,#1fe,#2fd,#af5,#fd0,#fa0,#f90,#f40,#f00,#f50,#cf3,#2fd,#7f8,#f70,#900,#800,#d00,#f60,#fc0,#cf3,#6f9,#6f9,#df2,#f90,#f70,#fe0,#9f6,#9f6,#ef1,#fe0,#ef1,#ef1,#f80,#a00,#800,#f60,#3fc,#0ef,#fb0,#800,#800,#800,#800,#f70,#8f7,#6f9,#6f9)"></i><i style="background:linear-gradient(90deg,#0bf,#0bf,#0af,#0bf,#af5,#f00,#800,#f00,#ff0,#af5,#fc0,#f40,#f70,#ff0,#df2,#fa0,#f20,#f60,#cf3,#1fe,#0ff,#8f7,#fb0,#f50,#f50,#fb0,#6f9,#09f,#08f,#7f8,#a00,#800,#800,#f60,#3fc,#0ff,#9f6,#fd0,#fd0,#fd0,#fa0,#f60,#f80,#df2,#3fc,#0ff,#5fa,#cf3,#fd0,#f90,#f60,#f50,#fa0,#cf3,#cf3,#f80,#d00,#f00,#fd0,#4fb,#4fb,#df2,#fa0,#f90,#fc0,#fe0,#ff0,#af5,#1fe,#0bf,#4fb,#f80,#900,#800,#f50,#df2,#8f7,#bf4,#ff0,#fb0,#f60,#f30,#f50,#fe0,#9f6,#9f6,#ef1,#fe0,#bf4,#5fa,#7f8,#ff0,#f90,#fd0,#7f8,#5fa,#fd0,#b00,#800,#f00,#df2,#6f9,#fe0,#b00,#800,#800,#800,#800,#f50,#f90,#f90)"></i><i style="background:linear-gradient(90deg,#2fd,#2fd,#1fe,#0cf,#7f8,#fb0,#f80,#ff0,#9f6,#ff0,#f50,#f20,#fa0,#bf4,#af5,#fe0,#f80,#fa0,#df2,#7f8,#4fb,#3fc,#6f9,#df2,#f80,#f60,#ff0,#0ef,#07f,#2fd,#f80,#a00,#e00,#fc0,#cf3,#ef1,#fd0,#ff0,#bf4,#af5,#cf3,#df2,#af5,#6f9,#7f8,#df2,#fd0,#fe0,#bf4,#9f6,#af5,#af5,#8f7,#af5,#f90,#a00,#800,#f30,#9f6,#0cf,#0cf,#4fb,#9f6,#ef1,#fa0,#f40,#f50,#cf3,#09f,#06f,#09f,#ef1,#e00,#900,#e00,#fa0,#9f6,#1fe,#2fd,#cf3,#f40,#e00,#f70,#af5,#3fc,#6f9,#bf4,#bf4,#7f8,#6f9,#df2,#f90,#f90,#9f6,#0bf,#0af,#af5,#e00,#800,#800,#800,#f70,#af5,#7f8,#f70,#800,#800,#800,#800,#800,#800)"></i><i style="background:linear-gradient(90deg,#1fe,#1fe,#0ff,#0bf,#3fc,#cf3,#ff0,#df2,#ef1,#fb0,#f90,#fe0,#7f8,#3fc,#8f7,#fd0,#f80,#f60,#f90,#ef1,#3fc,#07f,#06f,#1fe,#fd0,#f50,#f90,#8f7,#0ff,#2fd,#9f6,#cf3,#af5,#cf3,#fd0,#f80,#fa0,#df2,#9f6,#9f6,#9f6,#5fa,#0ff,#0ef,#6f9,#df2,#fd0,#ff0,#cf3,#af5,#7f8,#1fe,#0cf,#3fc,#fb0,#d00,#e00,#fa0,#8f7,#4fb,#4fb,#3fc,#0ff,#2fd,#bf4,#f90,#f80,#cf3,#0df,#06f,#0bf,#8f7,#fb0,#f40,#f40,#fd0,#3fc,#08f,#0cf,#ff0,#e00,#d00,#fc0,#2fd,#0bf,#0ff,#5fa,#6f9,#5fa,#9f6,#fc0,#f70,#fc0,#4fb,#08f,#07f,#3fc,#f90,#800,#800,#800,#800,#cf3,#3fc,#cf3,#800,#800,#800,#b00,#f00,#f00)"></i><i style="background:linear-gradient(90deg,#0cf,#0cf,#0bf,#08f,#0df,#5fa,#af5,#ff0,#fa0,#f90,#ef1,#4fb,#0cf,#0df,#5fa,#df2,#f90,#f20,#f10,#fa0,#3fc,#04f,#03f,#0cf,#bf4,#fc0,#ff0,#9f6,#6f9,#6f9,#5fa,#2fd,#4fb,#af5,#fd0,#fe0,#9f6,#3fc,#5fa,#af5,#cf3,#8f7,#3fc,#0ff,#0ff,#0ff,#2fd,#6f9,#ef1,#fc0,#ef1,#4fb,#0cf,#0ff,#9f6,#ff0,#df2,#8f7,#9f6,#ef1,#ef1,#6f9,#0cf,#09f,#0ff,#8f7,#cf3,#af5,#5fa,#1fe,#0ef,#1fe,#8f7,#fd0,#f70,#fe0,#0ff,#06f,#0af,#cf3,#f40,#f50,#cf3,#1fe,#0ef,#1fe,#2fd,#1fe,#1fe,#6f9,#df2,#fd0,#ff0,#af5,#5fa,#3fc,#3fc,#9f6,#f40,#800,#800,#800,#fb0,#cf3,#f10,#800,#800,#c00,#df2,#af5,#af5)"></i><i style="background:linear-gradient(90deg,#0ef,#0ef,#0ef,#0bf,#0bf,#0df,#2fd,#af5,#fd0,#fe0,#9f6,#2fd,#0ff,#2fd,#4fb,#6f9,#bf4,#f80,#f30,#fa0,#6f9,#0bf,#0bf,#3fc,#7f8,#5fa,#1fe,#1fe,#3fc,#5fa,#4fb,#4fb,#9f6,#ef1,#ef1,#6f9,#0af,#06f,#0cf,#5fa,#cf3,#ef1,#cf3,#6f9,#0bf,#02f,#02f,#0bf,#bf4,#fb0,#fd0,#7f8,#0ef,#0ff,#3fc,#2fd,#0ff,#1fe,#9f6,#ff0,#ef1,#5fa,#0bf,#07f,#0af,#0ff,#6f9,#af5,#af5,#4fb,#09f,#04f,#0bf,#bf4,#f80,#fa0,#5fa,#08f,#09f,#2fd,#9f6,#9f6,#6f9,#5fa,#8f7,#8f7,#5fa,#0ff,#0ef,#0ff,#2fd,#5fa,#bf4,#fc0,#f90,#fd0,#9f6,#6f9,#ff0,#e00,#800,#f20,#fb0,#f60,#800,#800,#900,#fc0,#4fb,#3fc,#3fc)"></i><i style="background:linear-gradient(90deg,#6f9,#6f9,#6f9,#4fb,#0ef,#09f,#0af,#0ff,#4fb,#4fb,#4fb,#5fa,#8f7,#7f8,#3fc,#1fe,#5fa,#ef1,#fc0,#df2,#6f9,#6f9,#af5,#bf4,#6f9,#0df,#09f,#0af,#0df,#0ff,#0ff,#3fc,#af5,#ef1,#bf4,#2fd,#08f,#04f,#06f,#0bf,#4fb,#bf4,#df2,#af5,#0bf,#01f,#01f,#08f,#8f7,#ff0,#bf4,#2fd,#0df,#0ef,#0ff,#0ef,#0ef,#2fd,#7f8,#9f6,#5fa,#0ef,#09f,#07f,#08f,#0cf,#5fa,#cf3,#df2,#2fd,#02f,#02f,#03f,#5fa,#fd0,#fc0,#af5,#1fe,#0bf,#0af,#0af,#0bf,#0ff,#7f8,#cf3,#bf4,#7f8,#4fb,#3fc,#0ff,#0df,#0ef,#8f7,#fb0,#f60,#fc0,#af5,#af5,#fb0,#f20,#f50,#fe0,#cf3,#fc0,#f50,#f70,#fe0,#af5,#7f8,#7f8,#7f8)"></i><i style="background:linear-gradient(90deg,#8f7,#8f7,#8f7,#7f8,#1fe,#0af,#08f,#09f,#0af,#0bf,#0ff,#5fa,#7f8,#3fc,#0ef,#0ef,#7f8,#fe0,#fe0,#8f7,#4fb,#af5,#ef1,#bf4,#4fb,#0df,#0bf,#0df,#0df,#0bf,#0af,#0cf,#1fe,#5fa,#6f9,#5fa,#2fd,#0df,#06f,#03f,#08f,#3fc,#af5,#8f7,#0cf,#02f,#02f,#0bf,#5fa,#7f8,#2fd,#0df,#0bf,#0bf,#0cf,#0df,#1fe,#5fa,#5fa,#2fd,#0ef,#0cf,#0af,#08f,#05f,#08f,#2fd,#af5,#af5,#2fd,#03f,#01f,#02f,#0ef,#8f7,#af5,#8f7,#4fb,#0ef,#0af,#07f,#0af,#2fd,#7f8,#8f7,#6f9,#5fa,#7f8,#af5,#9f6,#6f9,#8f7,#df2,#ff0,#af5,#3fc,#2fd,#cf3,#f50,#f00,#f70,#df2,#8f7,#6f9,#3fc,#0ef,#0ef,#3fc,#8f7,#8f7,#8f7)"></i><i style="background:linear-gradient(90deg,#2fd,#2fd,#2fd,#1fe,#0df,#0bf,#0af,#09f,#09f,#0bf,#1fe,#3fc,#0df,#07f,#05f,#0cf,#bf4,#f60,#f50,#ef1,#7f8,#7f8,#8f7,#4fb,#1fe,#0ff,#2fd,#3fc,#1fe,#0cf,#08f,#06f,#06f,#08f,#0ef,#7f8,#af5,#6f9,#09f,#01f,#01f,#0cf,#6f9,#6f9,#0ef,#07f,#07f,#0af,#0ef,#0ff,#0ef,#0ef,#0df,#0bf,#09f,#0bf,#0ef,#1fe,#0ef,#0df,#0ef,#2fd,#1fe,#0af,#03f,#03f,#0af,#4fb,#6f9,#2fd,#0af,#07f,#08f,#0bf,#0cf,#0df,#0ff,#1fe,#0ef,#0cf,#0cf,#3fc,#9f6,#af5,#5fa,#0ff,#1fe,#7f8,#cf3,#ff0,#fc0,#f80,#f80,#cf3,#0cf,#05f,#08f,#8f7,#fa0,#f80,#fe0,#af5,#5fa,#0ef,#07f,#04f,#06f,#0cf,#1fe,#2fd,#2fd)"></i><i style="background:linear-gradient(90deg,#09f,#09f,#09f,#08f,#08f,#09f,#09f,#08f,#0af,#0ff,#4fb,#2fd,#07f,#00f,#00f,#07f,#7f8,#fa0,#f20,#f60,#fe0,#8f7,#1fe,#0ef,#1fe,#4fb,#5fa,#4fb,#1fe,#0ef,#0bf,#07f,#03f,#03f,#0bf,#7f8,#af5,#7f8,#08f,#01f,#01f,#0cf,#6f9,#8f7,#4fb,#0df,#08f,#05f,#05f,#09f,#0ff,#5fa,#4fb,#0ef,#0af,#09f,#09f,#08f,#07f,#0af,#3fc,#af5,#9f6,#0ef,#05f,#02f,#06f,#0cf,#0ef,#0ff,#0ff,#1fe,#0ef,#0af,#07f,#08f,#0cf,#0df,#0cf,#0cf,#1fe,#9f6,#ef1,#ff0,#bf4,#9f6,#9f6,#8f7,#5fa,#7f8,#fe0,#f50,#f60,#af5,#0af,#04f,#09f,#3fc,#7f8,#5fa,#3fc,#1fe,#0ef,#0af,#06f,#04f,#05f,#07f,#08f,#08f,#08f)"></i><i style="background:linear-gradient(90deg,#05f,#05f,#05f,#06f,#08f,#09f,#06f,#04f,#06f,#0df,#3fc,#2fd,#08f,#00f,#00e,#04f,#0df,#7f8,#fe0,#f80,#f80,#ef1,#6f9,#6f9,#af5,#af5,#4fb,#0ef,#0df,#0ff,#0ff,#0bf,#06f,#05f,#0df,#8f7,#cf3,#5fa,#08f,#02f,#05f,#0ef,#8f7,#df2,#cf3,#6f9,#0bf,#02f,#01f,#06f,#1fe,#7f8,#6f9,#2fd,#0ef,#0cf,#09f,#05f,#04f,#0bf,#7f8,#ef1,#bf4,#2fd,#0af,#0af,#0bf,#0cf,#0cf,#0df,#1fe,#2fd,#0ef,#0af,#09f,#0cf,#1fe,#2fd,#0ef,#0ef,#1fe,#5fa,#9f6,#ff0,#f50,#b00,#d00,#fe0,#0cf,#08f,#4fb,#ef1,#ff0,#6f9,#0df,#0af,#0bf,#0cf,#0bf,#09f,#08f,#09f,#08f,#07f,#06f,#06f,#05f,#03f,#02f,#02f,#02f)"></i><i style="background:linear-gradient(90deg,#04f,#04f,#05f,#0af,#0df,#0cf,#04f,#00e,#00f,#07f,#0ef,#0ff,#0cf,#07f,#04f,#03f,#04f,#09f,#2fd,#cf3,#fc0,#fe0,#ef1,#fb0,#f80,#ff0,#3fc,#0af,#0cf,#3fc,#4fb,#0ff,#09f,#08f,#0ff,#9f6,#cf3,#7f8,#1fe,#0cf,#0bf,#0ef,#5fa,#ef1,#fb0,#ff0,#4fb,#09f,#05f,#0af,#0ff,#2fd,#1fe,#1fe,#3fc,#4fb,#0ff,#0bf,#0cf,#4fb,#cf3,#bf4,#5fa,#0ff,#2fd,#8f7,#af5,#7f8,#3fc,#1fe,#0ff,#0cf,#08f,#08f,#0cf,#4fb,#9f6,#9f6,#7f8,#6f9,#3fc,#0cf,#0bf,#8f7,#b00,#800,#800,#fa0,#0af,#05f,#09f,#3fc,#5fa,#2fd,#0df,#0af,#08f,#05f,#04f,#05f,#06f,#06f,#05f,#04f,#04f,#04f,#02f,#00e,#00e,#00e,#00e)"></i><i style="background:linear-gradient(90deg,#04f,#04f,#05f,#0df,#0ff,#0ef,#05f,#00d,#00d,#02f,#07f,#0cf,#0df,#0cf,#07f,#02f,#00f,#03f,#0bf,#5fa,#af5,#bf4,#ef1,#fa0,#f90,#cf3,#2fd,#0ef,#6f9,#bf4,#9f6,#1fe,#09f,#08f,#0ef,#6f9,#cf3,#fd0,#fa0,#fd0,#7f8,#0df,#0df,#7f8,#fd0,#fa0,#ff0,#9f6,#6f9,#4fb,#0ff,#0af,#0af,#0ff,#6f9,#8f7,#5fa,#4fb,#af5,#fc0,#fb0,#af5,#0ef,#0df,#6f9,#ff0,#fa0,#fc0,#df2,#8f7,#2fd,#0af,#07f,#0af,#1fe,#6f9,#8f7,#af5,#ff0,#fb0,#ef1,#0ef,#0af,#4fb,#e00,#800,#800,#ef1,#09f,#03f,#07f,#0cf,#0ef,#0df,#0bf,#06f,#02f,#00e,#00f,#04f,#06f,#06f,#04f,#03f,#03f,#02f,#00d,#00b,#00c,#00c,#00c)"></i><i style="background:linear-gradient(90deg,#04f,#04f,#04f,#0af,#0ef,#0bf,#06f,#01f,#00f,#01f,#04f,#09f,#0cf,#0cf,#06f,#00f,#00d,#03f,#0af,#1fe,#5fa,#6f9,#9f6,#cf3,#8f7,#1fe,#0ff,#7f8,#fd0,#fb0,#df2,#2fd,#0af,#09f,#0af,#0ff,#af5,#f60,#900,#b00,#fb0,#4fb,#0ff,#5fa,#cf3,#fe0,#fc0,#fa0,#fc0,#af5,#0ff,#08f,#0bf,#5fa,#af5,#8f7,#2fd,#3fc,#ef1,#f50,#f20,#f90,#cf3,#9f6,#9f6,#cf3,#ef1,#fd0,#fd0,#df2,#6f9,#0ff,#0ff,#4fb,#5fa,#1fe,#0df,#4fb,#fc0,#f00,#f40,#af5,#0ef,#5fa,#fb0,#f40,#fb0,#5fa,#09f,#04f,#04f,#06f,#09f,#0af,#09f,#04f,#00e,#00c,#00e,#02f,#04f,#03f,#03f,#03f,#03f,#01f,#00d,#00b,#00b,#00c,#00c)"></i><i style="background:linear-gradient(90deg,#03f,#03f,#03f,#06f,#07f,#07f,#06f,#05f,#03f,#03f,#03f,#07f,#0af,#09f,#04f,#00e,#00e,#04f,#08f,#0bf,#0df,#2fd,#6f9,#6f9,#0ff,#0af,#0df,#9f6,#fd0,#fe0,#af5,#4fb,#1fe,#1fe,#0ef,#0ef,#7f8,#fa0,#f20,#f30,#fa0,#fd0,#fc0,#fd0,#df2,#bf4,#ef1,#fc0,#ff0,#5fa,#0bf,#0bf,#5fa,#fe0,#fd0,#8f7,#0cf,#09f,#3fc,#fe0,#f20,#a00,#900,#f30,#df2,#3fc,#3fc,#af5,#ef1,#cf3,#6f9,#6f9,#9f6,#bf4,#6f9,#0af,#06f,#0ff,#fb0,#e00,#f30,#df2,#2fd,#0ff,#4fb,#7f8,#7f8,#3fc,#0bf,#04f,#00f,#00f,#03f,#06f,#07f,#04f,#01f,#00f,#01f,#01f,#00f,#00e,#00f,#02f,#03f,#02f,#00f,#00d,#00c,#00c,#00c)"></i><i style="background:linear-gradient(90deg,#03f,#03f,#03f,#02f,#04f,#05f,#07f,#06f,#04f,#02f,#02f,#04f,#07f,#07f,#05f,#03f,#04f,#04f,#03f,#03f,#06f,#0cf,#2fd,#5fa,#2fd,#0df,#0ff,#5fa,#6f9,#3fc,#1fe,#2fd,#5fa,#8f7,#7f8,#6f9,#9f6,#af5,#8f7,#5fa,#af5,#f80,#f00,#f40,#ff0,#9f6,#af5,#cf3,#7f8,#0cf,#05f,#0af,#7f8,#fd0,#fc0,#9f6,#0ef,#08f,#08f,#2fd,#fc0,#900,#800,#f00,#9f6,#0cf,#0ff,#9f6,#cf3,#8f7,#3fc,#4fb,#8f7,#9f6,#1fe,#07f,#07f,#4fb,#fa0,#f50,#fb0,#7f8,#0cf,#05f,#05f,#0af,#1fe,#1fe,#0cf,#04f,#00d,#00c,#00e,#02f,#04f,#04f,#03f,#03f,#03f,#00f,#00c,#00c,#00e,#01f,#01f,#01f,#01f,#00f,#00e,#00e,#00e)"></i><i style="background:linear-gradient(90deg,#01f,#01f,#01f,#01f,#04f,#07f,#08f,#06f,#03f,#01f,#00f,#02f,#04f,#05f,#07f,#09f,#0af,#05f,#00f,#00d,#01f,#06f,#0cf,#0ff,#1fe,#0ff,#0ff,#0ef,#0cf,#0af,#0af,#0cf,#0ff,#4fb,#6f9,#9f6,#bf4,#6f9,#0cf,#09f,#3fc,#fd0,#f80,#ff0,#6f9,#4fb,#8f7,#af5,#6f9,#0cf,#05f,#07f,#0df,#6f9,#af5,#8f7,#5fa,#0ef,#08f,#0af,#8f7,#f60,#f20,#ff0,#0ff,#0af,#2fd,#9f6,#af5,#4fb,#0ff,#0ff,#2fd,#1fe,#0af,#06f,#0af,#5fa,#ff0,#ef1,#af5,#3fc,#08f,#00f,#00e,#03f,#0bf,#0cf,#08f,#03f,#00e,#00d,#00e,#01f,#02f,#02f,#03f,#04f,#03f,#00f,#00c,#00d,#00f,#00f,#00f,#00e,#00f,#00f,#00e,#00e,#00e)"></i><i style="background:linear-gradient(90deg,#00e,#00e,#00e,#01f,#05f,#07f,#07f,#05f,#04f,#04f,#03f,#02f,#01f,#02f,#06f,#0bf,#0cf,#06f,#00f,#00d,#00f,#03f,#06f,#09f,#0bf,#0af,#09f,#09f,#0bf,#0df,#0cf,#0af,#08f,#08f,#0bf,#2fd,#6f9,#3fc,#0cf,#0bf,#3fc,#8f7,#5fa,#0cf,#08f,#0af,#2fd,#6f9,#7f8,#1fe,#08f,#04f,#04f,#09f,#0ef,#4fb,#6f9,#1fe,#08f,#07f,#0ff,#af5,#bf4,#2fd,#0af,#0af,#0ef,#2fd,#1fe,#0df,#0cf,#0df,#0ef,#0df,#08f,#06f,#08f,#0df,#1fe,#0ff,#1fe,#0ff,#09f,#01f,#00d,#00f,#06f,#07f,#04f,#02f,#01f,#01f,#02f,#03f,#02f,#00f,#01f,#02f,#01f,#00d,#00d,#01f,#02f,#01f,#00e,#00d,#00f,#00e,#00d,#00d,#00d)"></i><i style="background:linear-gradient(90deg,#00f,#00f,#00f,#02f,#05f,#04f,#03f,#02f,#05f,#08f,#09f,#05f,#00f,#00e,#02f,#08f,#09f,#04f,#01f,#01f,#02f,#03f,#03f,#06f,#08f,#04f,#02f,#04f,#0af,#1fe,#1fe,#0af,#04f,#01f,#03f,#09f,#0cf,#0cf,#0af,#0cf,#0ff,#0ef,#09f,#04f,#03f,#05f,#09f,#0ef,#4fb,#2fd,#08f,#02f,#00f,#04f,#0af,#0ff,#1fe,#0bf,#03f,#02f,#07f,#0df,#0ff,#0df,#0cf,#0cf,#0af,#07f,#07f,#08f,#08f,#0af,#0cf,#0df,#09f,#06f,#05f,#04f,#03f,#04f,#09f,#0bf,#08f,#03f,#01f,#02f,#03f,#02f,#01f,#01f,#02f,#03f,#05f,#05f,#02f,#00e,#00f,#00f,#00e,#00c,#00e,#03f,#03f,#01f,#00f,#00f,#02f,#00f,#00d,#00d,#00d)"></i><i style="background:linear-gradient(90deg,#02f,#02f,#02f,#04f,#04f,#02f,#00e,#00f,#04f,#0af,#0df,#08f,#01f,#00d,#00f,#04f,#05f,#02f,#03f,#04f,#03f,#02f,#03f,#08f,#0af,#02f,#00d,#00f,#07f,#0ef,#0df,#0af,#03f,#00e,#01f,#05f,#06f,#06f,#06f,#09f,#09f,#06f,#04f,#05f,#07f,#05f,#04f,#08f,#0ef,#0df,#05f,#00f,#00e,#03f,#08f,#0cf,#0bf,#06f,#00f,#00e,#02f,#05f,#08f,#0cf,#0ef,#0bf,#07f,#03f,#05f,#06f,#03f,#05f,#09f,#0af,#08f,#06f,#04f,#02f,#00e,#01f,#04f,#06f,#05f,#03f,#03f,#04f,#03f,#02f,#01f,#01f,#02f,#02f,#04f,#05f,#00f,#00e,#00f,#01f,#00e,#00d,#00e,#04f,#02f,#00e,#00f,#03f,#05f,#03f,#00f,#00f,#00f)"></i><i style="background:linear-gradient(90deg,#03f,#03f,#03f,#06f,#06f,#03f,#01f,#00f,#02f,#06f,#0bf,#07f,#01f,#00f,#00f,#04f,#03f,#02f,#03f,#03f,#00f,#00e,#03f,#0cf,#0ef,#05f,#00e,#00e,#03f,#08f,#0af,#07f,#02f,#01f,#02f,#03f,#03f,#03f,#04f,#07f,#04f,#01f,#02f,#08f,#0bf,#05f,#02f,#05f,#0bf,#08f,#02f,#00e,#00e,#02f,#06f,#08f,#07f,#03f,#01f,#01f,#01f,#01f,#05f,#0bf,#0cf,#08f,#04f,#03f,#08f,#07f,#02f,#01f,#04f,#05f,#04f,#03f,#03f,#03f,#02f,#03f,#03f,#03f,#02f,#03f,#05f,#05f,#03f,#03f,#04f,#03f,#01f,#00f,#02f,#02f,#00d,#00d,#01f,#03f,#02f,#00f,#01f,#04f,#01f,#00d,#01f,#04f,#06f,#05f,#03f,#03f,#03f)"></i><i style="background:linear-gradient(90deg,#02f,#02f,#03f,#05f,#06f,#07f,#07f,#03f,#00f,#01f,#05f,#04f,#01f,#00f,#02f,#05f,#04f,#04f,#04f,#03f,#00d,#00c,#04f,#0ef,#0ff,#07f,#01f,#00e,#00f,#02f,#06f,#06f,#02f,#02f,#02f,#02f,#02f,#02f,#06f,#09f,#03f,#00f,#03f,#0af,#0bf,#03f,#00f,#04f,#07f,#06f,#02f,#00f,#00f,#01f,#02f,#03f,#03f,#03f,#04f,#06f,#05f,#01f,#03f,#0af,#08f,#02f,#02f,#05f,#0cf,#08f,#01f,#00f,#01f,#01f,#01f,#00f,#04f,#06f,#06f,#05f,#04f,#01f,#01f,#05f,#06f,#03f,#01f,#03f,#06f,#03f,#00f,#00f,#02f,#01f,#00d,#00d,#01f,#04f,#03f,#02f,#04f,#06f,#02f,#00e,#02f,#04f,#05f,#05f,#04f,#04f,#04f)"></i><i style="background:linear-gradient(90deg,#01f,#01f,#01f,#01f,#03f,#09f,#0cf,#04f,#00e,#00d,#01f,#01f,#00f,#00f,#04f,#06f,#05f,#05f,#06f,#04f,#00e,#00e,#04f,#0bf,#0af,#06f,#02f,#00e,#00d,#00f,#06f,#07f,#03f,#02f,#01f,#01f,#00f,#02f,#09f,#0cf,#05f,#02f,#03f,#09f,#08f,#01f,#00e,#02f,#04f,#04f,#03f,#03f,#02f,#01f,#01f,#01f,#00f,#02f,#07f,#0bf,#07f,#02f,#04f,#09f,#04f,#00e,#00f,#04f,#0af,#06f,#00f,#00f,#01f,#01f,#00f,#01f,#05f,#07f,#07f,#06f,#03f,#01f,#03f,#09f,#08f,#01f,#00e,#01f,#04f,#01f,#00e,#00f,#04f,#03f,#00e,#00d,#02f,#05f,#04f,#04f,#05f,#05f,#02f,#02f,#03f,#03f,#02f,#04f,#04f,#04f,#04f)"></i><i style="background:linear-gradient(90deg,#00f,#00f,#00f,#00d,#00f,#08f,#0cf,#03f,#00e,#00d,#02f,#03f,#01f,#02f,#06f,#06f,#03f,#04f,#06f,#05f,#03f,#03f,#05f,#05f,#04f,#03f,#02f,#00e,#00d,#00f,#08f,#08f,#03f,#02f,#02f,#02f,#00f,#03f,#0cf,#0df,#04f,#03f,#04f,#06f,#05f,#01f,#00f,#00f,#01f,#01f,#03f,#05f,#04f,#03f,#04f,#02f,#00e,#01f,#08f,#0df,#06f,#02f,#03f,#07f,#02f,#00e,#01f,#04f,#06f,#02f,#00e,#01f,#03f,#04f,#03f,#05f,#07f,#07f,#06f,#04f,#01f,#00f,#04f,#0df,#08f,#00f,#00e,#00f,#02f,#00e,#00e,#03f,#08f,#04f,#00f,#00e,#04f,#07f,#05f,#04f,#04f,#02f,#02f,#02f,#02f,#00f,#01f,#04f,#06f,#05f,#05f)"></i><i style="background:linear-gradient(90deg,#01f,#01f,#00f,#00d,#00d,#07f,#0bf,#02f,#00d,#00e,#03f,#04f,#04f,#06f,#09f,#06f,#02f,#02f,#04f,#04f,#05f,#05f,#03f,#00f,#00f,#03f,#03f,#00f,#00d,#01f,#0af,#07f,#02f,#02f,#06f,#06f,#03f,#04f,#0af,#09f,#02f,#01f,#02f,#03f,#04f,#04f,#03f,#01f,#00e,#00e,#03f,#06f,#05f,#06f,#09f,#05f,#00f,#01f,#08f,#0bf,#03f,#01f,#02f,#04f,#02f,#00f,#02f,#04f,#03f,#00e,#00e,#02f,#04f,#05f,#07f,#09f,#07f,#05f,#05f,#02f,#00e,#00f,#04f,#0df,#06f,#00e,#00e,#00f,#01f,#00f,#01f,#08f,#0af,#04f,#00e,#00f,#05f,#08f,#07f,#05f,#02f,#00f,#00f,#01f,#00e,#00d,#00f,#07f,#09f,#08f,#08f)"></i><i style="background:linear-gradient(90deg,#01f,#01f,#00f,#00d,#00d,#07f,#0af,#02f,#00e,#01f,#04f,#04f,#05f,#09f,#0af,#05f,#02f,#01f,#01f,#02f,#05f,#06f,#00f,#00c,#00e,#04f,#06f,#02f,#00f,#05f,#0af,#04f,#00e,#02f,#09f,#08f,#05f,#04f,#06f,#03f,#00e,#00e,#00f,#00f,#03f,#08f,#07f,#02f,#00e,#00e,#05f,#06f,#05f,#08f,#0bf,#06f,#01f,#00f,#06f,#08f,#01f,#00f,#00f,#01f,#01f,#01f,#04f,#05f,#03f,#01f,#02f,#04f,#03f,#05f,#09f,#08f,#04f,#02f,#04f,#02f,#00f,#01f,#03f,#0af,#04f,#00d,#00e,#01f,#02f,#03f,#07f,#0df,#0af,#02f,#00d,#00e,#03f,#07f,#08f,#06f,#02f,#00f,#00f,#02f,#00e,#00c,#00f,#08f,#0af,#08f,#08f)"></i><i style="background:linear-gradient(90deg,#00e,#00e,#00e,#00d,#00e,#08f,#0af,#04f,#03f,#04f,#04f,#02f,#04f,#08f,#08f,#04f,#02f,#01f,#00f,#01f,#06f,#07f,#00e,#00c,#00e,#06f,#08f,#04f,#04f,#09f,#09f,#00f,#00c,#02f,#08f,#07f,#04f,#03f,#02f,#00f,#00f,#00f,#00e,#00e,#03f,#0bf,#09f,#02f,#00f,#03f,#09f,#06f,#03f,#07f,#09f,#03f,#00f,#00d,#05f,#08f,#03f,#01f,#00e,#00e,#00f,#03f,#07f,#06f,#04f,#04f,#06f,#04f,#02f,#04f,#08f,#05f,#00f,#00f,#03f,#02f,#01f,#01f,#03f,#09f,#04f,#00e,#00f,#01f,#03f,#05f,#0bf,#0df,#07f,#00f,#00d,#00e,#01f,#04f,#07f,#04f,#01f,#01f,#01f,#06f,#02f,#00e,#01f,#07f,#06f,#05f,#05f)"></i><i style="background:linear-gradient(90deg,#00e,#00e,#00e,#00d,#02f,#08f,#09f,#06f,#05f,#05f,#02f,#01f,#03f,#05f,#04f,#02f,#01f,#00f,#00e,#00f,#08f,#0af,#01f,#00d,#00f,#06f,#07f,#04f,#07f,#0bf,#07f,#00e,#00c,#01f,#05f,#04f,#01f,#00f,#00e,#00f,#02f,#03f,#01f,#00f,#04f,#0bf,#06f,#00f,#01f,#07f,#0af,#04f,#01f,#05f,#05f,#00f,#00d,#00d,#05f,#08f,#05f,#02f,#00e,#00d,#01f,#07f,#09f,#05f,#04f,#05f,#05f,#01f,#00f,#04f,#08f,#02f,#00e,#00e,#03f,#03f,#00f,#00e,#03f,#09f,#06f,#03f,#02f,#02f,#01f,#04f,#09f,#09f,#03f,#01f,#01f,#01f,#00f,#02f,#06f,#02f,#00d,#00f,#03f,#0bf,#08f,#03f,#03f,#05f,#01f,#01f,#01f)"></i><i style="background:linear-gradient(90deg,#02f,#02f,#02f,#02f,#05f,#06f,#05f,#04f,#04f,#03f,#01f,#01f,#04f,#03f,#01f,#01f,#01f,#00e,#00d,#00e,#0af,#0df,#04f,#02f,#01f,#04f,#03f,#02f,#06f,#09f,#04f,#00f,#00e,#01f,#03f,#02f,#00f,#00d,#00d,#00f,#05f,#08f,#04f,#02f,#05f,#09f,#03f,#00e,#02f,#08f,#07f,#01f,#00f,#03f,#03f,#00e,#00d,#00e,#05f,#08f,#06f,#02f,#00e,#00e,#03f,#0bf,#0bf,#04f,#03f,#04f,#02f,#00d,#00d,#04f,#08f,#02f,#00f,#00f,#04f,#03f,#00e,#00d,#03f,#07f,#08f,#07f,#05f,#01f,#00f,#02f,#05f,#02f,#00f,#01f,#02f,#02f,#00f,#03f,#08f,#02f,#00c,#00c,#04f,#0df,#0bf,#06f,#04f,#02f,#00d,#00d,#00d)"></i><i style="background:linear-gradient(90deg,#05f,#05f,#06f,#07f,#07f,#04f,#01f,#01f,#01f,#00e,#00f,#02f,#04f,#02f,#00f,#01f,#02f,#00e,#00c,#00e,#0af,#0cf,#06f,#03f,#03f,#02f,#01f,#01f,#05f,#05f,#01f,#00f,#00f,#01f,#02f,#03f,#02f,#00f,#00d,#00f,#07f,#0af,#05f,#02f,#04f,#06f,#01f,#00e,#02f,#06f,#03f,#00d,#00e,#02f,#02f,#00e,#00e,#01f,#05f,#07f,#06f,#02f,#00e,#00e,#04f,#0bf,#08f,#03f,#02f,#02f,#00e,#00b,#00d,#05f,#07f,#01f,#00f,#01f,#06f,#05f,#01f,#00f,#02f,#04f,#06f,#06f,#04f,#01f,#00f,#02f,#02f,#00e,#00e,#01f,#02f,#00f,#00f,#05f,#0cf,#05f,#00c,#00c,#03f,#0af,#09f,#05f,#03f,#00e,#00e,#00e,#00e)"></i><i style="background:linear-gradient(90deg,#05f,#05f,#06f,#08f,#06f,#01f,#00f,#00f,#00e,#00d,#00e,#03f,#03f,#00f,#00e,#02f,#06f,#03f,#00e,#00f,#07f,#08f,#04f,#02f,#02f,#01f,#00f,#02f,#03f,#01f,#00e,#00e,#00e,#00f,#01f,#05f,#07f,#02f,#00e,#00e,#06f,#09f,#03f,#01f,#03f,#02f,#00f,#00f,#02f,#03f,#00f,#00d,#00e,#01f,#01f,#00f,#01f,#03f,#04f,#06f,#07f,#03f,#00e,#00e,#03f,#07f,#04f,#01f,#01f,#01f,#00e,#00d,#00f,#07f,#05f,#00d,#00d,#01f,#06f,#08f,#05f,#03f,#01f,#00f,#01f,#02f,#01f,#00f,#01f,#03f,#01f,#00f,#00f,#02f,#01f,#00c,#00d,#06f,#0df,#07f,#00e,#00d,#02f,#05f,#04f,#03f,#00f,#00d,#00e,#00f,#00f)"></i><i style="background:linear-gradient(90deg,#03f,#03f,#03f,#05f,#01f,#00f,#00f,#01f,#00f,#00e,#01f,#04f,#01f,#00c,#00c,#03f,#09f,#06f,#02f,#01f,#03f,#02f,#00f,#00f,#00f,#00f,#02f,#03f,#02f,#00e,#00d,#00e,#00e,#00e,#01f,#08f,#09f,#02f,#00e,#00e,#05f,#07f,#02f,#00f,#00f,#00f,#00e,#00f,#01f,#01f,#00f,#00f,#01f,#02f,#01f,#01f,#02f,#02f,#01f,#03f,#06f,#04f,#00f,#00e,#01f,#03f,#00f,#00e,#00e,#00f,#00f,#01f,#04f,#08f,#04f,#00c,#00b,#00f,#04f,#07f,#08f,#05f,#00f,#00e,#00e,#00e,#00e,#00e,#01f,#03f,#01f,#01f,#01f,#04f,#02f,#00c,#00d,#05f,#0af,#05f,#00f,#00e,#01f,#02f,#02f,#01f,#00f,#00e,#00e,#00e,#00e)"></i><i style="background:linear-gradient(90deg,#00f,#00f,#00f,#01f,#00d,#00e,#00f,#01f,#00f,#01f,#04f,#06f,#01f,#00a,#00b,#03f,#08f,#06f,#02f,#01f,#00f,#00e,#00d,#00d,#00e,#00f,#02f,#02f,#00f,#00d,#00e,#01f,#01f,#00f,#02f,#08f,#07f,#00f,#00c,#00d,#03f,#05f,#02f,#00f,#00e,#00e,#00e,#00e,#00f,#00f,#00f,#02f,#03f,#02f,#01f,#03f,#03f,#00e,#00d,#01f,#05f,#03f,#00f,#00e,#00f,#01f,#00e,#00d,#00d,#00e,#00e,#02f,#05f,#08f,#03f,#00d,#00c,#00e,#01f,#04f,#06f,#03f,#00e,#00d,#00d,#00f,#00f,#00f,#01f,#01f,#00e,#00f,#02f,#06f,#04f,#00e,#00f,#03f,#04f,#01f,#00e,#00e,#00e,#00f,#01f,#01f,#01f,#00e,#00e,#00e,#00e)"></i><i style="background:linear-gradient(90deg,#00f,#00f,#00f,#00f,#00e,#00e,#00e,#00e,#00e,#01f,#05f,#06f,#01f,#00c,#00c,#01f,#04f,#02f,#01f,#00f,#00e,#00e,#00e,#00e,#00f,#01f,#01f,#01f,#00e,#00d,#00f,#03f,#02f,#00f,#02f,#06f,#04f,#00c,#00b,#00d,#02f,#03f,#01f,#00f,#00e,#00e,#00e,#00f,#00f,#00f,#01f,#02f,#01f,#01f,#01f,#04f,#04f,#00d,#00c,#00e,#02f,#01f,#00d,#00d,#00f,#02f,#02f,#00f,#00e,#00d,#00d,#01f,#03f,#04f,#03f,#01f,#00f,#00e,#00e,#01f,#03f,#01f,#00d,#00c,#00e,#02f,#02f,#01f,#02f,#00f,#00d,#00e,#02f,#05f,#04f,#01f,#01f,#01f,#00f,#00e,#00e,#00e,#00e,#00e,#00f,#01f,#00f,#00f,#00f,#00f,#00f)"></i><i style="background:linear-gradient(90deg,#01f,#01f,#01f,#02f,#01f,#00f,#00e,#00d,#00d,#00f,#04f,#05f,#01f,#00e,#00e,#00f,#00f,#00e,#00e,#00e,#00e,#00e,#00e,#00f,#00f,#00f,#01f,#01f,#00e,#00e,#01f,#02f,#00f,#00e,#02f,#04f,#01f,#00c,#00c,#00e,#01f,#01f,#00e,#00d,#00d,#00e,#01f,#02f,#02f,#02f,#01f,#00f,#00d,#00d,#00f,#04f,#03f,#00e,#00e,#00f,#01f,#00d,#00b,#00b,#00f,#03f,#03f,#02f,#01f,#00e,#00d,#00d,#00f,#01f,#02f,#02f,#01f,#00e,#00d,#00f,#02f,#00e,#00c,#00c,#00f,#03f,#02f,#01f,#02f,#00f,#00d,#00e,#01f,#03f,#02f,#01f,#00e,#00d,#00d,#00e,#01f,#01f,#00f,#00e,#00e,#00e,#00e,#00e,#01f,#02f,#02f)"></i><i style="background:linear-gradient(90deg,#08f,#08f,#08f,#06f,#02f,#00f,#00d,#00d,#00d,#00e,#00f,#00e,#00e,#00e,#00f,#00f,#01f,#02f,#04f,#05f,#06f,#04f,#02f,#01f,#00f,#00f,#01f,#01f,#00f,#00e,#00e,#00e,#00e,#01f,#03f,#02f,#00f,#00d,#00e,#00f,#02f,#02f,#00f,#00d,#00c,#00d,#00d,#00f,#01f,#00f,#00e,#00c,#00c,#00d,#01f,#04f,#03f,#00f,#00e,#00e,#01f,#03f,#05f,#03f,#01f,#00f,#01f,#03f,#07f,#08f,#06f,#02f,#00f,#01f,#02f,#04f,#04f,#02f,#00f,#00f,#01f,#01f,#01f,#02f,#02f,#02f,#01f,#00f,#01f,#00f,#00e,#00e,#00e,#00e,#00e,#00e,#00d,#00c,#00d,#00e,#02f,#03f,#03f,#01f,#01f,#01f,#02f,#04f,#04f,#04f,#04f)"></i><i style="background:linear-gradient(90deg,#08f,#08f,#07f,#04f,#01f,#00e,#00d,#00d,#00d,#00d,#00d,#00d,#00e,#00f,#01f,#01f,#01f,#01f,#01f,#02f,#02f,#00f,#00d,#00d,#00c,#00d,#00d,#00e,#00e,#00d,#00d,#00d,#00f,#05f,#09f,#09f,#04f,#00f,#00e,#00f,#03f,#04f,#02f,#00e,#00c,#00c,#00d,#00e,#02f,#02f,#00e,#00d,#00d,#00e,#02f,#06f,#05f,#01f,#00d,#00d,#00e,#03f,#06f,#06f,#03f,#00f,#00f,#02f,#06f,#0af,#0af,#06f,#02f,#02f,#03f,#05f,#07f,#07f,#04f,#03f,#02f,#03f,#04f,#04f,#03f,#02f,#01f,#00f,#00e,#00d,#00d,#00d,#00c,#00d,#00d,#00d,#00d,#00d,#00d,#00e,#01f,#03f,#03f,#00f,#00e,#00e,#00e,#01f,#01f,#01f,#01f)"></i><i style="background:linear-gradient(90deg,#02f,#02f,#02f,#01f,#00e,#00d,#00d,#00d,#00e,#00e,#00f,#00f,#01f,#03f,#03f,#02f,#00f,#00e,#00d,#00d,#00d,#00d,#00c,#00c,#00c,#00c,#00d,#00e,#00f,#00f,#00e,#00e,#00f,#04f,#0af,#0af,#05f,#00f,#00e,#00e,#01f,#05f,#06f,#02f,#00e,#00d,#00e,#03f,#09f,#0af,#06f,#01f,#00e,#00f,#03f,#06f,#06f,#02f,#00e,#00d,#00d,#00f,#03f,#04f,#02f,#00f,#00e,#00e,#01f,#04f,#05f,#03f,#01f,#00f,#01f,#02f,#04f,#05f,#05f,#04f,#03f,#03f,#04f,#03f,#02f,#01f,#00f,#00e,#00e,#00d,#00d,#00c,#00d,#00d,#00e,#00e,#00e,#00d,#00d,#00e,#00f,#02f,#01f,#00e,#00d,#00c,#00c,#00d,#00e,#00e,#00e)"></i><i style="background:linear-gradient(90deg,#00d,#00d,#00d,#00e,#00e,#00e,#00e,#01f,#02f,#03f,#03f,#03f,#04f,#05f,#04f,#02f,#00e,#00d,#00c,#00c,#00d,#00d,#00c,#00c,#00c,#00c,#00d,#00f,#03f,#02f,#00f,#00e,#00e,#01f,#05f,#07f,#04f,#00f,#00d,#00d,#00f,#05f,#09f,#07f,#03f,#00f,#01f,#06f,#0ef,#0ff,#0ef,#06f,#01f,#00f,#02f,#06f,#08f,#05f,#00f,#00d,#00d,#00e,#02f,#03f,#01f,#00e,#00d,#00d,#00d,#00f,#00f,#00f,#00e,#00d,#00e,#00f,#01f,#02f,#02f,#02f,#01f,#01f,#01f,#00f,#00f,#00e,#00e,#00e,#00e,#00e,#00d,#00d,#00e,#00f,#02f,#04f,#03f,#00f,#00e,#00e,#00f,#01f,#01f,#00e,#00c,#00c,#00c,#00d,#00e,#00e,#00e)"></i><i style="background:linear-gradient(90deg,#00d,#00d,#00d,#00d,#00d,#00e,#01f,#03f,#04f,#05f,#04f,#04f,#04f,#05f,#04f,#01f,#00e,#00d,#00c,#00c,#00d,#00e,#00d,#00d,#00c,#00d,#00e,#02f,#06f,#05f,#01f,#00e,#00d,#00e,#02f,#05f,#03f,#00e,#00d,#00d,#00e,#04f,#0af,#0af,#05f,#02f,#02f,#05f,#0df,#0ff,#0ff,#07f,#02f,#00f,#02f,#06f,#08f,#06f,#02f,#00e,#00d,#00e,#01f,#02f,#01f,#00e,#00d,#00d,#00d,#00d,#00e,#00e,#00d,#00d,#00d,#00e,#00e,#00f,#00f,#00f,#00f,#00f,#00e,#00e,#00d,#00d,#00e,#00e,#00f,#00f,#00f,#00e,#00f,#03f,#06f,#09f,#07f,#03f,#00f,#00e,#00f,#01f,#01f,#00e,#00d,#00c,#00c,#00d,#00f,#01f,#01f)"></i><i style="background:linear-gradient(90deg,#00d,#00d,#00d,#00d,#00d,#00e,#01f,#03f,#04f,#05f,#04f,#04f,#04f,#05f,#04f,#01f,#00e,#00d,#00c,#00c,#00d,#00e,#00d,#00d,#00c,#00d,#00e,#02f,#06f,#05f,#01f,#00e,#00d,#00e,#02f,#05f,#03f,#00e,#00d,#00d,#00e,#04f,#0af,#0af,#05f,#02f,#02f,#05f,#0df,#0ff,#0ff,#07f,#02f,#00f,#02f,#06f,#08f,#06f,#02f,#00e,#00d,#00e,#01f,#02f,#01f,#00e,#00d,#00d,#00d,#00d,#00e,#00e,#00d,#00d,#00d,#00e,#00e,#00f,#00f,#00f,#00f,#00f,#00e,#00e,#00d,#00d,#00e,#00e,#00f,#00f,#00f,#00e,#00f,#03f,#06f,#09f,#07f,#03f,#00f,#00e,#00f,#01f,#01f,#00e,#00d,#00c,#00c,#00d,#00f,#01f,#01f)"></i></b></div>
<div class="hm" id="hcr"><b><i style="background:linear-gradient(90deg,#07f,#07f,#07f,#06f,#06f,#05f,#05f,#04f,#04f,#03f,#03f,#03f,#03f,#03f,#03f,#03f,#03f,#03f,#03f,#02f,#00f,#00d,#00e,#02f,#04f,#06f,#06f,#06f,#05f,#03f,#01f,#00e,#00c,#00c,#00c,#00c,#00c,#00c,#00c,#00c,#00c,#00c,#00c,#00c,#00c,#00c,#00c,#00c,#00c,#00c,#00c,#00c,#00c,#00c,#00c,#00c,#00c,#00c,#00c,#00c,#00c,#00c,#00c,#00c,#00c,#00c,#00c,#00c,#00c,#00c,#00c,#00c,#00c,#00c,#00c,#00c,#00c,#00c,#00c,#00c,#00c,#00c,#00c,#00c,#00c,#00c,#00c,#00c,#00c,#00c,#00c,#00c,#00c,#00c)"></i><i style="background:linear-gradient(90deg,#07f,#07f,#07f,#06f,#06f,#05f,#05f,#04f,#04f,#03f,#03f,#03f,#03f,#03f,#03f,#03f,#03f,#03f,#03f,#02f,#00f,#00d,#00e,#02f,#04f,#06f,#06f,#06f,#05f,#03f,#01f,#00e,#00c,#00c,#00c,#00c,#00c,#00c,#00c,#00c,#00c,#00c,#00c,#00c,#00c,#00c,#00c,#00c,#00c,#00c,#00c,#00c,#00c,#00c,#00c,#00c,#00c,#00c,#00c,#00c,#00c,#00c,#00c,#00c,#00c,#00c,#00c,#00c,#00c,#00c,#00c,#00c,#00c,#00c,#00c,#00c,#00c,#00c,#00c,#00c,#00c,#00c,#00c,#00c,#00c,#00c,#00c,#00c,#00c,#00c,#00c,#00c,#00c,#00c)"></i><i style="background:linear-gradient(90deg,#06f,#06f,#06f,#06f,#05f,#05f,#05f,#04f,#03f,#03f,#02f,#02f,#01f,#01f,#01f,#02f,#02f,#02f,#02f,#02f,#01f,#00e,#00c,#00f,#03f,#06f,#08f,#09f,#08f,#06f,#04f,#01f,#00e,#00c,#00c,#00c,#00c,#00c,#00c,#00c,#00c,#00c,#00c,#00c,#00c,#00c,#00c,#00c,#00c,#00c,#00c,#00c,#00c,#00c,#00c,#00c,#00c,#00c,#00c,#00c,#00c,#00c,#00c,#00c,#00c,#00c,#00c,#00c,#00c,#00c,#00c,#00c,#00c,#00c,#00c,#00c,#00c,#00c,#00c,#00c,#00c,#00c,#00c,#00c,#00c,#00c,#00c,#00c,#00c,#00c,#00c,#00c,#00c,#00c)"></i><i style="background:linear-gradient(90deg,#01f,#01f,#02f,#02f,#02f,#01f,#01f,#01f,#00f,#00f,#00e,#00d,#00d,#00c,#00c,#00c,#00d,#00e,#00e,#00f,#00f,#00f,#00e,#00c,#00e,#01f,#04f,#06f,#08f,#07f,#06f,#03f,#01f,#00e,#00c,#00c,#00c,#00c,#00c,#00c,#00c,#00c,#00c,#00c,#00c,#00c,#00c,#00c,#00c,#00c,#00c,#00c,#00c,#00c,#00c,#00c,#00c,#00c,#00c,#00c,#00c,#00c,#00c,#00c,#00c,#00c,#00c,#00c,#00c,#00c,#00c,#00c,#00c,#00c,#00c,#00c,#00c,#00c,#00c,#00c,#00c,#00c,#00c,#00c,#00c,#00c,#00c,#00c,#00c,#00c,#00c,#00c,#00c,#00c)"></i><i style="background:linear-gradient(90deg,#00e,#00e,#00e,#00d,#00d,#00d,#00d,#00d,#00d,#00d,#00e,#00e,#00f,#00f,#01f,#01f,#00f,#00e,#00d,#00c,#00e,#00f,#01f,#01f,#01f,#00e,#00c,#00d,#00f,#02f,#02f,#02f,#01f,#00f,#00e,#00d,#00d,#00d,#00d,#00c,#00c,#00c,#00c,#00c,#00c,#00c,#00c,#00c,#00c,#00c,#00c,#00c,#00c,#00c,#00c,#00c,#00c,#00c,#00c,#00c,#00c,#00c,#00c,#00c,#00c,#00c,#00c,#00c,#00c,#00c,#00c,#00c,#00c,#00c,#00c,#00c,#00c,#00c,#00c,#00c,#00c,#00c,#00c,#00c,#00c,#00c,#00c,#00c,#00c,#00c,#00c,#00c,#00c,#00c)"></i><i style="background:linear-gradient(90deg,#05f,#05f,#04f,#04f,#03f,#03f,#02f,#02f,#02f,#02f,#02f,#02f,#03f,#03f,#04f,#04f,#04f,#03f,#02f,#00e,#00c,#00e,#02f,#04f,#06f,#06f,#05f,#04f,#02f,#00f,#00d,#00c,#00d,#00e,#00e,#00f,#00f,#01f,#01f,#01f,#00f,#00d,#00c,#00c,#00c,#00c,#00c,#00c,#00c,#00c,#00c,#00c,#00c,#00c,#00c,#00c,#00c,#00c,#00c,#00c,#00c,#00c,#00c,#00c,#00c,#00c,#00c,#00c,#00c,#00c,#00c,#00c,#00c,#00c,#00c,#00c,#00c,#00c,#00c,#00c,#00c,#00c,#00c,#00c,#00c,#00c,#00c,#00c,#00c,#00c,#00c,#00c,#00c,#00c)"></i><i style="background:linear-gradient(90deg,#07f,#07f,#07f,#06f,#06f,#05f,#04f,#04f,#03f,#03f,#03f,#03f,#03f,#03f,#04f,#04f,#05f,#04f,#04f,#02f,#00e,#00c,#01f,#04f,#07f,#09f,#0af,#09f,#08f,#06f,#04f,#01f,#00e,#00c,#00d,#00f,#01f,#03f,#04f,#04f,#03f,#01f,#00e,#00d,#00c,#00c,#00c,#00c,#00c,#00c,#00c,#00c,#00c,#00c,#00c,#00c,#00c,#00c,#00c,#00c,#00c,#00c,#00c,#00c,#00c,#00c,#00c,#00c,#00c,#00c,#00c,#00c,#00c,#00c,#00c,#00c,#00c,#00c,#00c,#00c,#00c,#00c,#00c,#00c,#00c,#00c,#00c,#00c,#00c,#00c,#00c,#00c,#00c,#00c)"></i><i style="background:linear-gradient(90deg,#04f,#04f,#04f,#04f,#04f,#03f,#03f,#02f,#02f,#01f,#00f,#00f,#00f,#00f,#01f,#01f,#02f,#03f,#03f,#02f,#01f,#00e,#00d,#01f,#05f,#08f,#0af,#0af,#0af,#08f,#06f,#04f,#02f,#00f,#00d,#00c,#00e,#02f,#04f,#05f,#05f,#04f,#01f,#00e,#00c,#00c,#00c,#00c,#00c,#00c,#00c,#00c,#00c,#00c,#00c,#00c,#00c,#00c,#00c,#00c,#00c,#00c,#00c,#00c,#00c,#00c,#00c,#00c,#00c,#00c,#00c,#00c,#00c,#00c,#00c,#00c,#00c,#00c,#00c,#00c,#00c,#00c,#00c,#00c,#00c,#00c,#00c,#00c,#00c,#00c,#00c,#00c,#00c,#00c)"></i><i style="background:linear-gradient(90deg,#00d,#00d,#00d,#00e,#00e,#00e,#00e,#00d,#00d,#00c,#00c,#00d,#00d,#00e,#00d,#00c,#00c,#00e,#00f,#01f,#02f,#01f,#00e,#00c,#00e,#02f,#04f,#06f,#06f,#06f,#04f,#03f,#02f,#01f,#00f,#00e,#00d,#00c,#00e,#01f,#03f,#03f,#02f,#00f,#00d,#00c,#00d,#00c,#00c,#00c,#00c,#00c,#00c,#00c,#00c,#00c,#00c,#00c,#00c,#00c,#00c,#00c,#00c,#00c,#00c,#00c,#00c,#00c,#00c,#00c,#00c,#00c,#00c,#00c,#00c,#00c,#00c,#00c,#00c,#00c,#00c,#00c,#00c,#00c,#00c,#00c,#00c,#00c,#00c,#00c,#00c,#00c,#00c,#00c)"></i><i style="background:linear-gradient(90deg,#02f,#02f,#02f,#01f,#01f,#00f,#00f,#00f,#00f,#00f,#01f,#02f,#03f,#03f,#03f,#03f,#01f,#00f,#00c,#00e,#01f,#02f,#03f,#02f,#01f,#00e,#00c,#00d,#00e,#00f,#00e,#00e,#00e,#00e,#00f,#01f,#02f,#03f,#02f,#00f,#00c,#00d,#00f,#00e,#00d,#00c,#00c,#00d,#00c,#00c,#00c,#00c,#00c,#00c,#00c,#00c,#00c,#00c,#00c,#00c,#00c,#00c,#00c,#00c,#00c,#00c,#00c,#00c,#00c,#00c,#00c,#00c,#00c,#00c,#00c,#00c,#00c,#00c,#00c,#00c,#00c,#00c,#00c,#00c,#00c,#00c,#00c,#00c,#00c,#00c,#00c,#00c,#00c,#00c)"></i><i style="background:linear-gradient(90deg,#06f,#06f,#06f,#05f,#05f,#04f,#03f,#03f,#02f,#02f,#03f,#04f,#05f,#05f,#06f,#06f,#05f,#04f,#01f,#00d,#00e,#02f,#04f,#06f,#06f,#06f,#04f,#03f,#02f,#01f,#00f,#00f,#00e,#00c,#00e,#02f,#04f,#07f,#07f,#07f,#04f,#01f,#00d,#00d,#00e,#00d,#00c,#00c,#00c,#00c,#00c,#00c,#00c,#00c,#00c,#00c,#00c,#00c,#00c,#00c,#00c,#00c,#00c,#00c,#00c,#00c,#00c,#00c,#00c,#00c,#00c,#00c,#00c,#00c,#00c,#00c,#00c,#00c,#00c,#00c,#00c,#00c,#00c,#00c,#00c,#00c,#00c,#00c,#00c,#00c,#00c,#00c,#00c,#00c)"></i><i style="background:linear-gradient(90deg,#06f,#06f,#06f,#06f,#05f,#04f,#03f,#03f,#02f,#01f,#01f,#02f,#03f,#04f,#05f,#06f,#06f,#05f,#04f,#01f,#00c,#00f,#03f,#06f,#08f,#09f,#08f,#07f,#06f,#05f,#05f,#04f,#03f,#01f,#00d,#00e,#04f,#07f,#0af,#0af,#08f,#05f,#01f,#00c,#00e,#00f,#00e,#00e,#00d,#00c,#00c,#00c,#00c,#00c,#00c,#00c,#00c,#00c,#00c,#00c,#00c,#00c,#00c,#00c,#00c,#00c,#00c,#00c,#00c,#00c,#00c,#00c,#00c,#00c,#00c,#00c,#00c,#00c,#00c,#00c,#00c,#00c,#00c,#00c,#00c,#00c,#00c,#00c,#00c,#00c,#00c,#00c,#00c,#00c)"></i><i style="background:linear-gradient(90deg,#02f,#02f,#02f,#02f,#02f,#01f,#00f,#00f,#00e,#00d,#00c,#00c,#00d,#00e,#00f,#02f,#03f,#04f,#04f,#03f,#00f,#00c,#00f,#03f,#06f,#07f,#07f,#07f,#06f,#06f,#05f,#05f,#05f,#04f,#01f,#00d,#00f,#04f,#08f,#09f,#09f,#06f,#02f,#00d,#00e,#01f,#01f,#00f,#00e,#00d,#00d,#00c,#00c,#00c,#00c,#00c,#00c,#00c,#00c,#00c,#00c,#00c,#00c,#00c,#00c,#00c,#00c,#00c,#00c,#00c,#00c,#00c,#00c,#00c,#00c,#00c,#00c,#00c,#00c,#00c,#00c,#00c,#00c,#00c,#00c,#00c,#00c,#00c,#00c,#00c,#00c,#00c,#00c,#00c)"></i><i style="background:linear-gradient(90deg,#00d,#00d,#00d,#00d,#00c,#00c,#00d,#00d,#00e,#00f,#01f,#02f,#02f,#01f,#00f,#00d,#00d,#00f,#02f,#03f,#02f,#01f,#00d,#00d,#00f,#02f,#02f,#02f,#02f,#01f,#02f,#03f,#04f,#04f,#04f,#02f,#00e,#00e,#03f,#05f,#05f,#04f,#00f,#00c,#00f,#02f,#02f,#01f,#00f,#00d,#00d,#00c,#00c,#00c,#00c,#00c,#00c,#00c,#00c,#00c,#00c,#00c,#00c,#00c,#00c,#00c,#00c,#00c,#00c,#00c,#00c,#00c,#00c,#00c,#00c,#00c,#00c,#00c,#00c,#00c,#00c,#00c,#00c,#00c,#00c,#00c,#00c,#00c,#00c,#00c,#00c,#00c,#00c,#00c)"></i><i style="background:linear-gradient(90deg,#04f,#04f,#04f,#03f,#02f,#02f,#01f,#01f,#02f,#03f,#04f,#05f,#06f,#06f,#05f,#04f,#01f,#00d,#00d,#01f,#03f,#03f,#02f,#01f,#00f,#00e,#00d,#00d,#00e,#00e,#00d,#00c,#00f,#02f,#04f,#05f,#04f,#01f,#00d,#00e,#00f,#00f,#00d,#00d,#00f,#01f,#01f,#00e,#00d,#00c,#00c,#00c,#00c,#00c,#00c,#00c,#00c,#00c,#00c,#00c,#00c,#00c,#00c,#00c,#00c,#00c,#00c,#00c,#00c,#00c,#00c,#00c,#00c,#00c,#00c,#00c,#00c,#00c,#00c,#00c,#00c,#00c,#00c,#00c,#00c,#00c,#00c,#00c,#00c,#00c,#00c,#00c,#00c,#00c)"></i><i style="background:linear-gradient(90deg,#07f,#07f,#06f,#06f,#04f,#03f,#03f,#02f,#02f,#03f,#04f,#05f,#07f,#08f,#08f,#07f,#05f,#02f,#00e,#00d,#02f,#04f,#05f,#05f,#04f,#04f,#04f,#05f,#05f,#06f,#05f,#03f,#00e,#00e,#03f,#06f,#07f,#06f,#03f,#01f,#00e,#00d,#00d,#00e,#00f,#00f,#00e,#00c,#00e,#00e,#00d,#00c,#00e,#00e,#00d,#00c,#00c,#00c,#00c,#00c,#00c,#00c,#00c,#00c,#00c,#00c,#00c,#00c,#00c,#00c,#00c,#00c,#00c,#00c,#00c,#00c,#00c,#00c,#00c,#00c,#00c,#00c,#00c,#00c,#00c,#00c,#00c,#00c,#00c,#00c,#00c,#00c,#00c,#00c)"></i><i style="background:linear-gradient(90deg,#05f,#05f,#05f,#04f,#03f,#02f,#01f,#00f,#00e,#00e,#00f,#01f,#03f,#05f,#06f,#07f,#07f,#05f,#02f,#00d,#00e,#02f,#04f,#05f,#05f,#05f,#06f,#07f,#08f,#0af,#0af,#08f,#04f,#00e,#00f,#04f,#07f,#08f,#06f,#04f,#02f,#00f,#00e,#00e,#00e,#00d,#00c,#00f,#02f,#03f,#01f,#00c,#00f,#02f,#02f,#00f,#00d,#00c,#00c,#00c,#00c,#00c,#00c,#00c,#00c,#00c,#00c,#00c,#00c,#00c,#00c,#00c,#00c,#00c,#00c,#00c,#00c,#00c,#00c,#00c,#00c,#00c,#00c,#00c,#00c,#00c,#00c,#00c,#00c,#00c,#00c,#00c,#00c,#00c)"></i><i style="background:linear-gradient(90deg,#00e,#00e,#00e,#00e,#00e,#00d,#00c,#00d,#00e,#00f,#00f,#00e,#00c,#00d,#01f,#03f,#04f,#04f,#03f,#00f,#00c,#00e,#01f,#02f,#02f,#02f,#03f,#04f,#06f,#08f,#0af,#0af,#07f,#03f,#00d,#01f,#05f,#07f,#06f,#04f,#01f,#00f,#00e,#00e,#00d,#00c,#00e,#02f,#05f,#06f,#04f,#00e,#01f,#06f,#07f,#05f,#01f,#00d,#00c,#00c,#00c,#00c,#00c,#00c,#00c,#00c,#00c,#00c,#00c,#00c,#00c,#00c,#00c,#00c,#00c,#00c,#00c,#00c,#00c,#00c,#00c,#00c,#00c,#00c,#00c,#00c,#00c,#00c,#00c,#00c,#00c,#00c,#00c,#00c)"></i><i style="background:linear-gradient(90deg,#01f,#01f,#00f,#00f,#00e,#00f,#00f,#01f,#03f,#04f,#05f,#05f,#04f,#02f,#00e,#00c,#00f,#02f,#02f,#01f,#00e,#00c,#00c,#00d,#00c,#00c,#00d,#00c,#00e,#02f,#06f,#08f,#07f,#05f,#01f,#00c,#01f,#03f,#02f,#01f,#00d,#00c,#00c,#00c,#00c,#00c,#00d,#02f,#05f,#07f,#06f,#02f,#00e,#07f,#0bf,#0af,#06f,#01f,#00c,#00d,#00c,#00c,#00c,#00c,#00c,#00c,#00c,#00c,#00c,#00c,#00c,#00c,#00c,#00c,#00c,#00c,#00c,#00c,#00c,#00c,#00c,#00c,#00c,#00c,#00c,#00c,#00c,#00c,#00c,#00c,#00c,#00c,#00c,#00c)"></i><i style="background:linear-gradient(90deg,#05f,#05f,#05f,#04f,#03f,#02f,#02f,#03f,#04f,#06f,#08f,#09f,#09f,#08f,#05f,#02f,#00d,#00d,#00f,#01f,#01f,#00f,#00e,#00f,#02f,#04f,#05f,#05f,#03f,#00f,#00d,#02f,#05f,#05f,#02f,#00e,#00c,#00d,#00d,#00c,#00f,#01f,#00f,#00d,#00c,#00d,#00d,#00e,#03f,#06f,#07f,#05f,#00d,#03f,#0af,#0cf,#09f,#03f,#00d,#00d,#00d,#00c,#00c,#00c,#00c,#00c,#00c,#00c,#00c,#00c,#00c,#00c,#00c,#00c,#00c,#00c,#00c,#00c,#00c,#00c,#00c,#00c,#00c,#00c,#00c,#00c,#00c,#00c,#00c,#00c,#00c,#00c,#00c,#00c)"></i><i style="background:linear-gradient(90deg,#06f,#06f,#06f,#04f,#03f,#01f,#00f,#00f,#01f,#03f,#05f,#08f,#09f,#0af,#08f,#06f,#02f,#00d,#00d,#00f,#00f,#00f,#00f,#01f,#04f,#07f,#0af,#0cf,#0bf,#08f,#03f,#00c,#01f,#03f,#02f,#01f,#00e,#00e,#00e,#02f,#04f,#04f,#03f,#00f,#00d,#01f,#02f,#00e,#00e,#04f,#07f,#07f,#03f,#00c,#05f,#0af,#0af,#05f,#00e,#00d,#00e,#00d,#00c,#00c,#00c,#00c,#00c,#00c,#00c,#00c,#00c,#00c,#00c,#00c,#00c,#00c,#00c,#00c,#00c,#00c,#00c,#00c,#00c,#00c,#00c,#00c,#00c,#00c,#00c,#00c,#00c,#00c,#00c,#00c)"></i><i style="background:linear-gradient(90deg,#03f,#03f,#02f,#01f,#00f,#00d,#00c,#00d,#00d,#00c,#00e,#02f,#05f,#07f,#07f,#06f,#03f,#00f,#00c,#00e,#00e,#00e,#00d,#00e,#02f,#06f,#0af,#0ef,#0ff,#0cf,#08f,#02f,#00c,#00f,#01f,#01f,#00f,#00e,#01f,#03f,#06f,#07f,#05f,#01f,#00e,#04f,#07f,#05f,#01f,#00e,#06f,#09f,#08f,#03f,#00d,#04f,#07f,#05f,#00f,#00d,#00f,#00e,#00d,#00c,#00c,#00c,#00c,#00c,#00c,#00c,#00c,#00c,#00c,#00c,#00c,#00c,#00c,#00c,#00c,#00c,#00c,#00c,#00c,#00c,#00c,#00c,#00c,#00c,#00c,#00c,#00c,#00c,#00c,#00c)"></i><i style="background:linear-gradient(90deg,#00c,#00c,#00c,#00c,#00d,#00e,#01f,#03f,#04f,#04f,#03f,#00e,#00d,#01f,#03f,#03f,#02f,#00e,#00c,#00d,#00c,#00c,#00e,#00e,#00c,#00f,#05f,#0af,#0df,#0cf,#09f,#04f,#00e,#00d,#00f,#00e,#00d,#00d,#00e,#02f,#05f,#07f,#06f,#01f,#00e,#06f,#0bf,#0bf,#07f,#00e,#03f,#09f,#0bf,#08f,#03f,#00c,#02f,#03f,#00f,#00c,#00f,#00f,#00e,#00c,#00c,#00c,#00c,#00c,#00c,#00c,#00c,#00c,#00c,#00c,#00c,#00c,#00c,#00c,#00c,#00c,#00c,#00c,#00c,#00c,#00c,#00c,#00c,#00c,#00c,#00c,#00c,#00c,#00c,#00c)"></i><i style="background:linear-gradient(90deg,#02f,#02f,#01f,#01f,#01f,#02f,#04f,#06f,#09f,#0af,#09f,#07f,#03f,#00e,#00d,#00f,#00e,#00d,#00d,#00d,#00c,#00f,#03f,#05f,#05f,#02f,#00c,#02f,#06f,#07f,#06f,#02f,#00d,#00d,#00d,#00c,#00e,#00f,#00e,#00d,#02f,#05f,#05f,#02f,#00d,#06f,#0cf,#0ef,#0bf,#04f,#00e,#07f,#0cf,#0cf,#08f,#01f,#00d,#01f,#01f,#00d,#00d,#00f,#00e,#00d,#00c,#00c,#00c,#00c,#00c,#00c,#00c,#00c,#00c,#00c,#00c,#00c,#00c,#00c,#00c,#00c,#00c,#00c,#00c,#00c,#00c,#00c,#00c,#00c,#00c,#00c,#00c,#00c,#00c,#00c)"></i><i style="background:linear-gradient(90deg,#04f,#04f,#04f,#02f,#01f,#01f,#02f,#05f,#08f,#0bf,#0cf,#0bf,#08f,#04f,#00e,#00c,#00c,#00d,#00e,#00f,#00d,#00f,#05f,#0af,#0cf,#0af,#06f,#00f,#00d,#01f,#00f,#00d,#00d,#00e,#00d,#00d,#02f,#05f,#04f,#01f,#00c,#02f,#05f,#03f,#00d,#04f,#0bf,#0ef,#0df,#07f,#00d,#04f,#0bf,#0cf,#09f,#04f,#00c,#00f,#02f,#01f,#00c,#00d,#00e,#00d,#00c,#00c,#00c,#00c,#00c,#00c,#00c,#00c,#00c,#00c,#00c,#00c,#00c,#00c,#00c,#00c,#00c,#00c,#00c,#00c,#00c,#00c,#00c,#00c,#00c,#00c,#00c,#00c,#00c,#00c)"></i><i style="background:linear-gradient(90deg,#03f,#03f,#02f,#00f,#00c,#00c,#00c,#00e,#03f,#07f,#0af,#0bf,#09f,#05f,#01f,#00d,#00c,#00e,#01f,#02f,#00f,#00d,#04f,#0af,#0ff,#0ff,#0cf,#07f,#02f,#00d,#00d,#00e,#01f,#02f,#00f,#00d,#04f,#08f,#0af,#07f,#01f,#00f,#04f,#05f,#02f,#00d,#06f,#0bf,#0cf,#08f,#01f,#01f,#07f,#0af,#08f,#03f,#00c,#01f,#03f,#03f,#00f,#00c,#00d,#00e,#00d,#00c,#00c,#00c,#00c,#00c,#00c,#00c,#00c,#00c,#00c,#00c,#00c,#00c,#00c,#00c,#00c,#00c,#00c,#00c,#00c,#00c,#00c,#00c,#00c,#00c,#00c,#00c,#00c,#00c)"></i><i style="background:linear-gradient(90deg,#00e,#00e,#00e,#00d,#01f,#04f,#04f,#03f,#00e,#00f,#04f,#06f,#06f,#02f,#00d,#00c,#00c,#00d,#02f,#05f,#04f,#00f,#00f,#07f,#0df,#0ff,#0df,#09f,#04f,#01f,#00f,#02f,#04f,#05f,#02f,#00c,#04f,#0af,#0df,#0bf,#05f,#00c,#04f,#08f,#07f,#02f,#00e,#05f,#09f,#07f,#03f,#00c,#02f,#05f,#04f,#01f,#00c,#02f,#04f,#04f,#02f,#00e,#00c,#00e,#00e,#00d,#00c,#00c,#00c,#00c,#00c,#00c,#00c,#00c,#00c,#00c,#00c,#00c,#00c,#00c,#00c,#00c,#00c,#00c,#00c,#00c,#00c,#00c,#00c,#00c,#00c,#00c,#00c,#00c)"></i><i style="background:linear-gradient(90deg,#00d,#00d,#00d,#00f,#04f,#09f,#0bf,#0bf,#07f,#02f,#00c,#01f,#01f,#00d,#00e,#02f,#01f,#00c,#01f,#06f,#08f,#06f,#00f,#01f,#07f,#0af,#09f,#05f,#01f,#00d,#00e,#01f,#05f,#07f,#05f,#00f,#01f,#09f,#0df,#0cf,#07f,#00d,#04f,#0af,#0bf,#08f,#01f,#00e,#04f,#05f,#03f,#00e,#00d,#00f,#00f,#00d,#00e,#02f,#04f,#04f,#03f,#00f,#00d,#00d,#00e,#00e,#00e,#00c,#00c,#00c,#00c,#00c,#00c,#00c,#00c,#00c,#00c,#00c,#00c,#00c,#00c,#00c,#00c,#00c,#00c,#00c,#00c,#00c,#00c,#00c,#00c,#00c,#00c,#00c)"></i><i style="background:linear-gradient(90deg,#00d,#00d,#00d,#00f,#04f,#0af,#0ff,#1fe,#0df,#07f,#01f,#00c,#00c,#00f,#04f,#06f,#06f,#01f,#00e,#06f,#0bf,#0bf,#06f,#00f,#00e,#02f,#02f,#00d,#00e,#01f,#00f,#00d,#03f,#07f,#08f,#04f,#00c,#05f,#0af,#0bf,#07f,#00e,#03f,#0bf,#0ef,#0cf,#07f,#00f,#00e,#02f,#03f,#01f,#00e,#00c,#00c,#00d,#00f,#01f,#02f,#02f,#01f,#00f,#00e,#00d,#00c,#00d,#00e,#00d,#00c,#00c,#00c,#00c,#00c,#00c,#00c,#00c,#00c,#00c,#00c,#00c,#00c,#00c,#00c,#00c,#00c,#00c,#00c,#00c,#00c,#00c,#00c,#00c,#00c,#00c)"></i><i style="background:linear-gradient(90deg,#00e,#00e,#00f,#00e,#00e,#07f,#0df,#1fe,#0ef,#08f,#02f,#00d,#00d,#01f,#06f,#0af,#0af,#05f,#00c,#05f,#0bf,#0df,#0af,#05f,#00f,#00d,#00d,#02f,#06f,#08f,#06f,#01f,#00f,#07f,#0af,#08f,#02f,#00e,#06f,#09f,#07f,#00f,#01f,#08f,#0cf,#0cf,#09f,#03f,#00d,#00f,#01f,#01f,#01f,#00f,#00f,#00f,#00f,#00e,#00d,#00c,#00c,#00d,#00e,#00f,#00f,#00d,#00c,#00d,#00d,#00c,#00c,#00c,#00c,#00c,#00c,#00c,#00c,#00c,#00c,#00c,#00c,#00c,#00c,#00c,#00c,#00c,#00c,#00c,#00c,#00c,#00c,#00c,#00c,#00c)"></i><i style="background:linear-gradient(90deg,#06f,#06f,#08f,#08f,#03f,#00e,#08f,#0cf,#0af,#05f,#00d,#00e,#00e,#00e,#05f,#0bf,#0cf,#09f,#01f,#01f,#09f,#0cf,#0af,#06f,#02f,#00f,#02f,#06f,#0bf,#0ef,#0cf,#06f,#00c,#05f,#0af,#0bf,#07f,#00f,#01f,#05f,#06f,#02f,#00d,#04f,#08f,#09f,#07f,#03f,#00e,#00d,#00f,#00f,#00f,#00f,#00f,#00f,#00d,#00c,#00e,#01f,#01f,#00e,#00d,#02f,#04f,#03f,#00f,#00c,#00d,#00c,#00c,#00c,#00c,#00c,#00c,#00c,#00c,#00c,#00c,#00c,#00c,#00c,#00c,#00c,#00c,#00c,#00c,#00c,#00c,#00c,#00c,#00c,#00c,#00c)"></i><i style="background:linear-gradient(90deg,#0ef,#0ef,#1fe,#2fd,#0bf,#02f,#00f,#05f,#04f,#00d,#02f,#06f,#05f,#00f,#02f,#09f,#0df,#0af,#04f,#00d,#05f,#08f,#07f,#03f,#00e,#00c,#00f,#05f,#0bf,#1fe,#0ff,#0af,#01f,#02f,#09f,#0cf,#0af,#04f,#00c,#02f,#04f,#03f,#00e,#00d,#01f,#03f,#02f,#00f,#00d,#00c,#00c,#00d,#00d,#00e,#00f,#00e,#00c,#00f,#03f,#06f,#06f,#03f,#00c,#03f,#08f,#08f,#04f,#00e,#00c,#00d,#00c,#00c,#00c,#00c,#00c,#00c,#00c,#00c,#00c,#00c,#00c,#00c,#00c,#00c,#00c,#00c,#00c,#00c,#00c,#00c,#00c,#00c,#00c,#00c)"></i><i style="background:linear-gradient(90deg,#4fb,#4fb,#5fa,#7f8,#1fe,#07f,#00d,#00f,#00d,#01f,#08f,#0df,#0cf,#06f,#00c,#05f,#0af,#0af,#05f,#00d,#01f,#03f,#01f,#00c,#01f,#03f,#00f,#00f,#07f,#0df,#0ef,#0bf,#03f,#00e,#07f,#0bf,#0af,#05f,#00e,#00e,#03f,#04f,#02f,#00f,#00e,#00d,#00d,#00d,#00c,#00c,#00d,#00d,#00d,#00c,#00e,#00e,#00c,#00f,#05f,#08f,#09f,#06f,#00f,#02f,#09f,#0cf,#09f,#03f,#00c,#00d,#00d,#00c,#00c,#00c,#00c,#00c,#00c,#00c,#00c,#00c,#00c,#00c,#00c,#00c,#00c,#00c,#00c,#00c,#00c,#00c,#00c,#00c,#00c,#00c)"></i><i style="background:linear-gradient(90deg,#3fc,#3fc,#4fb,#5fa,#0ff,#06f,#00d,#00d,#00d,#05f,#0cf,#2fd,#2fd,#0bf,#01f,#01f,#07f,#08f,#04f,#00e,#00e,#00e,#00c,#03f,#08f,#0bf,#08f,#02f,#00f,#07f,#0af,#09f,#04f,#00c,#03f,#07f,#07f,#05f,#00f,#00d,#01f,#03f,#04f,#04f,#04f,#04f,#04f,#02f,#00e,#00d,#00f,#02f,#01f,#00d,#00d,#00e,#00e,#00d,#04f,#09f,#0bf,#09f,#02f,#00f,#08f,#0df,#0cf,#05f,#00d,#00e,#00e,#00c,#00c,#00c,#00c,#00c,#00c,#00c,#00c,#00c,#00c,#00c,#00c,#00c,#00c,#00c,#00c,#00c,#00c,#00c,#00c,#00c,#00c,#00c)"></i><i style="background:linear-gradient(90deg,#0cf,#0cf,#0df,#0cf,#07f,#00f,#00f,#01f,#00d,#03f,#0cf,#2fd,#2fd,#0cf,#04f,#00d,#04f,#05f,#02f,#00c,#00e,#00d,#00f,#07f,#0df,#2fd,#0ff,#0af,#02f,#00f,#05f,#06f,#03f,#00e,#00e,#02f,#03f,#02f,#00e,#00c,#00e,#00f,#02f,#04f,#06f,#07f,#07f,#05f,#01f,#00d,#02f,#05f,#04f,#00f,#00d,#01f,#02f,#00e,#00f,#06f,#0af,#09f,#05f,#00c,#05f,#0af,#0bf,#06f,#00d,#00f,#01f,#00e,#00c,#00c,#00c,#00c,#00c,#00c,#00c,#00c,#00c,#00c,#00c,#00c,#00c,#00c,#00c,#00c,#00c,#00c,#00c,#00c,#00c,#00c)"></i><i style="background:linear-gradient(90deg,#03f,#03f,#04f,#02f,#00c,#02f,#07f,#07f,#03f,#00d,#07f,#0cf,#0df,#09f,#03f,#00c,#01f,#01f,#00d,#00e,#02f,#00f,#00e,#06f,#0df,#3fc,#3fc,#0ef,#07f,#00f,#00e,#02f,#01f,#00f,#00d,#00c,#00d,#00c,#00c,#00c,#00d,#00c,#00d,#00f,#04f,#07f,#08f,#06f,#01f,#00d,#04f,#07f,#06f,#01f,#00d,#04f,#07f,#05f,#00f,#01f,#07f,#09f,#07f,#00f,#00f,#06f,#08f,#06f,#00d,#00f,#02f,#00f,#00c,#00c,#00c,#00c,#00c,#00c,#00c,#00c,#00c,#00c,#00c,#00c,#00c,#00c,#00c,#00c,#00c,#00c,#00c,#00c,#00c,#00c)"></i><i style="background:linear-gradient(90deg,#00d,#00d,#00d,#01f,#05f,#0af,#0df,#0df,#08f,#01f,#00f,#05f,#06f,#03f,#00e,#00e,#01f,#00e,#00e,#03f,#05f,#04f,#00e,#01f,#08f,#0df,#0ff,#0cf,#08f,#03f,#00d,#00d,#00e,#00f,#00f,#01f,#01f,#01f,#00e,#00c,#01f,#02f,#02f,#00e,#00e,#04f,#06f,#06f,#01f,#00e,#05f,#08f,#07f,#02f,#00e,#06f,#0bf,#0bf,#06f,#00d,#02f,#07f,#07f,#04f,#00c,#02f,#05f,#04f,#00e,#00f,#02f,#01f,#00e,#00c,#00c,#00c,#00c,#00c,#00c,#00c,#00c,#00c,#00c,#00c,#00c,#00c,#00c,#00c,#00c,#00c,#00c,#00c,#00c,#00c)"></i><i style="background:linear-gradient(90deg,#02f,#02f,#02f,#05f,#0af,#0ef,#1fe,#0ff,#0bf,#05f,#00f,#00d,#00d,#00c,#00f,#02f,#01f,#00d,#01f,#06f,#09f,#08f,#05f,#00e,#00f,#04f,#06f,#06f,#04f,#02f,#00f,#00e,#00c,#00d,#01f,#03f,#05f,#05f,#02f,#00c,#03f,#07f,#08f,#06f,#00f,#00e,#04f,#05f,#01f,#00d,#05f,#08f,#08f,#03f,#00d,#07f,#0df,#0ef,#0bf,#03f,#00d,#05f,#07f,#06f,#01f,#00d,#02f,#03f,#00f,#00d,#01f,#01f,#00e,#00c,#00c,#00c,#00c,#00c,#00c,#00c,#00c,#00c,#00c,#00c,#00c,#00c,#00c,#00c,#00c,#00c,#00c,#00c,#00c,#00c)"></i><i style="background:linear-gradient(90deg,#01f,#01f,#02f,#05f,#08f,#0bf,#0df,#0cf,#09f,#06f,#02f,#01f,#01f,#03f,#05f,#05f,#03f,#00d,#01f,#06f,#0af,#0af,#08f,#05f,#02f,#00e,#00d,#00c,#00c,#00d,#00f,#01f,#00f,#00d,#00e,#04f,#07f,#08f,#04f,#00d,#04f,#0af,#0df,#0bf,#05f,#00d,#01f,#04f,#02f,#00c,#03f,#07f,#08f,#04f,#00c,#05f,#0cf,#0ef,#0cf,#06f,#00d,#02f,#07f,#07f,#04f,#00e,#00e,#02f,#02f,#00e,#00d,#00f,#00f,#00d,#00c,#00c,#00c,#00c,#00c,#00c,#00c,#00c,#00c,#00c,#00c,#00c,#00c,#00c,#00c,#00c,#00c,#00c,#00c,#00c)"></i><i style="background:linear-gradient(90deg,#00d,#00d,#00d,#00f,#02f,#04f,#05f,#04f,#03f,#01f,#01f,#01f,#03f,#06f,#07f,#07f,#04f,#00e,#00f,#04f,#07f,#08f,#08f,#07f,#07f,#07f,#07f,#06f,#04f,#00f,#00d,#02f,#04f,#02f,#00c,#02f,#08f,#09f,#06f,#00e,#03f,#0af,#0ef,#0df,#08f,#00f,#00f,#04f,#03f,#00e,#00f,#05f,#07f,#05f,#00e,#01f,#08f,#0bf,#0af,#06f,#00f,#00f,#05f,#06f,#05f,#01f,#00c,#02f,#04f,#03f,#00f,#00c,#00d,#00d,#00c,#00c,#00c,#00c,#00c,#00c,#00c,#00c,#00c,#00c,#00c,#00c,#00c,#00c,#00c,#00c,#00c,#00c,#00c,#00c)"></i><i style="background:linear-gradient(90deg,#01f,#01f,#01f,#00f,#00e,#00e,#00e,#00f,#00f,#00f,#00d,#00e,#02f,#05f,#07f,#06f,#03f,#00e,#00d,#01f,#02f,#02f,#03f,#04f,#06f,#0af,#0cf,#0df,#0af,#04f,#00c,#04f,#07f,#06f,#01f,#00e,#06f,#09f,#08f,#02f,#00f,#08f,#0cf,#0cf,#07f,#00f,#01f,#05f,#06f,#02f,#00c,#02f,#05f,#05f,#02f,#00c,#01f,#05f,#06f,#04f,#00f,#00d,#02f,#05f,#04f,#02f,#00c,#01f,#05f,#07f,#05f,#01f,#00c,#00d,#00d,#00c,#00c,#00c,#00c,#00c,#00c,#00c,#00c,#00c,#00c,#00c,#00c,#00c,#00c,#00c,#00c,#00c,#00c,#00c)"></i><i style="background:linear-gradient(90deg,#04f,#04f,#04f,#04f,#06f,#07f,#08f,#09f,#09f,#07f,#03f,#00e,#00e,#02f,#04f,#03f,#01f,#00d,#00c,#00c,#00d,#00f,#00f,#00c,#01f,#07f,#0df,#0ff,#0df,#06f,#00c,#05f,#0af,#0af,#06f,#00d,#04f,#08f,#09f,#04f,#00c,#03f,#08f,#08f,#04f,#00d,#02f,#06f,#07f,#05f,#00f,#00e,#03f,#05f,#05f,#02f,#00e,#00d,#00f,#00f,#00e,#00c,#00e,#01f,#03f,#02f,#00e,#00e,#04f,#09f,#0af,#06f,#00f,#00c,#00e,#00c,#00c,#00c,#00c,#00c,#00c,#00c,#00c,#00c,#00c,#00c,#00c,#00c,#00c,#00c,#00c,#00c,#00c,#00c)"></i><i style="background:linear-gradient(90deg,#03f,#03f,#03f,#05f,#07f,#0af,#0cf,#0ef,#0ef,#0bf,#07f,#02f,#00d,#00e,#00e,#00d,#00c,#00d,#00c,#00f,#04f,#09f,#0af,#08f,#01f,#01f,#09f,#0df,#0cf,#06f,#00c,#06f,#0cf,#0df,#09f,#01f,#01f,#07f,#08f,#06f,#01f,#00e,#02f,#03f,#00f,#00d,#03f,#06f,#07f,#06f,#02f,#00d,#00f,#03f,#05f,#06f,#05f,#03f,#00f,#00c,#00e,#00f,#00e,#00c,#00f,#02f,#01f,#00d,#01f,#07f,#0bf,#09f,#03f,#00d,#00e,#00d,#00c,#00c,#00c,#00c,#00c,#00c,#00c,#00c,#00c,#00c,#00c,#00c,#00c,#00c,#00c,#00c,#00c,#00c)"></i><i style="background:linear-gradient(90deg,#00d,#00d,#00e,#01f,#04f,#07f,#0af,#0cf,#0cf,#0af,#07f,#02f,#00e,#00c,#00c,#00f,#02f,#02f,#00f,#00f,#07f,#0ef,#3fc,#1fe,#0af,#01f,#02f,#09f,#0af,#05f,#00c,#05f,#0bf,#0df,#0af,#03f,#00d,#04f,#07f,#06f,#03f,#00e,#00d,#00d,#00c,#00e,#02f,#04f,#05f,#05f,#03f,#01f,#00d,#00e,#03f,#06f,#08f,#07f,#05f,#00f,#00e,#02f,#03f,#01f,#00c,#02f,#04f,#03f,#00d,#03f,#09f,#0bf,#06f,#00f,#00d,#00e,#00c,#00c,#00c,#00c,#00c,#00c,#00c,#00c,#00c,#00c,#00c,#00c,#00c,#00c,#00c,#00c,#00c,#00c)"></i><i style="background:linear-gradient(90deg,#02f,#02f,#02f,#00f,#00c,#00f,#03f,#06f,#06f,#05f,#02f,#00e,#00c,#00c,#00e,#03f,#06f,#07f,#04f,#00c,#06f,#0ff,#6f9,#6f9,#1fe,#07f,#00c,#04f,#06f,#04f,#00c,#03f,#09f,#0af,#08f,#03f,#00c,#02f,#04f,#04f,#03f,#01f,#00e,#00e,#00e,#00f,#00f,#00f,#00f,#01f,#01f,#02f,#01f,#00e,#00d,#04f,#08f,#0af,#08f,#02f,#00e,#05f,#08f,#06f,#00f,#01f,#08f,#09f,#05f,#00c,#05f,#0bf,#09f,#02f,#00c,#00e,#00c,#00c,#00c,#00c,#00c,#00c,#00c,#00c,#00c,#00c,#00c,#00c,#00c,#00c,#00c,#00c,#00c,#00c)"></i><i style="background:linear-gradient(90deg,#07f,#07f,#07f,#07f,#05f,#03f,#00f,#00c,#00d,#00c,#00d,#00f,#01f,#00f,#00d,#03f,#08f,#0bf,#09f,#03f,#00f,#0af,#2fd,#5fa,#2fd,#09f,#00f,#00f,#04f,#03f,#00e,#00f,#04f,#05f,#04f,#01f,#00c,#00e,#00f,#00f,#00f,#00f,#00f,#01f,#00f,#00e,#00c,#00e,#00f,#00e,#00d,#02f,#05f,#05f,#01f,#00e,#05f,#09f,#09f,#03f,#00e,#08f,#0df,#0bf,#04f,#01f,#0af,#0ff,#0df,#04f,#00f,#09f,#0bf,#05f,#00d,#00e,#00d,#00c,#00c,#00c,#00c,#00c,#00c,#00c,#00c,#00c,#00c,#00c,#00c,#00c,#00c,#00c,#00c,#00c)"></i><i style="background:linear-gradient(90deg,#09f,#09f,#09f,#0af,#0af,#09f,#07f,#05f,#03f,#02f,#03f,#05f,#05f,#04f,#00e,#01f,#08f,#0df,#0df,#09f,#01f,#02f,#0af,#0df,#0cf,#07f,#00f,#00e,#02f,#02f,#00f,#00c,#00e,#00e,#00d,#00c,#00c,#00c,#00c,#00d,#00d,#00c,#00f,#01f,#01f,#00d,#00f,#05f,#08f,#06f,#01f,#01f,#08f,#0bf,#08f,#01f,#01f,#08f,#0af,#05f,#00d,#09f,#1fe,#0ff,#07f,#00e,#0cf,#4fb,#4fb,#0af,#00d,#07f,#0df,#08f,#00f,#00d,#00e,#00c,#00c,#00c,#00c,#00c,#00c,#00c,#00c,#00c,#00c,#00c,#00c,#00c,#00c,#00c,#00c,#00c)"></i><i style="background:linear-gradient(90deg,#05f,#05f,#05f,#08f,#0bf,#0bf,#0af,#08f,#06f,#04f,#05f,#07f,#08f,#07f,#04f,#00c,#04f,#0bf,#0ef,#0df,#08f,#00f,#00f,#04f,#04f,#02f,#00d,#00e,#01f,#01f,#00f,#00e,#00e,#00f,#01f,#01f,#00e,#00d,#02f,#04f,#03f,#00f,#00d,#02f,#02f,#00d,#02f,#0af,#0ef,#0df,#06f,#00d,#09f,#0ff,#0ff,#07f,#00c,#07f,#0bf,#07f,#00c,#08f,#2fd,#3fc,#0bf,#00c,#0bf,#6f9,#7f8,#0ef,#01f,#06f,#0ef,#0bf,#02f,#00d,#00f,#00c,#00c,#00c,#00c,#00c,#00c,#00c,#00c,#00c,#00c,#00c,#00c,#00c,#00c,#00c,#00c,#00c)"></i><i style="background:linear-gradient(90deg,#00c,#00c,#00c,#02f,#06f,#09f,#08f,#06f,#03f,#01f,#02f,#05f,#08f,#09f,#07f,#02f,#00d,#06f,#0bf,#0df,#0bf,#07f,#03f,#00e,#00d,#00d,#00e,#00f,#00f,#00e,#00e,#00f,#02f,#05f,#06f,#05f,#01f,#00e,#05f,#09f,#08f,#03f,#00c,#03f,#05f,#01f,#01f,#0bf,#3fc,#3fc,#0bf,#00d,#09f,#3fc,#4fb,#0cf,#00e,#06f,#0df,#0bf,#01f,#05f,#1fe,#5fa,#0ef,#00f,#08f,#5fa,#7f8,#0ff,#02f,#06f,#0ff,#0ef,#04f,#00d,#01f,#00e,#00c,#00c,#00c,#00c,#00c,#00c,#00c,#00c,#00c,#00c,#00c,#00c,#00c,#00c,#00c,#00c)"></i><i style="background:linear-gradient(90deg,#08f,#08f,#06f,#00f,#00f,#03f,#03f,#00f,#00c,#00f,#00e,#00d,#04f,#08f,#0af,#07f,#02f,#00e,#05f,#09f,#0af,#09f,#07f,#05f,#04f,#03f,#02f,#00f,#00c,#00d,#00d,#00d,#02f,#07f,#09f,#08f,#03f,#00e,#07f,#0df,#0cf,#06f,#00c,#06f,#0af,#07f,#00c,#08f,#3fc,#6f9,#0ef,#01f,#07f,#4fb,#6f9,#0ff,#01f,#07f,#1fe,#1fe,#07f,#01f,#0ef,#5fa,#1fe,#04f,#05f,#2fd,#5fa,#0ef,#01f,#07f,#1fe,#2fd,#06f,#00d,#02f,#00f,#00c,#00c,#00c,#00c,#00c,#00c,#00c,#00c,#00c,#00c,#00c,#00c,#00c,#00c,#00c,#00c)"></i><i style="background:linear-gradient(90deg,#1fe,#1fe,#0ef,#06f,#00e,#00e,#00d,#00f,#05f,#09f,#08f,#04f,#00c,#04f,#09f,#0af,#08f,#02f,#00c,#02f,#05f,#07f,#07f,#07f,#07f,#05f,#03f,#00e,#00e,#03f,#04f,#01f,#00e,#06f,#0af,#0bf,#05f,#00d,#08f,#0ef,#0ef,#07f,#00d,#09f,#1fe,#0ef,#04f,#03f,#0ff,#6f9,#2fd,#04f,#05f,#3fc,#7f8,#1fe,#02f,#08f,#4fb,#6f9,#0df,#00d,#0af,#4fb,#3fc,#08f,#00f,#0cf,#2fd,#0cf,#00e,#08f,#2fd,#3fc,#07f,#00d,#04f,#02f,#00c,#00c,#00c,#00c,#00c,#00c,#00c,#00c,#00c,#00c,#00c,#00c,#00c,#00c,#00c,#00c)"></i><i style="background:linear-gradient(90deg,#4fb,#4fb,#2fd,#08f,#00f,#00c,#00d,#04f,#0bf,#1fe,#1fe,#0bf,#03f,#00f,#07f,#0bf,#0bf,#08f,#03f,#00e,#00c,#00f,#02f,#04f,#05f,#05f,#02f,#00c,#02f,#08f,#09f,#07f,#00f,#03f,#0af,#0cf,#08f,#00d,#07f,#0ff,#1fe,#09f,#00d,#0bf,#6f9,#6f9,#0cf,#00c,#0bf,#4fb,#3fc,#07f,#02f,#0ff,#6f9,#1fe,#02f,#08f,#6f9,#af5,#3fc,#03f,#07f,#2fd,#4fb,#0bf,#00c,#08f,#0ef,#0af,#00d,#09f,#3fc,#3fc,#08f,#00d,#05f,#04f,#00e,#00c,#00c,#00c,#00c,#00c,#00c,#00c,#00c,#00c,#00c,#00c,#00c,#00c,#00c,#00c)"></i><i style="background:linear-gradient(90deg,#0df,#0df,#0bf,#03f,#00c,#00f,#00c,#04f,#0cf,#3fc,#5fa,#1fe,#08f,#00d,#03f,#08f,#0af,#09f,#07f,#05f,#03f,#01f,#00d,#00e,#02f,#03f,#02f,#00c,#04f,#0bf,#0ef,#0cf,#05f,#00e,#08f,#0df,#0af,#01f,#04f,#0df,#1fe,#0af,#00c,#0cf,#8f7,#bf4,#3fc,#04f,#06f,#2fd,#3fc,#0af,#00d,#0cf,#4fb,#0ff,#03f,#07f,#6f9,#bf4,#5fa,#06f,#04f,#1fe,#4fb,#0cf,#00f,#06f,#0cf,#09f,#00e,#08f,#2fd,#3fc,#09f,#00d,#05f,#05f,#00f,#00c,#00c,#00c,#00c,#00c,#00c,#00c,#00c,#00c,#00c,#00c,#00c,#00c,#00c,#00c)"></i><i style="background:linear-gradient(90deg,#01f,#01f,#00f,#00f,#05f,#06f,#02f,#00f,#08f,#0ff,#2fd,#0ff,#08f,#01f,#00e,#03f,#05f,#06f,#07f,#07f,#08f,#07f,#05f,#01f,#00d,#01f,#02f,#00d,#02f,#0bf,#1fe,#1fe,#0af,#00e,#06f,#0df,#0df,#05f,#00f,#0bf,#1fe,#0cf,#00f,#09f,#7f8,#cf3,#7f8,#08f,#02f,#0ef,#3fc,#0cf,#00e,#08f,#2fd,#0ff,#05f,#04f,#3fc,#9f6,#5fa,#07f,#02f,#0ef,#3fc,#0cf,#00f,#05f,#0cf,#0af,#00f,#06f,#0ff,#2fd,#0af,#00c,#05f,#05f,#00f,#00c,#00c,#00c,#00c,#00c,#00c,#00c,#00c,#00c,#00c,#00c,#00c,#00c,#00c,#00c)"></i><i style="background:linear-gradient(90deg,#04f,#04f,#05f,#09f,#0cf,#0cf,#08f,#01f,#01f,#07f,#0af,#09f,#05f,#01f,#00d,#00d,#00d,#00e,#01f,#04f,#08f,#0bf,#0af,#06f,#00e,#01f,#04f,#03f,#00c,#07f,#0ef,#2fd,#0df,#02f,#03f,#0df,#0ff,#0af,#00d,#08f,#1fe,#0ff,#06f,#03f,#2fd,#9f6,#7f8,#0af,#00e,#0cf,#3fc,#0ef,#03f,#05f,#0ff,#1fe,#08f,#00e,#0cf,#5fa,#2fd,#07f,#01f,#0df,#1fe,#0bf,#00f,#06f,#0df,#0cf,#04f,#02f,#0cf,#0ff,#0af,#00d,#04f,#05f,#01f,#00c,#00c,#00c,#00c,#00c,#00c,#00c,#00c,#00c,#00c,#00c,#00c,#00c,#00c,#00c)"></i><i style="background:linear-gradient(90deg,#0af,#0af,#0bf,#0df,#0ff,#0ff,#0cf,#06f,#00f,#00c,#00e,#00e,#00d,#00d,#00e,#01f,#03f,#04f,#01f,#00d,#05f,#0bf,#0cf,#09f,#01f,#01f,#08f,#09f,#04f,#00e,#0af,#1fe,#0ef,#05f,#01f,#0cf,#3fc,#0ef,#03f,#04f,#0ff,#3fc,#0cf,#00e,#09f,#4fb,#4fb,#0bf,#00c,#0bf,#3fc,#1fe,#06f,#02f,#0df,#2fd,#0cf,#00f,#06f,#0ef,#0df,#05f,#01f,#0bf,#0ff,#0af,#00d,#07f,#0ff,#0ff,#07f,#00d,#09f,#0ef,#0af,#00f,#02f,#04f,#00f,#00c,#00c,#00c,#00c,#00c,#00c,#00c,#00c,#00c,#00c,#00c,#00c,#00c,#00c,#00c)"></i><i style="background:linear-gradient(90deg,#09f,#09f,#09f,#0bf,#0cf,#0cf,#0bf,#08f,#05f,#04f,#03f,#04f,#03f,#01f,#00d,#04f,#0af,#0df,#0bf,#04f,#00e,#08f,#0df,#0bf,#03f,#02f,#0cf,#2fd,#0df,#03f,#03f,#0df,#0ff,#08f,#00c,#0af,#4fb,#3fc,#08f,#00f,#0ef,#6f9,#3fc,#08f,#00f,#0cf,#0ff,#0af,#00d,#09f,#2fd,#2fd,#08f,#00e,#0bf,#2fd,#0ff,#05f,#00f,#08f,#09f,#03f,#01f,#0af,#0df,#09f,#00d,#08f,#2fd,#2fd,#0af,#00d,#07f,#0cf,#0af,#01f,#01f,#03f,#00f,#00c,#00c,#00c,#00c,#00c,#00c,#00c,#00c,#00c,#00c,#00c,#00c,#00c,#00c,#00c)"></i><i style="background:linear-gradient(90deg,#02f,#02f,#02f,#03f,#04f,#04f,#04f,#04f,#05f,#06f,#09f,#0bf,#0af,#06f,#00e,#05f,#0ef,#5fa,#4fb,#0cf,#00f,#05f,#0cf,#0cf,#04f,#02f,#0ff,#7f8,#6f9,#0bf,#00c,#09f,#0ff,#0cf,#01f,#07f,#3fc,#5fa,#0df,#00d,#0bf,#6f9,#8f7,#0ef,#01f,#05f,#0cf,#09f,#00e,#06f,#0ff,#2fd,#0af,#00c,#09f,#2fd,#1fe,#08f,#00c,#05f,#07f,#02f,#00f,#09f,#0cf,#08f,#00d,#08f,#1fe,#3fc,#0bf,#00f,#05f,#0bf,#0af,#02f,#00f,#03f,#01f,#00c,#00c,#00c,#00c,#00c,#00c,#00c,#00c,#00c,#00c,#00c,#00c,#00c,#00c,#00c)"></i><i style="background:linear-gradient(90deg,#01f,#01f,#01f,#01f,#00f,#00f,#00e,#00c,#00e,#04f,#09f,#0df,#0ff,#0bf,#03f,#02f,#0ef,#7f8,#8f7,#2fd,#05f,#02f,#0cf,#0ff,#08f,#00f,#0ff,#af5,#bf4,#2fd,#02f,#07f,#2fd,#1fe,#06f,#02f,#1fe,#7f8,#2fd,#04f,#06f,#4fb,#9f6,#3fc,#06f,#01f,#0af,#0af,#03f,#02f,#0cf,#1fe,#0bf,#00e,#06f,#0ff,#0ff,#09f,#00e,#03f,#07f,#03f,#00d,#07f,#0bf,#08f,#00e,#05f,#0ef,#1fe,#0bf,#00f,#04f,#0bf,#0af,#03f,#00e,#03f,#01f,#00d,#00c,#00c,#00c,#00c,#00c,#00c,#00c,#00c,#00c,#00c,#00c,#00c,#00c,#00c)"></i><i style="background:linear-gradient(90deg,#09f,#09f,#09f,#09f,#09f,#09f,#09f,#07f,#02f,#00c,#05f,#0bf,#0ff,#0ef,#08f,#00c,#09f,#4fb,#8f7,#4fb,#07f,#01f,#0df,#3fc,#0df,#00e,#0bf,#9f6,#df2,#5fa,#05f,#06f,#4fb,#6f9,#0cf,#00c,#0df,#7f8,#5fa,#09f,#01f,#1fe,#7f8,#4fb,#07f,#00f,#0bf,#0df,#07f,#00d,#09f,#0ef,#0bf,#02f,#03f,#0cf,#0df,#08f,#00d,#04f,#09f,#06f,#00d,#04f,#0af,#09f,#02f,#02f,#0af,#0df,#09f,#00e,#05f,#0bf,#0bf,#04f,#00f,#04f,#03f,#00e,#00c,#00c,#00c,#00c,#00c,#00c,#00c,#00c,#00c,#00c,#00c,#00c,#00c,#00c)"></i><i style="background:linear-gradient(90deg,#0cf,#0cf,#0bf,#0cf,#0cf,#0df,#0ef,#0df,#0af,#04f,#00c,#06f,#0cf,#0ff,#0df,#04f,#01f,#0cf,#4fb,#3fc,#08f,#00f,#0ef,#6f9,#4fb,#07f,#04f,#4fb,#af5,#6f9,#06f,#06f,#5fa,#af5,#3fc,#03f,#08f,#6f9,#7f8,#0df,#00d,#0bf,#4fb,#2fd,#07f,#01f,#0df,#2fd,#0cf,#00f,#05f,#0cf,#0cf,#04f,#00f,#08f,#0af,#06f,#00c,#07f,#0cf,#0af,#02f,#02f,#09f,#0bf,#05f,#00c,#06f,#09f,#06f,#00d,#05f,#0bf,#0bf,#04f,#00f,#05f,#04f,#00f,#00c,#00c,#00c,#00c,#00c,#00c,#00c,#00c,#00c,#00c,#00c,#00c,#00c,#00c)"></i><i style="background:linear-gradient(90deg,#06f,#06f,#06f,#06f,#08f,#0af,#0df,#0ff,#0ff,#0bf,#05f,#00c,#07f,#0ef,#1fe,#0cf,#02f,#03f,#0df,#0ff,#09f,#00d,#0df,#8f7,#9f6,#0ef,#00d,#0cf,#6f9,#4fb,#07f,#05f,#6f9,#df2,#8f7,#08f,#04f,#3fc,#8f7,#2fd,#03f,#06f,#0ff,#0ff,#05f,#03f,#0ff,#5fa,#0ff,#04f,#02f,#0bf,#0cf,#06f,#00c,#06f,#08f,#04f,#00e,#09f,#0ff,#0df,#05f,#00f,#09f,#0cf,#09f,#00f,#02f,#06f,#05f,#00c,#05f,#0bf,#0bf,#05f,#00e,#06f,#05f,#01f,#00c,#00c,#00c,#00c,#00c,#00c,#00c,#00c,#00c,#00c,#00c,#00c,#00c,#00c)"></i><i style="background:linear-gradient(90deg,#00d,#00d,#00d,#00e,#00c,#01f,#06f,#0bf,#0ef,#0ff,#0cf,#06f,#00d,#0af,#3fc,#4fb,#0cf,#00f,#06f,#0df,#0bf,#00f,#09f,#7f8,#cf3,#6f9,#06f,#05f,#2fd,#3fc,#08f,#02f,#4fb,#df2,#af5,#0bf,#00f,#1fe,#7f8,#3fc,#05f,#03f,#0cf,#0df,#04f,#03f,#1fe,#6f9,#2fd,#06f,#01f,#0af,#0cf,#07f,#00c,#05f,#08f,#04f,#00f,#0af,#1fe,#0ff,#07f,#00d,#09f,#0df,#0bf,#03f,#00f,#05f,#05f,#00d,#04f,#0bf,#0cf,#06f,#00d,#05f,#06f,#01f,#00c,#00c,#00c,#00c,#00c,#00c,#00c,#00c,#00c,#00c,#00c,#00c,#00c,#00c)"></i><i style="background:linear-gradient(90deg,#0bf,#0bf,#0bf,#0bf,#09f,#06f,#00f,#01f,#09f,#0ff,#3fc,#0ff,#05f,#03f,#2fd,#9f6,#6f9,#09f,#01f,#0df,#1fe,#07f,#02f,#3fc,#cf3,#9f6,#0cf,#00e,#0df,#3fc,#0bf,#00d,#0ef,#9f6,#9f6,#0df,#00d,#0df,#6f9,#2fd,#06f,#02f,#0bf,#0cf,#04f,#03f,#0ff,#5fa,#2fd,#06f,#01f,#0bf,#0df,#08f,#00c,#06f,#0af,#06f,#00d,#09f,#1fe,#1fe,#08f,#00c,#08f,#0ef,#0cf,#04f,#00f,#07f,#07f,#01f,#01f,#09f,#0cf,#07f,#00c,#04f,#05f,#02f,#00c,#00c,#00c,#00c,#00c,#00c,#00c,#00c,#00c,#00c,#00c,#00c,#00c,#00c)"></i><i style="background:linear-gradient(90deg,#6f9,#6f9,#6f9,#6f9,#5fa,#3fc,#0df,#06f,#00f,#0df,#8f7,#bf4,#2fd,#00f,#0ff,#df2,#df2,#1fe,#00d,#0ff,#8f7,#2fd,#02f,#0bf,#9f6,#af5,#0ff,#00d,#0cf,#5fa,#1fe,#03f,#07f,#4fb,#6f9,#0cf,#00c,#0bf,#3fc,#1fe,#05f,#02f,#0cf,#0ef,#06f,#00f,#0cf,#3fc,#0ef,#03f,#03f,#0df,#0ef,#08f,#00c,#08f,#0df,#0af,#00e,#06f,#0ef,#0ff,#08f,#00c,#08f,#0ef,#0cf,#03f,#01f,#09f,#0bf,#05f,#00d,#07f,#0cf,#09f,#01f,#01f,#04f,#01f,#00c,#00c,#00c,#00c,#00c,#00c,#00c,#00c,#00c,#00c,#00c,#00c,#00c,#00c)"></i><i style="background:linear-gradient(90deg,#bf4,#bf4,#af5,#6f9,#7f8,#af5,#bf4,#8f7,#0df,#09f,#df2,#f70,#fe0,#0bf,#0cf,#ff0,#fb0,#7f8,#05f,#4fb,#fe0,#df2,#0df,#03f,#5fa,#af5,#2fd,#01f,#0cf,#7f8,#6f9,#0af,#01f,#0df,#2fd,#0bf,#00e,#09f,#1fe,#0df,#03f,#05f,#0ef,#1fe,#09f,#00d,#09f,#0ef,#0bf,#00f,#06f,#0ff,#0ff,#07f,#00e,#0bf,#2fd,#0ef,#04f,#02f,#0cf,#0ef,#07f,#00d,#08f,#0ef,#0bf,#02f,#04f,#0df,#0ff,#0af,#00e,#05f,#0cf,#0bf,#04f,#00d,#02f,#00f,#00c,#00c,#00c,#00c,#00c,#00c,#00c,#00c,#00c,#00c,#00c,#00c,#00c,#00c)"></i><i style="background:linear-gradient(90deg,#8f7,#8f7,#5fa,#8f7,#bf4,#cf3,#f10,#a00,#f80,#ef1,#fc0,#a00,#f00,#8f7,#1fe,#fc0,#f50,#cf3,#7f8,#8f7,#f70,#f70,#8f7,#0df,#6f9,#af5,#4fb,#06f,#0cf,#9f6,#af5,#0ff,#09f,#0cf,#0ef,#0af,#08f,#0ef,#0ef,#0bf,#02f,#08f,#2fd,#3fc,#0cf,#05f,#06f,#0bf,#08f,#00e,#08f,#1fe,#1fe,#07f,#02f,#0ef,#5fa,#3fc,#07f,#00f,#0af,#0cf,#07f,#00f,#09f,#0ef,#0bf,#00f,#06f,#1fe,#4fb,#0df,#02f,#04f,#0cf,#0df,#06f,#00c,#00f,#00f,#00c,#00c,#00c,#00c,#00c,#00c,#00c,#00c,#00c,#00c,#00c,#00c,#00c,#00c)"></i><i style="background:linear-gradient(90deg,#ef1,#ef1,#fe0,#f60,#f10,#f90,#800,#800,#800,#b00,#f90,#800,#800,#f60,#ef1,#f90,#f10,#f40,#f80,#f70,#f20,#f10,#df2,#af5,#f90,#f60,#8f7,#0df,#5fa,#bf4,#cf3,#3fc,#4fb,#7f8,#1fe,#0af,#2fd,#af5,#2fd,#0af,#08f,#1fe,#2fd,#4fb,#0cf,#0cf,#0cf,#0af,#07f,#02f,#09f,#2fd,#2fd,#07f,#08f,#0ff,#7f8,#4fb,#09f,#01f,#09f,#0cf,#06f,#04f,#09f,#0ef,#0bf,#03f,#07f,#2fd,#5fa,#0ef,#03f,#03f,#0cf,#0df,#07f,#00e,#00f,#00e,#00c,#00c,#00c,#00c,#00c,#00c,#00c,#00c,#00c,#00c,#00c,#00c,#00c,#00c)"></i><i style="background:linear-gradient(90deg,#fe0,#fe0,#fc0,#f40,#e00,#f70,#800,#800,#800,#900,#f70,#800,#800,#f40,#fe0,#f80,#f00,#f20,#f60,#f40,#e00,#f20,#ef1,#bf4,#f60,#f30,#af5,#0ef,#7f8,#df2,#bf4,#2fd,#5fa,#9f6,#2fd,#0bf,#3fc,#cf3,#4fb,#0bf,#09f,#2fd,#1fe,#3fc,#0bf,#0df,#0df,#0cf,#08f,#02f,#09f,#2fd,#2fd,#07f,#08f,#0ef,#6f9,#3fc,#08f,#02f,#0af,#0df,#07f,#04f,#09f,#0ef,#0bf,#03f,#05f,#1fe,#4fb,#0ef,#02f,#04f,#0cf,#0df,#07f,#00f,#00f,#00f,#00c,#00c,#00c,#00c,#00c,#00c,#00c,#00c,#00c,#00c,#00c,#00c,#00c,#00c)"></i><i style="background:linear-gradient(90deg,#8f7,#8f7,#7f8,#df2,#fe0,#df2,#900,#800,#f10,#fa0,#fc0,#900,#d00,#cf3,#5fa,#f90,#f20,#fe0,#bf4,#cf3,#f80,#f80,#6f9,#2fd,#bf4,#ef1,#9f6,#08f,#0df,#6f9,#7f8,#0df,#0cf,#0ff,#1fe,#0bf,#0bf,#2fd,#0ef,#0cf,#04f,#0af,#0ef,#0ff,#08f,#07f,#09f,#0ff,#0bf,#00f,#07f,#1fe,#1fe,#08f,#04f,#0cf,#3fc,#0ff,#04f,#03f,#0df,#0ff,#08f,#01f,#09f,#0ff,#0cf,#03f,#03f,#0df,#1fe,#0bf,#00f,#05f,#0cf,#0cf,#05f,#00d,#02f,#01f,#00d,#00c,#00c,#00c,#00c,#00c,#00c,#00c,#00c,#00c,#00c,#00c,#00c,#00c)"></i><i style="background:linear-gradient(90deg,#bf4,#bf4,#af5,#5fa,#6f9,#cf3,#fe0,#ff0,#3fc,#0df,#df2,#f60,#fc0,#0cf,#0ef,#fb0,#f70,#cf3,#09f,#1fe,#ef1,#cf3,#0bf,#06f,#9f6,#ff0,#8f7,#06f,#07f,#3fc,#2fd,#07f,#03f,#0ff,#4fb,#0df,#01f,#08f,#1fe,#0ef,#04f,#02f,#0bf,#0df,#05f,#01f,#0df,#3fc,#0ef,#03f,#04f,#0ef,#0ff,#08f,#00d,#09f,#0ef,#0bf,#00f,#06f,#0ff,#2fd,#0af,#00c,#08f,#0ff,#0ef,#05f,#00f,#09f,#0cf,#07f,#00c,#07f,#0cf,#0af,#02f,#00f,#03f,#01f,#00d,#00c,#00c,#00c,#00c,#00c,#00c,#00c,#00c,#00c,#00c,#00c,#00c,#00c)"></i><i style="background:linear-gradient(90deg,#8f7,#8f7,#8f7,#7f8,#7f8,#5fa,#2fd,#0bf,#01f,#0bf,#9f6,#df2,#5fa,#01f,#1fe,#ff0,#fd0,#5fa,#00f,#0df,#7f8,#2fd,#01f,#0cf,#bf4,#ef1,#5fa,#03f,#08f,#1fe,#0ef,#01f,#09f,#5fa,#7f8,#0ef,#00e,#0af,#3fc,#1fe,#06f,#01f,#0af,#0bf,#03f,#03f,#0ff,#5fa,#2fd,#05f,#02f,#0cf,#0ef,#08f,#00c,#07f,#0bf,#07f,#00c,#09f,#2fd,#3fc,#0af,#00c,#08f,#0ff,#0ef,#06f,#00d,#06f,#08f,#03f,#00f,#08f,#0cf,#09f,#00e,#03f,#05f,#02f,#00d,#00c,#00c,#00c,#00c,#00c,#00c,#00c,#00c,#00c,#00c,#00c,#00c,#00c)"></i><i style="background:linear-gradient(90deg,#0ef,#0ef,#0ef,#0ef,#0df,#09f,#03f,#00d,#07f,#0ff,#5fa,#3fc,#08f,#01f,#2fd,#af5,#8f7,#0bf,#00f,#0df,#2fd,#09f,#00f,#2fd,#cf3,#bf4,#0df,#00c,#0cf,#3fc,#0cf,#00c,#0df,#9f6,#9f6,#0df,#00c,#0cf,#5fa,#2fd,#06f,#01f,#0bf,#0cf,#04f,#03f,#0ff,#6f9,#2fd,#06f,#01f,#0bf,#0df,#08f,#00c,#05f,#09f,#05f,#00d,#0af,#2fd,#2fd,#09f,#00c,#08f,#0ef,#0df,#05f,#00d,#05f,#06f,#01f,#02f,#0af,#0cf,#07f,#00c,#04f,#06f,#02f,#00d,#00c,#00c,#00c,#00c,#00c,#00c,#00c,#00c,#00c,#00c,#00c,#00c,#00c)"></i><i style="background:linear-gradient(90deg,#01f,#01f,#01f,#01f,#00e,#00d,#03f,#09f,#0ef,#1fe,#0ff,#09f,#00e,#07f,#1fe,#4fb,#0df,#01f,#06f,#0ff,#0ef,#04f,#05f,#4fb,#af5,#4fb,#05f,#06f,#3fc,#6f9,#0bf,#00e,#1fe,#af5,#8f7,#0bf,#00f,#0ff,#7f8,#2fd,#05f,#04f,#0ef,#0ef,#06f,#01f,#0ef,#4fb,#1fe,#05f,#02f,#0bf,#0df,#07f,#00c,#06f,#09f,#05f,#00d,#09f,#0ff,#0ff,#07f,#00d,#08f,#0df,#0bf,#02f,#00f,#06f,#06f,#00f,#03f,#0af,#0cf,#06f,#00c,#05f,#05f,#01f,#00c,#00c,#00c,#00c,#00c,#00c,#00c,#00c,#00c,#00c,#00c,#00c,#00c,#00c)"></i><i style="background:linear-gradient(90deg,#05f,#05f,#04f,#04f,#06f,#09f,#0df,#0ff,#1fe,#0ef,#08f,#00f,#03f,#0bf,#0ff,#0cf,#02f,#03f,#0ef,#3fc,#0df,#01f,#08f,#4fb,#5fa,#0bf,#00d,#0ff,#af5,#9f6,#0bf,#00f,#2fd,#af5,#6f9,#07f,#04f,#3fc,#7f8,#1fe,#01f,#08f,#3fc,#3fc,#09f,#00e,#0bf,#1fe,#0cf,#02f,#04f,#0cf,#0cf,#05f,#00e,#08f,#0bf,#07f,#00d,#06f,#0cf,#0bf,#04f,#00f,#09f,#0bf,#07f,#00d,#04f,#09f,#08f,#00f,#03f,#0af,#0bf,#06f,#00d,#04f,#04f,#00f,#00c,#00c,#00c,#00c,#00c,#00c,#00c,#00c,#00c,#00c,#00c,#00c,#00c,#00c)"></i><i style="background:linear-gradient(90deg,#0bf,#0bf,#0bf,#0bf,#0cf,#0ef,#0ff,#0ff,#0df,#07f,#00f,#02f,#0af,#0df,#0cf,#04f,#01f,#0df,#6f9,#5fa,#0cf,#00d,#09f,#3fc,#1fe,#04f,#06f,#7f8,#ef1,#af5,#0bf,#02f,#2fd,#8f7,#2fd,#02f,#08f,#5fa,#7f8,#0df,#00c,#0cf,#7f8,#6f9,#0bf,#00c,#08f,#0df,#09f,#00d,#07f,#0df,#0cf,#04f,#01f,#0bf,#0ef,#09f,#00f,#03f,#08f,#07f,#00f,#03f,#09f,#0af,#04f,#00f,#09f,#0df,#0af,#01f,#03f,#0af,#0bf,#05f,#00d,#03f,#03f,#00e,#00c,#00c,#00c,#00c,#00c,#00c,#00c,#00c,#00c,#00c,#00c,#00c,#00c,#00c)"></i><i style="background:linear-gradient(90deg,#0bf,#0bf,#0bf,#0bf,#0bf,#0bf,#0bf,#09f,#05f,#00e,#03f,#0af,#0ef,#0ef,#09f,#00d,#08f,#4fb,#9f6,#5fa,#0af,#00d,#0bf,#2fd,#0cf,#00e,#0cf,#af5,#ff0,#8f7,#08f,#04f,#2fd,#5fa,#0cf,#00c,#0cf,#7f8,#6f9,#09f,#01f,#1fe,#9f6,#6f9,#0bf,#00c,#08f,#0bf,#05f,#00e,#09f,#0ef,#0cf,#02f,#04f,#0df,#0ff,#0bf,#01f,#01f,#06f,#04f,#00c,#05f,#0af,#08f,#01f,#03f,#0df,#1fe,#0cf,#02f,#02f,#0af,#0bf,#05f,#00d,#02f,#01f,#00d,#00c,#00c,#00c,#00c,#00c,#00c,#00c,#00c,#00c,#00c,#00c,#00c,#00c,#00c)"></i><i style="background:linear-gradient(90deg,#03f,#03f,#03f,#03f,#03f,#02f,#01f,#00e,#00d,#03f,#09f,#0ef,#1fe,#0df,#05f,#00f,#0cf,#6f9,#8f7,#2fd,#05f,#03f,#0df,#1fe,#0af,#00d,#0df,#9f6,#bf4,#3fc,#02f,#07f,#3fc,#3fc,#08f,#01f,#0ff,#7f8,#3fc,#05f,#05f,#3fc,#9f6,#4fb,#07f,#00f,#0af,#0bf,#03f,#02f,#0cf,#0ff,#0bf,#00f,#06f,#0ef,#1fe,#0af,#00f,#02f,#06f,#03f,#00d,#07f,#0bf,#08f,#00e,#06f,#0ff,#2fd,#0cf,#02f,#03f,#0af,#0af,#04f,#00d,#02f,#01f,#00d,#00c,#00c,#00c,#00c,#00c,#00c,#00c,#00c,#00c,#00c,#00c,#00c,#00c,#00c)"></i><i style="background:linear-gradient(90deg,#00f,#00f,#00f,#01f,#02f,#02f,#03f,#03f,#05f,#07f,#0bf,#0df,#0df,#09f,#02f,#02f,#0cf,#3fc,#3fc,#0bf,#00e,#07f,#1fe,#2fd,#09f,#00d,#0bf,#5fa,#4fb,#09f,#00d,#0cf,#3fc,#0ff,#04f,#05f,#2fd,#6f9,#0ff,#01f,#08f,#4fb,#6f9,#0df,#00f,#07f,#0ef,#0cf,#02f,#04f,#0ef,#1fe,#0af,#00d,#07f,#0ff,#0ef,#07f,#00c,#06f,#08f,#03f,#00e,#08f,#0cf,#08f,#00e,#06f,#0ff,#2fd,#0bf,#00e,#05f,#0bf,#0af,#03f,#00f,#03f,#01f,#00c,#00c,#00c,#00c,#00c,#00c,#00c,#00c,#00c,#00c,#00c,#00c,#00c,#00c,#00c)"></i><i style="background:linear-gradient(90deg,#08f,#08f,#09f,#0af,#0bf,#0bf,#0af,#08f,#07f,#06f,#06f,#07f,#07f,#04f,#00d,#02f,#09f,#0cf,#0af,#03f,#01f,#0cf,#2fd,#1fe,#08f,#00c,#08f,#0df,#0af,#00f,#06f,#1fe,#4fb,#0df,#00f,#08f,#3fc,#3fc,#0af,#00c,#0bf,#3fc,#1fe,#05f,#03f,#0ef,#4fb,#0ef,#02f,#05f,#0ff,#1fe,#08f,#00c,#09f,#0ef,#0cf,#02f,#03f,#0bf,#0cf,#05f,#00e,#09f,#0df,#0af,#00f,#05f,#0ef,#0ef,#07f,#00c,#08f,#0df,#0af,#01f,#02f,#04f,#01f,#00c,#00c,#00c,#00c,#00c,#00c,#00c,#00c,#00c,#00c,#00c,#00c,#00c,#00c,#00c)"></i><i style="background:linear-gradient(90deg,#0bf,#0bf,#0bf,#0ef,#0ff,#0ff,#0cf,#08f,#03f,#00e,#00c,#00c,#00d,#00d,#00c,#01f,#04f,#04f,#02f,#00d,#06f,#0df,#1fe,#0df,#05f,#00d,#05f,#07f,#02f,#01f,#0cf,#3fc,#3fc,#09f,#00d,#0af,#2fd,#0ff,#05f,#02f,#0df,#1fe,#0af,#00c,#0bf,#6f9,#8f7,#0ff,#00f,#07f,#1fe,#0ff,#06f,#00f,#0bf,#0ef,#09f,#00c,#09f,#2fd,#1fe,#08f,#00e,#0af,#0ff,#0bf,#01f,#04f,#0cf,#0bf,#04f,#01f,#0bf,#0ff,#0af,#00e,#04f,#05f,#01f,#00c,#00c,#00c,#00c,#00c,#00c,#00c,#00c,#00c,#00c,#00c,#00c,#00c,#00c,#00c)"></i><i style="background:linear-gradient(90deg,#06f,#06f,#07f,#0af,#0df,#0df,#09f,#02f,#00e,#05f,#07f,#06f,#04f,#00f,#00d,#00c,#00c,#00c,#00e,#03f,#08f,#0cf,#0cf,#08f,#01f,#00f,#04f,#03f,#00c,#06f,#0ff,#3fc,#0ef,#04f,#02f,#0cf,#1fe,#0bf,#00e,#07f,#0ff,#0ff,#06f,#03f,#2fd,#bf4,#9f6,#0df,#00c,#0af,#2fd,#0ef,#03f,#03f,#0df,#0ef,#06f,#01f,#0ef,#7f8,#4fb,#09f,#00e,#0bf,#1fe,#0cf,#02f,#03f,#0af,#09f,#01f,#04f,#0ef,#1fe,#0af,#00c,#05f,#06f,#02f,#00c,#00c,#00c,#00c,#00c,#00c,#00c,#00c,#00c,#00c,#00c,#00c,#00c,#00c,#00c)"></i><i style="background:linear-gradient(90deg,#00e,#00e,#00c,#02f,#06f,#07f,#02f,#00e,#07f,#0ef,#1fe,#0ef,#09f,#03f,#00c,#00f,#02f,#03f,#04f,#05f,#06f,#06f,#04f,#00f,#00e,#03f,#05f,#01f,#00e,#08f,#0ef,#0ff,#09f,#00e,#06f,#0df,#0ef,#06f,#00e,#0bf,#2fd,#0ef,#03f,#06f,#5fa,#bf4,#7f8,#09f,#01f,#0ef,#3fc,#0df,#00f,#07f,#1fe,#0ff,#05f,#03f,#2fd,#9f6,#5fa,#08f,#01f,#0df,#2fd,#0cf,#01f,#04f,#0af,#09f,#00e,#07f,#1fe,#2fd,#0af,#00c,#06f,#06f,#01f,#00c,#00c,#00c,#00c,#00c,#00c,#00c,#00c,#00c,#00c,#00c,#00c,#00c,#00c,#00c)"></i><i style="background:linear-gradient(90deg,#0bf,#0bf,#09f,#01f,#00d,#00f,#00c,#04f,#0df,#4fb,#6f9,#2fd,#0af,#01f,#00f,#05f,#06f,#06f,#04f,#03f,#01f,#00e,#00d,#02f,#05f,#07f,#06f,#01f,#00e,#07f,#0bf,#0af,#03f,#00f,#0af,#0ef,#0cf,#02f,#04f,#0ef,#3fc,#0df,#01f,#08f,#5fa,#8f7,#1fe,#02f,#07f,#3fc,#5fa,#0bf,#00c,#0cf,#4fb,#2fd,#05f,#04f,#3fc,#9f6,#4fb,#06f,#04f,#0ff,#3fc,#0cf,#00e,#06f,#0df,#0af,#00e,#07f,#2fd,#3fc,#09f,#00d,#05f,#05f,#00f,#00c,#00c,#00c,#00c,#00c,#00c,#00c,#00c,#00c,#00c,#00c,#00c,#00c,#00c,#00c)"></i><i style="background:linear-gradient(90deg,#3fc,#3fc,#1fe,#07f,#00f,#00c,#00e,#05f,#0df,#3fc,#4fb,#0ef,#06f,#00c,#04f,#08f,#08f,#06f,#02f,#00d,#00e,#02f,#05f,#08f,#09f,#0af,#07f,#02f,#00d,#04f,#06f,#04f,#00c,#05f,#0cf,#0ef,#09f,#00e,#07f,#1fe,#3fc,#0cf,#00f,#07f,#2fd,#2fd,#09f,#00e,#0df,#7f8,#5fa,#09f,#01f,#0ff,#7f8,#4fb,#06f,#04f,#2fd,#6f9,#0ff,#01f,#07f,#3fc,#3fc,#0af,#00d,#0bf,#1fe,#0df,#01f,#06f,#1fe,#3fc,#09f,#00c,#04f,#03f,#00e,#00c,#00c,#00c,#00c,#00c,#00c,#00c,#00c,#00c,#00c,#00c,#00c,#00c,#00c,#00c)"></i><i style="background:linear-gradient(90deg,#3fc,#3fc,#1fe,#07f,#00f,#00d,#00c,#02f,#07f,#0bf,#0bf,#06f,#00e,#03f,#08f,#0af,#08f,#03f,#00c,#02f,#05f,#07f,#08f,#09f,#09f,#08f,#06f,#01f,#00c,#01f,#02f,#00e,#00f,#07f,#0cf,#0cf,#07f,#00c,#08f,#1fe,#2fd,#0af,#00e,#06f,#0df,#0cf,#02f,#05f,#3fc,#8f7,#4fb,#06f,#04f,#3fc,#9f6,#4fb,#06f,#04f,#0ff,#3fc,#0af,#00c,#0bf,#4fb,#3fc,#07f,#02f,#0ff,#5fa,#1fe,#03f,#05f,#0ff,#2fd,#08f,#00c,#03f,#02f,#00c,#00c,#00c,#00c,#00c,#00c,#00c,#00c,#00c,#00c,#00c,#00c,#00c,#00c,#00c,#00c)"></i><i style="background:linear-gradient(90deg,#0af,#0af,#08f,#01f,#00e,#03f,#02f,#00e,#00e,#02f,#01f,#00c,#03f,#08f,#0bf,#09f,#04f,#00d,#02f,#07f,#08f,#08f,#07f,#06f,#05f,#04f,#02f,#00e,#00c,#00e,#00e,#00c,#02f,#07f,#0af,#09f,#04f,#00d,#08f,#0df,#0df,#07f,#00c,#06f,#0af,#07f,#00c,#09f,#4fb,#7f8,#1fe,#03f,#07f,#4fb,#8f7,#2fd,#04f,#04f,#0ef,#0ef,#06f,#02f,#0ef,#5fa,#1fe,#04f,#06f,#4fb,#8f7,#3fc,#04f,#04f,#0ef,#1fe,#07f,#00c,#01f,#00f,#00c,#00c,#00c,#00c,#00c,#00c,#00c,#00c,#00c,#00c,#00c,#00c,#00c,#00c,#00c,#00c)"></i><i style="background:linear-gradient(90deg,#00e,#00e,#00d,#01f,#06f,#08f,#08f,#06f,#02f,#01f,#02f,#05f,#09f,#0bf,#0af,#06f,#00e,#02f,#07f,#09f,#08f,#05f,#01f,#00d,#00c,#00c,#00c,#00c,#00c,#00d,#00d,#00c,#00f,#04f,#06f,#05f,#01f,#00e,#05f,#09f,#08f,#02f,#00e,#06f,#08f,#04f,#00e,#0af,#2fd,#4fb,#0cf,#00e,#08f,#3fc,#5fa,#0df,#00f,#06f,#0df,#0cf,#02f,#05f,#1fe,#5fa,#0ef,#01f,#09f,#6f9,#9f6,#2fd,#04f,#04f,#0ef,#0ef,#05f,#00c,#00f,#00e,#00c,#00c,#00c,#00c,#00c,#00c,#00c,#00c,#00c,#00c,#00c,#00c,#00c,#00c,#00c,#00c)"></i><i style="background:linear-gradient(90deg,#03f,#03f,#04f,#08f,#0af,#0cf,#0bf,#09f,#06f,#05f,#06f,#08f,#0af,#0af,#07f,#01f,#00f,#07f,#0af,#09f,#05f,#00d,#02f,#06f,#07f,#05f,#02f,#00e,#00d,#00c,#00d,#00d,#00c,#00e,#00f,#00f,#00e,#00d,#02f,#03f,#02f,#00d,#02f,#06f,#07f,#03f,#00d,#07f,#0cf,#0cf,#06f,#00d,#09f,#0ff,#0ef,#06f,#00e,#09f,#0ef,#0af,#00f,#06f,#1fe,#4fb,#0cf,#00d,#0af,#5fa,#7f8,#0ef,#01f,#06f,#0ef,#0cf,#03f,#00d,#00f,#00d,#00c,#00c,#00c,#00c,#00c,#00c,#00c,#00c,#00c,#00c,#00c,#00c,#00c,#00c,#00c,#00c)"></i><i style="background:linear-gradient(90deg,#08f,#08f,#09f,#0af,#0bf,#0af,#09f,#06f,#04f,#04f,#05f,#07f,#07f,#06f,#02f,#00d,#05f,#0af,#0bf,#07f,#00f,#03f,#0bf,#0ff,#0ef,#0af,#04f,#00e,#00c,#00d,#00c,#00f,#01f,#00f,#00e,#00c,#00c,#00c,#00d,#00d,#00c,#00f,#03f,#06f,#06f,#03f,#00c,#02f,#06f,#05f,#00f,#01f,#08f,#0af,#07f,#00e,#04f,#0cf,#0ef,#09f,#00e,#06f,#0ff,#1fe,#09f,#00c,#09f,#2fd,#2fd,#08f,#00c,#09f,#0ef,#09f,#00f,#00e,#00e,#00c,#00c,#00c,#00c,#00c,#00c,#00c,#00c,#00c,#00c,#00c,#00c,#00c,#00c,#00c,#00c,#00c)"></i><i style="background:linear-gradient(90deg,#08f,#08f,#08f,#08f,#06f,#04f,#01f,#00e,#00c,#00d,#00e,#01f,#02f,#01f,#00c,#03f,#09f,#0cf,#0af,#04f,#00e,#09f,#2fd,#5fa,#2fd,#0af,#02f,#00d,#01f,#01f,#00c,#01f,#05f,#06f,#04f,#01f,#00c,#00d,#00f,#00f,#00f,#01f,#03f,#04f,#04f,#02f,#00e,#00c,#00e,#00d,#00d,#03f,#06f,#05f,#01f,#00f,#08f,#0ef,#0ef,#08f,#00d,#05f,#0cf,#0cf,#05f,#00d,#08f,#0cf,#0af,#02f,#03f,#0bf,#0df,#06f,#00d,#00f,#00e,#00c,#00c,#00c,#00c,#00c,#00c,#00c,#00c,#00c,#00c,#00c,#00c,#00c,#00c,#00c,#00c,#00c)"></i><i style="background:linear-gradient(90deg,#03f,#03f,#02f,#01f,#00e,#00d,#02f,#04f,#05f,#04f,#02f,#00e,#00c,#00c,#00f,#05f,#09f,#0af,#08f,#01f,#02f,#0cf,#3fc,#4fb,#0ff,#06f,#00c,#04f,#07f,#05f,#00e,#02f,#07f,#09f,#07f,#02f,#00c,#01f,#03f,#03f,#02f,#00f,#00f,#00f,#00f,#00f,#00f,#00f,#00f,#00f,#01f,#03f,#02f,#00f,#00d,#04f,#0af,#0cf,#0bf,#05f,#00c,#04f,#08f,#07f,#02f,#00e,#06f,#07f,#03f,#00d,#08f,#0df,#0bf,#03f,#00c,#00f,#00d,#00c,#00c,#00c,#00c,#00c,#00c,#00c,#00c,#00c,#00c,#00c,#00c,#00c,#00c,#00c,#00c,#00c)"></i><i style="background:linear-gradient(90deg,#00c,#00c,#00d,#00f,#03f,#06f,#0af,#0cf,#0cf,#0bf,#07f,#03f,#00f,#00e,#00f,#03f,#06f,#07f,#04f,#00d,#03f,#0bf,#0ff,#0ef,#08f,#00d,#05f,#0cf,#0df,#09f,#01f,#02f,#08f,#0bf,#08f,#02f,#00d,#03f,#05f,#04f,#01f,#00c,#00e,#00f,#00d,#00c,#00f,#02f,#03f,#03f,#02f,#01f,#00e,#00d,#01f,#05f,#08f,#08f,#06f,#01f,#00d,#03f,#04f,#02f,#00c,#01f,#04f,#03f,#00d,#03f,#0af,#0df,#08f,#01f,#00d,#00e,#00c,#00c,#00c,#00c,#00c,#00c,#00c,#00c,#00c,#00c,#00c,#00c,#00c,#00c,#00c,#00c,#00c,#00c)"></i><i style="background:linear-gradient(90deg,#03f,#03f,#03f,#05f,#07f,#0af,#0df,#0ff,#0ff,#0cf,#08f,#04f,#00f,#00c,#00c,#00d,#01f,#02f,#01f,#00c,#02f,#06f,#08f,#05f,#00e,#04f,#0cf,#2fd,#2fd,#0bf,#02f,#02f,#08f,#0af,#07f,#00f,#01f,#06f,#07f,#04f,#00e,#01f,#05f,#06f,#04f,#00f,#00e,#02f,#04f,#04f,#01f,#00d,#00d,#01f,#03f,#03f,#03f,#01f,#00e,#00d,#00f,#01f,#00f,#00c,#00f,#03f,#03f,#00f,#00e,#06f,#0bf,#0af,#04f,#00d,#00e,#00d,#00c,#00c,#00c,#00c,#00c,#00c,#00c,#00c,#00c,#00c,#00c,#00c,#00c,#00c,#00c,#00c,#00c,#00c)"></i><i style="background:linear-gradient(90deg,#04f,#04f,#04f,#05f,#06f,#08f,#0af,#0bf,#0bf,#08f,#05f,#00f,#00d,#01f,#02f,#01f,#00e,#00c,#00d,#00c,#00d,#00f,#00f,#00c,#02f,#09f,#0ff,#3fc,#1fe,#0af,#01f,#02f,#08f,#09f,#05f,#00c,#04f,#08f,#08f,#03f,#00d,#05f,#0af,#0bf,#08f,#02f,#00d,#02f,#04f,#02f,#00e,#00d,#02f,#03f,#02f,#00f,#00c,#00f,#02f,#03f,#02f,#00f,#00c,#00f,#03f,#04f,#02f,#00d,#01f,#06f,#08f,#05f,#00f,#00c,#00e,#00c,#00c,#00c,#00c,#00c,#00c,#00c,#00c,#00c,#00c,#00c,#00c,#00c,#00c,#00c,#00c,#00c,#00c,#00c)"></i><i style="background:linear-gradient(90deg,#01f,#01f,#01f,#01f,#00f,#01f,#01f,#02f,#02f,#01f,#00d,#00d,#02f,#05f,#07f,#06f,#04f,#00f,#00c,#00e,#00e,#00e,#00f,#02f,#05f,#0af,#0df,#0ef,#0cf,#05f,#00d,#03f,#07f,#07f,#02f,#00e,#06f,#0af,#08f,#02f,#00f,#08f,#0df,#0ef,#0af,#03f,#00d,#02f,#03f,#01f,#00c,#02f,#05f,#04f,#01f,#00d,#04f,#07f,#09f,#07f,#03f,#00d,#00f,#04f,#05f,#04f,#01f,#00c,#01f,#04f,#03f,#00f,#00c,#00d,#00d,#00c,#00c,#00c,#00c,#00c,#00c,#00c,#00c,#00c,#00c,#00c,#00c,#00c,#00c,#00c,#00c,#00c,#00c,#00c)"></i><i style="background:linear-gradient(90deg,#00c,#00c,#00d,#00e,#01f,#02f,#03f,#02f,#01f,#01f,#01f,#02f,#05f,#08f,#09f,#09f,#06f,#02f,#00c,#00f,#03f,#04f,#04f,#03f,#04f,#05f,#06f,#05f,#03f,#00e,#00f,#04f,#06f,#04f,#00e,#02f,#08f,#0af,#08f,#01f,#01f,#09f,#0df,#0df,#08f,#00f,#00f,#04f,#03f,#00e,#00f,#05f,#07f,#05f,#00e,#02f,#08f,#0cf,#0cf,#08f,#02f,#00d,#03f,#06f,#06f,#03f,#00e,#00d,#00f,#01f,#00e,#00c,#00e,#00d,#00c,#00c,#00c,#00c,#00c,#00c,#00c,#00c,#00c,#00c,#00c,#00c,#00c,#00c,#00c,#00c,#00c,#00c,#00c,#00c)"></i><i style="background:linear-gradient(90deg,#01f,#01f,#02f,#05f,#08f,#0af,#0cf,#0bf,#09f,#06f,#04f,#03f,#04f,#06f,#08f,#08f,#06f,#02f,#00c,#02f,#05f,#06f,#04f,#01f,#00d,#00c,#00d,#00e,#00f,#01f,#03f,#05f,#04f,#01f,#00c,#03f,#07f,#09f,#06f,#00f,#01f,#07f,#0af,#08f,#03f,#00d,#03f,#06f,#04f,#00d,#02f,#07f,#08f,#05f,#00d,#04f,#0af,#0ef,#0cf,#07f,#00e,#01f,#06f,#07f,#04f,#00f,#00c,#00f,#00f,#00d,#00e,#00f,#00f,#00d,#00c,#00c,#00c,#00c,#00c,#00c,#00c,#00c,#00c,#00c,#00c,#00c,#00c,#00c,#00c,#00c,#00c,#00c,#00c,#00c)"></i><i style="background:linear-gradient(90deg,#02f,#02f,#03f,#06f,#0af,#0ef,#1fe,#0ff,#0cf,#06f,#01f,#00d,#00d,#00f,#03f,#05f,#04f,#00f,#00d,#03f,#06f,#06f,#02f,#00c,#02f,#06f,#08f,#08f,#07f,#06f,#04f,#03f,#02f,#00e,#00d,#02f,#05f,#06f,#04f,#00e,#00f,#04f,#05f,#02f,#00c,#03f,#07f,#08f,#04f,#00d,#03f,#08f,#09f,#05f,#00d,#04f,#0af,#0bf,#08f,#02f,#00e,#05f,#07f,#06f,#01f,#00d,#02f,#03f,#01f,#00c,#01f,#01f,#00f,#00c,#00c,#00c,#00c,#00c,#00c,#00c,#00c,#00c,#00c,#00c,#00c,#00c,#00c,#00c,#00c,#00c,#00c,#00c,#00c,#00c)"></i><i style="background:linear-gradient(90deg,#00e,#00e,#00e,#02f,#06f,#0bf,#0ef,#0df,#09f,#02f,#00d,#03f,#04f,#02f,#00d,#00f,#01f,#00e,#00e,#03f,#06f,#04f,#00e,#01f,#08f,#0df,#0ff,#0df,#0af,#05f,#02f,#00e,#00c,#00c,#00e,#00f,#02f,#02f,#00f,#00d,#00e,#01f,#00f,#00c,#02f,#07f,#0af,#09f,#05f,#00c,#03f,#08f,#09f,#05f,#00d,#03f,#07f,#07f,#03f,#00c,#04f,#08f,#08f,#04f,#00c,#03f,#07f,#07f,#02f,#00d,#01f,#01f,#00e,#00c,#00c,#00c,#00c,#00c,#00c,#00c,#00c,#00c,#00c,#00c,#00c,#00c,#00c,#00c,#00c,#00c,#00c,#00c,#00c,#00c)"></i><i style="background:linear-gradient(90deg,#02f,#02f,#02f,#00f,#00d,#04f,#08f,#08f,#03f,#00d,#06f,#0cf,#0df,#0af,#03f,#00d,#00e,#00e,#00d,#02f,#05f,#03f,#00d,#03f,#0bf,#1fe,#1fe,#0df,#07f,#00f,#00d,#01f,#01f,#00e,#00d,#00c,#00c,#00c,#00c,#00c,#00d,#00d,#00c,#01f,#05f,#09f,#0af,#09f,#04f,#00c,#03f,#07f,#07f,#03f,#00c,#01f,#04f,#02f,#00c,#03f,#09f,#0bf,#08f,#01f,#01f,#08f,#0cf,#0af,#02f,#00d,#01f,#00f,#00d,#00c,#00c,#00c,#00c,#00c,#00c,#00c,#00c,#00c,#00c,#00c,#00c,#00c,#00c,#00c,#00c,#00c,#00c,#00c,#00c,#00c)"></i><i style="background:linear-gradient(90deg,#0bf,#0bf,#0bf,#0bf,#06f,#00e,#00f,#02f,#00d,#04f,#0cf,#3fc,#3fc,#0ef,#06f,#00d,#00f,#00f,#00c,#01f,#03f,#03f,#00d,#03f,#09f,#0df,#0cf,#07f,#00f,#01f,#06f,#07f,#05f,#00f,#00d,#01f,#02f,#01f,#00f,#00d,#00c,#00d,#00e,#02f,#05f,#07f,#07f,#05f,#01f,#00c,#02f,#05f,#04f,#01f,#00c,#01f,#01f,#00d,#01f,#07f,#0bf,#0bf,#06f,#00c,#05f,#0cf,#0ef,#09f,#01f,#00d,#00f,#00e,#00c,#00c,#00c,#00c,#00c,#00c,#00c,#00c,#00c,#00c,#00c,#00c,#00c,#00c,#00c,#00c,#00c,#00c,#00c,#00c,#00c,#00c)"></i><i style="background:linear-gradient(90deg,#2fd,#2fd,#3fc,#4fb,#0ef,#05f,#00d,#00d,#00d,#05f,#0ef,#4fb,#4fb,#0df,#04f,#00d,#03f,#04f,#00f,#00d,#03f,#03f,#00f,#00e,#05f,#07f,#05f,#00e,#03f,#0af,#0df,#0cf,#07f,#00f,#01f,#05f,#06f,#05f,#02f,#00d,#00c,#00e,#00f,#00f,#01f,#02f,#02f,#00f,#00d,#00e,#01f,#02f,#01f,#00d,#00e,#01f,#00f,#00c,#03f,#08f,#0bf,#09f,#03f,#00e,#07f,#0df,#0ef,#07f,#00f,#00d,#00e,#00c,#00c,#00c,#00c,#00c,#00c,#00c,#00c,#00c,#00c,#00c,#00c,#00c,#00c,#00c,#00c,#00c,#00c,#00c,#00c,#00c,#00c,#00c)"></i><i style="background:linear-gradient(90deg,#4fb,#4fb,#5fa,#7f8,#1fe,#07f,#00d,#00e,#00c,#02f,#0af,#0ff,#0ef,#08f,#00e,#03f,#09f,#08f,#03f,#00c,#03f,#05f,#03f,#00d,#00f,#01f,#00d,#02f,#09f,#1fe,#2fd,#0ef,#07f,#00c,#04f,#09f,#09f,#06f,#01f,#00c,#00e,#00f,#00d,#00c,#00d,#00d,#00d,#00d,#00e,#00e,#00f,#00e,#00c,#00e,#01f,#02f,#01f,#00c,#02f,#07f,#08f,#06f,#01f,#01f,#08f,#0cf,#09f,#03f,#00c,#00d,#00d,#00c,#00c,#00c,#00c,#00c,#00c,#00c,#00c,#00c,#00c,#00c,#00c,#00c,#00c,#00c,#00c,#00c,#00c,#00c,#00c,#00c,#00c,#00c)"></i><i style="background:linear-gradient(90deg,#0ff,#0ff,#2fd,#3fc,#0cf,#03f,#00f,#04f,#03f,#00d,#03f,#07f,#06f,#00f,#02f,#09f,#0df,#0bf,#05f,#00c,#03f,#06f,#05f,#01f,#00d,#00c,#00e,#05f,#0cf,#2fd,#2fd,#0cf,#03f,#00f,#07f,#0bf,#09f,#04f,#00d,#00f,#02f,#00f,#00c,#01f,#04f,#05f,#04f,#03f,#01f,#00e,#00d,#00c,#00e,#01f,#03f,#03f,#01f,#00d,#00f,#03f,#04f,#02f,#00d,#01f,#06f,#07f,#03f,#00e,#00d,#00d,#00c,#00c,#00c,#00c,#00c,#00c,#00c,#00c,#00c,#00c,#00c,#00c,#00c,#00c,#00c,#00c,#00c,#00c,#00c,#00c,#00c,#00c,#00c,#00c)"></i><i style="background:linear-gradient(90deg,#08f,#08f,#09f,#0af,#04f,#00d,#07f,#0bf,#0af,#05f,#00d,#00e,#00e,#00f,#07f,#0df,#0ff,#0cf,#05f,#00c,#05f,#08f,#07f,#03f,#00d,#00c,#00e,#04f,#0af,#0df,#0cf,#06f,#00d,#04f,#0af,#0bf,#07f,#00f,#00f,#05f,#05f,#02f,#00d,#04f,#08f,#09f,#08f,#04f,#01f,#00c,#00d,#00f,#01f,#02f,#03f,#03f,#02f,#00f,#00c,#00e,#00f,#00d,#00d,#01f,#03f,#01f,#00d,#00d,#00e,#00d,#00c,#00c,#00c,#00c,#00c,#00c,#00c,#00c,#00c,#00c,#00c,#00c,#00c,#00c,#00c,#00c,#00c,#00c,#00c,#00c,#00c,#00c,#00c,#00c)"></i><i style="background:linear-gradient(90deg,#00f,#00f,#01f,#01f,#00d,#06f,#0df,#1fe,#0ef,#09f,#03f,#00e,#00e,#03f,#09f,#0df,#0ef,#0af,#02f,#00f,#06f,#08f,#06f,#01f,#00c,#00f,#00e,#00e,#03f,#06f,#04f,#00e,#02f,#08f,#0bf,#09f,#03f,#00e,#06f,#0af,#09f,#03f,#00d,#05f,#0af,#0af,#08f,#03f,#00d,#00e,#01f,#01f,#01f,#00f,#01f,#01f,#01f,#01f,#00e,#00d,#00d,#00d,#00e,#00f,#00e,#00c,#00d,#00e,#00d,#00c,#00c,#00c,#00c,#00c,#00c,#00c,#00c,#00c,#00c,#00c,#00c,#00c,#00c,#00c,#00c,#00c,#00c,#00c,#00c,#00c,#00c,#00c,#00c,#00c)"></i><i style="background:linear-gradient(90deg,#00c,#00c,#00c,#00e,#03f,#0af,#0ff,#1fe,#0ef,#08f,#02f,#00d,#00d,#01f,#06f,#09f,#09f,#05f,#00d,#03f,#07f,#08f,#04f,#00c,#02f,#05f,#05f,#01f,#00d,#00d,#00c,#01f,#06f,#0af,#0af,#06f,#00d,#04f,#0bf,#0ef,#0bf,#04f,#00d,#06f,#09f,#09f,#04f,#00e,#00f,#02f,#02f,#01f,#00d,#00c,#00c,#00c,#00e,#00f,#01f,#01f,#00f,#00f,#00e,#00d,#00c,#00e,#00e,#00e,#00c,#00c,#00c,#00c,#00c,#00c,#00c,#00c,#00c,#00c,#00c,#00c,#00c,#00c,#00c,#00c,#00c,#00c,#00c,#00c,#00c,#00c,#00c,#00c,#00c,#00c)"></i><i style="background:linear-gradient(90deg,#00c,#00c,#00d,#00f,#04f,#09f,#0cf,#0cf,#08f,#03f,#00c,#00f,#00f,#00c,#00f,#03f,#02f,#00e,#01f,#06f,#08f,#06f,#00f,#00f,#07f,#0af,#0af,#07f,#03f,#00f,#01f,#04f,#07f,#09f,#08f,#02f,#00f,#08f,#0ef,#0ff,#0af,#02f,#00e,#06f,#07f,#05f,#00e,#01f,#05f,#06f,#04f,#00e,#00e,#02f,#02f,#01f,#00d,#00e,#01f,#02f,#01f,#00f,#00e,#00c,#00d,#00e,#00e,#00d,#00c,#00c,#00c,#00c,#00c,#00c,#00c,#00c,#00c,#00c,#00c,#00c,#00c,#00c,#00c,#00c,#00c,#00c,#00c,#00c,#00c,#00c,#00c,#00c,#00c,#00c)"></i><i style="background:linear-gradient(90deg,#00e,#00e,#00e,#00c,#01f,#04f,#05f,#04f,#00f,#00e,#04f,#06f,#06f,#03f,#00e,#00c,#00c,#00f,#04f,#07f,#07f,#04f,#00c,#04f,#0af,#0df,#0cf,#08f,#04f,#01f,#01f,#03f,#05f,#06f,#04f,#00d,#03f,#0af,#0df,#0cf,#07f,#00e,#02f,#05f,#05f,#00f,#01f,#07f,#0af,#09f,#03f,#00c,#03f,#07f,#07f,#05f,#00f,#00c,#00f,#01f,#01f,#00e,#00c,#00c,#00d,#00d,#00c,#00c,#00c,#00c,#00c,#00c,#00c,#00c,#00c,#00c,#00c,#00c,#00c,#00c,#00c,#00c,#00c,#00c,#00c,#00c,#00c,#00c,#00c,#00c,#00c,#00c,#00c,#00c)"></i><i style="background:linear-gradient(90deg,#03f,#03f,#02f,#00f,#00c,#00d,#00d,#00d,#02f,#07f,#0bf,#0cf,#0af,#07f,#03f,#00f,#00f,#02f,#05f,#07f,#05f,#01f,#00e,#06f,#0af,#0bf,#09f,#04f,#00f,#00c,#00c,#00e,#01f,#02f,#00f,#00d,#04f,#08f,#0af,#07f,#01f,#00e,#05f,#06f,#02f,#00d,#06f,#0bf,#0df,#09f,#02f,#00f,#07f,#0bf,#0af,#06f,#01f,#00c,#00f,#00f,#00e,#00c,#00c,#00d,#00c,#00c,#00c,#00c,#00c,#00c,#00c,#00c,#00c,#00c,#00c,#00c,#00c,#00c,#00c,#00c,#00c,#00c,#00c,#00c,#00c,#00c,#00c,#00c,#00c,#00c,#00c,#00c,#00c,#00c)"></i><i style="background:linear-gradient(90deg,#04f,#04f,#04f,#02f,#00f,#00f,#02f,#04f,#08f,#0bf,#0df,#0df,#0af,#06f,#02f,#00f,#00f,#01f,#03f,#04f,#02f,#00d,#00f,#05f,#08f,#07f,#03f,#00c,#01f,#04f,#03f,#00f,#00c,#00d,#00c,#00e,#02f,#04f,#04f,#00f,#00e,#05f,#08f,#07f,#01f,#01f,#08f,#0df,#0df,#08f,#00e,#03f,#0af,#0cf,#0af,#05f,#00e,#00e,#00f,#00e,#00c,#00d,#00d,#00d,#00c,#00c,#00c,#00c,#00c,#00c,#00c,#00c,#00c,#00c,#00c,#00c,#00c,#00c,#00c,#00c,#00c,#00c,#00c,#00c,#00c,#00c,#00c,#00c,#00c,#00c,#00c,#00c,#00c,#00c)"></i><i style="background:linear-gradient(90deg,#02f,#02f,#02f,#01f,#00f,#01f,#03f,#06f,#09f,#0af,#0af,#08f,#05f,#01f,#00c,#00d,#00c,#00d,#00f,#01f,#00e,#00c,#01f,#03f,#03f,#00f,#00d,#04f,#08f,#0af,#08f,#05f,#01f,#00d,#00c,#00d,#00e,#00f,#00d,#00f,#05f,#09f,#0af,#07f,#00f,#02f,#09f,#0cf,#0af,#04f,#00d,#05f,#0af,#0af,#06f,#00f,#00e,#02f,#01f,#00d,#00d,#00f,#00e,#00d,#00c,#00c,#00c,#00c,#00c,#00c,#00c,#00c,#00c,#00c,#00c,#00c,#00c,#00c,#00c,#00c,#00c,#00c,#00c,#00c,#00c,#00c,#00c,#00c,#00c,#00c,#00c,#00c,#00c,#00c)"></i><i style="background:linear-gradient(90deg,#00c,#00c,#00c,#00c,#00d,#00e,#01f,#03f,#05f,#05f,#03f,#00f,#00c,#01f,#03f,#04f,#02f,#00f,#00d,#00c,#00c,#00d,#00f,#00f,#00d,#00e,#05f,#0af,#0df,#0df,#0af,#06f,#01f,#00c,#00d,#00d,#00c,#00c,#00f,#04f,#08f,#0bf,#0af,#06f,#00e,#02f,#07f,#09f,#06f,#00e,#01f,#07f,#09f,#06f,#00f,#00f,#04f,#06f,#03f,#00d,#00e,#00f,#00e,#00c,#00c,#00c,#00c,#00c,#00c,#00c,#00c,#00c,#00c,#00c,#00c,#00c,#00c,#00c,#00c,#00c,#00c,#00c,#00c,#00c,#00c,#00c,#00c,#00c,#00c,#00c,#00c,#00c,#00c,#00c)"></i><i style="background:linear-gradient(90deg,#02f,#02f,#02f,#01f,#00f,#00d,#00c,#00d,#00d,#00c,#00e,#02f,#05f,#08f,#09f,#08f,#06f,#03f,#00f,#00d,#00d,#00e,#00e,#00d,#00d,#02f,#07f,#0cf,#0df,#0cf,#08f,#03f,#00d,#00e,#00f,#00f,#00e,#00e,#01f,#04f,#07f,#09f,#08f,#04f,#00d,#01f,#05f,#04f,#00f,#00e,#05f,#07f,#06f,#01f,#00f,#07f,#0af,#09f,#03f,#00c,#00f,#00f,#00d,#00c,#00c,#00c,#00c,#00c,#00c,#00c,#00c,#00c,#00c,#00c,#00c,#00c,#00c,#00c,#00c,#00c,#00c,#00c,#00c,#00c,#00c,#00c,#00c,#00c,#00c,#00c,#00c,#00c,#00c,#00c)"></i><i style="background:linear-gradient(90deg,#06f,#06f,#06f,#04f,#03f,#01f,#00f,#00f,#01f,#03f,#05f,#08f,#0bf,#0cf,#0bf,#09f,#06f,#02f,#00e,#00d,#00d,#00d,#00d,#00c,#00e,#02f,#06f,#08f,#08f,#06f,#01f,#00c,#01f,#03f,#02f,#00f,#00d,#00d,#00d,#01f,#03f,#04f,#03f,#00f,#00d,#01f,#02f,#00f,#00d,#03f,#07f,#07f,#03f,#00d,#06f,#0cf,#0df,#08f,#01f,#00c,#00e,#00d,#00c,#00c,#00c,#00c,#00c,#00c,#00c,#00c,#00c,#00c,#00c,#00c,#00c,#00c,#00c,#00c,#00c,#00c,#00c,#00c,#00c,#00c,#00c,#00c,#00c,#00c,#00c,#00c,#00c,#00c,#00c,#00c)"></i><i style="background:linear-gradient(90deg,#06f,#06f,#05f,#04f,#03f,#02f,#02f,#02f,#04f,#06f,#08f,#0af,#0bf,#0af,#08f,#05f,#01f,#00d,#00c,#00c,#00c,#00d,#00d,#00d,#00c,#00f,#02f,#02f,#01f,#00c,#00f,#04f,#06f,#06f,#03f,#00f,#00c,#00e,#00e,#00d,#00c,#00d,#00c,#00d,#00f,#01f,#00f,#00c,#02f,#06f,#08f,#06f,#00f,#02f,#0af,#0df,#0bf,#05f,#00e,#00d,#00d,#00c,#00c,#00c,#00c,#00c,#00c,#00c,#00c,#00c,#00c,#00c,#00c,#00c,#00c,#00c,#00c,#00c,#00c,#00c,#00c,#00c,#00c,#00c,#00c,#00c,#00c,#00c,#00c,#00c,#00c,#00c,#00c,#00c)"></i><i style="background:linear-gradient(90deg,#01f,#01f,#01f,#00f,#00f,#00e,#00f,#01f,#03f,#04f,#05f,#06f,#05f,#04f,#01f,#00d,#00e,#01f,#01f,#00f,#00e,#00c,#00d,#00e,#00d,#00c,#00c,#00d,#00f,#04f,#07f,#0af,#0af,#07f,#03f,#00c,#01f,#03f,#04f,#03f,#02f,#01f,#01f,#01f,#02f,#01f,#00e,#00e,#04f,#07f,#08f,#04f,#00d,#03f,#09f,#09f,#06f,#01f,#00c,#00d,#00c,#00c,#00c,#00c,#00c,#00c,#00c,#00c,#00c,#00c,#00c,#00c,#00c,#00c,#00c,#00c,#00c,#00c,#00c,#00c,#00c,#00c,#00c,#00c,#00c,#00c,#00c,#00c,#00c,#00c,#00c,#00c,#00c,#00c)"></i><i style="background:linear-gradient(90deg,#00e,#00e,#00e,#00e,#00e,#00d,#00c,#00c,#00e,#00e,#00f,#00e,#00c,#00d,#01f,#04f,#06f,#06f,#05f,#02f,#00f,#00c,#00e,#00f,#00f,#00f,#01f,#03f,#05f,#08f,#0bf,#0bf,#09f,#05f,#00f,#00e,#04f,#06f,#07f,#06f,#04f,#03f,#03f,#03f,#03f,#01f,#00d,#00e,#04f,#06f,#06f,#02f,#00c,#03f,#05f,#04f,#01f,#00d,#00c,#00c,#00c,#00c,#00c,#00c,#00c,#00c,#00c,#00c,#00c,#00c,#00c,#00c,#00c,#00c,#00c,#00c,#00c,#00c,#00c,#00c,#00c,#00c,#00c,#00c,#00c,#00c,#00c,#00c,#00c,#00c,#00c,#00c,#00c,#00c)"></i><i style="background:linear-gradient(90deg,#05f,#05f,#05f,#04f,#03f,#02f,#01f,#00f,#00e,#00e,#00f,#01f,#03f,#06f,#08f,#09f,#0af,#08f,#06f,#03f,#00e,#00c,#00e,#00f,#01f,#01f,#02f,#04f,#06f,#08f,#09f,#08f,#05f,#01f,#00d,#03f,#06f,#07f,#06f,#04f,#02f,#01f,#01f,#02f,#02f,#01f,#00d,#00d,#02f,#03f,#03f,#00f,#00d,#00f,#01f,#00e,#00c,#00c,#00c,#00c,#00c,#00c,#00c,#00c,#00c,#00c,#00c,#00c,#00c,#00c,#00c,#00c,#00c,#00c,#00c,#00c,#00c,#00c,#00c,#00c,#00c,#00c,#00c,#00c,#00c,#00c,#00c,#00c,#00c,#00c,#00c,#00c,#00c,#00c)"></i><i style="background:linear-gradient(90deg,#07f,#07f,#07f,#06f,#05f,#04f,#03f,#02f,#02f,#03f,#04f,#06f,#08f,#09f,#0af,#0af,#09f,#07f,#03f,#00f,#00c,#00e,#00f,#00f,#00e,#00e,#00f,#01f,#02f,#03f,#03f,#02f,#00e,#00d,#02f,#05f,#06f,#05f,#02f,#00e,#00c,#00c,#00c,#00d,#00f,#00f,#00e,#00c,#00e,#00f,#00e,#00c,#00d,#00e,#00d,#00c,#00c,#00c,#00c,#00c,#00c,#00c,#00c,#00c,#00c,#00c,#00c,#00c,#00c,#00c,#00c,#00c,#00c,#00c,#00c,#00c,#00c,#00c,#00c,#00c,#00c,#00c,#00c,#00c,#00c,#00c,#00c,#00c,#00c,#00c,#00c,#00c,#00c,#00c)"></i><i style="background:linear-gradient(90deg,#04f,#04f,#04f,#03f,#02f,#02f,#01f,#01f,#02f,#03f,#04f,#05f,#07f,#07f,#07f,#06f,#04f,#01f,#00d,#00d,#00f,#00f,#00f,#00d,#00c,#00d,#00d,#00d,#00c,#00c,#00c,#00e,#01f,#03f,#05f,#05f,#03f,#00f,#00c,#01f,#03f,#03f,#01f,#00e,#00c,#00e,#00e,#00d,#00c,#00c,#00c,#00d,#00d,#00c,#00c,#00c,#00c,#00c,#00c,#00c,#00c,#00c,#00c,#00c,#00c,#00c,#00c,#00c,#00c,#00c,#00c,#00c,#00c,#00c,#00c,#00c,#00c,#00c,#00c,#00c,#00c,#00c,#00c,#00c,#00c,#00c,#00c,#00c,#00c,#00c,#00c,#00c,#00c,#00c)"></i><i style="background:linear-gradient(90deg,#00d,#00d,#00d,#00d,#00c,#00c,#00c,#00d,#00e,#00f,#01f,#01f,#02f,#01f,#00f,#00d,#00c,#00f,#02f,#03f,#03f,#01f,#00e,#00c,#00f,#02f,#03f,#03f,#03f,#03f,#03f,#04f,#05f,#06f,#05f,#03f,#00e,#00e,#04f,#07f,#08f,#08f,#05f,#01f,#00d,#00d,#00e,#00e,#00e,#00e,#00e,#00e,#00d,#00c,#00c,#00c,#00c,#00c,#00c,#00c,#00c,#00c,#00c,#00c,#00c,#00c,#00c,#00c,#00c,#00c,#00c,#00c,#00c,#00c,#00c,#00c,#00c,#00c,#00c,#00c,#00c,#00c,#00c,#00c,#00c,#00c,#00c,#00c,#00c,#00c,#00c,#00c,#00c,#00c)"></i><i style="background:linear-gradient(90deg,#02f,#02f,#02f,#02f,#02f,#01f,#01f,#00f,#00e,#00d,#00d,#00d,#00d,#00e,#01f,#03f,#05f,#06f,#07f,#06f,#04f,#01f,#00c,#00e,#02f,#04f,#05f,#05f,#05f,#05f,#05f,#06f,#06f,#05f,#03f,#00f,#00e,#04f,#08f,#0bf,#0bf,#09f,#06f,#02f,#00d,#00d,#00e,#00e,#00e,#00e,#00e,#00d,#00c,#00c,#00c,#00c,#00c,#00c,#00c,#00c,#00c,#00c,#00c,#00c,#00c,#00c,#00c,#00c,#00c,#00c,#00c,#00c,#00c,#00c,#00c,#00c,#00c,#00c,#00c,#00c,#00c,#00c,#00c,#00c,#00c,#00c,#00c,#00c,#00c,#00c,#00c,#00c,#00c,#00c)"></i><i style="background:linear-gradient(90deg,#06f,#06f,#06f,#06f,#05f,#04f,#04f,#03f,#02f,#02f,#02f,#03f,#04f,#05f,#07f,#08f,#09f,#09f,#08f,#06f,#03f,#00e,#00d,#01f,#03f,#04f,#04f,#04f,#04f,#03f,#03f,#04f,#03f,#02f,#00f,#00c,#02f,#06f,#09f,#0af,#09f,#06f,#03f,#00e,#00c,#00d,#00d,#00d,#00d,#00d,#00d,#00c,#00c,#00c,#00c,#00c,#00c,#00c,#00c,#00c,#00c,#00c,#00c,#00c,#00c,#00c,#00c,#00c,#00c,#00c,#00c,#00c,#00c,#00c,#00c,#00c,#00c,#00c,#00c,#00c,#00c,#00c,#00c,#00c,#00c,#00c,#00c,#00c,#00c,#00c,#00c,#00c,#00c,#00c)"></i><i style="background:linear-gradient(90deg,#06f,#06f,#06f,#05f,#05f,#04f,#03f,#03f,#03f,#03f,#03f,#04f,#05f,#07f,#08f,#08f,#08f,#07f,#05f,#03f,#00e,#00c,#00f,#01f,#02f,#01f,#00f,#00e,#00e,#00d,#00d,#00e,#00d,#00d,#00d,#00f,#03f,#05f,#05f,#05f,#03f,#00f,#00c,#00e,#00e,#00e,#00c,#00c,#00c,#00c,#00c,#00c,#00c,#00c,#00c,#00c,#00c,#00c,#00c,#00c,#00c,#00c,#00c,#00c,#00c,#00c,#00c,#00c,#00c,#00c,#00c,#00c,#00c,#00c,#00c,#00c,#00c,#00c,#00c,#00c,#00c,#00c,#00c,#00c,#00c,#00c,#00c,#00c,#00c,#00c,#00c,#00c,#00c,#00c)"></i><i style="background:linear-gradient(90deg,#02f,#02f,#02f,#01f,#01f,#00f,#00f,#00f,#00f,#00f,#01f,#02f,#03f,#04f,#04f,#04f,#03f,#01f,#00e,#00c,#00e,#00f,#01f,#00f,#00e,#00c,#00d,#00f,#01f,#02f,#01f,#01f,#00f,#00f,#00f,#01f,#01f,#01f,#00f,#00c,#00e,#02f,#03f,#02f,#00f,#00d,#00c,#00d,#00c,#00c,#00c,#00c,#00c,#00c,#00c,#00c,#00c,#00c,#00c,#00c,#00c,#00c,#00c,#00c,#00c,#00c,#00c,#00c,#00c,#00c,#00c,#00c,#00c,#00c,#00c,#00c,#00c,#00c,#00c,#00c,#00c,#00c,#00c,#00c,#00c,#00c,#00c,#00c,#00c,#00c,#00c,#00c,#00c,#00c)"></i><i style="background:linear-gradient(90deg,#00d,#00d,#00d,#00e,#00e,#00e,#00e,#00e,#00d,#00d,#00c,#00c,#00d,#00d,#00c,#00c,#00d,#00f,#01f,#03f,#03f,#03f,#01f,#00e,#00d,#01f,#04f,#06f,#06f,#06f,#05f,#04f,#03f,#02f,#01f,#00f,#00d,#00c,#00f,#03f,#06f,#06f,#05f,#03f,#00f,#00d,#00c,#00c,#00c,#00c,#00c,#00c,#00c,#00c,#00c,#00c,#00c,#00c,#00c,#00c,#00c,#00c,#00c,#00c,#00c,#00c,#00c,#00c,#00c,#00c,#00c,#00c,#00c,#00c,#00c,#00c,#00c,#00c,#00c,#00c,#00c,#00c,#00c,#00c,#00c,#00c,#00c,#00c,#00c,#00c,#00c,#00c,#00c,#00c)"></i><i style="background:linear-gradient(90deg,#04f,#04f,#04f,#04f,#04f,#04f,#03f,#03f,#02f,#02f,#01f,#01f,#01f,#01f,#02f,#03f,#05f,#06f,#07f,#06f,#05f,#03f,#00f,#00c,#00f,#04f,#06f,#08f,#08f,#07f,#06f,#04f,#03f,#01f,#00f,#00d,#00d,#01f,#04f,#06f,#07f,#06f,#04f,#01f,#00d,#00c,#00c,#00c,#00c,#00c,#00c,#00c,#00c,#00c,#00c,#00c,#00c,#00c,#00c,#00c,#00c,#00c,#00c,#00c,#00c,#00c,#00c,#00c,#00c,#00c,#00c,#00c,#00c,#00c,#00c,#00c,#00c,#00c,#00c,#00c,#00c,#00c,#00c,#00c,#00c,#00c,#00c,#00c,#00c,#00c,#00c,#00c,#00c,#00c)"></i><i style="background:linear-gradient(90deg,#07f,#07f,#07f,#06f,#06f,#05f,#05f,#04f,#04f,#03f,#03f,#03f,#04f,#05f,#06f,#07f,#08f,#08f,#08f,#07f,#05f,#02f,#00d,#00d,#02f,#04f,#05f,#06f,#05f,#04f,#02f,#01f,#00f,#00e,#00c,#00d,#00e,#01f,#03f,#04f,#04f,#02f,#00f,#00d,#00c,#00c,#00c,#00c,#00c,#00c,#00c,#00c,#00c,#00c,#00c,#00c,#00c,#00c,#00c,#00c,#00c,#00c,#00c,#00c,#00c,#00c,#00c,#00c,#00c,#00c,#00c,#00c,#00c,#00c,#00c,#00c,#00c,#00c,#00c,#00c,#00c,#00c,#00c,#00c,#00c,#00c,#00c,#00c,#00c,#00c,#00c,#00c,#00c,#00c)"></i><i style="background:linear-gradient(90deg,#05f,#05f,#05f,#04f,#03f,#03f,#02f,#02f,#02f,#02f,#02f,#02f,#03f,#04f,#05f,#06f,#06f,#06f,#05f,#03f,#01f,#00d,#00d,#00f,#01f,#02f,#02f,#01f,#00e,#00c,#00c,#00d,#00d,#00d,#00d,#00d,#00e,#00e,#00f,#00f,#00e,#00d,#00c,#00c,#00c,#00c,#00c,#00c,#00c,#00c,#00c,#00c,#00c,#00c,#00c,#00c,#00c,#00c,#00c,#00c,#00c,#00c,#00c,#00c,#00c,#00c,#00c,#00c,#00c,#00c,#00c,#00c,#00c,#00c,#00c,#00c,#00c,#00c,#00c,#00c,#00c,#00c,#00c,#00c,#00c,#00c,#00c,#00c,#00c,#00c,#00c,#00c,#00c,#00c)"></i><i style="background:linear-gradient(90deg,#00e,#00e,#00e,#00d,#00d,#00d,#00c,#00c,#00c,#00c,#00d,#00d,#00e,#00f,#00f,#01f,#00f,#00f,#00e,#00c,#00d,#00e,#00f,#00f,#00f,#00d,#00c,#00e,#02f,#03f,#04f,#04f,#02f,#00f,#00e,#00d,#00c,#00c,#00c,#00c,#00c,#00c,#00c,#00c,#00c,#00c,#00c,#00c,#00c,#00c,#00c,#00c,#00c,#00c,#00c,#00c,#00c,#00c,#00c,#00c,#00c,#00c,#00c,#00c,#00c,#00c,#00c,#00c,#00c,#00c,#00c,#00c,#00c,#00c,#00c,#00c,#00c,#00c,#00c,#00c,#00c,#00c,#00c,#00c,#00c,#00c,#00c,#00c,#00c,#00c,#00c,#00c,#00c,#00c)"></i><i style="background:linear-gradient(90deg,#01f,#01f,#01f,#01f,#02f,#02f,#02f,#01f,#01f,#01f,#00f,#00f,#00e,#00e,#00e,#00e,#00f,#01f,#02f,#02f,#03f,#03f,#02f,#00f,#00d,#00e,#02f,#05f,#07f,#08f,#07f,#05f,#02f,#00f,#00d,#00c,#00c,#00d,#00c,#00c,#00c,#00c,#00c,#00c,#00c,#00c,#00c,#00c,#00c,#00c,#00c,#00c,#00c,#00c,#00c,#00c,#00c,#00c,#00c,#00c,#00c,#00c,#00c,#00c,#00c,#00c,#00c,#00c,#00c,#00c,#00c,#00c,#00c,#00c,#00c,#00c,#00c,#00c,#00c,#00c,#00c,#00c,#00c,#00c,#00c,#00c,#00c,#00c,#00c,#00c,#00c,#00c,#00c,#00c)"></i><i style="background:linear-gradient(90deg,#06f,#06f,#06f,#06f,#05f,#05f,#05f,#04f,#04f,#04f,#03f,#03f,#03f,#03f,#04f,#04f,#05f,#06f,#06f,#06f,#06f,#04f,#02f,#00e,#00d,#01f,#05f,#06f,#07f,#06f,#04f,#02f,#00f,#00d,#00c,#00c,#00c,#00c,#00c,#00c,#00c,#00c,#00c,#00c,#00c,#00c,#00c,#00c,#00c,#00c,#00c,#00c,#00c,#00c,#00c,#00c,#00c,#00c,#00c,#00c,#00c,#00c,#00c,#00c,#00c,#00c,#00c,#00c,#00c,#00c,#00c,#00c,#00c,#00c,#00c,#00c,#00c,#00c,#00c,#00c,#00c,#00c,#00c,#00c,#00c,#00c,#00c,#00c,#00c,#00c,#00c,#00c,#00c,#00c)"></i><i style="background:linear-gradient(90deg,#07f,#07f,#06f,#06f,#06f,#05f,#05f,#05f,#04f,#04f,#04f,#04f,#04f,#04f,#04f,#05f,#06f,#07f,#07f,#07f,#06f,#04f,#01f,#00d,#00e,#02f,#04f,#05f,#05f,#04f,#03f,#01f,#00e,#00d,#00c,#00c,#00c,#00c,#00c,#00c,#00c,#00c,#00c,#00c,#00c,#00c,#00c,#00c,#00c,#00c,#00c,#00c,#00c,#00c,#00c,#00c,#00c,#00c,#00c,#00c,#00c,#00c,#00c,#00c,#00c,#00c,#00c,#00c,#00c,#00c,#00c,#00c,#00c,#00c,#00c,#00c,#00c,#00c,#00c,#00c,#00c,#00c,#00c,#00c,#00c,#00c,#00c,#00c,#00c,#00c,#00c,#00c,#00c,#00c)"></i><i style="background:linear-gradient(90deg,#07f,#07f,#06f,#06f,#06f,#05f,#05f,#05f,#04f,#04f,#04f,#04f,#04f,#04f,#04f,#05f,#06f,#07f,#07f,#07f,#06f,#04f,#01f,#00d,#00e,#02f,#04f,#05f,#05f,#04f,#03f,#01f,#00e,#00d,#00c,#00c,#00c,#00c,#00c,#00c,#00c,#00c,#00c,#00c,#00c,#00c,#00c,#00c,#00c,#00c,#00c,#00c,#00c,#00c,#00c,#00c,#00c,#00c,#00c,#00c,#00c,#00c,#00c,#00c,#00c,#00c,#00c,#00c,#00c,#00c,#00c,#00c,#00c,#00c,#00c,#00c,#00c,#00c,#00c,#00c,#00c,#00c,#00c,#00c,#00c,#00c,#00c,#00c,#00c,#00c,#00c,#00c,#00c,#00c)"></i></b></div>
<svg width="2441" height="2682" viewBox="0 0 2441 2682">
<defs><filter id="bl" x="-2%" y="-2%" width="104%" height="104%"><feGaussianBlur stdDeviation="0.8"/></filter><filter id="bs" x="-2%" y="-5%" width="104%" height="110%"><feGaussianBlur stdDeviation="0.62"/></filter></defs>
<g fill="none" stroke-linecap="round" stroke-dasharray="0 14.270"><g filter="url(#bl)"><g stroke="#00051e" stroke-opacity=".93"><path d="M165.40 90.80H907.45" stroke-width="4.60"/><path d="M165.40 105.05H907.45" stroke-width="5.38"/><path d="M165.40 119.30H907.45" stroke-width="7.04"/><path d="M165.40 133.55H907.45" stroke-width="8.21"/><path d="M165.40 147.80H907.45" stroke-width="9.05"/><path d="M165.40 162.05H907.45" stroke-width="9.72"/><path d="M165.40 176.30H907.45" stroke-width="10.38"/><path d="M165.40 190.55H907.45" stroke-width="10.89"/><path d="M165.40 204.80H907.45" stroke-width="11.39"/><path d="M165.40 219.05H907.45" stroke-width="11.89"/><path d="M165.40 233.30H907.45" stroke-width="12.39"/><path d="M165.40 247.55H907.45" stroke-width="12.72"/><path d="M165.40 261.80H907.45" stroke-width="13.06"/><path d="M165.40 276.05H907.45" stroke-width="13.22"/><path d="M165.40 290.30H907.45" stroke-width="13.39"/><path d="M165.40 304.55H907.45" stroke-width="13.56"/><path d="M165.40 318.80H907.45" stroke-width="13.72"/><path d="M165.40 333.05H907.45" stroke-width="13.72"/><path d="M165.40 347.30H907.45" stroke-width="13.72"/><path d="M165.40 361.55H907.45" stroke-width="13.72"/><path d="M165.40 375.80H907.45" stroke-width="13.72"/><path d="M165.40 390.05H907.45" stroke-width="13.56"/><path d="M165.40 404.30H907.45" stroke-width="13.39"/><path d="M165.40 418.55H907.45" stroke-width="13.22"/><path d="M165.40 432.80H907.45" stroke-width="13.06"/><path d="M165.40 447.05H907.45" stroke-width="12.72"/><path d="M165.40 461.30H907.45" stroke-width="12.39"/><path d="M165.40 475.55H907.45" stroke-width="11.89"/><path d="M165.40 489.80H907.45" stroke-width="11.39"/><path d="M165.40 504.05H907.45" stroke-width="10.89"/><path d="M165.40 518.30H907.45" stroke-width="10.38"/><path d="M165.40 532.55H907.45" stroke-width="9.72"/><path d="M165.40 546.80H907.45" stroke-width="9.05"/><path d="M165.40 561.05H907.45" stroke-width="8.21"/><path d="M165.40 575.30H907.45" stroke-width="7.04"/><path d="M165.40 589.55H907.45" stroke-width="5.38"/><path d="M165.40 603.80H907.45" stroke-width="4.60"/></g><g stroke="#fff"><path d="M165.40 105.05H907.45" stroke-width="2.50"/><path d="M165.40 119.30H907.45" stroke-width="3.50"/><path d="M165.40 133.55H907.45" stroke-width="4.20"/><path d="M165.40 147.80H907.45" stroke-width="4.70"/><path d="M165.40 162.05H907.45" stroke-width="5.10"/><path d="M165.40 176.30H907.45" stroke-width="5.50"/><path d="M165.40 190.55H907.45" stroke-width="5.80"/><path d="M165.40 204.80H907.45" stroke-width="6.10"/><path d="M165.40 219.05H907.45" stroke-width="6.40"/><path d="M165.40 233.30H907.45" stroke-width="6.70"/><path d="M165.40 247.55H907.45" stroke-width="6.90"/><path d="M165.40 261.80H907.45" stroke-width="7.10"/><path d="M165.40 276.05H907.45" stroke-width="7.20"/><path d="M165.40 290.30H907.45" stroke-width="7.30"/><path d="M165.40 304.55H907.45" stroke-width="7.40"/><path d="M165.40 318.80H907.45" stroke-width="7.50"/><path d="M165.40 333.05H907.45" stroke-width="7.50"/><path d="M165.40 347.30H907.45" stroke-width="7.50"/><path d="M165.40 361.55H907.45" stroke-width="7.50"/><path d="M165.40 375.80H907.45" stroke-width="7.50"/><path d="M165.40 390.05H907.45" stroke-width="7.40"/><path d="M165.40 404.30H907.45" stroke-width="7.30"/><path d="M165.40 418.55H907.45" stroke-width="7.20"/><path d="M165.40 432.80H907.45" stroke-width="7.10"/><path d="M165.40 447.05H907.45" stroke-width="6.90"/><path d="M165.40 461.30H907.45" stroke-width="6.70"/><path d="M165.40 475.55H907.45" stroke-width="6.40"/><path d="M165.40 489.80H907.45" stroke-width="6.10"/><path d="M165.40 504.05H907.45" stroke-width="5.80"/><path d="M165.40 518.30H907.45" stroke-width="5.50"/><path d="M165.40 532.55H907.45" stroke-width="5.10"/><path d="M165.40 546.80H907.45" stroke-width="4.70"/><path d="M165.40 561.05H907.45" stroke-width="4.20"/><path d="M165.40 575.30H907.45" stroke-width="3.50"/><path d="M165.40 589.55H907.45" stroke-width="2.50"/></g></g><g filter="url(#bs)"><g stroke="#00051e" stroke-opacity=".93"></g><g stroke="#fff"></g></g></g>
<g fill="none" stroke-linecap="round" stroke-dasharray="0 14.300"><g filter="url(#bl)"><g stroke="#00051e" stroke-opacity=".93"><path d="M164.50 926.50H908.11" stroke-width="4.60"/><path d="M164.50 941.37H908.11" stroke-width="5.38"/><path d="M164.50 956.24H908.11" stroke-width="7.04"/><path d="M164.50 971.11H908.11" stroke-width="8.21"/><path d="M164.50 985.98H908.11" stroke-width="9.05"/><path d="M164.50 1000.85H908.11" stroke-width="9.72"/><path d="M164.50 1015.72H908.11" stroke-width="10.38"/><path d="M164.50 1030.59H908.11" stroke-width="10.89"/><path d="M164.50 1045.46H908.11" stroke-width="11.39"/><path d="M164.50 1060.33H908.11" stroke-width="11.89"/><path d="M164.50 1075.20H908.11" stroke-width="12.39"/><path d="M164.50 1090.07H908.11" stroke-width="12.72"/><path d="M164.50 1104.94H908.11" stroke-width="13.06"/><path d="M164.50 1119.81H908.11" stroke-width="13.22"/><path d="M164.50 1134.68H908.11" stroke-width="13.39"/><path d="M164.50 1149.55H908.11" stroke-width="13.56"/><path d="M164.50 1164.42H908.11" stroke-width="13.72"/><path d="M164.50 1179.29H908.11" stroke-width="13.72"/><path d="M164.50 1194.16H908.11" stroke-width="13.72"/><path d="M164.50 1209.03H908.11" stroke-width="13.72"/><path d="M164.50 1223.90H908.11" stroke-width="13.72"/><path d="M164.50 1238.77H908.11" stroke-width="13.56"/><path d="M164.50 1253.64H908.11" stroke-width="13.39"/><path d="M164.50 1268.51H908.11" stroke-width="13.22"/><path d="M164.50 1283.38H908.11" stroke-width="13.06"/><path d="M164.50 1298.25H908.11" stroke-width="12.72"/><path d="M164.50 1313.12H908.11" stroke-width="12.39"/><path d="M164.50 1327.99H908.11" stroke-width="11.89"/><path d="M164.50 1342.86H908.11" stroke-width="11.39"/><path d="M164.50 1357.73H908.11" stroke-width="10.89"/><path d="M164.50 1372.60H908.11" stroke-width="10.38"/><path d="M164.50 1387.47H908.11" stroke-width="9.72"/><path d="M164.50 1402.34H908.11" stroke-width="9.05"/><path d="M164.50 1417.21H908.11" stroke-width="8.21"/><path d="M164.50 1432.08H908.11" stroke-width="7.04"/><path d="M164.50 1446.95H908.11" stroke-width="5.38"/><path d="M164.50 1461.82H908.11" stroke-width="4.60"/></g><g stroke="#fff"><path d="M164.50 941.37H908.11" stroke-width="2.50"/><path d="M164.50 956.24H908.11" stroke-width="3.50"/><path d="M164.50 971.11H908.11" stroke-width="4.20"/><path d="M164.50 985.98H908.11" stroke-width="4.70"/><path d="M164.50 1000.85H908.11" stroke-width="5.10"/><path d="M164.50 1015.72H908.11" stroke-width="5.50"/><path d="M164.50 1030.59H908.11" stroke-width="5.80"/><path d="M164.50 1045.46H908.11" stroke-width="6.10"/><path d="M164.50 1060.33H908.11" stroke-width="6.40"/><path d="M164.50 1075.20H908.11" stroke-width="6.70"/><path d="M164.50 1090.07H908.11" stroke-width="6.90"/><path d="M164.50 1104.94H908.11" stroke-width="7.10"/><path d="M164.50 1119.81H908.11" stroke-width="7.20"/><path d="M164.50 1134.68H908.11" stroke-width="7.30"/><path d="M164.50 1149.55H908.11" stroke-width="7.40"/><path d="M164.50 1164.42H908.11" stroke-width="7.50"/><path d="M164.50 1179.29H908.11" stroke-width="7.50"/><path d="M164.50 1194.16H908.11" stroke-width="7.50"/><path d="M164.50 1209.03H908.11" stroke-width="7.50"/><path d="M164.50 1223.90H908.11" stroke-width="7.50"/><path d="M164.50 1238.77H908.11" stroke-width="7.40"/><path d="M164.50 1253.64H908.11" stroke-width="7.30"/><path d="M164.50 1268.51H908.11" stroke-width="7.20"/><path d="M164.50 1283.38H908.11" stroke-width="7.10"/><path d="M164.50 1298.25H908.11" stroke-width="6.90"/><path d="M164.50 1313.12H908.11" stroke-width="6.70"/><path d="M164.50 1327.99H908.11" stroke-width="6.40"/><path d="M164.50 1342.86H908.11" stroke-width="6.10"/><path d="M164.50 1357.73H908.11" stroke-width="5.80"/><path d="M164.50 1372.60H908.11" stroke-width="5.50"/><path d="M164.50 1387.47H908.11" stroke-width="5.10"/><path d="M164.50 1402.34H908.11" stroke-width="4.70"/><path d="M164.50 1417.21H908.11" stroke-width="4.20"/><path d="M164.50 1432.08H908.11" stroke-width="3.50"/><path d="M164.50 1446.95H908.11" stroke-width="2.50"/></g></g><g filter="url(#bs)"><g stroke="#00051e" stroke-opacity=".93"></g><g stroke="#fff"></g></g></g>
<path d="M914.4 55.3V639.8" stroke="#00003a" stroke-width="3.5" opacity=".75"/>
<path d="M914.4 347.3H1356.0" stroke="#101a10" stroke-width="2.4" opacity=".85"/>
<path d="M916.7 888.6V1496.4" stroke="#00003a" stroke-width="3" opacity=".7"/>
<path d="M916.7 1194.6H1254.0" stroke="#101a10" stroke-width="2.4" opacity=".85"/>
<rect x="158.0" y="55.3" width="1198.0" height="584.5" fill="none" stroke="#000070" stroke-width="1.6"/>
<g filter="url(#bl)"><path d="M978.8 888.6H1324.6V896.5H978.8zM1093.3 896.5H1324.6V926.2H1093.3zM1150.6 926.2H1324.6V956.0H1150.6zM1179.2 956.0H1324.6V985.8H1179.2zM1207.8 985.8H1324.6V1015.5H1207.8zM1236.4 1015.5H1324.6V1045.2H1236.4zM1236.4 1045.2H1324.6V1075.0H1236.4zM1265.0 1075.0H1324.6V1104.8H1265.0zM1265.0 1104.8H1324.6V1134.5H1265.0zM1265.0 1134.5H1324.6V1164.2H1265.0zM1265.0 1164.2H1324.6V1194.0H1265.0zM1265.0 1194.0H1324.6V1223.8H1265.0zM1265.0 1223.8H1324.6V1253.5H1265.0zM1265.0 1253.5H1324.6V1283.2H1265.0zM1265.0 1283.2H1324.6V1313.0H1265.0zM1236.4 1313.0H1324.6V1342.8H1236.4zM1236.4 1342.8H1324.6V1372.5H1236.4zM1207.8 1372.5H1324.6V1402.2H1207.8zM1179.2 1402.2H1324.6V1432.0H1179.2zM1150.6 1432.0H1324.6V1461.8H1150.6zM1093.3 1461.8H1324.6V1491.5H1093.3zM978.8 1491.5H1324.6V1496.4H978.8z" fill="#00008c"/><path d="M966.0 896.5H991.6M978.8 888.6V909.3M994.7 896.5H1020.3M1007.5 888.6V909.3M1023.3 896.5H1048.9M1036.1 888.6V909.3M1051.9 896.5H1077.5M1064.7 888.6V909.3M1080.5 896.5H1106.1M1093.3 888.6V909.3M1109.1 896.5H1134.7M1121.9 888.6V909.3M1137.8 896.5H1163.4M1150.6 888.6V909.3M1166.4 896.5H1192.0M1179.2 888.6V909.3M1195.0 896.5H1220.6M1207.8 888.6V909.3M1223.6 896.5H1249.2M1236.4 888.6V909.3M1252.2 896.5H1277.8M1265.0 888.6V909.3M1280.9 896.5H1306.5M1293.7 888.6V909.3M1309.5 896.5H1326.1M1322.3 888.6V909.3M1080.5 926.2H1106.1M1093.3 913.5V939.0M1109.1 926.2H1134.7M1121.9 913.5V939.0M1137.8 926.2H1163.4M1150.6 913.5V939.0M1166.4 926.2H1192.0M1179.2 913.5V939.0M1195.0 926.2H1220.6M1207.8 913.5V939.0M1223.6 926.2H1249.2M1236.4 913.5V939.0M1252.2 926.2H1277.8M1265.0 913.5V939.0M1280.9 926.2H1306.5M1293.7 913.5V939.0M1309.5 926.2H1326.1M1322.3 913.5V939.0M1137.8 956.0H1163.4M1150.6 943.2V968.8M1166.4 956.0H1192.0M1179.2 943.2V968.8M1195.0 956.0H1220.6M1207.8 943.2V968.8M1223.6 956.0H1249.2M1236.4 943.2V968.8M1252.2 956.0H1277.8M1265.0 943.2V968.8M1280.9 956.0H1306.5M1293.7 943.2V968.8M1309.5 956.0H1326.1M1322.3 943.2V968.8M1166.4 985.8H1192.0M1179.2 973.0V998.5M1195.0 985.8H1220.6M1207.8 973.0V998.5M1223.6 985.8H1249.2M1236.4 973.0V998.5M1252.2 985.8H1277.8M1265.0 973.0V998.5M1280.9 985.8H1306.5M1293.7 973.0V998.5M1309.5 985.8H1326.1M1322.3 973.0V998.5M1195.0 1015.5H1220.6M1207.8 1002.7V1028.3M1223.6 1015.5H1249.2M1236.4 1002.7V1028.3M1252.2 1015.5H1277.8M1265.0 1002.7V1028.3M1280.9 1015.5H1306.5M1293.7 1002.7V1028.3M1309.5 1015.5H1326.1M1322.3 1002.7V1028.3M1223.6 1045.2H1249.2M1236.4 1032.5V1058.0M1252.2 1045.2H1277.8M1265.0 1032.5V1058.0M1280.9 1045.2H1306.5M1293.7 1032.5V1058.0M1309.5 1045.2H1326.1M1322.3 1032.5V1058.0M1223.6 1075.0H1249.2M1236.4 1062.2V1087.8M1252.2 1075.0H1277.8M1265.0 1062.2V1087.8M1280.9 1075.0H1306.5M1293.7 1062.2V1087.8M1309.5 1075.0H1326.1M1322.3 1062.2V1087.8M1252.2 1104.8H1277.8M1265.0 1092.0V1117.5M1280.9 1104.8H1306.5M1293.7 1092.0V1117.5M1309.5 1104.8H1326.1M1322.3 1092.0V1117.5M1252.2 1134.5H1277.8M1265.0 1121.7V1147.3M1280.9 1134.5H1306.5M1293.7 1121.7V1147.3M1309.5 1134.5H1326.1M1322.3 1121.7V1147.3M1252.2 1164.2H1277.8M1265.0 1151.5V1177.0M1280.9 1164.2H1306.5M1293.7 1151.5V1177.0M1309.5 1164.2H1326.1M1322.3 1151.5V1177.0M1252.2 1194.0H1277.8M1265.0 1181.2V1206.8M1280.9 1194.0H1306.5M1293.7 1181.2V1206.8M1309.5 1194.0H1326.1M1322.3 1181.2V1206.8M1252.2 1223.8H1277.8M1265.0 1211.0V1236.5M1280.9 1223.8H1306.5M1293.7 1211.0V1236.5M1309.5 1223.8H1326.1M1322.3 1211.0V1236.5M1252.2 1253.5H1277.8M1265.0 1240.7V1266.3M1280.9 1253.5H1306.5M1293.7 1240.7V1266.3M1309.5 1253.5H1326.1M1322.3 1240.7V1266.3M1252.2 1283.2H1277.8M1265.0 1270.5V1296.0M1280.9 1283.2H1306.5M1293.7 1270.5V1296.0M1309.5 1283.2H1326.1M1322.3 1270.5V1296.0M1223.6 1313.0H1249.2M1236.4 1300.2V1325.8M1252.2 1313.0H1277.8M1265.0 1300.2V1325.8M1280.9 1313.0H1306.5M1293.7 1300.2V1325.8M1309.5 1313.0H1326.1M1322.3 1300.2V1325.8M1223.6 1342.8H1249.2M1236.4 1330.0V1355.5M1252.2 1342.8H1277.8M1265.0 1330.0V1355.5M1280.9 1342.8H1306.5M1293.7 1330.0V1355.5M1309.5 1342.8H1326.1M1322.3 1330.0V1355.5M1195.0 1372.5H1220.6M1207.8 1359.7V1385.3M1223.6 1372.5H1249.2M1236.4 1359.7V1385.3M1252.2 1372.5H1277.8M1265.0 1359.7V1385.3M1280.9 1372.5H1306.5M1293.7 1359.7V1385.3M1309.5 1372.5H1326.1M1322.3 1359.7V1385.3M1166.4 1402.2H1192.0M1179.2 1389.5V1415.0M1195.0 1402.2H1220.6M1207.8 1389.5V1415.0M1223.6 1402.2H1249.2M1236.4 1389.5V1415.0M1252.2 1402.2H1277.8M1265.0 1389.5V1415.0M1280.9 1402.2H1306.5M1293.7 1389.5V1415.0M1309.5 1402.2H1326.1M1322.3 1389.5V1415.0M1137.8 1432.0H1163.4M1150.6 1419.2V1444.8M1166.4 1432.0H1192.0M1179.2 1419.2V1444.8M1195.0 1432.0H1220.6M1207.8 1419.2V1444.8M1223.6 1432.0H1249.2M1236.4 1419.2V1444.8M1252.2 1432.0H1277.8M1265.0 1419.2V1444.8M1280.9 1432.0H1306.5M1293.7 1419.2V1444.8M1309.5 1432.0H1326.1M1322.3 1419.2V1444.8M1080.5 1461.8H1106.1M1093.3 1449.0V1474.5M1109.1 1461.8H1134.7M1121.9 1449.0V1474.5M1137.8 1461.8H1163.4M1150.6 1449.0V1474.5M1166.4 1461.8H1192.0M1179.2 1449.0V1474.5M1195.0 1461.8H1220.6M1207.8 1449.0V1474.5M1223.6 1461.8H1249.2M1236.4 1449.0V1474.5M1252.2 1461.8H1277.8M1265.0 1449.0V1474.5M1280.9 1461.8H1306.5M1293.7 1449.0V1474.5M1309.5 1461.8H1326.1M1322.3 1449.0V1474.5M966.0 1491.5H991.6M978.8 1478.7V1496.4M994.7 1491.5H1020.3M1007.5 1478.7V1496.4M1023.3 1491.5H1048.9M1036.1 1478.7V1496.4M1051.9 1491.5H1077.5M1064.7 1478.7V1496.4M1080.5 1491.5H1106.1M1093.3 1478.7V1496.4M1109.1 1491.5H1134.7M1121.9 1478.7V1496.4M1137.8 1491.5H1163.4M1150.6 1478.7V1496.4M1166.4 1491.5H1192.0M1179.2 1478.7V1496.4M1195.0 1491.5H1220.6M1207.8 1478.7V1496.4M1223.6 1491.5H1249.2M1236.4 1478.7V1496.4M1252.2 1491.5H1277.8M1265.0 1478.7V1496.4M1280.9 1491.5H1306.5M1293.7 1478.7V1496.4M1309.5 1491.5H1326.1M1322.3 1478.7V1496.4" stroke="#000030" stroke-opacity=".6" stroke-width="7.4" fill="none"/><path d="M966.0 896.5H991.6M978.8 888.6V909.3M994.7 896.5H1020.3M1007.5 888.6V909.3M1023.3 896.5H1048.9M1036.1 888.6V909.3M1051.9 896.5H1077.5M1064.7 888.6V909.3M1080.5 896.5H1106.1M1093.3 888.6V909.3M1109.1 896.5H1134.7M1121.9 888.6V909.3M1137.8 896.5H1163.4M1150.6 888.6V909.3M1166.4 896.5H1192.0M1179.2 888.6V909.3M1195.0 896.5H1220.6M1207.8 888.6V909.3M1223.6 896.5H1249.2M1236.4 888.6V909.3M1252.2 896.5H1277.8M1265.0 888.6V909.3M1280.9 896.5H1306.5M1293.7 888.6V909.3M1309.5 896.5H1326.1M1322.3 888.6V909.3M1080.5 926.2H1106.1M1093.3 913.5V939.0M1109.1 926.2H1134.7M1121.9 913.5V939.0M1137.8 926.2H1163.4M1150.6 913.5V939.0M1166.4 926.2H1192.0M1179.2 913.5V939.0M1195.0 926.2H1220.6M1207.8 913.5V939.0M1223.6 926.2H1249.2M1236.4 913.5V939.0M1252.2 926.2H1277.8M1265.0 913.5V939.0M1280.9 926.2H1306.5M1293.7 913.5V939.0M1309.5 926.2H1326.1M1322.3 913.5V939.0M1137.8 956.0H1163.4M1150.6 943.2V968.8M1166.4 956.0H1192.0M1179.2 943.2V968.8M1195.0 956.0H1220.6M1207.8 943.2V968.8M1223.6 956.0H1249.2M1236.4 943.2V968.8M1252.2 956.0H1277.8M1265.0 943.2V968.8M1280.9 956.0H1306.5M1293.7 943.2V968.8M1309.5 956.0H1326.1M1322.3 943.2V968.8M1166.4 985.8H1192.0M1179.2 973.0V998.5M1195.0 985.8H1220.6M1207.8 973.0V998.5M1223.6 985.8H1249.2M1236.4 973.0V998.5M1252.2 985.8H1277.8M1265.0 973.0V998.5M1280.9 985.8H1306.5M1293.7 973.0V998.5M1309.5 985.8H1326.1M1322.3 973.0V998.5M1195.0 1015.5H1220.6M1207.8 1002.7V1028.3M1223.6 1015.5H1249.2M1236.4 1002.7V1028.3M1252.2 1015.5H1277.8M1265.0 1002.7V1028.3M1280.9 1015.5H1306.5M1293.7 1002.7V1028.3M1309.5 1015.5H1326.1M1322.3 1002.7V1028.3M1223.6 1045.2H1249.2M1236.4 1032.5V1058.0M1252.2 1045.2H1277.8M1265.0 1032.5V1058.0M1280.9 1045.2H1306.5M1293.7 1032.5V1058.0M1309.5 1045.2H1326.1M1322.3 1032.5V1058.0M1223.6 1075.0H1249.2M1236.4 1062.2V1087.8M1252.2 1075.0H1277.8M1265.0 1062.2V1087.8M1280.9 1075.0H1306.5M1293.7 1062.2V1087.8M1309.5 1075.0H1326.1M1322.3 1062.2V1087.8M1252.2 1104.8H1277.8M1265.0 1092.0V1117.5M1280.9 1104.8H1306.5M1293.7 1092.0V1117.5M1309.5 1104.8H1326.1M1322.3 1092.0V1117.5M1252.2 1134.5H1277.8M1265.0 1121.7V1147.3M1280.9 1134.5H1306.5M1293.7 1121.7V1147.3M1309.5 1134.5H1326.1M1322.3 1121.7V1147.3M1252.2 1164.2H1277.8M1265.0 1151.5V1177.0M1280.9 1164.2H1306.5M1293.7 1151.5V1177.0M1309.5 1164.2H1326.1M1322.3 1151.5V1177.0M1252.2 1194.0H1277.8M1265.0 1181.2V1206.8M1280.9 1194.0H1306.5M1293.7 1181.2V1206.8M1309.5 1194.0H1326.1M1322.3 1181.2V1206.8M1252.2 1223.8H1277.8M1265.0 1211.0V1236.5M1280.9 1223.8H1306.5M1293.7 1211.0V1236.5M1309.5 1223.8H1326.1M1322.3 1211.0V1236.5M1252.2 1253.5H1277.8M1265.0 1240.7V1266.3M1280.9 1253.5H1306.5M1293.7 1240.7V1266.3M1309.5 1253.5H1326.1M1322.3 1240.7V1266.3M1252.2 1283.2H1277.8M1265.0 1270.5V1296.0M1280.9 1283.2H1306.5M1293.7 1270.5V1296.0M1309.5 1283.2H1326.1M1322.3 1270.5V1296.0M1223.6 1313.0H1249.2M1236.4 1300.2V1325.8M1252.2 1313.0H1277.8M1265.0 1300.2V1325.8M1280.9 1313.0H1306.5M1293.7 1300.2V1325.8M1309.5 1313.0H1326.1M1322.3 1300.2V1325.8M1223.6 1342.8H1249.2M1236.4 1330.0V1355.5M1252.2 1342.8H1277.8M1265.0 1330.0V1355.5M1280.9 1342.8H1306.5M1293.7 1330.0V1355.5M1309.5 1342.8H1326.1M1322.3 1330.0V1355.5M1195.0 1372.5H1220.6M1207.8 1359.7V1385.3M1223.6 1372.5H1249.2M1236.4 1359.7V1385.3M1252.2 1372.5H1277.8M1265.0 1359.7V1385.3M1280.9 1372.5H1306.5M1293.7 1359.7V1385.3M1309.5 1372.5H1326.1M1322.3 1359.7V1385.3M1166.4 1402.2H1192.0M1179.2 1389.5V1415.0M1195.0 1402.2H1220.6M1207.8 1389.5V1415.0M1223.6 1402.2H1249.2M1236.4 1389.5V1415.0M1252.2 1402.2H1277.8M1265.0 1389.5V1415.0M1280.9 1402.2H1306.5M1293.7 1389.5V1415.0M1309.5 1402.2H1326.1M1322.3 1389.5V1415.0M1137.8 1432.0H1163.4M1150.6 1419.2V1444.8M1166.4 1432.0H1192.0M1179.2 1419.2V1444.8M1195.0 1432.0H1220.6M1207.8 1419.2V1444.8M1223.6 1432.0H1249.2M1236.4 1419.2V1444.8M1252.2 1432.0H1277.8M1265.0 1419.2V1444.8M1280.9 1432.0H1306.5M1293.7 1419.2V1444.8M1309.5 1432.0H1326.1M1322.3 1419.2V1444.8M1080.5 1461.8H1106.1M1093.3 1449.0V1474.5M1109.1 1461.8H1134.7M1121.9 1449.0V1474.5M1137.8 1461.8H1163.4M1150.6 1449.0V1474.5M1166.4 1461.8H1192.0M1179.2 1449.0V1474.5M1195.0 1461.8H1220.6M1207.8 1449.0V1474.5M1223.6 1461.8H1249.2M1236.4 1449.0V1474.5M1252.2 1461.8H1277.8M1265.0 1449.0V1474.5M1280.9 1461.8H1306.5M1293.7 1449.0V1474.5M1309.5 1461.8H1326.1M1322.3 1449.0V1474.5M966.0 1491.5H991.6M978.8 1478.7V1496.4M994.7 1491.5H1020.3M1007.5 1478.7V1496.4M1023.3 1491.5H1048.9M1036.1 1478.7V1496.4M1051.9 1491.5H1077.5M1064.7 1478.7V1496.4M1080.5 1491.5H1106.1M1093.3 1478.7V1496.4M1109.1 1491.5H1134.7M1121.9 1478.7V1496.4M1137.8 1491.5H1163.4M1150.6 1478.7V1496.4M1166.4 1491.5H1192.0M1179.2 1478.7V1496.4M1195.0 1491.5H1220.6M1207.8 1478.7V1496.4M1223.6 1491.5H1249.2M1236.4 1478.7V1496.4M1252.2 1491.5H1277.8M1265.0 1478.7V1496.4M1280.9 1491.5H1306.5M1293.7 1478.7V1496.4M1309.5 1491.5H1326.1M1322.3 1478.7V1496.4" stroke="#fff" stroke-width="4.3" fill="none"/></g>
<ellipse cx="972.3" cy="347.0" rx="30.8" ry="32.6" fill="none" stroke="#fff" stroke-width="7.6" stroke-dasharray="27 12.4" stroke-dashoffset="21.5"/>
<polygon points="1010.8,490.3 980.7,388.8 972.9,400.5 978.4,364.5 1002.6,391.7 989.7,386.2 1019.8,487.7" fill="#fff"/>
<text x="971.0" y="547.4" font-size="51.0" font-family='"Liberation Sans",sans-serif' text-anchor="start" fill="#fff" font-weight="bold">PEH</text>
<ellipse cx="946.1" cy="1194.6" rx="30.0" ry="33.5" fill="none" stroke="#fff" stroke-width="7.6" stroke-dasharray="27 12.4" stroke-dashoffset="21.5"/>
<polygon points="999.0,1350.2 953.8,1240.0 947.2,1252.4 949.0,1216.0 975.9,1240.7 962.5,1236.4 1007.6,1346.6" fill="#fff"/>
<text x="990.5" y="1406.4" font-size="51.0" font-family='"Liberation Sans",sans-serif' text-anchor="start" fill="#fff" font-weight="bold">PEH</text>
<circle cx="972.3" cy="347.3" r="4.4" fill="none" stroke="#3a2000" stroke-width="1.8"/>
<circle cx="944.7" cy="1194.3" r="6.5" fill="#3a0000"/>
<defs><linearGradient id="cb1" x1="0" x2="1" y1="0" y2="0"><stop offset="0.0000" stop-color="#000080"/><stop offset="0.0625" stop-color="#0000bf"/><stop offset="0.1250" stop-color="#0000ff"/><stop offset="0.1875" stop-color="#0040ff"/><stop offset="0.2500" stop-color="#0080ff"/><stop offset="0.3125" stop-color="#00bfff"/><stop offset="0.3750" stop-color="#00ffff"/><stop offset="0.4375" stop-color="#40ffbf"/><stop offset="0.5000" stop-color="#80ff80"/><stop offset="0.5625" stop-color="#bfff40"/><stop offset="0.6250" stop-color="#ffff00"/><stop offset="0.6875" stop-color="#ffbf00"/><stop offset="0.7500" stop-color="#ff8000"/><stop offset="0.8125" stop-color="#ff4000"/><stop offset="0.8750" stop-color="#ff0000"/><stop offset="0.9375" stop-color="#bf0000"/><stop offset="1.0000" stop-color="#800000"/></linearGradient></defs>
<rect x="336.6" y="778.1" width="883.0" height="25.4" fill="url(#cb1)" stroke="#001" stroke-opacity=".55" stroke-width="1.5"/>
<path d="M483.8 778.1v5M483.8 803.5v-5M630.9 778.1v5M630.9 803.5v-5M778.1 778.1v5M778.1 803.5v-5M925.3 778.1v5M925.3 803.5v-5M1072.4 778.1v5M1072.4 803.5v-5" stroke="#000" stroke-opacity=".6" stroke-width="1.6"/>
<defs><linearGradient id="cb2" x1="0" x2="1" y1="0" y2="0"><stop offset="0.0000" stop-color="#000080"/><stop offset="0.0625" stop-color="#0000bf"/><stop offset="0.1250" stop-color="#0000ff"/><stop offset="0.1875" stop-color="#0040ff"/><stop offset="0.2500" stop-color="#0080ff"/><stop offset="0.3125" stop-color="#00bfff"/><stop offset="0.3750" stop-color="#00ffff"/><stop offset="0.4375" stop-color="#40ffbf"/><stop offset="0.5000" stop-color="#80ff80"/><stop offset="0.5625" stop-color="#bfff40"/><stop offset="0.6250" stop-color="#ffff00"/><stop offset="0.6875" stop-color="#ffbf00"/><stop offset="0.7500" stop-color="#ff8000"/><stop offset="0.8125" stop-color="#ff4000"/><stop offset="0.8750" stop-color="#ff0000"/><stop offset="0.9375" stop-color="#bf0000"/><stop offset="1.0000" stop-color="#800000"/></linearGradient></defs>
<rect x="333.8" y="1619.0" width="883.0" height="24.6" fill="url(#cb2)" stroke="#001" stroke-opacity=".55" stroke-width="1.5"/>
<path d="M481.0 1619.0v5M481.0 1643.6v-5M628.1 1619.0v5M628.1 1643.6v-5M775.3 1619.0v5M775.3 1643.6v-5M922.5 1619.0v5M922.5 1643.6v-5M1069.6 1619.0v5M1069.6 1643.6v-5" stroke="#000" stroke-opacity=".6" stroke-width="1.6"/>
<text x="46.5" y="85.5" font-size="65.0" font-family='"Liberation Sans",sans-serif' text-anchor="start" fill="#0a0a0a" >(a)</text>
<text x="1405.0" y="69.0" font-size="65.0" font-family='"Liberation Sans",sans-serif' text-anchor="start" fill="#0a0a0a" >(b)</text>
<text x="50.0" y="944.5" font-size="65.0" font-family='"Liberation Sans",sans-serif' text-anchor="start" fill="#0a0a0a" >(c)</text>
<text x="1399.5" y="937.5" font-size="65.0" font-family='"Liberation Sans",sans-serif' text-anchor="start" fill="#0a0a0a" >(d)</text>
<text x="115.0" y="1752.0" font-size="65.0" font-family='"Liberation Sans",sans-serif' text-anchor="start" fill="#0a0a0a" >(e)</text>
<text x="1302.5" y="1752.0" font-size="65.0" font-family='"Liberation Sans",sans-serif' text-anchor="start" fill="#0a0a0a" >(f)</text>
<text x="167.5" y="686.4" font-size="52.0" font-family='"Liberation Sans",sans-serif' text-anchor="middle" fill="#0d0d0d" >0</text>
<text x="910.0" y="685.5" font-size="52.0" font-family='"Liberation Sans",sans-serif' text-anchor="middle" fill="#0d0d0d" >0.53</text>
<text x="1342.7" y="685.5" font-size="52.0" font-family='"Liberation Sans",sans-serif' text-anchor="middle" fill="#0d0d0d" >0.83</text>
<text x="764.0" y="734.0" font-size="52.0" fill="#0d0d0d"><tspan font-family='"Liberation Serif",serif' font-style="italic" font-size="56.2">x</tspan><tspan font-family='"Liberation Sans",sans-serif' dx="18.7">[m]</tspan></text>
<text x="333.4" y="839.3" font-size="33.0" font-family='"Liberation Sans",sans-serif' text-anchor="middle" fill="#0d0d0d" >0</text>
<text x="587.0" y="854.0" font-size="34.8" font-family='"Liberation Sans",sans-serif' text-anchor="start" fill="#0d0d0d" >Absolute displacement [m]</text>
<text x="1166.0" y="844.5" font-size="34.5" font-family='"Liberation Sans",sans-serif' text-anchor="start" fill="#0d0d0d" >2×10<tspan font-size="24.0" dy="-15.0">−9</tspan></text>
<text x="158.0" y="1539.5" font-size="52.0" font-family='"Liberation Sans",sans-serif' text-anchor="middle" fill="#0d0d0d" >0</text>
<text x="903.7" y="1539.5" font-size="52.0" font-family='"Liberation Sans",sans-serif' text-anchor="middle" fill="#0d0d0d" >0.53</text>
<text x="1243.2" y="1539.5" font-size="52.0" font-family='"Liberation Sans",sans-serif' text-anchor="middle" fill="#0d0d0d" >0.76</text>
<text x="758.0" y="1587.2" font-size="52.0" fill="#0d0d0d"><tspan font-family='"Liberation Serif",serif' font-style="italic" font-size="56.2">x</tspan><tspan font-family='"Liberation Sans",sans-serif' dx="18.7">[m]</tspan></text>
<text x="330.5" y="1679.5" font-size="33.0" font-family='"Liberation Sans",sans-serif' text-anchor="middle" fill="#0d0d0d" >0</text>
<text x="584.8" y="1694.2" font-size="34.8" font-family='"Liberation Sans",sans-serif' text-anchor="start" fill="#0d0d0d" >Absolute displacement [m]</text>
<text x="1163.5" y="1685.5" font-size="34.5" font-family='"Liberation Sans",sans-serif' text-anchor="start" fill="#0d0d0d" >2×10<tspan font-size="24.0" dy="-15.0">−9</tspan></text>
<defs><linearGradient id="cyl" x1="0" x2="1" y1="0" y2="0"><stop offset="0" stop-color="#555"/><stop offset=".22" stop-color="#2e2e2e"/><stop offset=".6" stop-color="#b5b5b5"/><stop offset=".85" stop-color="#777"/><stop offset="1" stop-color="#555"/></linearGradient></defs>
<rect x="1568.6" y="80.5" width="731.8" height="617.9" fill="#fff" stroke="#222222" stroke-width="3.0"/>
<path d="M1804.9 698.4v-8.3M1804.9 80.5v8.3M2041.2 698.4v-8.3M2041.2 80.5v8.3M2277.5 698.4v-8.3M2277.5 80.5v8.3M1568.6 574.8h8.3M2300.4 574.8h-8.3M1568.6 451.2h8.3M2300.4 451.2h-8.3M1568.6 327.6h8.3M2300.4 327.6h-8.3M1568.6 204.0h8.3M2300.4 204.0h-8.3" stroke="#222222" stroke-width="3.0" fill="none"/>
<text x="1554.0" y="711.9" font-size="39.0" font-family='"Liberation Sans",sans-serif' text-anchor="end" fill="#222222" >0</text>
<text x="1554.0" y="588.3" font-size="39.0" font-family='"Liberation Sans",sans-serif' text-anchor="end" fill="#222222" >0.5</text>
<text x="1554.0" y="464.7" font-size="39.0" font-family='"Liberation Sans",sans-serif' text-anchor="end" fill="#222222" >1</text>
<text x="1554.0" y="341.1" font-size="39.0" font-family='"Liberation Sans",sans-serif' text-anchor="end" fill="#222222" >1.5</text>
<text x="1554.0" y="217.5" font-size="39.0" font-family='"Liberation Sans",sans-serif' text-anchor="end" fill="#222222" >2</text>
<text x="1554.0" y="93.9" font-size="39.0" font-family='"Liberation Sans",sans-serif' text-anchor="end" fill="#222222" >2.5</text>
<text x="1568.6" y="747.5" font-size="39.0" font-family='"Liberation Sans",sans-serif' text-anchor="middle" fill="#222222" >0.53</text>
<text x="1804.9" y="747.5" font-size="39.0" font-family='"Liberation Sans",sans-serif' text-anchor="middle" fill="#222222" >0.63</text>
<text x="2041.2" y="747.5" font-size="39.0" font-family='"Liberation Sans",sans-serif' text-anchor="middle" fill="#222222" >0.73</text>
<text x="2277.5" y="747.5" font-size="39.0" font-family='"Liberation Sans",sans-serif' text-anchor="middle" fill="#222222" >0.83</text>
<text x="1569" y="70.5" font-size="39" font-family='"Liberation Sans",sans-serif' fill="#222222"><tspan font-size="40" font-family='"DejaVu Sans Light","DejaVu Sans",sans-serif' dy="2">×</tspan><tspan dy="-2" dx="0">10</tspan><tspan font-size="27" dy="-18" dx="-2">−9</tspan></text>
<text x="0.0" y="0.0" font-size="43.6" font-family='"Liberation Sans",sans-serif' text-anchor="middle" fill="#222222" transform="translate(1489.5 390) rotate(-90)">Absolute displacement [m]</text>
<text x="1861.0" y="809.0" font-size="50.0" fill="#222222"><tspan font-family='"Liberation Serif",serif' font-style="italic" font-size="54.0">x</tspan><tspan font-family='"Liberation Sans",sans-serif' dx="18.0">[m]</tspan></text>
<path d="M1567.9 400.3C1568.5 403.9 1570.3 415.9 1571.8 422.1C1573.3 428.2 1574.8 435.3 1576.6 437.3C1578.4 439.3 1580.4 437.7 1582.7 434.1C1585.0 430.4 1587.6 422.6 1590.3 415.5C1593.1 408.4 1596.3 397.7 1599.0 391.6C1601.8 385.4 1604.0 381.7 1606.7 378.5C1609.4 375.2 1612.7 373.9 1615.4 371.9C1618.1 369.9 1620.1 369.8 1623.0 366.5C1625.9 363.2 1629.7 355.8 1632.8 352.3C1635.9 348.9 1639.0 346.7 1641.6 345.8C1644.1 344.9 1645.7 345.6 1648.1 346.9C1650.5 348.1 1653.5 351.1 1655.7 353.4C1657.9 355.7 1659.4 360.4 1661.2 360.6C1663.0 360.8 1664.8 357.9 1666.6 354.5C1668.4 351.1 1670.3 343.4 1672.1 340.3C1673.9 337.2 1675.7 336.3 1677.5 336.0C1679.3 335.6 1681.0 337.2 1683.0 338.1C1685.0 339.1 1686.6 341.0 1689.5 341.4C1692.4 341.9 1697.5 340.2 1700.4 340.8C1703.3 341.3 1704.0 341.9 1706.9 344.7C1709.9 347.5 1714.9 354.9 1717.8 357.8C1720.8 360.7 1721.8 360.7 1724.4 362.1C1726.9 363.6 1730.2 364.3 1733.1 366.5C1736.0 368.7 1738.6 371.4 1741.8 375.2C1745.1 379.0 1748.4 384.5 1752.7 389.4C1757.1 394.3 1762.5 398.6 1768.0 404.6C1773.4 410.6 1780.0 418.4 1785.4 425.3C1790.9 432.2 1797.0 441.5 1800.7 446.0C1804.3 450.6 1804.7 450.2 1807.2 452.6C1809.8 455.0 1813.0 456.9 1815.9 460.2C1818.8 463.5 1821.8 467.5 1824.7 472.2C1827.6 476.9 1830.8 484.7 1833.4 488.6C1835.9 492.4 1837.0 493.1 1839.9 495.1C1842.8 497.1 1847.9 498.2 1850.8 500.5C1853.7 502.9 1854.8 505.1 1857.4 509.3C1859.9 513.4 1863.5 522.0 1866.1 525.6C1868.6 529.2 1870.1 529.9 1872.6 531.1C1875.2 532.3 1878.8 531.5 1881.3 532.8C1883.9 534.1 1885.3 535.3 1887.9 538.7C1890.4 542.0 1894.1 549.6 1896.6 552.9C1899.1 556.1 1900.2 557.2 1903.1 558.3C1906.0 559.4 1911.1 558.7 1914.0 559.4C1916.9 560.1 1918.0 560.7 1920.6 562.7C1923.1 564.7 1926.7 569.3 1929.3 571.4C1931.8 573.5 1935.6 574.6 1935.8 575.1C1936.1 575.6 1929.9 574.0 1930.9 574.3C1931.9 574.5 1937.8 575.8 1941.8 576.9C1945.8 578.0 1950.5 579.9 1954.9 580.8C1959.2 581.7 1963.4 581.0 1968.0 582.3C1972.5 583.6 1978.5 587.8 1982.1 588.4C1985.8 589.1 1987.0 587.3 1989.8 586.2C1992.5 585.2 1995.6 582.1 1998.5 582.3C2001.4 582.5 2004.5 585.9 2007.2 587.3C2009.9 588.8 2012.1 591.4 2014.8 591.0C2017.5 590.7 2020.8 586.7 2023.5 585.1C2026.3 583.6 2028.4 581.4 2031.2 581.4C2033.9 581.4 2037.0 584.1 2039.9 585.1C2042.8 586.2 2045.0 588.3 2048.6 588.0C2052.2 587.6 2057.7 583.9 2061.7 583.0C2065.7 582.1 2068.6 582.8 2072.6 582.5C2076.6 582.3 2080.9 581.0 2085.7 581.7C2090.4 582.3 2096.9 586.4 2100.9 586.2C2104.9 586.1 2106.7 582.4 2109.6 580.8C2112.6 579.2 2115.5 576.2 2118.4 576.4C2121.3 576.6 2124.2 580.2 2127.1 581.9C2130.0 583.6 2132.9 586.5 2135.8 586.7C2138.7 586.9 2141.6 584.1 2144.5 583.0C2147.4 581.9 2150.0 580.3 2153.2 580.1C2156.5 580.0 2160.1 581.5 2164.1 581.9C2168.1 582.3 2172.9 581.6 2177.2 582.5C2181.6 583.5 2186.7 587.5 2190.3 587.8C2193.9 588.0 2195.9 585.3 2199.0 584.1C2202.1 582.8 2205.7 579.8 2208.8 580.1C2211.9 580.5 2214.6 584.5 2217.5 586.2C2220.5 588.0 2222.8 590.3 2226.3 590.6C2229.7 590.9 2234.1 587.9 2238.3 587.8C2242.4 587.6 2247.0 589.7 2251.3 589.5C2255.7 589.4 2260.8 586.5 2264.4 586.9C2268.0 587.3 2270.0 590.0 2273.1 591.7C2276.2 593.4 2280.0 596.6 2282.9 597.1C2285.8 597.7 2287.7 595.9 2290.6 595.0C2293.5 594.1 2298.7 592.2 2300.4 591.7" fill="none" stroke="#000" stroke-width="7.6" stroke-linejoin="round"/>
<path d="M1661.2 360.6C1662.1 359.6 1664.8 357.9 1666.6 354.5C1668.4 351.1 1671.2 342.7 1672.1 340.3" fill="none" stroke="#f00" stroke-width="7.6" stroke-linecap="butt"/>
<g><polygon points="1592.2,249.1 1702.2,313.1 1702.2,325.6 1592.2,261.6" fill="#6b6b6b"/><polygon points="1702.2,313.1 1814.2,249.1 1814.2,261.6 1702.2,325.6" fill="#9c9c9c"/><polygon points="1702.2,185.1 1814.2,249.1 1702.2,313.1 1592.2,249.1" fill="#ababab"/><ellipse cx="1701.4" cy="254.1" rx="42.0" ry="23.9" fill="none" stroke="#e8504a" stroke-width="2.6"/><path d="M1663.0 242.6v11.0a38.4 21.5 0 0 0 76.8 0v-11.0z" fill="url(#cyl)"/><ellipse cx="1701.4" cy="242.6" rx="38.4" ry="21.5" fill="#fff"/></g>
<rect x="1568.6" y="912.7" width="731.9" height="618.5" fill="#fff" stroke="#222222" stroke-width="3.0"/>
<path d="M1880.2 1531.2v-8.3M1880.2 912.7v8.3M2192.3 1531.2v-8.3M2192.3 912.7v8.3M1568.6 1408.6h8.3M2300.5 1408.6h-8.3M1568.6 1285.0h8.3M2300.5 1285.0h-8.3M1568.6 1159.8h8.3M2300.5 1159.8h-8.3M1568.6 1035.4h8.3M2300.5 1035.4h-8.3" stroke="#222222" stroke-width="3.0" fill="none"/>
<text x="1554.0" y="1545.0" font-size="39.0" font-family='"Liberation Sans",sans-serif' text-anchor="end" fill="#222222" >0</text>
<text x="1554.0" y="1422.4" font-size="39.0" font-family='"Liberation Sans",sans-serif' text-anchor="end" fill="#222222" >0.5</text>
<text x="1554.0" y="1298.8" font-size="39.0" font-family='"Liberation Sans",sans-serif' text-anchor="end" fill="#222222" >1</text>
<text x="1554.0" y="1173.6" font-size="39.0" font-family='"Liberation Sans",sans-serif' text-anchor="end" fill="#222222" >1.5</text>
<text x="1554.0" y="1049.2" font-size="39.0" font-family='"Liberation Sans",sans-serif' text-anchor="end" fill="#222222" >2</text>
<text x="1554.0" y="926.5" font-size="39.0" font-family='"Liberation Sans",sans-serif' text-anchor="end" fill="#222222" >2.5</text>
<text x="1568.6" y="1581.0" font-size="39.0" font-family='"Liberation Sans",sans-serif' text-anchor="middle" fill="#222222" >0.53</text>
<text x="1880.2" y="1581.0" font-size="39.0" font-family='"Liberation Sans",sans-serif' text-anchor="middle" fill="#222222" >0.63</text>
<text x="2192.3" y="1581.0" font-size="39.0" font-family='"Liberation Sans",sans-serif' text-anchor="middle" fill="#222222" >0.73</text>
<text x="1569" y="903.5" font-size="39" font-family='"Liberation Sans",sans-serif' fill="#222222"><tspan font-size="40" font-family='"DejaVu Sans Light","DejaVu Sans",sans-serif' dy="2">×</tspan><tspan dy="-2" dx="0">10</tspan><tspan font-size="27" dy="-18" dx="-2">−9</tspan></text>
<text x="0.0" y="0.0" font-size="43.6" font-family='"Liberation Sans",sans-serif' text-anchor="middle" fill="#222222" transform="translate(1484.5 1222.5) rotate(-90)">Absolute displacement [m]</text>
<text x="1864.0" y="1640.0" font-size="50.0" fill="#222222"><tspan font-family='"Liberation Serif",serif' font-style="italic" font-size="54.0">x</tspan><tspan font-family='"Liberation Sans",sans-serif' dx="18.0">[m]</tspan></text>
<clipPath id="cpd"><rect x="1565.6" y="912.7" width="734.9" height="618.5"/></clipPath>
<path d="M1568.6 1380.6C1569.5 1380.6 1569.8 1392.9 1570.7 1392.9C1578.6 1392.9 1581.7 1206.0 1589.6 1206.0C1596.7 1206.0 1599.4 1338.3 1606.5 1338.3C1617.7 1338.3 1622.0 1023.2 1633.2 1023.2C1643.5 1023.2 1647.5 1240.1 1657.8 1240.1C1665.9 1240.1 1669.0 1122.8 1677.1 1122.8C1686.4 1122.8 1690.0 1287.9 1699.2 1287.9C1709.0 1287.9 1712.7 1134.2 1722.4 1134.2C1729.7 1134.2 1732.4 1190.2 1739.6 1190.2C1748.6 1190.2 1752.0 1089.5 1760.9 1089.5C1770.9 1089.5 1774.7 1307.0 1784.7 1307.0C1794.5 1307.0 1798.3 1063.3 1808.1 1063.3C1818.7 1063.3 1822.7 1372.4 1833.2 1372.4C1840.9 1372.4 1843.8 1210.6 1851.5 1210.6C1860.4 1210.6 1863.8 1416.1 1872.8 1416.1C1881.1 1416.1 1884.3 1225.1 1892.7 1225.1C1900.6 1225.1 1903.6 1365.1 1911.5 1365.1C1920.7 1365.1 1924.2 1153.6 1933.4 1153.6C1942.6 1153.6 1946.2 1432.5 1955.5 1432.5C1963.8 1432.5 1967.0 1214.2 1975.4 1214.2C1984.6 1214.2 1988.0 1508.9 1997.2 1508.9C2005.8 1508.9 2009.1 1236.0 2017.7 1236.0C2027.1 1236.0 2030.7 1414.7 2040.1 1414.7C2046.1 1414.7 2048.4 1353.3 2054.5 1353.3C2062.2 1353.3 2065.1 1496.6 2072.8 1496.6C2081.6 1496.6 2085.0 1298.0 2093.8 1298.0C2101.9 1298.0 2105.0 1514.3 2113.2 1514.3C2121.8 1514.3 2125.0 1298.0 2133.6 1298.0C2141.5 1298.0 2144.6 1495.2 2152.5 1495.2C2161.4 1495.2 2164.8 1263.8 2173.8 1263.8C2182.1 1263.8 2185.3 1461.1 2193.7 1461.1C2202.2 1461.1 2205.4 1261.4 2213.9 1261.4C2223.0 1261.4 2226.5 1509.7 2235.7 1509.7C2243.8 1509.7 2246.9 1311.1 2255.1 1311.1C2263.1 1311.1 2266.1 1439.8 2274.2 1439.8C2282.2 1439.8 2285.2 1328.8 2293.3 1328.8C2296.9 1328.8 2298.3 1341.1 2302.0 1341.1" fill="none" stroke="#000" stroke-width="7.7" stroke-linejoin="round" clip-path="url(#cpd)"/>
<clipPath id="cpr"><polygon points="1615,1000 1650,1000 1650,1071 1632,1073 1632,1088 1615,1090"/></clipPath>
<path d="M1606.5 1338.3C1617.7 1338.3 1622.0 1023.2 1633.2 1023.2C1643.5 1023.2 1647.5 1240.1 1657.8 1240.1" fill="none" stroke="#f00" stroke-width="7.7" clip-path="url(#cpr)"/>
<g><polygon points="1592.8,1413.2 1702.8,1477.2 1702.8,1489.7 1592.8,1425.7" fill="#6b6b6b"/><polygon points="1702.8,1477.2 1814.8,1413.2 1814.8,1425.7 1702.8,1489.7" fill="#9c9c9c"/><polygon points="1702.8,1349.2 1814.8,1413.2 1702.8,1477.2 1592.8,1413.2" fill="#ababab"/><ellipse cx="1702.0" cy="1418.2" rx="42.0" ry="23.9" fill="none" stroke="#e8504a" stroke-width="2.6"/><path d="M1663.6 1406.7v11.0a38.4 21.5 0 0 0 76.8 0v-11.0z" fill="url(#cyl)"/><ellipse cx="1702.0" cy="1406.7" rx="38.4" ry="21.5" fill="#fff"/></g>
<rect x="298.6" y="1780.5" width="843.6" height="725.5" fill="#fff" stroke="#222222" stroke-width="3.0"/>
<path d="M624.9 2506.0v-8.3M624.9 1780.5v8.3M815.9 2506.0v-8.3M815.9 1780.5v8.3M951.3 2506.0v-8.3M951.3 1780.5v8.3M1056.4 2506.0v-8.3M1056.4 1780.5v8.3M298.6 2360.9h8.3M1142.2 2360.9h-8.3M298.6 2215.8h8.3M1142.2 2215.8h-8.3M298.6 2070.7h8.3M1142.2 2070.7h-8.3M298.6 1925.6h8.3M1142.2 1925.6h-8.3" stroke="#222222" stroke-width="3.0" fill="none"/>
<text x="282.0" y="2522.8" font-size="47.0" font-family='"Liberation Sans",sans-serif' text-anchor="end" fill="#222222" >0</text>
<text x="282.0" y="2377.7" font-size="47.0" font-family='"Liberation Sans",sans-serif' text-anchor="end" fill="#222222" >5</text>
<text x="282.0" y="2232.6" font-size="47.0" font-family='"Liberation Sans",sans-serif' text-anchor="end" fill="#222222" >10</text>
<text x="282.0" y="2087.5" font-size="47.0" font-family='"Liberation Sans",sans-serif' text-anchor="end" fill="#222222" >15</text>
<text x="282.0" y="1942.4" font-size="47.0" font-family='"Liberation Sans",sans-serif' text-anchor="end" fill="#222222" >20</text>
<text x="282.0" y="1797.3" font-size="47.0" font-family='"Liberation Sans",sans-serif' text-anchor="end" fill="#222222" >25</text>
<text x="298.6" y="2579.0" font-size="47.0" font-family='"Liberation Sans",sans-serif' text-anchor="middle" fill="#222222" >10<tspan font-size="35.5" dy="-23.0">1</tspan></text>
<text x="624.9" y="2579.0" font-size="47.0" font-family='"Liberation Sans",sans-serif' text-anchor="middle" fill="#222222" >10<tspan font-size="35.5" dy="-23.0">2</tspan></text>
<text x="815.9" y="2579.0" font-size="47.0" font-family='"Liberation Sans",sans-serif' text-anchor="middle" fill="#222222" >10<tspan font-size="35.5" dy="-23.0">3</tspan></text>
<text x="951.3" y="2579.0" font-size="47.0" font-family='"Liberation Sans",sans-serif' text-anchor="middle" fill="#222222" >10<tspan font-size="35.5" dy="-23.0">4</tspan></text>
<text x="1056.4" y="2579.0" font-size="47.0" font-family='"Liberation Sans",sans-serif' text-anchor="middle" fill="#222222" >10<tspan font-size="35.5" dy="-23.0">5</tspan></text>
<text x="1140.2" y="2579.0" font-size="47.0" font-family='"Liberation Sans",sans-serif' text-anchor="middle" fill="#222222" >10<tspan font-size="35.5" dy="-23.0">6</tspan></text>
<text x="0.0" y="0.0" font-size="52.6" font-family='"Liberation Sans",sans-serif' text-anchor="middle" fill="#222222" transform="translate(211 2144) rotate(-90)">Voltage [mV]</text>
<text x="719.5" y="2642" font-size="52.6" font-family='"Liberation Sans",sans-serif' fill="#222222" text-anchor="middle">Resistance [<tspan font-family='"Liberation Serif",serif'>Ω</tspan>]</text>
<g><path d="M298.6 2502.2L343.5 2501.2L384.4 2499.9L422.1 2498.3L457.0 2496.4L489.5 2493.9L519.9 2490.7L548.4 2486.8L575.3 2481.8L600.8 2475.5L624.9 2467.7L647.9 2457.8L669.8 2445.4L690.8 2429.8L710.8 2410.5L730.0 2386.4L748.5 2356.7L766.2 2320.5L783.4 2277.2L799.9 2226.7L815.9 2169.9L831.3 2109.1L846.2 2048.1L860.7 1991.2L874.8 1942.1L888.4 1902.8L901.7 1873.3L914.6 1852.3L927.1 1837.9L939.4 1828.3L951.3 1822.1L962.9 1818.0L974.3 1815.5L985.3 1813.8L996.2 1812.8L1006.8 1812.1L1017.1 1811.7L1027.2 1811.4L1037.1 1811.3L1046.8 1811.2L1056.4 1811.1L1065.7 1811.0L1074.8 1811.0L1083.8 1811.0L1092.6 1811.0L1101.2 1811.0L1109.7 1811.0L1118.0 1811.0L1126.2 1811.0L1134.3 1811.0L1142.2 1811.0" fill="none" stroke="#fd6f6f" stroke-width="7.0" stroke-linejoin="round"/><path d="M298.6 2502.2h.01M343.5 2501.2h.01M384.4 2499.9h.01M422.1 2498.3h.01M457.0 2496.4h.01M489.5 2493.9h.01M519.9 2490.7h.01M548.4 2486.8h.01M575.3 2481.8h.01M600.8 2475.5h.01M624.9 2467.7h.01M647.9 2457.8h.01M669.8 2445.4h.01M690.8 2429.8h.01M710.8 2410.5h.01M730.0 2386.4h.01M748.5 2356.7h.01M766.2 2320.5h.01M783.4 2277.2h.01M799.9 2226.7h.01M815.9 2169.9h.01M831.3 2109.1h.01M846.2 2048.1h.01M860.7 1991.2h.01M874.8 1942.1h.01M888.4 1902.8h.01M901.7 1873.3h.01M914.6 1852.3h.01M927.1 1837.9h.01M939.4 1828.3h.01M951.3 1822.1h.01M962.9 1818.0h.01M974.3 1815.5h.01M985.3 1813.8h.01M996.2 1812.8h.01M1006.8 1812.1h.01M1017.1 1811.7h.01M1027.2 1811.4h.01M1037.1 1811.3h.01M1046.8 1811.2h.01M1056.4 1811.1h.01M1065.7 1811.0h.01M1074.8 1811.0h.01M1083.8 1811.0h.01M1092.6 1811.0h.01M1101.2 1811.0h.01M1109.7 1811.0h.01M1118.0 1811.0h.01M1126.2 1811.0h.01M1134.3 1811.0h.01M1142.2 1811.0h.01" fill="none" stroke="#fd6f6f" stroke-width="22.0" stroke-linecap="round" stroke-dasharray="0 10000"/></g>
<g><path d="M298.6 2503.5L343.5 2502.8L384.4 2502.0L422.1 2500.9L457.0 2499.6L489.5 2497.9L519.9 2495.9L548.4 2493.2L575.3 2489.9L600.8 2485.8L624.9 2480.5L647.9 2474.0L669.8 2465.8L690.8 2455.4L710.8 2442.6L730.0 2426.6L748.5 2406.9L766.2 2382.9L783.4 2354.1L799.9 2320.6L815.9 2282.9L831.3 2242.5L846.2 2202.0L860.7 2164.2L874.8 2131.6L888.4 2105.5L901.7 2086.0L914.6 2072.0L927.1 2062.5L939.4 2056.1L951.3 2052.0L962.9 2049.3L974.3 2047.6L985.3 2046.5L996.2 2045.8L1006.8 2045.3L1017.1 2045.1L1027.2 2044.9L1037.1 2044.8L1046.8 2044.7L1056.4 2044.7L1065.7 2044.6L1074.8 2044.6L1083.8 2044.6L1092.6 2044.6L1101.2 2044.6L1109.7 2044.6L1118.0 2044.6L1126.2 2044.6L1134.3 2044.6L1142.2 2044.6" fill="none" stroke="#ffc24a" stroke-width="7.0" stroke-linejoin="round"/><path d="M298.6 2503.5h.01M343.5 2502.8h.01M384.4 2502.0h.01M422.1 2500.9h.01M457.0 2499.6h.01M489.5 2497.9h.01M519.9 2495.9h.01M548.4 2493.2h.01M575.3 2489.9h.01M600.8 2485.8h.01M624.9 2480.5h.01M647.9 2474.0h.01M669.8 2465.8h.01M690.8 2455.4h.01M710.8 2442.6h.01M730.0 2426.6h.01M748.5 2406.9h.01M766.2 2382.9h.01M783.4 2354.1h.01M799.9 2320.6h.01M815.9 2282.9h.01M831.3 2242.5h.01M846.2 2202.0h.01M860.7 2164.2h.01M874.8 2131.6h.01M888.4 2105.5h.01M901.7 2086.0h.01M914.6 2072.0h.01M927.1 2062.5h.01M939.4 2056.1h.01M951.3 2052.0h.01M962.9 2049.3h.01M974.3 2047.6h.01M985.3 2046.5h.01M996.2 2045.8h.01M1006.8 2045.3h.01M1017.1 2045.1h.01M1027.2 2044.9h.01M1037.1 2044.8h.01M1046.8 2044.7h.01M1056.4 2044.7h.01M1065.7 2044.6h.01M1074.8 2044.6h.01M1083.8 2044.6h.01M1092.6 2044.6h.01M1101.2 2044.6h.01M1109.7 2044.6h.01M1118.0 2044.6h.01M1126.2 2044.6h.01M1134.3 2044.6h.01M1142.2 2044.6h.01" fill="none" stroke="#ffc24a" stroke-width="22.0" stroke-linecap="round" stroke-dasharray="0 10000"/></g>
<g><path d="M298.6 2505.5L343.5 2505.4L384.4 2505.2L422.1 2505.0L457.0 2504.8L489.5 2504.5L519.9 2504.1L548.4 2503.6L575.3 2503.0L600.8 2502.2L624.9 2501.2L647.9 2500.0L669.8 2498.4L690.8 2496.5L710.8 2494.0L730.0 2491.0L748.5 2487.3L766.2 2482.8L783.4 2477.3L799.9 2471.0L815.9 2463.9L831.3 2456.3L846.2 2448.6L860.7 2441.5L874.8 2435.4L888.4 2430.4L901.7 2426.7L914.6 2424.1L927.1 2422.3L939.4 2421.1L951.3 2420.3L962.9 2419.8L974.3 2419.5L985.3 2419.3L996.2 2419.2L1006.8 2419.1L1017.1 2419.0L1027.2 2419.0L1037.1 2419.0L1046.8 2419.0L1056.4 2419.0L1065.7 2418.9L1074.8 2418.9L1083.8 2418.9L1092.6 2418.9L1101.2 2418.9L1109.7 2418.9L1118.0 2418.9L1126.2 2418.9L1134.3 2418.9L1142.2 2418.9" fill="none" stroke="#000" stroke-width="7.0" stroke-linejoin="round"/><path d="M298.6 2505.5h.01M343.5 2505.4h.01M384.4 2505.2h.01M422.1 2505.0h.01M457.0 2504.8h.01M489.5 2504.5h.01M519.9 2504.1h.01M548.4 2503.6h.01M575.3 2503.0h.01M600.8 2502.2h.01M624.9 2501.2h.01M647.9 2500.0h.01M669.8 2498.4h.01M690.8 2496.5h.01M710.8 2494.0h.01M730.0 2491.0h.01M748.5 2487.3h.01M766.2 2482.8h.01M783.4 2477.3h.01M799.9 2471.0h.01M815.9 2463.9h.01M831.3 2456.3h.01M846.2 2448.6h.01M860.7 2441.5h.01M874.8 2435.4h.01M888.4 2430.4h.01M901.7 2426.7h.01M914.6 2424.1h.01M927.1 2422.3h.01M939.4 2421.1h.01M951.3 2420.3h.01M962.9 2419.8h.01M974.3 2419.5h.01M985.3 2419.3h.01M996.2 2419.2h.01M1006.8 2419.1h.01M1017.1 2419.0h.01M1027.2 2419.0h.01M1037.1 2419.0h.01M1046.8 2419.0h.01M1056.4 2419.0h.01M1065.7 2418.9h.01M1074.8 2418.9h.01M1083.8 2418.9h.01M1092.6 2418.9h.01M1101.2 2418.9h.01M1109.7 2418.9h.01M1118.0 2418.9h.01M1126.2 2418.9h.01M1134.3 2418.9h.01M1142.2 2418.9h.01" fill="none" stroke="#000" stroke-width="22.0" stroke-linecap="round" stroke-dasharray="0 10000"/></g>
<rect x="317.7" y="1803.0" width="309.0" height="155.3" fill="#fff" stroke="#222222" stroke-width="3.1"/>
<path d="M325.9 1830.1H403.0" stroke="#fd6f6f" stroke-width="8"/>
<circle cx="363.8" cy="1830.1" r="11.3" fill="#fd6f6f"/>
<text x="410.5" y="1845.1" font-size="42.0" font-family='"Liberation Sans",sans-serif' text-anchor="start" fill="#111" >GRIN-EBM</text>
<path d="M325.9 1879.8H403.0" stroke="#ffc24a" stroke-width="8"/>
<circle cx="363.8" cy="1879.8" r="11.3" fill="#ffc24a"/>
<text x="410.5" y="1894.8" font-size="42.0" font-family='"Liberation Sans",sans-serif' text-anchor="start" fill="#111" >GRIN</text>
<path d="M325.9 1930.5H403.0" stroke="#000" stroke-width="8"/>
<circle cx="363.8" cy="1930.5" r="11.3" fill="#000"/>
<text x="410.5" y="1945.5" font-size="42.0" font-family='"Liberation Sans",sans-serif' text-anchor="start" fill="#111" >Bare</text>
<rect x="1443.6" y="1785.7" width="868.9" height="719.8" fill="#fff" stroke="#222222" stroke-width="3.0"/>
<path d="M1779.7 2505.5v-8.3M1779.7 1785.7v8.3M1976.4 2505.5v-8.3M1976.4 1785.7v8.3M2115.9 2505.5v-8.3M2115.9 1785.7v8.3M2224.1 2505.5v-8.3M2224.1 1785.7v8.3M1443.6 2293.9h8.3M2312.5 2293.9h-8.3M1443.6 2082.3h8.3M2312.5 2082.3h-8.3M1443.6 1870.7h8.3M2312.5 1870.7h-8.3" stroke="#222222" stroke-width="3.0" fill="none"/>
<text x="1428.0" y="2522.0" font-size="47.0" font-family='"Liberation Sans",sans-serif' text-anchor="end" fill="#222222" >0</text>
<text x="1428.0" y="2310.4" font-size="47.0" font-family='"Liberation Sans",sans-serif' text-anchor="end" fill="#222222" >0.5</text>
<text x="1428.0" y="2098.8" font-size="47.0" font-family='"Liberation Sans",sans-serif' text-anchor="end" fill="#222222" >1</text>
<text x="1428.0" y="1887.2" font-size="47.0" font-family='"Liberation Sans",sans-serif' text-anchor="end" fill="#222222" >1.5</text>
<text x="1443.6" y="2579.0" font-size="47.0" font-family='"Liberation Sans",sans-serif' text-anchor="middle" fill="#222222" >10<tspan font-size="35.5" dy="-23.0">1</tspan></text>
<text x="1779.7" y="2579.0" font-size="47.0" font-family='"Liberation Sans",sans-serif' text-anchor="middle" fill="#222222" >10<tspan font-size="35.5" dy="-23.0">2</tspan></text>
<text x="1976.4" y="2579.0" font-size="47.0" font-family='"Liberation Sans",sans-serif' text-anchor="middle" fill="#222222" >10<tspan font-size="35.5" dy="-23.0">3</tspan></text>
<text x="2115.9" y="2579.0" font-size="47.0" font-family='"Liberation Sans",sans-serif' text-anchor="middle" fill="#222222" >10<tspan font-size="35.5" dy="-23.0">4</tspan></text>
<text x="2224.1" y="2579.0" font-size="47.0" font-family='"Liberation Sans",sans-serif' text-anchor="middle" fill="#222222" >10<tspan font-size="35.5" dy="-23.0">5</tspan></text>
<text x="2310.5" y="2579.0" font-size="47.0" font-family='"Liberation Sans",sans-serif' text-anchor="middle" fill="#222222" >10<tspan font-size="35.5" dy="-23.0">6</tspan></text>
<text x="0.0" y="0.0" font-size="51.5" font-family='"Liberation Sans",sans-serif' text-anchor="middle" fill="#222222" transform="translate(1344.5 2144) rotate(-90)">Power [mW]</text>
<text x="1877" y="2643" font-size="52.6" font-family='"Liberation Sans",sans-serif' fill="#222222" text-anchor="middle">Resistance [<tspan font-family='"Liberation Serif",serif'>Ω</tspan>]</text>
<text x="1448" y="1773.5" font-size="47" font-family='"Liberation Sans",sans-serif' fill="#222222"><tspan font-size="46" font-family='"DejaVu Sans Light","DejaVu Sans",sans-serif' dy="3">×</tspan><tspan dx="9" dy="-3">10</tspan><tspan font-size="32" dy="-24" dx="-4">−7</tspan></text>
<g><path d="M1443.6 2498.0L1489.8 2496.1L1532.0 2493.7L1570.8 2490.6L1606.8 2486.7L1640.2 2481.9L1671.5 2475.8L1700.9 2468.1L1728.6 2458.4L1754.9 2446.3L1779.7 2431.0L1803.4 2411.9L1826.0 2388.0L1847.5 2358.2L1868.2 2321.4L1887.9 2276.4L1907.0 2222.2L1925.3 2158.5L1942.9 2086.7L1959.9 2010.6L1976.4 1937.7L1992.3 1878.8L2007.7 1845.4L2022.6 1845.5L2037.1 1878.9L2051.1 1937.8L2064.8 2010.7L2078.1 2086.8L2091.0 2158.6L2103.6 2222.2L2115.9 2276.5L2127.8 2321.5L2139.5 2358.3L2150.9 2388.0L2162.1 2411.9L2173.0 2431.0L2183.6 2446.3L2194.1 2458.4L2204.3 2468.1L2214.3 2475.8L2224.1 2481.9L2233.7 2486.7L2243.1 2490.6L2252.3 2493.7L2261.4 2496.1L2270.3 2498.0L2279.0 2499.6L2287.6 2500.8L2296.1 2501.8L2304.3 2502.5L2312.5 2503.1" fill="none" stroke="#fd6f6f" stroke-width="7.0" stroke-linejoin="round"/><path d="M1443.6 2498.0h.01M1489.8 2496.1h.01M1532.0 2493.7h.01M1570.8 2490.6h.01M1606.8 2486.7h.01M1640.2 2481.9h.01M1671.5 2475.8h.01M1700.9 2468.1h.01M1728.6 2458.4h.01M1754.9 2446.3h.01M1779.7 2431.0h.01M1803.4 2411.9h.01M1826.0 2388.0h.01M1847.5 2358.2h.01M1868.2 2321.4h.01M1887.9 2276.4h.01M1907.0 2222.2h.01M1925.3 2158.5h.01M1942.9 2086.7h.01M1959.9 2010.6h.01M1976.4 1937.7h.01M1992.3 1878.8h.01M2007.7 1845.4h.01M2022.6 1845.5h.01M2037.1 1878.9h.01M2051.1 1937.8h.01M2064.8 2010.7h.01M2078.1 2086.8h.01M2091.0 2158.6h.01M2103.6 2222.2h.01M2115.9 2276.5h.01M2127.8 2321.5h.01M2139.5 2358.3h.01M2150.9 2388.0h.01M2162.1 2411.9h.01M2173.0 2431.0h.01M2183.6 2446.3h.01M2194.1 2458.4h.01M2204.3 2468.1h.01M2214.3 2475.8h.01M2224.1 2481.9h.01M2233.7 2486.7h.01M2243.1 2490.6h.01M2252.3 2493.7h.01M2261.4 2496.1h.01M2270.3 2498.0h.01M2279.0 2499.6h.01M2287.6 2500.8h.01M2296.1 2501.8h.01M2304.3 2502.5h.01M2312.5 2503.1h.01" fill="none" stroke="#fd6f6f" stroke-width="22.0" stroke-linecap="round" stroke-dasharray="0 10000"/></g>
<g><path d="M1443.6 2502.3L1489.8 2501.4L1532.0 2500.4L1570.8 2499.0L1606.8 2497.4L1640.2 2495.3L1671.5 2492.6L1700.9 2489.3L1728.6 2485.1L1754.9 2479.8L1779.7 2473.2L1803.4 2465.0L1826.0 2454.6L1847.5 2441.7L1868.2 2425.8L1887.9 2406.3L1907.0 2382.8L1925.3 2355.2L1942.9 2324.1L1959.9 2291.2L1976.4 2259.6L1992.3 2234.1L2007.7 2219.6L2022.6 2219.6L2037.1 2234.1L2051.1 2259.6L2064.8 2291.2L2078.1 2324.1L2091.0 2355.2L2103.6 2382.8L2115.9 2406.3L2127.8 2425.8L2139.5 2441.7L2150.9 2454.6L2162.1 2465.0L2173.0 2473.2L2183.6 2479.8L2194.1 2485.1L2204.3 2489.3L2214.3 2492.6L2224.1 2495.3L2233.7 2497.4L2243.1 2499.0L2252.3 2500.4L2261.4 2501.4L2270.3 2502.3L2279.0 2502.9L2287.6 2503.5L2296.1 2503.9L2304.3 2504.2L2312.5 2504.5" fill="none" stroke="#ffc24a" stroke-width="7.0" stroke-linejoin="round"/><path d="M1443.6 2502.3h.01M1489.8 2501.4h.01M1532.0 2500.4h.01M1570.8 2499.0h.01M1606.8 2497.4h.01M1640.2 2495.3h.01M1671.5 2492.6h.01M1700.9 2489.3h.01M1728.6 2485.1h.01M1754.9 2479.8h.01M1779.7 2473.2h.01M1803.4 2465.0h.01M1826.0 2454.6h.01M1847.5 2441.7h.01M1868.2 2425.8h.01M1887.9 2406.3h.01M1907.0 2382.8h.01M1925.3 2355.2h.01M1942.9 2324.1h.01M1959.9 2291.2h.01M1976.4 2259.6h.01M1992.3 2234.1h.01M2007.7 2219.6h.01M2022.6 2219.6h.01M2037.1 2234.1h.01M2051.1 2259.6h.01M2064.8 2291.2h.01M2078.1 2324.1h.01M2091.0 2355.2h.01M2103.6 2382.8h.01M2115.9 2406.3h.01M2127.8 2425.8h.01M2139.5 2441.7h.01M2150.9 2454.6h.01M2162.1 2465.0h.01M2173.0 2473.2h.01M2183.6 2479.8h.01M2194.1 2485.1h.01M2204.3 2489.3h.01M2214.3 2492.6h.01M2224.1 2495.3h.01M2233.7 2497.4h.01M2243.1 2499.0h.01M2252.3 2500.4h.01M2261.4 2501.4h.01M2270.3 2502.3h.01M2279.0 2502.9h.01M2287.6 2503.5h.01M2296.1 2503.9h.01M2304.3 2504.2h.01M2312.5 2504.5h.01" fill="none" stroke="#ffc24a" stroke-width="22.0" stroke-linecap="round" stroke-dasharray="0 10000"/></g>
<g><path d="M1443.6 2505.4L1489.8 2505.4L1532.0 2505.3L1570.8 2505.3L1606.8 2505.2L1640.2 2505.1L1671.5 2505.0L1700.9 2504.9L1728.6 2504.8L1754.9 2504.6L1779.7 2504.4L1803.4 2504.1L1826.0 2503.7L1847.5 2503.2L1868.2 2502.7L1887.9 2502.0L1907.0 2501.2L1925.3 2500.2L1942.9 2499.1L1959.9 2497.9L1976.4 2496.8L1992.3 2495.9L2007.7 2495.4L2022.6 2495.4L2037.1 2495.9L2051.1 2496.8L2064.8 2497.9L2078.1 2499.1L2091.0 2500.2L2103.6 2501.2L2115.9 2502.0L2127.8 2502.7L2139.5 2503.2L2150.9 2503.7L2162.1 2504.1L2173.0 2504.4L2183.6 2504.6L2194.1 2504.8L2204.3 2504.9L2214.3 2505.0L2224.1 2505.1L2233.7 2505.2L2243.1 2505.3L2252.3 2505.3L2261.4 2505.4L2270.3 2505.4L2279.0 2505.4L2287.6 2505.4L2296.1 2505.4L2304.3 2505.5L2312.5 2505.5" fill="none" stroke="#000" stroke-width="7.0" stroke-linejoin="round"/><path d="M1443.6 2505.4h.01M1489.8 2505.4h.01M1532.0 2505.3h.01M1570.8 2505.3h.01M1606.8 2505.2h.01M1640.2 2505.1h.01M1671.5 2505.0h.01M1700.9 2504.9h.01M1728.6 2504.8h.01M1754.9 2504.6h.01M1779.7 2504.4h.01M1803.4 2504.1h.01M1826.0 2503.7h.01M1847.5 2503.2h.01M1868.2 2502.7h.01M1887.9 2502.0h.01M1907.0 2501.2h.01M1925.3 2500.2h.01M1942.9 2499.1h.01M1959.9 2497.9h.01M1976.4 2496.8h.01M1992.3 2495.9h.01M2007.7 2495.4h.01M2022.6 2495.4h.01M2037.1 2495.9h.01M2051.1 2496.8h.01M2064.8 2497.9h.01M2078.1 2499.1h.01M2091.0 2500.2h.01M2103.6 2501.2h.01M2115.9 2502.0h.01M2127.8 2502.7h.01M2139.5 2503.2h.01M2150.9 2503.7h.01M2162.1 2504.1h.01M2173.0 2504.4h.01M2183.6 2504.6h.01M2194.1 2504.8h.01M2204.3 2504.9h.01M2214.3 2505.0h.01M2224.1 2505.1h.01M2233.7 2505.2h.01M2243.1 2505.3h.01M2252.3 2505.3h.01M2261.4 2505.4h.01M2270.3 2505.4h.01M2279.0 2505.4h.01M2287.6 2505.4h.01M2296.1 2505.4h.01M2304.3 2505.5h.01M2312.5 2505.5h.01" fill="none" stroke="#000" stroke-width="22.0" stroke-linecap="round" stroke-dasharray="0 10000"/></g>
<rect x="1464.2" y="1806.9" width="310.3" height="154.7" fill="#fff" stroke="#222222" stroke-width="3.1"/>
<path d="M1472.4 1834.1H1549.2" stroke="#fd6f6f" stroke-width="8"/>
<circle cx="1510.6" cy="1834.1" r="11.3" fill="#fd6f6f"/>
<text x="1558.5" y="1849.1" font-size="42.0" font-family='"Liberation Sans",sans-serif' text-anchor="start" fill="#111" >GRIN-EBM</text>
<path d="M1472.4 1884.1H1549.2" stroke="#ffc24a" stroke-width="8"/>
<circle cx="1510.6" cy="1884.1" r="11.3" fill="#ffc24a"/>
<text x="1558.5" y="1899.1" font-size="42.0" font-family='"Liberation Sans",sans-serif' text-anchor="start" fill="#111" >GRIN</text>
<path d="M1472.4 1933.8H1549.2" stroke="#000" stroke-width="8"/>
<circle cx="1510.6" cy="1933.8" r="11.3" fill="#000"/>
<text x="1558.5" y="1948.8" font-size="42.0" font-family='"Liberation Sans",sans-serif' text-anchor="start" fill="#111" >Bare</text>
</svg></div></body></html>
